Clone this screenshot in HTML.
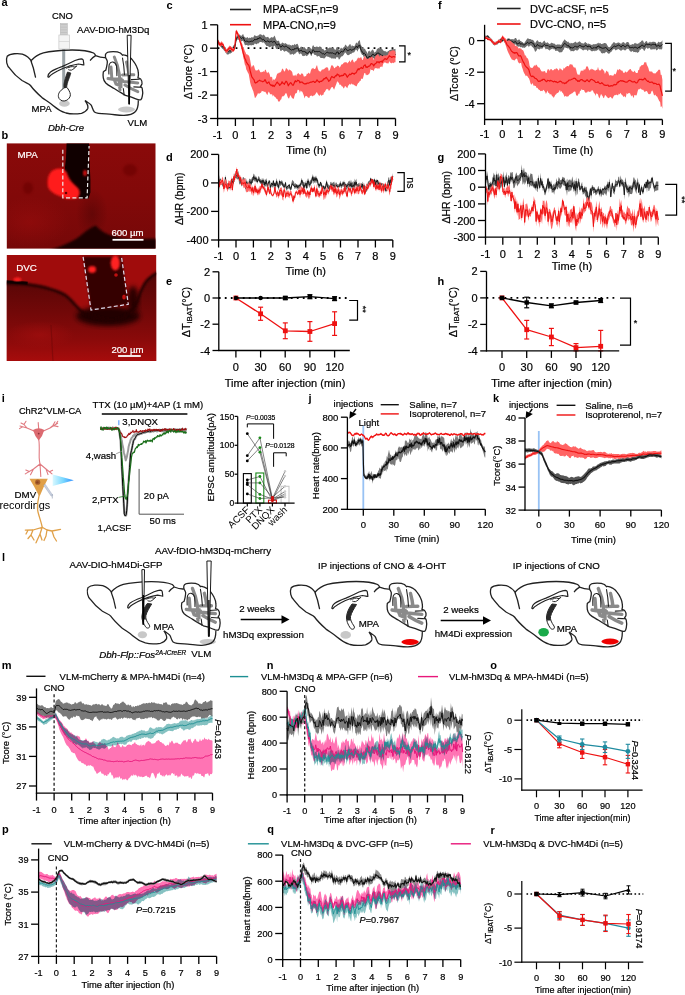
<!DOCTYPE html><html><head><meta charset="utf-8"><style>html,body{margin:0;padding:0;background:#fff;}body{width:685px;height:995px;overflow:hidden;font-family:"Liberation Sans", sans-serif;}svg{position:absolute;left:0;top:0;display:block;}</style></head><body><svg width="685" height="995" viewBox="0 0 685 995" font-family='"Liberation Sans", sans-serif'>
<rect width="685" height="995" fill="#fff"/>
<text x="1.5" y="5.8" font-size="11" font-weight="bold">a</text>
<text x="1.5" y="139" font-size="11" font-weight="bold">b</text>
<text x="166.4" y="8.8" font-size="11" font-weight="bold">c</text>
<text x="165.9" y="161" font-size="11" font-weight="bold">d</text>
<text x="166.1" y="284.9" font-size="11" font-weight="bold">e</text>
<text x="437.9" y="8.8" font-size="11" font-weight="bold">f</text>
<text x="437.6" y="160.6" font-size="11" font-weight="bold">g</text>
<text x="437.4" y="284.9" font-size="11" font-weight="bold">h</text>
<text x="1.7" y="401.8" font-size="11" font-weight="bold">i</text>
<text x="308.5" y="401.6" font-size="11" font-weight="bold">j</text>
<text x="493.1" y="401.8" font-size="11" font-weight="bold">k</text>
<text x="1.9" y="560.8" font-size="11" font-weight="bold">l</text>
<text x="1.8" y="669.2" font-size="11" font-weight="bold">m</text>
<text x="266.8" y="669.2" font-size="11" font-weight="bold">n</text>
<text x="490.3" y="669.4" font-size="11" font-weight="bold">o</text>
<text x="2.1" y="833" font-size="11" font-weight="bold">p</text>
<text x="267.2" y="833" font-size="11" font-weight="bold">q</text>
<text x="490.4" y="833.6" font-size="11" font-weight="bold">r</text>
<line x1="217.6" y1="48.2" x2="395.5" y2="48.2" stroke="#000" stroke-width="1.8" stroke-dasharray="1.8 4.2"/>
<polygon points="217.6,38.8 218.4,41.0 219.2,41.6 219.9,42.7 220.7,43.2 221.5,44.3 222.3,44.9 223.0,45.1 223.8,46.3 224.6,46.8 225.4,48.1 226.1,48.7 226.9,49.7 227.7,49.6 228.5,49.5 229.3,48.7 230.0,49.1 230.8,48.8 231.6,48.3 232.4,47.5 233.1,45.9 233.9,45.0 234.7,45.0 235.5,41.6 236.2,36.9 237.0,35.7 237.8,34.8 238.6,35.6 239.4,34.2 240.1,35.1 240.9,35.7 241.7,35.7 242.5,34.6 243.2,34.0 244.0,36.4 244.8,37.0 245.6,37.7 246.3,37.9 247.1,37.1 247.9,37.6 248.7,38.5 249.5,37.4 250.2,37.9 251.0,37.8 251.8,37.0 252.6,37.5 253.3,37.5 254.1,35.8 254.9,35.0 255.7,36.1 256.4,36.1 257.2,36.3 258.0,35.2 258.8,35.4 259.6,34.2 260.3,34.2 261.1,34.4 261.9,35.0 262.7,35.6 263.4,34.4 264.2,34.9 265.0,36.2 265.8,37.2 266.5,37.3 267.3,37.0 268.1,36.8 268.9,37.9 269.6,38.8 270.4,38.0 271.2,36.9 272.0,37.6 272.8,37.5 273.5,37.2 274.3,35.6 275.1,36.8 275.9,39.2 276.6,40.4 277.4,41.0 278.2,40.7 279.0,40.8 279.7,43.1 280.5,44.1 281.3,43.7 282.1,42.6 282.9,42.7 283.6,43.2 284.4,43.7 285.2,43.0 286.0,43.5 286.7,43.9 287.5,44.5 288.3,44.9 289.1,43.9 289.8,45.4 290.6,44.9 291.4,45.8 292.2,45.1 293.0,44.7 293.7,45.4 294.5,43.8 295.3,45.0 296.1,44.3 296.8,44.1 297.6,43.8 298.4,45.7 299.2,48.2 299.9,48.1 300.7,46.8 301.5,46.6 302.3,47.9 303.1,48.7 303.8,47.1 304.6,47.3 305.4,48.2 306.2,49.5 306.9,49.1 307.7,49.0 308.5,47.8 309.3,46.9 310.0,47.4 310.8,48.5 311.6,49.4 312.4,46.3 313.2,45.0 313.9,46.2 314.7,47.7 315.5,47.0 316.3,46.5 317.0,46.8 317.8,46.8 318.6,47.2 319.4,46.4 320.1,46.3 320.9,47.4 321.7,48.7 322.5,49.1 323.3,48.8 324.0,50.2 324.8,50.5 325.6,49.9 326.4,48.8 327.1,47.7 327.9,48.8 328.7,47.9 329.5,47.6 330.2,47.5 331.0,47.7 331.8,48.2 332.6,48.1 333.4,48.3 334.1,48.5 334.9,49.8 335.7,49.7 336.5,47.2 337.2,47.2 338.0,46.8 338.8,49.8 339.6,49.7 340.3,48.7 341.1,47.5 341.9,48.5 342.7,48.4 343.5,48.0 344.2,47.1 345.0,45.2 345.8,44.6 346.6,46.0 347.3,46.7 348.1,46.6 348.9,45.2 349.7,44.3 350.4,44.1 351.2,46.7 352.0,45.0 352.8,46.0 353.5,46.0 354.3,46.5 355.1,45.0 355.9,43.0 356.7,42.5 357.4,43.8 358.2,41.4 359.0,40.7 359.8,40.1 360.5,44.0 361.3,45.8 362.1,46.9 362.9,47.9 363.6,49.2 364.4,48.6 365.2,49.2 366.0,50.9 366.8,51.7 367.5,54.1 368.3,51.0 369.1,51.6 369.9,50.3 370.6,52.5 371.4,50.7 372.2,49.8 373.0,49.5 373.7,51.1 374.5,52.7 375.3,51.7 376.1,51.6 376.9,49.0 377.6,48.8 378.4,47.8 379.2,48.8 380.0,48.6 380.7,48.3 381.5,48.9 382.3,49.0 383.1,50.4 383.8,50.8 384.6,51.2 385.4,51.2 386.2,51.6 387.0,52.5 387.7,51.2 388.5,51.1 389.3,50.3 390.1,50.1 390.8,49.7 391.6,49.6 392.4,48.4 393.2,49.5 393.9,48.8 394.7,49.3 395.5,48.8 395.5,55.5 394.7,57.2 393.9,58.4 393.2,59.1 392.4,59.3 391.6,60.6 390.8,60.8 390.1,61.0 389.3,59.6 388.5,60.0 387.7,59.9 387.0,60.3 386.2,60.5 385.4,60.3 384.6,61.3 383.8,61.4 383.1,61.1 382.3,60.0 381.5,60.4 380.7,58.8 380.0,58.7 379.2,58.0 378.4,57.2 377.6,57.7 376.9,57.4 376.1,59.3 375.3,59.1 374.5,59.5 373.7,58.3 373.0,58.0 372.2,58.3 371.4,60.8 370.6,62.6 369.9,60.1 369.1,61.6 368.3,61.4 367.5,62.7 366.8,60.5 366.0,58.3 365.2,56.6 364.4,56.4 363.6,56.9 362.9,55.1 362.1,55.1 361.3,53.5 360.5,52.1 359.8,48.2 359.0,48.5 358.2,49.8 357.4,51.7 356.7,50.0 355.9,49.5 355.1,50.8 354.3,52.2 353.5,52.6 352.8,52.8 352.0,52.8 351.2,54.2 350.4,53.7 349.7,54.6 348.9,55.0 348.1,55.3 347.3,55.0 346.6,53.9 345.8,53.0 345.0,52.3 344.2,54.0 343.5,55.1 342.7,56.0 341.9,56.5 341.1,56.6 340.3,58.0 339.6,59.3 338.8,59.5 338.0,56.9 337.2,57.4 336.5,57.0 335.7,58.7 334.9,59.1 334.1,58.1 333.4,58.7 332.6,58.2 331.8,58.8 331.0,58.0 330.2,57.6 329.5,57.5 328.7,56.7 327.9,56.9 327.1,56.2 326.4,56.2 325.6,56.9 324.8,58.2 324.0,58.5 323.3,58.3 322.5,58.1 321.7,58.1 320.9,58.0 320.1,57.4 319.4,56.3 318.6,56.1 317.8,56.2 317.0,56.7 316.3,55.2 315.5,54.9 314.7,55.0 313.9,54.2 313.2,53.0 312.4,53.0 311.6,56.1 310.8,55.6 310.0,53.3 309.3,53.3 308.5,54.6 307.7,55.6 306.9,55.8 306.2,56.3 305.4,55.1 304.6,55.9 303.8,55.8 303.1,56.3 302.3,55.8 301.5,54.0 300.7,53.5 299.9,53.8 299.2,54.4 298.4,52.4 297.6,51.6 296.8,52.2 296.1,52.4 295.3,53.7 294.5,53.8 293.7,54.9 293.0,54.2 292.2,53.8 291.4,54.4 290.6,54.4 289.8,54.5 289.1,52.3 288.3,52.7 287.5,51.7 286.7,51.2 286.0,50.8 285.2,51.2 284.4,51.7 283.6,51.1 282.9,50.0 282.1,50.0 281.3,50.9 280.5,51.1 279.7,49.0 279.0,47.3 278.2,47.6 277.4,49.3 276.6,49.0 275.9,48.4 275.1,46.2 274.3,45.4 273.5,46.7 272.8,47.1 272.0,46.7 271.2,46.3 270.4,47.1 269.6,47.2 268.9,46.9 268.1,46.1 267.3,45.9 266.5,46.0 265.8,45.1 265.0,44.0 264.2,42.8 263.4,42.2 262.7,42.7 261.9,42.3 261.1,41.9 260.3,42.1 259.6,41.9 258.8,43.8 258.0,42.8 257.2,44.1 256.4,44.3 255.7,44.1 254.9,43.3 254.1,44.6 253.3,45.2 252.6,45.0 251.8,45.3 251.0,45.5 250.2,45.1 249.5,45.3 248.7,45.5 247.9,45.7 247.1,45.1 246.3,45.1 245.6,45.3 244.8,44.9 244.0,42.7 243.2,40.9 242.5,40.7 241.7,41.6 240.9,40.9 240.1,39.8 239.4,38.8 238.6,40.1 237.8,39.2 237.0,40.1 236.2,41.3 235.5,46.0 234.7,49.5 233.9,49.3 233.1,50.3 232.4,51.9 231.6,52.7 230.8,53.2 230.0,53.8 229.3,53.6 228.5,54.5 227.7,54.4 226.9,54.6 226.1,53.1 225.4,52.5 224.6,51.0 223.8,50.3 223.0,49.1 222.3,48.8 221.5,47.8 220.7,46.7 219.9,46.0 219.2,45.1 218.4,44.1 217.6,41.8" fill="#6e6e6e"/>
<polyline points="217.6,40.2 218.4,42.3 219.2,43.3 219.9,44.2 220.7,44.7 221.5,45.8 222.3,46.7 223.0,46.9 223.8,48.0 224.6,48.7 225.4,49.9 226.1,50.6 226.9,51.8 227.7,51.4 228.5,51.5 229.3,50.8 230.0,51.3 230.8,51.0 231.6,50.2 232.4,49.5 233.1,48.1 233.9,47.1 234.7,47.1 235.5,43.6 236.2,38.8 237.0,37.7 237.8,36.9 238.6,37.3 239.4,36.1 240.1,37.3 240.9,38.1 241.7,38.5 242.5,37.6 243.2,37.3 244.0,39.3 244.8,41.1 245.6,41.5 246.3,41.2 247.1,41.0 247.9,41.7 248.7,41.9 249.5,41.8 250.2,41.5 251.0,41.5 251.8,41.0 252.6,41.3 253.3,41.0 254.1,40.0 254.9,39.1 255.7,39.7 256.4,39.4 257.2,39.6 258.0,38.0 258.8,38.9 259.6,37.5 260.3,37.8 261.1,38.3 261.9,39.5 262.7,39.8 263.4,39.2 264.2,40.0 265.0,41.2 265.8,41.6 266.5,41.7 267.3,41.1 268.1,40.9 268.9,41.9 269.6,42.0 270.4,41.8 271.2,41.0 272.0,41.8 272.8,42.3 273.5,42.0 274.3,41.0 275.1,42.1 275.9,43.6 276.6,44.7 277.4,45.2 278.2,44.0 279.0,44.2 279.7,45.4 280.5,47.1 281.3,47.0 282.1,45.7 282.9,45.6 283.6,46.5 284.4,46.9 285.2,46.4 286.0,46.1 286.7,46.4 287.5,47.1 288.3,48.1 289.1,47.8 289.8,49.3 290.6,49.4 291.4,50.2 292.2,49.7 293.0,49.5 293.7,50.0 294.5,48.6 295.3,49.0 296.1,48.2 296.8,48.1 297.6,47.8 298.4,49.2 299.2,51.3 299.9,50.7 300.7,50.5 301.5,50.2 302.3,51.6 303.1,52.0 303.8,51.3 304.6,51.6 305.4,51.8 306.2,53.2 306.9,52.9 307.7,53.5 308.5,52.3 309.3,51.4 310.0,51.5 310.8,53.4 311.6,53.9 312.4,50.9 313.2,49.7 313.9,50.7 314.7,51.9 315.5,51.6 316.3,51.3 317.0,52.1 317.8,51.4 318.6,51.5 319.4,51.3 320.1,52.0 320.9,52.5 321.7,53.1 322.5,53.8 323.3,53.5 324.0,54.2 324.8,54.4 325.6,53.4 326.4,52.7 327.1,52.0 327.9,52.6 328.7,52.9 329.5,53.0 330.2,53.0 331.0,52.6 331.8,53.2 332.6,52.9 333.4,53.5 334.1,53.3 334.9,54.4 335.7,54.2 336.5,52.2 337.2,52.3 338.0,51.8 338.8,54.3 339.6,53.4 340.3,52.8 341.1,51.4 341.9,51.7 342.7,52.0 343.5,51.2 344.2,50.1 345.0,48.7 345.8,48.8 346.6,49.5 347.3,50.7 348.1,50.7 348.9,50.0 349.7,49.7 350.4,49.4 351.2,50.4 352.0,49.6 352.8,49.9 353.5,49.3 354.3,49.3 355.1,47.8 355.9,46.4 356.7,46.5 357.4,47.9 358.2,46.0 359.0,45.4 359.8,45.3 360.5,48.7 361.3,50.4 362.1,51.9 362.9,52.4 363.6,54.0 364.4,53.3 365.2,54.0 366.0,55.9 366.8,57.1 367.5,59.1 368.3,56.9 369.1,57.1 369.9,56.0 370.6,57.8 371.4,56.1 372.2,54.6 373.0,54.1 373.7,54.6 374.5,55.9 375.3,54.7 376.1,55.3 376.9,53.1 377.6,53.2 378.4,52.8 379.2,54.0 380.0,54.1 380.7,54.3 381.5,55.4 382.3,55.3 383.1,56.3 383.8,56.5 384.6,56.9 385.4,56.6 386.2,56.6 387.0,56.7 387.7,55.8 388.5,55.8 389.3,55.5 390.1,56.3 390.8,56.2 391.6,56.8 392.4,55.7 393.2,56.0 393.9,55.4 394.7,55.3 395.5,54.0" fill="none" stroke="#111" stroke-width="1.0" stroke-linejoin="round"/>
<polygon points="217.6,38.7 218.4,39.9 219.2,42.7 219.9,41.9 220.7,42.7 221.5,41.1 222.3,42.6 223.0,42.4 223.8,44.7 224.6,46.7 225.4,48.5 226.1,48.8 226.9,49.3 227.7,47.8 228.5,47.3 229.3,45.6 230.0,46.0 230.8,45.9 231.6,47.3 232.4,47.5 233.1,48.3 233.9,48.2 234.7,45.4 235.5,37.6 236.2,29.4 237.0,30.6 237.8,31.9 238.6,34.0 239.4,36.6 240.1,39.5 240.9,40.9 241.7,42.9 242.5,44.6 243.2,48.0 244.0,48.6 244.8,51.1 245.6,52.4 246.3,54.4 247.1,54.0 247.9,55.2 248.7,55.2 249.5,57.1 250.2,60.3 251.0,65.1 251.8,67.5 252.6,65.8 253.3,64.9 254.1,66.0 254.9,69.0 255.7,70.4 256.4,70.6 257.2,70.3 258.0,70.3 258.8,69.0 259.6,70.7 260.3,71.9 261.1,72.4 261.9,71.7 262.7,72.0 263.4,70.9 264.2,72.2 265.0,69.7 265.8,69.7 266.5,72.0 267.3,73.2 268.1,71.8 268.9,72.8 269.6,74.1 270.4,76.9 271.2,77.2 272.0,76.6 272.8,80.9 273.5,78.9 274.3,80.1 275.1,79.1 275.9,78.1 276.6,75.3 277.4,73.6 278.2,73.5 279.0,72.4 279.7,72.8 280.5,72.2 281.3,71.3 282.1,68.7 282.9,68.8 283.6,70.3 284.4,71.7 285.2,70.6 286.0,68.0 286.7,68.5 287.5,69.3 288.3,71.1 289.1,69.3 289.8,70.1 290.6,70.3 291.4,70.9 292.2,72.0 293.0,76.1 293.7,75.2 294.5,75.7 295.3,74.6 296.1,76.4 296.8,74.5 297.6,73.8 298.4,73.0 299.2,74.1 299.9,74.8 300.7,74.7 301.5,73.2 302.3,73.4 303.1,74.2 303.8,76.6 304.6,76.6 305.4,76.3 306.2,75.7 306.9,73.5 307.7,74.1 308.5,72.6 309.3,73.6 310.0,73.7 310.8,70.8 311.6,68.8 312.4,68.6 313.2,67.7 313.9,68.9 314.7,68.9 315.5,68.4 316.3,66.3 317.0,65.1 317.8,68.5 318.6,70.5 319.4,71.2 320.1,71.5 320.9,71.4 321.7,69.8 322.5,69.4 323.3,69.6 324.0,68.9 324.8,68.6 325.6,67.8 326.4,66.9 327.1,68.0 327.9,66.9 328.7,71.0 329.5,70.5 330.2,69.1 331.0,66.2 331.8,65.0 332.6,65.5 333.4,66.5 334.1,68.0 334.9,68.3 335.7,66.7 336.5,66.9 337.2,65.2 338.0,66.3 338.8,65.8 339.6,67.7 340.3,66.8 341.1,64.9 341.9,64.2 342.7,64.2 343.5,63.0 344.2,62.6 345.0,62.2 345.8,62.3 346.6,62.3 347.3,63.6 348.1,62.5 348.9,61.8 349.7,60.2 350.4,62.4 351.2,60.9 352.0,59.8 352.8,59.5 353.5,61.7 354.3,62.7 355.1,60.9 355.9,61.5 356.7,60.1 357.4,58.7 358.2,57.3 359.0,58.5 359.8,57.8 360.5,57.6 361.3,57.3 362.1,59.7 362.9,60.0 363.6,57.4 364.4,56.5 365.2,56.1 366.0,58.9 366.8,58.0 367.5,58.7 368.3,58.9 369.1,58.1 369.9,57.9 370.6,57.3 371.4,56.5 372.2,57.2 373.0,57.6 373.7,60.0 374.5,58.4 375.3,56.6 376.1,55.7 376.9,54.5 377.6,54.6 378.4,54.4 379.2,56.4 380.0,56.3 380.7,55.0 381.5,55.6 382.3,56.6 383.1,55.8 383.8,55.5 384.6,55.4 385.4,55.8 386.2,55.4 387.0,55.0 387.7,54.9 388.5,53.0 389.3,50.9 390.1,51.6 390.8,51.0 391.6,50.7 392.4,50.3 393.2,50.8 393.9,49.8 394.7,50.9 395.5,51.7 395.5,62.2 394.7,62.3 393.9,62.8 393.2,63.2 392.4,62.4 391.6,63.4 390.8,62.8 390.1,62.7 389.3,61.1 388.5,63.4 387.7,63.2 387.0,63.6 386.2,63.0 385.4,62.4 384.6,62.4 383.8,62.8 383.1,64.3 382.3,67.3 381.5,66.4 380.7,66.7 380.0,67.3 379.2,68.9 378.4,68.2 377.6,68.7 376.9,68.0 376.1,68.5 375.3,67.9 374.5,68.8 373.7,71.2 373.0,70.2 372.2,70.0 371.4,70.1 370.6,69.0 369.9,72.5 369.1,73.9 368.3,74.4 367.5,75.2 366.8,74.6 366.0,75.4 365.2,72.9 364.4,73.0 363.6,75.8 362.9,78.4 362.1,79.0 361.3,78.6 360.5,80.9 359.8,81.0 359.0,82.5 358.2,83.1 357.4,84.3 356.7,86.3 355.9,86.3 355.1,85.4 354.3,85.2 353.5,84.4 352.8,84.2 352.0,84.4 351.2,83.2 350.4,85.0 349.7,83.8 348.9,84.9 348.1,85.8 347.3,88.3 346.6,87.5 345.8,86.4 345.0,85.9 344.2,88.0 343.5,88.4 342.7,86.6 341.9,86.5 341.1,85.3 340.3,84.5 339.6,85.0 338.8,82.6 338.0,82.6 337.2,81.1 336.5,83.6 335.7,85.6 334.9,87.6 334.1,89.7 333.4,88.6 332.6,87.1 331.8,87.1 331.0,88.0 330.2,89.6 329.5,90.4 328.7,90.7 327.9,88.7 327.1,89.5 326.4,89.1 325.6,90.4 324.8,92.1 324.0,92.6 323.3,95.1 322.5,94.7 321.7,95.9 320.9,94.7 320.1,94.5 319.4,96.3 318.6,95.1 317.8,94.0 317.0,92.2 316.3,92.5 315.5,93.9 314.7,94.9 313.9,95.8 313.2,95.4 312.4,96.6 311.6,95.5 310.8,95.8 310.0,96.1 309.3,98.1 308.5,97.8 307.7,97.3 306.9,96.0 306.2,96.2 305.4,96.0 304.6,98.4 303.8,95.5 303.1,93.7 302.3,91.8 301.5,91.5 300.7,90.4 299.9,92.9 299.2,90.5 298.4,89.8 297.6,89.8 296.8,93.0 296.1,93.2 295.3,93.6 294.5,95.9 293.7,98.9 293.0,98.5 292.2,98.2 291.4,97.1 290.6,95.0 289.8,96.4 289.1,98.4 288.3,98.3 287.5,96.4 286.7,93.9 286.0,92.8 285.2,94.0 284.4,95.5 283.6,96.1 282.9,96.7 282.1,95.9 281.3,99.2 280.5,99.7 279.7,101.4 279.0,101.4 278.2,101.5 277.4,99.0 276.6,99.0 275.9,97.8 275.1,97.0 274.3,96.6 273.5,95.1 272.8,96.6 272.0,94.1 271.2,94.4 270.4,94.2 269.6,93.3 268.9,91.6 268.1,92.8 267.3,95.2 266.5,93.8 265.8,92.4 265.0,91.6 264.2,91.9 263.4,91.2 262.7,91.2 261.9,90.8 261.1,92.5 260.3,92.9 259.6,93.4 258.8,93.8 258.0,93.1 257.2,94.9 256.4,96.3 255.7,97.6 254.9,98.0 254.1,94.4 253.3,91.3 252.6,89.8 251.8,87.5 251.0,85.7 250.2,82.8 249.5,78.5 248.7,74.0 247.9,72.8 247.1,71.0 246.3,69.5 245.6,65.9 244.8,64.4 244.0,60.2 243.2,57.3 242.5,52.8 241.7,50.2 240.9,46.8 240.1,43.9 239.4,41.2 238.6,38.4 237.8,36.0 237.0,34.5 236.2,32.9 235.5,40.7 234.7,48.1 233.9,51.5 233.1,52.1 232.4,51.4 231.6,51.4 230.8,49.9 230.0,49.9 229.3,49.5 228.5,51.0 227.7,51.8 226.9,53.2 226.1,52.5 225.4,52.2 224.6,50.0 223.8,48.3 223.0,45.8 222.3,46.2 221.5,45.3 220.7,47.0 219.9,45.5 219.2,46.3 218.4,43.7 217.6,42.9" fill="#ff6464"/>
<polyline points="217.6,40.6 218.4,41.8 219.2,44.6 219.9,43.8 220.7,45.0 221.5,43.3 222.3,44.5 223.0,44.4 223.8,46.8 224.6,48.6 225.4,50.4 226.1,50.7 226.9,51.0 227.7,49.7 228.5,49.1 229.3,47.8 230.0,48.2 230.8,48.0 231.6,49.5 232.4,49.6 233.1,50.3 233.9,50.1 234.7,47.0 235.5,39.3 236.2,31.1 237.0,32.5 237.8,33.9 238.6,36.2 239.4,38.9 240.1,41.5 240.9,43.7 241.7,46.4 242.5,49.0 243.2,53.1 244.0,55.2 244.8,58.3 245.6,59.5 246.3,62.2 247.1,63.1 247.9,64.5 248.7,65.0 249.5,67.6 250.2,70.9 251.0,74.0 251.8,76.9 252.6,77.8 253.3,78.8 254.1,79.8 254.9,82.6 255.7,83.1 256.4,82.4 257.2,82.2 258.0,81.1 258.8,80.7 259.6,80.2 260.3,80.8 261.1,81.0 261.9,81.3 262.7,81.8 263.4,81.5 264.2,81.0 265.0,79.6 265.8,81.1 266.5,82.7 267.3,83.4 268.1,82.4 268.9,81.9 269.6,83.8 270.4,84.7 271.2,85.6 272.0,84.8 272.8,86.3 273.5,85.3 274.3,86.5 275.1,85.2 275.9,84.0 276.6,82.7 277.4,82.1 278.2,83.5 279.0,83.9 279.7,85.5 280.5,84.3 281.3,83.8 282.1,81.7 282.9,83.2 283.6,83.3 284.4,84.3 285.2,82.6 286.0,81.2 286.7,81.7 287.5,83.4 288.3,85.8 289.1,84.4 289.8,83.5 290.6,82.6 291.4,83.3 292.2,84.7 293.0,85.3 293.7,84.4 294.5,82.2 295.3,80.7 296.1,81.8 296.8,81.5 297.6,80.2 298.4,80.5 299.2,81.1 299.9,82.8 300.7,82.0 301.5,82.2 302.3,82.2 303.1,83.2 303.8,83.4 304.6,84.0 305.4,83.7 306.2,83.9 306.9,83.1 307.7,83.2 308.5,83.2 309.3,82.8 310.0,82.4 310.8,82.2 311.6,82.2 312.4,81.7 313.2,81.3 313.9,81.6 314.7,82.5 315.5,82.1 316.3,81.2 317.0,79.8 317.8,81.0 318.6,81.5 319.4,82.4 320.1,81.3 320.9,81.3 321.7,81.3 322.5,80.1 323.3,80.1 324.0,78.6 324.8,78.9 325.6,77.8 326.4,77.4 327.1,78.7 327.9,79.4 328.7,81.4 329.5,80.6 330.2,80.0 331.0,77.8 331.8,76.5 332.6,77.1 333.4,77.3 334.1,77.9 334.9,76.7 335.7,75.7 336.5,75.8 337.2,74.0 338.0,74.9 338.8,74.8 339.6,76.7 340.3,76.1 341.1,75.3 341.9,76.0 342.7,75.3 343.5,75.5 344.2,73.8 345.0,73.7 345.8,74.4 346.6,75.9 347.3,77.3 348.1,76.0 348.9,75.2 349.7,74.1 350.4,74.6 351.2,74.2 352.0,73.2 352.8,73.4 353.5,73.6 354.3,74.2 355.1,73.2 355.9,73.0 356.7,71.6 357.4,70.0 358.2,68.7 359.0,69.8 359.8,68.5 360.5,68.2 361.3,67.4 362.1,68.5 362.9,68.4 363.6,66.1 364.4,65.4 365.2,64.8 366.0,67.4 366.8,66.8 367.5,67.3 368.3,66.4 369.1,66.2 369.9,65.8 370.6,64.2 371.4,63.6 372.2,64.0 373.0,64.4 373.7,65.9 374.5,64.5 375.3,63.6 376.1,63.2 376.9,61.7 377.6,62.2 378.4,61.8 379.2,62.8 380.0,61.7 380.7,61.6 381.5,61.2 382.3,62.3 383.1,60.3 383.8,59.9 384.6,58.9 385.4,58.7 386.2,59.4 387.0,59.1 387.7,58.2 388.5,57.1 389.3,55.7 390.1,56.5 390.8,56.5 391.6,57.3 392.4,57.1 393.2,56.6 393.9,56.7 394.7,56.9 395.5,57.3" fill="none" stroke="#ee1111" stroke-width="1.2" stroke-linejoin="round"/>
<line x1="217.6" y1="24.8" x2="217.6" y2="119.2" stroke="#000" stroke-width="1.3"/>
<line x1="216.9" y1="118.5" x2="395.5" y2="118.5" stroke="#000" stroke-width="1.3"/>
<line x1="210.1" y1="24.8" x2="217.6" y2="24.8" stroke="#000" stroke-width="1.3"/>
<text x="207.6" y="28.7" font-size="11" text-anchor="end" fill="#000" stroke="#000" stroke-width="0.2">1</text>
<line x1="210.1" y1="48.2" x2="217.6" y2="48.2" stroke="#000" stroke-width="1.3"/>
<text x="207.6" y="52.2" font-size="11" text-anchor="end" fill="#000" stroke="#000" stroke-width="0.2">0</text>
<line x1="210.1" y1="71.6" x2="217.6" y2="71.6" stroke="#000" stroke-width="1.3"/>
<text x="207.6" y="75.6" font-size="11" text-anchor="end" fill="#000" stroke="#000" stroke-width="0.2">-1</text>
<line x1="210.1" y1="95.1" x2="217.6" y2="95.1" stroke="#000" stroke-width="1.3"/>
<text x="207.6" y="99.0" font-size="11" text-anchor="end" fill="#000" stroke="#000" stroke-width="0.2">-2</text>
<line x1="210.1" y1="118.5" x2="217.6" y2="118.5" stroke="#000" stroke-width="1.3"/>
<text x="207.6" y="122.5" font-size="11" text-anchor="end" fill="#000" stroke="#000" stroke-width="0.2">-3</text>
<line x1="217.6" y1="118.5" x2="217.6" y2="126.0" stroke="#000" stroke-width="1.3"/>
<text x="217.6" y="138.7" font-size="11" text-anchor="middle" fill="#000" stroke="#000" stroke-width="0.2">-1</text>
<line x1="235.4" y1="118.5" x2="235.4" y2="126.0" stroke="#000" stroke-width="1.3"/>
<text x="235.4" y="138.7" font-size="11" text-anchor="middle" fill="#000" stroke="#000" stroke-width="0.2">0</text>
<line x1="253.2" y1="118.5" x2="253.2" y2="126.0" stroke="#000" stroke-width="1.3"/>
<text x="253.2" y="138.7" font-size="11" text-anchor="middle" fill="#000" stroke="#000" stroke-width="0.2">1</text>
<line x1="271.0" y1="118.5" x2="271.0" y2="126.0" stroke="#000" stroke-width="1.3"/>
<text x="271.0" y="138.7" font-size="11" text-anchor="middle" fill="#000" stroke="#000" stroke-width="0.2">2</text>
<line x1="288.8" y1="118.5" x2="288.8" y2="126.0" stroke="#000" stroke-width="1.3"/>
<text x="288.8" y="138.7" font-size="11" text-anchor="middle" fill="#000" stroke="#000" stroke-width="0.2">3</text>
<line x1="306.5" y1="118.5" x2="306.5" y2="126.0" stroke="#000" stroke-width="1.3"/>
<text x="306.5" y="138.7" font-size="11" text-anchor="middle" fill="#000" stroke="#000" stroke-width="0.2">4</text>
<line x1="324.3" y1="118.5" x2="324.3" y2="126.0" stroke="#000" stroke-width="1.3"/>
<text x="324.3" y="138.7" font-size="11" text-anchor="middle" fill="#000" stroke="#000" stroke-width="0.2">5</text>
<line x1="342.1" y1="118.5" x2="342.1" y2="126.0" stroke="#000" stroke-width="1.3"/>
<text x="342.1" y="138.7" font-size="11" text-anchor="middle" fill="#000" stroke="#000" stroke-width="0.2">6</text>
<line x1="359.9" y1="118.5" x2="359.9" y2="126.0" stroke="#000" stroke-width="1.3"/>
<text x="359.9" y="138.7" font-size="11" text-anchor="middle" fill="#000" stroke="#000" stroke-width="0.2">7</text>
<line x1="377.7" y1="118.5" x2="377.7" y2="126.0" stroke="#000" stroke-width="1.3"/>
<text x="377.7" y="138.7" font-size="11" text-anchor="middle" fill="#000" stroke="#000" stroke-width="0.2">8</text>
<line x1="395.5" y1="118.5" x2="395.5" y2="126.0" stroke="#000" stroke-width="1.3"/>
<text x="395.5" y="138.7" font-size="11" text-anchor="middle" fill="#000" stroke="#000" stroke-width="0.2">9</text>
<text x="306.5" y="154.0" font-size="11" text-anchor="middle" fill="#000" stroke="#000" stroke-width="0.2">Time (h)</text>
<text transform="translate(191.6,71.7) rotate(-90)" font-size="10.6" text-anchor="middle" fill="#000" stroke="#000" stroke-width="0.2">ΔTcore (°C)</text>
<line x1="230.0" y1="9.5" x2="251.0" y2="9.5" stroke="#222" stroke-width="1.6"/>
<text x="263.0" y="12.5" font-size="11" text-anchor="start" fill="#000" stroke="#000" stroke-width="0.2">MPA-aCSF,n=9</text>
<line x1="230.0" y1="24.7" x2="251.0" y2="24.7" stroke="#ee1111" stroke-width="1.6"/>
<text x="263.0" y="28.7" font-size="11" text-anchor="start" fill="#000" stroke="#000" stroke-width="0.2">MPA-CNO,n=9</text>
<polyline points="399.0,45.9 405.0,45.9 405.0,61.9 399.0,61.9" fill="none" stroke="#000" stroke-width="1.2"/>
<text x="409.3" y="57.5" font-size="9" text-anchor="middle" fill="#000" stroke="#000" stroke-width="0.2">*</text>
<polygon points="484.6,33.8 485.4,36.1 486.2,35.8 486.9,35.4 487.7,35.0 488.5,35.8 489.3,36.7 490.0,37.4 490.8,38.0 491.6,39.0 492.4,39.7 493.1,41.2 493.9,41.5 494.7,42.1 495.5,41.8 496.2,41.8 497.0,41.1 497.8,41.5 498.6,40.1 499.4,39.5 500.1,38.6 500.9,38.4 501.7,39.0 502.5,38.8 503.2,37.7 504.0,38.4 504.8,39.8 505.6,41.6 506.3,40.2 507.1,39.5 507.9,38.1 508.7,38.6 509.4,38.6 510.2,39.1 511.0,39.5 511.8,38.9 512.6,39.3 513.3,39.3 514.1,39.4 514.9,38.0 515.7,37.9 516.4,38.6 517.2,40.6 518.0,39.9 518.8,39.4 519.5,39.4 520.3,41.0 521.1,41.0 521.9,42.0 522.6,41.9 523.4,43.1 524.2,43.3 525.0,42.0 525.8,40.8 526.5,39.7 527.3,38.4 528.1,38.3 528.9,39.1 529.6,38.9 530.4,38.9 531.2,39.4 532.0,39.9 532.7,39.8 533.5,40.6 534.3,41.7 535.1,43.6 535.8,42.0 536.6,41.1 537.4,39.9 538.2,41.2 538.9,41.9 539.7,42.1 540.5,41.8 541.3,42.4 542.1,43.2 542.8,42.0 543.6,41.2 544.4,40.5 545.2,42.1 545.9,43.1 546.7,42.7 547.5,42.3 548.3,43.1 549.0,43.7 549.8,43.9 550.6,43.5 551.4,42.6 552.1,43.2 552.9,43.0 553.7,43.8 554.5,43.5 555.3,44.8 556.0,44.5 556.8,44.9 557.6,44.3 558.4,44.4 559.1,44.5 559.9,44.4 560.7,45.1 561.5,44.5 562.2,43.1 563.0,41.5 563.8,40.5 564.6,39.3 565.3,40.1 566.1,41.0 566.9,41.2 567.7,42.3 568.5,41.6 569.2,43.6 570.0,42.6 570.8,43.7 571.6,42.7 572.3,43.4 573.1,42.8 573.9,42.9 574.7,42.0 575.4,41.4 576.2,42.5 577.0,42.7 577.8,42.5 578.5,42.1 579.3,41.2 580.1,41.7 580.9,42.5 581.7,43.3 582.4,43.3 583.2,43.4 584.0,43.4 584.8,42.3 585.5,41.9 586.3,43.0 587.1,43.2 587.9,44.4 588.6,43.3 589.4,43.9 590.2,43.9 591.0,45.1 591.7,44.7 592.5,44.7 593.3,44.3 594.1,44.0 594.9,44.4 595.6,43.9 596.4,44.3 597.2,43.1 598.0,43.8 598.7,42.6 599.5,43.5 600.3,42.9 601.1,44.0 601.8,44.0 602.6,43.8 603.4,43.4 604.2,42.9 604.9,43.1 605.7,43.2 606.5,43.8 607.3,45.2 608.1,46.8 608.8,46.9 609.6,47.3 610.4,46.6 611.2,45.5 611.9,44.0 612.7,43.6 613.5,42.3 614.3,42.1 615.0,43.2 615.8,43.2 616.6,43.2 617.4,42.8 618.1,42.6 618.9,42.5 619.7,43.0 620.5,43.4 621.2,43.9 622.0,42.5 622.8,42.5 623.6,41.9 624.4,42.8 625.1,43.7 625.9,43.2 626.7,42.0 627.5,42.0 628.2,42.1 629.0,43.0 629.8,45.2 630.6,44.8 631.3,44.8 632.1,44.3 632.9,44.1 633.7,44.5 634.4,43.2 635.2,42.8 636.0,43.7 636.8,43.4 637.6,44.0 638.3,43.3 639.1,43.5 639.9,42.0 640.7,42.1 641.4,40.8 642.2,40.4 643.0,40.5 643.8,42.4 644.5,43.2 645.3,41.7 646.1,41.2 646.9,41.1 647.6,43.0 648.4,42.8 649.2,42.6 650.0,41.5 650.8,42.5 651.5,42.2 652.3,41.7 653.1,42.0 653.9,41.6 654.6,42.1 655.4,41.9 656.2,43.6 657.0,43.7 657.7,42.7 658.5,41.6 659.3,42.6 660.1,41.9 660.8,42.3 661.6,41.4 662.4,40.3 662.4,48.2 661.6,49.6 660.8,49.4 660.1,49.0 659.3,49.6 658.5,48.4 657.7,49.4 657.0,50.2 656.2,50.3 655.4,48.5 654.6,49.6 653.9,48.9 653.1,49.4 652.3,49.3 651.5,49.5 650.8,49.7 650.0,48.5 649.2,47.8 648.4,48.6 647.6,48.9 646.9,47.5 646.1,48.1 645.3,49.3 644.5,51.0 643.8,50.6 643.0,49.0 642.2,48.8 641.4,48.5 640.7,49.9 639.9,49.3 639.1,51.8 638.3,52.2 637.6,52.9 636.8,51.9 636.0,52.6 635.2,51.9 634.4,51.9 633.7,52.2 632.9,51.2 632.1,50.9 631.3,52.0 630.6,51.5 629.8,51.1 629.0,49.6 628.2,48.8 627.5,48.8 626.7,48.9 625.9,50.0 625.1,50.6 624.4,50.2 623.6,49.5 622.8,49.8 622.0,49.7 621.2,51.0 620.5,50.4 619.7,50.0 618.9,49.2 618.1,49.1 617.4,49.4 616.6,49.8 615.8,50.4 615.0,49.8 614.3,48.8 613.5,49.2 612.7,49.7 611.9,50.9 611.2,52.1 610.4,52.2 609.6,53.6 608.8,53.8 608.1,53.6 607.3,52.7 606.5,51.8 605.7,52.2 604.9,52.7 604.2,53.5 603.4,52.9 602.6,53.4 601.8,53.2 601.1,52.7 600.3,50.9 599.5,50.8 598.7,48.8 598.0,50.6 597.2,49.8 596.4,50.9 595.6,50.4 594.9,51.5 594.1,50.6 593.3,51.0 592.5,51.2 591.7,51.2 591.0,50.9 590.2,49.9 589.4,49.8 588.6,49.6 587.9,51.2 587.1,50.3 586.3,49.6 585.5,49.8 584.8,49.6 584.0,50.0 583.2,50.6 582.4,50.1 581.7,49.3 580.9,48.9 580.1,48.2 579.3,48.2 578.5,49.6 577.8,50.5 577.0,50.3 576.2,50.4 575.4,49.8 574.7,50.5 573.9,51.3 573.1,51.3 572.3,51.1 571.6,50.9 570.8,51.5 570.0,49.7 569.2,49.5 568.5,48.0 567.7,48.4 566.9,48.1 566.1,48.0 565.3,47.5 564.6,47.3 563.8,49.5 563.0,50.3 562.2,52.0 561.5,52.3 560.7,52.3 559.9,52.4 559.1,52.2 558.4,51.4 557.6,50.7 556.8,50.7 556.0,50.8 555.3,50.9 554.5,49.0 553.7,49.4 552.9,48.3 552.1,49.3 551.4,48.9 550.6,49.5 549.8,50.6 549.0,50.2 548.3,49.4 547.5,49.1 546.7,48.7 545.9,49.5 545.2,48.4 544.4,46.7 543.6,47.1 542.8,48.0 542.1,49.0 541.3,48.6 540.5,48.6 539.7,49.4 538.9,49.2 538.2,49.1 537.4,48.5 536.6,50.6 535.8,51.2 535.1,52.1 534.3,49.4 533.5,48.1 532.7,47.3 532.0,46.8 531.2,45.5 530.4,45.5 529.6,45.8 528.9,47.2 528.1,45.7 527.3,45.6 526.5,46.3 525.8,47.1 525.0,47.6 524.2,47.9 523.4,47.6 522.6,47.8 521.9,47.4 521.1,46.8 520.3,47.6 519.5,46.3 518.8,46.7 518.0,46.4 517.2,46.4 516.4,45.4 515.7,44.4 514.9,44.2 514.1,45.5 513.3,45.1 512.6,45.1 511.8,44.1 511.0,43.9 510.2,43.3 509.4,42.5 508.7,41.9 507.9,41.3 507.1,42.3 506.3,43.3 505.6,44.5 504.8,42.6 504.0,41.3 503.2,40.9 502.5,42.1 501.7,42.3 500.9,41.6 500.1,41.7 499.4,42.7 498.6,43.0 497.8,44.5 497.0,44.3 496.2,45.0 495.5,45.0 494.7,45.4 493.9,45.0 493.1,44.7 492.4,43.0 491.6,42.4 490.8,41.3 490.0,40.5 489.3,39.9 488.5,38.8 487.7,38.1 486.9,38.7 486.2,39.0 485.4,39.4 484.6,37.5" fill="#6e6e6e"/>
<polyline points="484.6,35.5 485.4,37.4 486.2,36.8 486.9,36.5 487.7,36.0 488.5,37.1 489.3,38.2 490.0,38.9 490.8,39.4 491.6,40.4 492.4,41.0 493.1,42.6 493.9,42.9 494.7,43.5 495.5,43.2 496.2,43.3 497.0,42.7 497.8,43.0 498.6,41.8 499.4,41.3 500.1,40.2 500.9,40.1 501.7,40.7 502.5,40.5 503.2,39.7 504.0,40.0 504.8,41.3 505.6,43.1 506.3,41.8 507.1,40.9 507.9,39.6 508.7,39.8 509.4,40.0 510.2,40.5 511.0,41.2 511.8,41.0 512.6,41.9 513.3,42.2 514.1,42.7 514.9,41.4 515.7,41.8 516.4,42.7 517.2,44.1 518.0,43.5 518.8,43.3 519.5,42.5 520.3,44.2 521.1,43.7 521.9,44.1 522.6,44.1 523.4,44.8 524.2,45.0 525.0,44.4 525.8,44.0 526.5,43.0 527.3,42.4 528.1,42.6 528.9,43.7 529.6,43.1 530.4,42.6 531.2,42.2 532.0,43.1 532.7,43.0 533.5,43.9 534.3,45.1 535.1,47.1 535.8,46.4 536.6,46.0 537.4,44.4 538.2,45.3 538.9,45.6 539.7,46.1 540.5,46.1 541.3,46.3 542.1,46.9 542.8,45.9 543.6,45.0 544.4,44.3 545.2,45.2 545.9,45.7 546.7,45.4 547.5,45.5 548.3,45.7 549.0,46.4 549.8,47.0 550.6,46.8 551.4,46.3 552.1,46.5 552.9,46.1 553.7,47.2 554.5,46.9 555.3,48.3 556.0,48.1 556.8,47.9 557.6,47.5 558.4,47.6 559.1,47.7 559.9,47.7 560.7,47.9 561.5,47.5 562.2,46.7 563.0,45.2 563.8,44.5 564.6,43.3 565.3,43.8 566.1,44.5 566.9,45.1 567.7,46.0 568.5,45.4 569.2,47.1 570.0,46.6 570.8,48.3 571.6,47.5 572.3,48.0 573.1,47.7 573.9,47.3 574.7,46.6 575.4,45.9 576.2,46.9 577.0,47.1 577.8,47.0 578.5,46.1 579.3,45.5 580.1,45.5 580.9,45.9 581.7,46.4 582.4,46.6 583.2,46.8 584.0,46.8 584.8,46.0 585.5,45.2 586.3,45.8 587.1,46.0 587.9,47.1 588.6,45.9 589.4,46.4 590.2,46.1 591.0,47.9 591.7,48.3 592.5,48.4 593.3,48.0 594.1,47.4 594.9,48.2 595.6,47.6 596.4,48.2 597.2,46.4 598.0,46.8 598.7,45.7 599.5,47.3 600.3,46.9 601.1,48.1 601.8,47.8 602.6,48.3 603.4,48.2 604.2,48.0 604.9,47.8 605.7,47.5 606.5,47.9 607.3,49.2 608.1,50.2 608.8,50.4 609.6,50.6 610.4,49.5 611.2,49.2 611.9,47.9 612.7,47.4 613.5,46.6 614.3,46.0 615.0,46.7 615.8,46.5 616.6,46.1 617.4,45.7 618.1,45.1 618.9,45.1 619.7,45.7 620.5,46.2 621.2,47.2 622.0,45.7 622.8,45.4 623.6,45.4 624.4,46.5 625.1,46.9 625.9,46.6 626.7,45.4 627.5,45.2 628.2,45.5 629.0,46.2 629.8,47.8 630.6,47.7 631.3,47.8 632.1,47.0 632.9,47.7 633.7,48.1 634.4,47.2 635.2,47.0 636.0,47.8 636.8,47.8 637.6,48.5 638.3,47.3 639.1,48.0 639.9,46.2 640.7,46.6 641.4,45.2 642.2,45.2 643.0,45.3 643.8,46.7 644.5,46.6 645.3,45.1 646.1,44.1 646.9,44.0 647.6,44.8 648.4,44.6 649.2,44.5 650.0,44.3 650.8,45.3 651.5,44.9 652.3,44.4 653.1,44.7 653.9,44.1 654.6,44.5 655.4,44.0 656.2,46.2 657.0,46.2 657.7,45.7 658.5,45.0 659.3,46.3 660.1,46.0 660.8,46.0 661.6,45.3 662.4,44.4" fill="none" stroke="#111" stroke-width="1.0" stroke-linejoin="round"/>
<polygon points="484.6,36.0 485.4,36.2 486.2,36.7 486.9,36.5 487.7,37.5 488.5,37.8 489.3,37.9 490.0,37.9 490.8,38.3 491.6,39.4 492.4,40.1 493.1,41.3 493.9,41.6 494.7,42.4 495.5,42.1 496.2,41.7 497.0,40.9 497.8,40.5 498.6,39.3 499.4,40.1 500.1,40.3 500.9,40.5 501.7,37.1 502.5,35.3 503.2,36.1 504.0,37.2 504.8,37.7 505.6,38.6 506.3,39.1 507.1,40.8 507.9,40.7 508.7,40.6 509.4,40.6 510.2,40.6 511.0,41.3 511.8,42.1 512.6,43.1 513.3,43.4 514.1,43.8 514.9,45.3 515.7,46.0 516.4,45.9 517.2,46.5 518.0,47.2 518.8,48.8 519.5,48.1 520.3,48.6 521.1,48.6 521.9,49.8 522.6,50.0 523.4,50.8 524.2,52.9 525.0,55.8 525.8,55.2 526.5,57.6 527.3,57.9 528.1,58.9 528.9,61.5 529.6,65.8 530.4,67.4 531.2,67.8 532.0,68.0 532.7,67.7 533.5,66.6 534.3,65.1 535.1,66.3 535.8,64.7 536.6,64.7 537.4,66.3 538.2,67.6 538.9,67.2 539.7,67.9 540.5,69.7 541.3,71.0 542.1,71.7 542.8,71.2 543.6,71.6 544.4,71.1 545.2,71.6 545.9,73.2 546.7,72.8 547.5,69.6 548.3,69.3 549.0,69.6 549.8,71.1 550.6,69.1 551.4,69.1 552.1,70.1 552.9,70.5 553.7,69.9 554.5,68.9 555.3,69.5 556.0,68.2 556.8,68.6 557.6,69.1 558.4,70.6 559.1,70.1 559.9,67.8 560.7,69.2 561.5,69.2 562.2,70.6 563.0,70.1 563.8,67.6 564.6,68.8 565.3,67.2 566.1,67.0 566.9,66.0 567.7,65.9 568.5,66.4 569.2,65.5 570.0,64.0 570.8,64.4 571.6,64.5 572.3,64.5 573.1,66.2 573.9,67.6 574.7,67.4 575.4,67.6 576.2,69.7 577.0,73.2 577.8,74.7 578.5,74.4 579.3,75.2 580.1,72.9 580.9,70.5 581.7,70.8 582.4,70.4 583.2,71.1 584.0,68.7 584.8,70.0 585.5,69.0 586.3,66.4 587.1,66.2 587.9,66.8 588.6,68.7 589.4,70.7 590.2,69.0 591.0,70.0 591.7,68.5 592.5,69.3 593.3,69.8 594.1,69.7 594.9,70.7 595.6,70.6 596.4,69.7 597.2,69.9 598.0,66.7 598.7,69.6 599.5,70.6 600.3,70.6 601.1,70.1 601.8,68.5 602.6,69.2 603.4,70.2 604.2,71.3 604.9,73.9 605.7,72.2 606.5,70.6 607.3,71.7 608.1,71.4 608.8,74.2 609.6,75.8 610.4,74.9 611.2,75.4 611.9,75.2 612.7,75.8 613.5,75.4 614.3,73.5 615.0,74.6 615.8,74.0 616.6,71.9 617.4,69.1 618.1,70.5 618.9,69.5 619.7,69.1 620.5,69.7 621.2,70.8 622.0,70.3 622.8,71.6 623.6,72.9 624.4,73.0 625.1,71.3 625.9,72.1 626.7,72.4 627.5,71.8 628.2,70.5 629.0,70.2 629.8,69.0 630.6,68.9 631.3,70.3 632.1,71.6 632.9,71.6 633.7,72.2 634.4,70.5 635.2,71.7 636.0,73.0 636.8,73.0 637.6,72.9 638.3,70.1 639.1,70.1 639.9,66.5 640.7,66.6 641.4,65.3 642.2,65.1 643.0,65.2 643.8,64.0 644.5,62.0 645.3,62.6 646.1,62.0 646.9,65.0 647.6,66.2 648.4,68.1 649.2,71.2 650.0,71.4 650.8,71.5 651.5,71.4 652.3,71.8 653.1,73.6 653.9,73.0 654.6,73.5 655.4,73.5 656.2,72.5 657.0,71.7 657.7,71.1 658.5,69.8 659.3,69.8 660.1,69.7 660.8,75.0 661.6,74.8 662.4,79.9 662.4,108.8 661.6,105.9 660.8,107.2 660.1,101.7 659.3,101.3 658.5,99.4 657.7,97.8 657.0,96.3 656.2,96.2 655.4,94.6 654.6,95.4 653.9,95.0 653.1,92.5 652.3,90.6 651.5,91.3 650.8,93.6 650.0,94.1 649.2,94.3 648.4,94.1 647.6,92.6 646.9,90.9 646.1,91.2 645.3,91.5 644.5,92.0 643.8,90.8 643.0,89.5 642.2,90.1 641.4,89.2 640.7,88.5 639.9,88.7 639.1,89.6 638.3,89.2 637.6,91.4 636.8,94.7 636.0,95.7 635.2,95.1 634.4,94.9 633.7,98.2 632.9,96.6 632.1,94.9 631.3,96.5 630.6,94.8 629.8,92.8 629.0,93.5 628.2,93.1 627.5,94.3 626.7,92.9 625.9,96.8 625.1,97.4 624.4,95.7 623.6,97.3 622.8,95.5 622.0,95.3 621.2,93.9 620.5,92.8 619.7,94.4 618.9,93.4 618.1,95.2 617.4,95.3 616.6,94.6 615.8,95.3 615.0,94.8 614.3,95.5 613.5,96.4 612.7,98.5 611.9,98.6 611.2,97.6 610.4,96.8 609.6,97.6 608.8,98.1 608.1,98.3 607.3,97.2 606.5,96.6 605.7,95.3 604.9,95.2 604.2,97.5 603.4,98.3 602.6,96.0 601.8,95.3 601.1,93.8 600.3,96.1 599.5,98.5 598.7,96.9 598.0,94.4 597.2,93.8 596.4,93.2 595.6,96.0 594.9,93.5 594.1,93.6 593.3,91.5 592.5,90.2 591.7,90.3 591.0,91.7 590.2,91.4 589.4,91.9 588.6,91.5 587.9,91.2 587.1,92.4 586.3,92.6 585.5,92.7 584.8,92.0 584.0,90.0 583.2,89.9 582.4,90.1 581.7,88.9 580.9,90.8 580.1,90.7 579.3,93.9 578.5,93.6 577.8,95.7 577.0,95.4 576.2,95.5 575.4,91.8 574.7,91.4 573.9,91.8 573.1,92.4 572.3,93.3 571.6,93.4 570.8,94.1 570.0,94.6 569.2,94.9 568.5,96.3 567.7,96.5 566.9,96.6 566.1,96.4 565.3,95.7 564.6,97.0 563.8,94.9 563.0,93.3 562.2,92.5 561.5,90.9 560.7,92.0 559.9,89.8 559.1,91.6 558.4,92.6 557.6,92.9 556.8,93.3 556.0,94.6 555.3,94.8 554.5,96.4 553.7,98.1 552.9,96.3 552.1,96.5 551.4,94.5 550.6,94.3 549.8,94.5 549.0,92.8 548.3,93.0 547.5,90.5 546.7,92.6 545.9,94.0 545.2,91.9 544.4,91.0 543.6,89.8 542.8,90.4 542.1,91.2 541.3,90.8 540.5,91.3 539.7,89.9 538.9,89.8 538.2,89.1 537.4,87.8 536.6,87.9 535.8,86.0 535.1,86.0 534.3,85.6 533.5,85.7 532.7,83.1 532.0,84.1 531.2,84.7 530.4,82.9 529.6,80.0 528.9,78.2 528.1,77.6 527.3,76.1 526.5,75.4 525.8,76.2 525.0,74.5 524.2,73.3 523.4,71.6 522.6,68.8 521.9,66.9 521.1,63.1 520.3,63.0 519.5,63.5 518.8,62.9 518.0,61.8 517.2,59.0 516.4,58.6 515.7,58.9 514.9,60.2 514.1,60.5 513.3,59.9 512.6,59.8 511.8,59.5 511.0,58.1 510.2,56.8 509.4,54.8 508.7,53.5 507.9,51.7 507.1,49.8 506.3,47.1 505.6,45.0 504.8,42.8 504.0,41.2 503.2,39.8 502.5,38.3 501.7,39.9 500.9,43.4 500.1,43.1 499.4,43.1 498.6,42.1 497.8,43.3 497.0,43.9 496.2,44.4 495.5,44.9 494.7,45.2 493.9,44.4 493.1,44.2 492.4,43.0 491.6,42.4 490.8,41.2 490.0,40.8 489.3,40.5 488.5,40.3 487.7,40.2 486.9,38.9 486.2,39.0 485.4,38.6 484.6,38.4" fill="#ff6464"/>
<polyline points="484.6,37.3 485.4,37.8 486.2,38.5 486.9,38.2 487.7,39.3 488.5,39.3 489.3,39.3 490.0,39.5 490.8,40.2 491.6,41.2 492.4,41.7 493.1,42.8 493.9,43.2 494.7,44.0 495.5,43.8 496.2,43.3 497.0,42.6 497.8,42.0 498.6,41.0 499.4,41.8 500.1,42.1 500.9,42.2 501.7,38.8 502.5,37.0 503.2,38.1 504.0,39.4 504.8,40.4 505.6,41.7 506.3,43.0 507.1,45.0 507.9,45.6 508.7,46.7 509.4,47.3 510.2,48.8 511.0,50.2 511.8,51.5 512.6,51.8 513.3,52.8 514.1,52.5 514.9,53.4 515.7,52.6 516.4,52.6 517.2,53.1 518.0,54.6 518.8,55.8 519.5,56.0 520.3,55.6 521.1,56.6 521.9,58.7 522.6,60.4 523.4,62.2 524.2,63.4 525.0,65.4 525.8,66.3 526.5,67.2 527.3,67.8 528.1,68.7 528.9,69.9 529.6,72.5 530.4,75.0 531.2,76.3 532.0,76.6 532.7,76.0 533.5,76.7 534.3,77.3 535.1,78.4 535.8,78.5 536.6,79.1 537.4,79.9 538.2,81.2 538.9,81.4 539.7,81.0 540.5,81.1 541.3,80.2 542.1,80.4 542.8,79.4 543.6,79.3 544.4,79.3 545.2,80.5 545.9,81.2 546.7,81.7 547.5,80.4 548.3,80.5 549.0,80.6 549.8,81.2 550.6,80.3 551.4,80.7 552.1,81.1 552.9,81.5 553.7,81.9 554.5,81.2 555.3,81.8 556.0,81.6 556.8,82.2 557.6,82.6 558.4,82.1 559.1,81.9 559.9,81.1 560.7,81.4 561.5,81.7 562.2,82.8 563.0,83.0 563.8,82.8 564.6,83.6 565.3,82.9 566.1,83.2 566.9,81.9 567.7,81.6 568.5,80.6 569.2,80.1 570.0,80.0 570.8,79.8 571.6,79.5 572.3,79.0 573.1,78.7 573.9,78.2 574.7,78.3 575.4,78.6 576.2,79.9 577.0,80.2 577.8,81.4 578.5,80.8 579.3,81.4 580.1,80.3 580.9,79.6 581.7,79.7 582.4,79.9 583.2,80.9 584.0,80.8 584.8,81.6 585.5,81.4 586.3,80.4 587.1,79.8 587.9,80.5 588.6,81.5 589.4,81.6 590.2,80.2 591.0,79.5 591.7,79.4 592.5,79.7 593.3,80.2 594.1,80.6 594.9,81.5 595.6,82.5 596.4,82.5 597.2,82.5 598.0,81.6 598.7,82.6 599.5,83.4 600.3,83.7 601.1,83.3 601.8,82.7 602.6,83.7 603.4,84.0 604.2,85.2 604.9,85.0 605.7,85.5 606.5,85.3 607.3,85.2 608.1,85.0 608.8,86.3 609.6,86.2 610.4,86.1 611.2,85.5 611.9,86.0 612.7,85.9 613.5,84.9 614.3,84.4 615.0,84.9 615.8,84.7 616.6,84.2 617.4,82.2 618.1,82.6 618.9,81.4 619.7,81.4 620.5,80.6 621.2,80.7 622.0,81.2 622.8,80.7 623.6,81.5 624.4,81.3 625.1,82.0 625.9,82.2 626.7,82.1 627.5,82.0 628.2,81.1 629.0,80.5 629.8,80.4 630.6,80.7 631.3,81.2 632.1,81.9 632.9,81.9 633.7,82.0 634.4,81.4 635.2,82.1 636.0,82.9 636.8,82.9 637.6,82.1 638.3,80.5 639.1,79.8 639.9,79.2 640.7,79.5 641.4,79.3 642.2,79.9 643.0,79.6 643.8,79.6 644.5,78.2 645.3,78.6 646.1,79.8 646.9,80.7 647.6,81.4 648.4,81.2 649.2,82.2 650.0,82.5 650.8,82.2 651.5,82.0 652.3,82.2 653.1,83.0 653.9,83.7 654.6,83.2 655.4,83.5 656.2,83.8 657.0,84.4 657.7,84.5 658.5,84.2 659.3,84.4 660.1,86.0 660.8,89.8 661.6,92.3 662.4,95.8" fill="none" stroke="#ee1111" stroke-width="1.2" stroke-linejoin="round"/>
<line x1="484.6" y1="24.8" x2="484.6" y2="120.1" stroke="#000" stroke-width="1.3"/>
<line x1="484.0" y1="119.5" x2="662.4" y2="119.5" stroke="#000" stroke-width="1.3"/>
<line x1="477.1" y1="40.6" x2="484.6" y2="40.6" stroke="#000" stroke-width="1.3"/>
<text x="474.6" y="44.6" font-size="11" text-anchor="end" fill="#000" stroke="#000" stroke-width="0.2">0</text>
<line x1="477.1" y1="72.2" x2="484.6" y2="72.2" stroke="#000" stroke-width="1.3"/>
<text x="474.6" y="76.1" font-size="11" text-anchor="end" fill="#000" stroke="#000" stroke-width="0.2">-2</text>
<line x1="477.1" y1="103.7" x2="484.6" y2="103.7" stroke="#000" stroke-width="1.3"/>
<text x="474.6" y="107.7" font-size="11" text-anchor="end" fill="#000" stroke="#000" stroke-width="0.2">-4</text>
<line x1="484.6" y1="119.5" x2="484.6" y2="125.0" stroke="#000" stroke-width="1.3"/>
<text x="484.6" y="138.4" font-size="11" text-anchor="middle" fill="#000" stroke="#000" stroke-width="0.2">-1</text>
<line x1="502.4" y1="119.5" x2="502.4" y2="125.0" stroke="#000" stroke-width="1.3"/>
<text x="502.4" y="138.4" font-size="11" text-anchor="middle" fill="#000" stroke="#000" stroke-width="0.2">0</text>
<line x1="520.2" y1="119.5" x2="520.2" y2="125.0" stroke="#000" stroke-width="1.3"/>
<text x="520.2" y="138.4" font-size="11" text-anchor="middle" fill="#000" stroke="#000" stroke-width="0.2">1</text>
<line x1="537.9" y1="119.5" x2="537.9" y2="125.0" stroke="#000" stroke-width="1.3"/>
<text x="537.9" y="138.4" font-size="11" text-anchor="middle" fill="#000" stroke="#000" stroke-width="0.2">2</text>
<line x1="555.7" y1="119.5" x2="555.7" y2="125.0" stroke="#000" stroke-width="1.3"/>
<text x="555.7" y="138.4" font-size="11" text-anchor="middle" fill="#000" stroke="#000" stroke-width="0.2">3</text>
<line x1="573.5" y1="119.5" x2="573.5" y2="125.0" stroke="#000" stroke-width="1.3"/>
<text x="573.5" y="138.4" font-size="11" text-anchor="middle" fill="#000" stroke="#000" stroke-width="0.2">4</text>
<line x1="591.3" y1="119.5" x2="591.3" y2="125.0" stroke="#000" stroke-width="1.3"/>
<text x="591.3" y="138.4" font-size="11" text-anchor="middle" fill="#000" stroke="#000" stroke-width="0.2">5</text>
<line x1="609.1" y1="119.5" x2="609.1" y2="125.0" stroke="#000" stroke-width="1.3"/>
<text x="609.1" y="138.4" font-size="11" text-anchor="middle" fill="#000" stroke="#000" stroke-width="0.2">6</text>
<line x1="626.8" y1="119.5" x2="626.8" y2="125.0" stroke="#000" stroke-width="1.3"/>
<text x="626.8" y="138.4" font-size="11" text-anchor="middle" fill="#000" stroke="#000" stroke-width="0.2">7</text>
<line x1="644.6" y1="119.5" x2="644.6" y2="125.0" stroke="#000" stroke-width="1.3"/>
<text x="644.6" y="138.4" font-size="11" text-anchor="middle" fill="#000" stroke="#000" stroke-width="0.2">8</text>
<line x1="662.4" y1="119.5" x2="662.4" y2="125.0" stroke="#000" stroke-width="1.3"/>
<text x="662.4" y="138.4" font-size="11" text-anchor="middle" fill="#000" stroke="#000" stroke-width="0.2">9</text>
<text x="573.0" y="154.0" font-size="11" text-anchor="middle" fill="#000" stroke="#000" stroke-width="0.2">Time (h)</text>
<text transform="translate(458.2,73.6) rotate(-90)" font-size="10.6" text-anchor="middle" fill="#000" stroke="#000" stroke-width="0.2">ΔTcore (°C)</text>
<line x1="497.0" y1="8.5" x2="520.6" y2="8.5" stroke="#222" stroke-width="1.6"/>
<text x="530.0" y="12.5" font-size="11" text-anchor="start" fill="#000" stroke="#000" stroke-width="0.2">DVC-aCSF, n=5</text>
<line x1="497.0" y1="24.0" x2="520.6" y2="24.0" stroke="#ee1111" stroke-width="1.6"/>
<text x="530.0" y="28.0" font-size="11" text-anchor="start" fill="#000" stroke="#000" stroke-width="0.2">DVC-CNO, n=5</text>
<polyline points="665.1,43.4 671.3,43.4 671.3,91.2 665.1,91.2" fill="none" stroke="#000" stroke-width="1.2"/>
<text x="674.3" y="74.1" font-size="9" text-anchor="middle" fill="#000" stroke="#000" stroke-width="0.2">*</text>
<polygon points="218.6,174.1 219.4,184.0 220.1,177.7 220.9,179.7 221.6,180.4 222.4,180.8 223.2,184.3 223.9,181.8 224.7,183.1 225.4,174.7 226.2,181.4 227.0,183.2 227.7,183.3 228.5,184.2 229.2,185.3 230.0,182.9 230.8,180.0 231.5,180.8 232.3,177.8 233.1,179.6 233.8,178.3 234.6,173.8 235.3,172.4 236.1,173.2 236.9,172.7 237.6,172.6 238.4,171.0 239.1,177.0 239.9,177.8 240.7,176.9 241.4,181.0 242.2,179.9 242.9,177.0 243.7,177.3 244.5,178.8 245.2,178.0 246.0,185.3 246.7,178.6 247.5,182.8 248.3,183.9 249.0,179.6 249.8,178.4 250.5,179.6 251.3,179.6 252.1,177.3 252.8,176.9 253.6,173.4 254.4,174.6 255.1,177.5 255.9,175.6 256.6,177.8 257.4,179.6 258.2,176.7 258.9,175.9 259.7,178.0 260.4,179.7 261.2,178.2 262.0,184.6 262.7,178.0 263.5,178.8 264.2,182.4 265.0,178.7 265.8,180.3 266.5,177.9 267.3,184.1 268.0,183.1 268.8,180.0 269.6,180.3 270.3,187.0 271.1,183.4 271.8,181.9 272.6,184.3 273.4,180.0 274.1,184.7 274.9,182.1 275.7,184.2 276.4,178.1 277.2,180.7 277.9,182.3 278.7,185.3 279.5,179.1 280.2,181.3 281.0,181.3 281.7,180.0 282.5,181.3 283.3,183.2 284.0,184.3 284.8,184.6 285.5,181.3 286.3,187.4 287.1,186.0 287.8,185.6 288.6,184.7 289.3,183.9 290.1,186.9 290.9,186.5 291.6,182.3 292.4,179.8 293.1,180.8 293.9,181.7 294.7,184.3 295.4,183.1 296.2,184.3 297.0,183.9 297.7,186.7 298.5,184.6 299.2,184.8 300.0,183.2 300.8,182.9 301.5,177.8 302.3,179.9 303.0,180.3 303.8,186.1 304.6,182.1 305.3,183.1 306.1,180.1 306.8,184.9 307.6,178.7 308.4,178.4 309.1,182.4 309.9,180.4 310.6,180.2 311.4,178.2 312.2,176.6 312.9,173.9 313.7,178.8 314.4,176.4 315.2,177.3 316.0,175.4 316.7,177.9 317.5,178.4 318.3,184.3 319.0,183.0 319.8,184.9 320.5,181.2 321.3,182.9 322.1,184.8 322.8,186.3 323.6,184.9 324.3,186.5 325.1,186.2 325.9,183.2 326.6,179.6 327.4,183.5 328.1,184.1 328.9,185.3 329.7,186.1 330.4,182.1 331.2,181.7 331.9,183.6 332.7,182.4 333.5,182.3 334.2,181.5 335.0,184.7 335.7,182.5 336.5,182.5 337.3,184.4 338.0,183.9 338.8,184.8 339.6,183.5 340.3,180.5 341.1,183.4 341.8,183.7 342.6,181.4 343.4,182.1 344.1,180.1 344.9,188.1 345.6,182.1 346.4,184.8 347.2,183.6 347.9,182.5 348.7,180.9 349.4,180.5 350.2,182.4 351.0,179.4 351.7,182.5 352.5,182.4 353.2,180.8 354.0,184.2 354.8,178.6 355.5,181.2 356.3,178.4 357.0,183.8 357.8,183.9 358.6,183.2 359.3,182.4 360.1,185.8 360.9,182.8 361.6,183.8 362.4,181.4 363.1,185.9 363.9,182.4 364.7,185.6 365.4,186.6 366.2,185.9 366.9,186.4 367.7,182.7 368.5,180.8 369.2,181.9 370.0,179.8 370.7,177.3 371.5,179.4 372.3,178.7 373.0,179.2 373.8,182.6 374.5,177.5 375.3,183.2 376.1,178.6 376.8,181.1 377.6,179.3 378.3,182.0 379.1,183.2 379.9,182.0 380.6,183.8 381.4,182.7 382.2,183.1 382.9,183.7 383.7,183.5 384.4,185.4 385.2,185.0 386.0,189.2 386.7,183.7 387.5,184.7 388.2,178.2 389.0,176.7 389.8,181.7 390.5,176.7 391.3,176.7 392.0,177.6 392.8,173.1 392.8,178.7 392.0,183.1 391.3,182.8 390.5,182.8 389.8,187.9 389.0,182.4 388.2,183.5 387.5,189.1 386.7,188.0 386.0,192.9 385.2,189.1 384.4,189.7 383.7,188.4 382.9,188.4 382.2,188.0 381.4,188.0 380.6,189.5 379.9,186.9 379.1,189.2 378.3,187.4 377.6,184.7 376.8,186.4 376.1,184.1 375.3,187.7 374.5,181.7 373.8,186.5 373.0,183.9 372.3,183.3 371.5,183.2 370.7,181.1 370.0,183.7 369.2,184.5 368.5,183.9 367.7,186.8 366.9,191.7 366.2,191.6 365.4,193.2 364.7,192.6 363.9,189.1 363.1,191.8 362.4,186.5 361.6,188.6 360.9,187.7 360.1,189.1 359.3,185.9 358.6,187.3 357.8,188.4 357.0,187.8 356.3,184.0 355.5,187.3 354.8,184.5 354.0,189.5 353.2,187.0 352.5,188.6 351.7,188.9 351.0,185.2 350.2,189.1 349.4,187.0 348.7,187.1 347.9,187.6 347.2,189.1 346.4,190.1 345.6,187.8 344.9,193.0 344.1,184.8 343.4,187.2 342.6,186.1 341.8,187.8 341.1,188.2 340.3,186.1 339.6,187.2 338.8,188.2 338.0,187.4 337.3,188.3 336.5,186.0 335.7,188.6 335.0,191.8 334.2,188.9 333.5,189.1 332.7,189.6 331.9,190.3 331.2,187.2 330.4,188.1 329.7,191.8 328.9,190.4 328.1,188.8 327.4,189.1 326.6,184.1 325.9,187.7 325.1,191.4 324.3,191.1 323.6,188.5 322.8,189.4 322.1,188.7 321.3,186.4 320.5,184.3 319.8,188.5 319.0,187.1 318.3,187.9 317.5,182.4 316.7,183.1 316.0,180.8 315.2,183.5 314.4,182.0 313.7,184.3 312.9,179.5 312.2,182.9 311.4,183.8 310.6,185.6 309.9,186.3 309.1,188.2 308.4,183.6 307.6,183.9 306.8,190.5 306.1,184.6 305.3,187.7 304.6,187.8 303.8,191.3 303.0,185.6 302.3,185.9 301.5,183.1 300.8,187.5 300.0,187.6 299.2,188.9 298.5,188.5 297.7,190.6 297.0,187.4 296.2,188.9 295.4,188.1 294.7,189.2 293.9,186.5 293.1,185.4 292.4,184.4 291.6,186.8 290.9,190.5 290.1,190.4 289.3,188.1 288.6,188.4 287.8,188.9 287.1,189.8 286.3,191.1 285.5,184.8 284.8,188.8 284.0,188.0 283.3,187.4 282.5,186.0 281.7,184.4 281.0,185.2 280.2,185.9 279.5,183.4 278.7,190.8 277.9,187.6 277.2,187.1 276.4,183.9 275.7,189.0 274.9,185.4 274.1,189.7 273.4,184.3 272.6,187.9 271.8,185.9 271.1,187.6 270.3,189.9 269.6,182.7 268.8,183.4 268.0,186.6 267.3,188.5 266.5,183.1 265.8,187.0 265.0,185.4 264.2,187.9 263.5,183.3 262.7,182.5 262.0,188.2 261.2,182.4 260.4,184.3 259.7,182.7 258.9,181.3 258.2,180.9 257.4,183.7 256.6,182.2 255.9,180.8 255.1,182.2 254.4,181.1 253.6,179.7 252.8,183.1 252.1,183.0 251.3,185.7 250.5,185.2 249.8,184.3 249.0,186.2 248.3,190.8 247.5,189.3 246.7,185.7 246.0,192.3 245.2,185.4 244.5,185.5 243.7,184.4 242.9,183.4 242.2,185.8 241.4,186.6 240.7,183.1 239.9,184.7 239.1,183.5 238.4,178.1 237.6,179.4 236.9,179.2 236.1,178.0 235.3,178.0 234.6,178.8 233.8,183.7 233.1,184.2 232.3,182.1 231.5,186.0 230.8,185.6 230.0,187.2 229.2,189.7 228.5,189.3 227.7,187.0 227.0,186.7 226.2,185.3 225.4,178.7 224.7,186.7 223.9,184.7 223.2,187.4 222.4,183.8 221.6,184.8 220.9,185.1 220.1,183.5 219.4,188.8 218.6,179.0" fill="#6e6e6e"/>
<polyline points="218.6,175.3 219.4,184.9 220.1,179.6 220.9,182.0 221.6,182.3 222.4,182.4 223.2,186.4 223.9,183.4 224.7,185.1 225.4,177.3 226.2,183.8 227.0,185.3 227.7,185.6 228.5,186.8 229.2,187.7 230.0,185.7 230.8,183.4 231.5,184.2 232.3,181.2 233.1,182.9 233.8,181.8 234.6,177.2 235.3,176.1 236.1,175.4 236.9,175.8 237.6,175.5 238.4,173.8 239.1,179.1 239.9,180.1 240.7,178.7 241.4,183.3 242.2,182.4 242.9,180.4 243.7,181.3 244.5,182.6 245.2,181.8 246.0,189.0 246.7,181.7 247.5,185.9 248.3,187.5 249.0,183.0 249.8,181.4 250.5,183.0 251.3,183.5 252.1,180.6 252.8,180.0 253.6,176.6 254.4,178.1 255.1,179.3 255.9,177.7 256.6,180.4 257.4,182.0 258.2,179.2 258.9,179.3 259.7,181.0 260.4,182.3 261.2,180.5 262.0,186.1 262.7,180.0 263.5,180.6 264.2,185.0 265.0,181.9 265.8,184.1 266.5,180.9 267.3,186.6 268.0,184.6 268.8,181.7 269.6,181.0 270.3,187.7 271.1,184.6 271.8,183.1 272.6,185.0 273.4,180.7 274.1,186.2 274.9,183.2 275.7,186.1 276.4,181.3 277.2,184.2 277.9,184.9 278.7,187.6 279.5,181.0 280.2,183.0 281.0,183.1 281.7,182.5 282.5,184.1 283.3,186.2 284.0,186.6 284.8,186.7 285.5,182.6 286.3,188.3 287.1,186.7 287.8,186.3 288.6,185.3 289.3,184.7 290.1,188.4 290.9,189.4 291.6,186.0 292.4,183.7 293.1,184.7 293.9,185.8 294.7,186.9 295.4,185.8 296.2,186.9 297.0,184.9 297.7,187.8 298.5,185.8 299.2,186.1 300.0,184.7 300.8,185.1 301.5,180.4 302.3,182.2 303.0,182.1 303.8,188.8 304.6,185.3 305.3,185.6 306.1,183.1 306.8,188.2 307.6,181.1 308.4,180.9 309.1,185.2 309.9,184.2 310.6,183.5 311.4,181.4 312.2,179.9 312.9,176.8 313.7,180.8 314.4,178.6 315.2,180.4 316.0,177.9 316.7,180.5 317.5,179.9 318.3,185.3 319.0,184.2 319.8,186.0 320.5,182.1 321.3,184.4 322.1,186.9 322.8,187.8 323.6,186.2 324.3,188.4 325.1,188.7 325.9,185.8 326.6,181.8 327.4,187.0 328.1,187.4 328.9,188.5 329.7,188.7 330.4,185.0 331.2,184.2 331.9,185.7 332.7,185.0 333.5,185.4 334.2,185.3 335.0,188.5 335.7,186.3 336.5,185.2 337.3,186.8 338.0,186.2 338.8,186.8 339.6,185.8 340.3,183.4 341.1,185.9 341.8,185.6 342.6,183.8 343.4,184.2 344.1,182.3 344.9,189.8 345.6,184.2 346.4,186.9 347.2,185.9 347.9,184.6 348.7,184.3 349.4,184.4 350.2,186.2 351.0,183.3 351.7,187.0 352.5,186.7 353.2,184.9 354.0,187.5 354.8,182.2 355.5,184.5 356.3,182.2 357.0,186.5 357.8,187.2 358.6,186.2 359.3,185.3 360.1,188.0 360.9,186.2 361.6,187.1 362.4,184.0 363.1,188.6 363.9,185.4 364.7,188.8 365.4,189.6 366.2,189.2 366.9,189.8 367.7,186.1 368.5,183.2 369.2,183.7 370.0,181.7 370.7,178.6 371.5,180.1 372.3,179.8 373.0,181.0 373.8,184.0 374.5,179.6 375.3,184.9 376.1,180.5 376.8,182.1 377.6,180.2 378.3,182.8 379.1,184.7 379.9,182.8 380.6,185.1 381.4,184.8 382.2,184.8 382.9,185.7 383.7,186.2 384.4,188.0 385.2,187.2 386.0,191.2 386.7,186.2 387.5,187.2 388.2,181.5 389.0,180.2 389.8,185.4 390.5,180.2 391.3,179.6 392.0,180.3 392.8,176.1" fill="none" stroke="#111" stroke-width="0.9" stroke-linejoin="round"/>
<polygon points="218.6,177.7 219.4,185.0 220.1,179.7 220.9,180.6 221.6,179.4 222.4,176.5 223.2,178.4 223.9,185.4 224.7,180.6 225.4,179.3 226.2,179.6 227.0,184.5 227.7,184.6 228.5,180.3 229.2,180.7 230.0,181.3 230.8,184.4 231.5,175.8 232.3,187.1 233.1,179.9 233.8,173.3 234.6,177.3 235.3,171.3 236.1,170.8 236.9,166.8 237.6,175.8 238.4,172.5 239.1,174.3 239.9,178.6 240.7,175.0 241.4,180.8 242.2,179.6 242.9,178.6 243.7,180.1 244.5,178.7 245.2,178.0 246.0,182.2 246.7,183.7 247.5,183.8 248.3,183.3 249.0,181.5 249.8,184.8 250.5,183.7 251.3,186.2 252.1,188.5 252.8,184.9 253.6,190.6 254.4,186.5 255.1,182.5 255.9,189.3 256.6,186.8 257.4,189.7 258.2,187.3 258.9,189.4 259.7,185.7 260.4,186.3 261.2,185.0 262.0,181.8 262.7,185.5 263.5,185.2 264.2,187.6 265.0,186.9 265.8,189.0 266.5,191.7 267.3,187.3 268.0,182.4 268.8,187.1 269.6,191.1 270.3,186.7 271.1,192.3 271.8,193.5 272.6,194.9 273.4,194.1 274.1,191.4 274.9,185.8 275.7,191.2 276.4,192.7 277.2,190.4 277.9,190.5 278.7,194.5 279.5,189.2 280.2,187.6 281.0,188.1 281.7,187.1 282.5,192.2 283.3,193.4 284.0,186.8 284.8,188.7 285.5,195.0 286.3,190.9 287.1,191.7 287.8,190.0 288.6,190.9 289.3,192.9 290.1,190.7 290.9,190.8 291.6,191.4 292.4,195.7 293.1,199.9 293.9,194.7 294.7,197.1 295.4,192.1 296.2,190.4 297.0,190.6 297.7,191.9 298.5,189.5 299.2,186.4 300.0,190.9 300.8,186.1 301.5,186.6 302.3,188.3 303.0,185.4 303.8,190.9 304.6,186.6 305.3,191.5 306.1,191.8 306.8,193.5 307.6,189.9 308.4,193.4 309.1,189.9 309.9,192.7 310.6,187.2 311.4,184.8 312.2,189.4 312.9,187.2 313.7,189.1 314.4,184.3 315.2,189.0 316.0,193.1 316.7,184.1 317.5,188.4 318.3,191.0 319.0,190.6 319.8,193.4 320.5,189.5 321.3,192.3 322.1,186.0 322.8,187.4 323.6,192.2 324.3,191.4 325.1,187.9 325.9,191.1 326.6,187.1 327.4,187.7 328.1,190.1 328.9,190.4 329.7,187.5 330.4,184.6 331.2,184.5 331.9,188.0 332.7,184.5 333.5,188.6 334.2,185.6 335.0,188.2 335.7,184.1 336.5,189.6 337.3,189.3 338.0,187.0 338.8,186.5 339.6,192.2 340.3,190.0 341.1,188.5 341.8,188.6 342.6,190.4 343.4,187.6 344.1,188.8 344.9,183.7 345.6,185.6 346.4,191.6 347.2,194.4 347.9,187.9 348.7,185.4 349.4,189.2 350.2,187.2 351.0,189.9 351.7,193.0 352.5,187.6 353.2,188.1 354.0,185.6 354.8,191.2 355.5,186.4 356.3,187.6 357.0,184.3 357.8,187.3 358.6,186.3 359.3,186.3 360.1,182.7 360.9,186.0 361.6,189.1 362.4,190.0 363.1,189.9 363.9,183.1 364.7,190.3 365.4,187.1 366.2,184.0 366.9,183.4 367.7,186.2 368.5,183.0 369.2,182.4 370.0,181.4 370.7,182.3 371.5,178.1 372.3,181.5 373.0,178.9 373.8,185.6 374.5,180.6 375.3,185.8 376.1,186.2 376.8,181.7 377.6,186.5 378.3,183.4 379.1,187.0 379.9,180.5 380.6,184.1 381.4,185.8 382.2,183.2 382.9,182.9 383.7,188.3 384.4,185.2 385.2,182.1 386.0,184.2 386.7,185.5 387.5,185.9 388.2,181.7 389.0,185.9 389.8,190.2 390.5,183.2 391.3,183.3 392.0,175.0 392.8,177.5 392.8,182.6 392.0,180.9 391.3,189.0 390.5,188.5 389.8,195.8 389.0,193.1 388.2,187.1 387.5,191.4 386.7,190.6 386.0,188.9 385.2,186.4 384.4,190.5 383.7,193.8 382.9,190.2 382.2,191.5 381.4,193.3 380.6,190.2 379.9,185.3 379.1,191.7 378.3,187.4 377.6,190.5 376.8,186.6 376.1,191.4 375.3,189.8 374.5,184.1 373.8,189.4 373.0,181.8 372.3,184.9 371.5,182.2 370.7,187.3 370.0,185.0 369.2,187.5 368.5,187.7 367.7,191.2 366.9,187.9 366.2,190.0 365.4,193.0 364.7,195.8 363.9,187.3 363.1,194.5 362.4,194.2 361.6,194.1 360.9,191.8 360.1,188.4 359.3,193.6 358.6,194.3 357.8,194.2 357.0,190.3 356.3,194.3 355.5,191.8 354.8,195.3 354.0,190.5 353.2,193.0 352.5,191.4 351.7,196.7 351.0,195.2 350.2,191.2 349.4,193.2 348.7,190.6 347.9,193.2 347.2,198.0 346.4,196.2 345.6,191.9 344.9,189.5 344.1,193.7 343.4,193.4 342.6,195.9 341.8,193.8 341.1,194.7 340.3,196.8 339.6,199.7 338.8,194.6 338.0,194.1 337.3,196.6 336.5,197.8 335.7,192.0 335.0,195.6 334.2,192.9 333.5,195.6 332.7,191.0 331.9,192.3 331.2,189.4 330.4,189.2 329.7,190.7 328.9,193.3 328.1,194.8 327.4,192.7 326.6,193.6 325.9,199.2 325.1,196.1 324.3,199.3 323.6,199.9 322.8,193.3 322.1,190.2 321.3,196.6 320.5,194.2 319.8,198.3 319.0,195.9 318.3,197.5 317.5,195.7 316.7,191.0 316.0,198.3 315.2,195.2 314.4,189.8 313.7,192.6 312.9,190.4 312.2,193.3 311.4,189.5 310.6,193.0 309.9,199.3 309.1,196.2 308.4,199.4 307.6,195.2 306.8,198.2 306.1,196.4 305.3,196.4 304.6,191.6 303.8,195.6 303.0,190.6 302.3,195.0 301.5,193.7 300.8,193.2 300.0,198.4 299.2,192.4 298.5,193.9 297.7,195.5 297.0,194.2 296.2,192.7 295.4,194.9 294.7,200.4 293.9,198.7 293.1,204.1 292.4,200.1 291.6,196.2 290.9,195.6 290.1,195.2 289.3,198.4 288.6,197.3 287.8,196.2 287.1,197.2 286.3,196.2 285.5,199.4 284.8,192.6 284.0,192.1 283.3,200.7 282.5,199.8 281.7,195.3 281.0,195.8 280.2,194.0 279.5,195.2 278.7,199.1 277.9,195.5 277.2,196.8 276.4,197.7 275.7,194.1 274.9,188.9 274.1,194.3 273.4,196.3 272.6,196.4 271.8,195.2 271.1,196.0 270.3,190.5 269.6,194.9 268.8,192.3 268.0,189.8 267.3,192.2 266.5,197.0 265.8,194.4 265.0,193.1 264.2,191.3 263.5,189.1 262.7,189.4 262.0,185.9 261.2,190.2 260.4,193.1 259.7,193.5 258.9,195.4 258.2,193.4 257.4,195.8 256.6,191.7 255.9,194.2 255.1,189.1 254.4,192.9 253.6,196.4 252.8,191.2 252.1,195.8 251.3,193.2 250.5,191.1 249.8,192.2 249.0,189.9 248.3,191.7 247.5,192.1 246.7,192.4 246.0,191.2 245.2,187.1 244.5,187.7 243.7,188.3 242.9,185.3 242.2,185.3 241.4,185.2 240.7,178.2 239.9,181.6 239.1,177.2 238.4,176.0 237.6,179.6 236.9,171.5 236.1,176.4 235.3,176.8 234.6,181.9 233.8,178.4 233.1,185.2 232.3,192.2 231.5,181.3 230.8,191.3 230.0,187.1 229.2,187.1 228.5,186.9 227.7,191.9 227.0,190.3 226.2,187.7 225.4,187.4 224.7,188.2 223.9,193.0 223.2,187.3 222.4,183.3 221.6,184.5 220.9,185.4 220.1,184.5 219.4,188.9 218.6,181.6" fill="#ff6464"/>
<polyline points="218.6,178.9 219.4,186.7 220.1,182.0 220.9,182.7 221.6,181.9 222.4,180.0 223.2,182.7 223.9,188.9 224.7,185.3 225.4,184.0 226.2,184.3 227.0,188.0 227.7,189.0 228.5,183.6 229.2,184.0 230.0,184.4 230.8,188.2 231.5,178.9 232.3,190.1 233.1,183.2 233.8,176.5 234.6,180.0 235.3,174.4 236.1,173.9 236.9,169.0 237.6,177.1 238.4,174.6 239.1,176.4 239.9,180.8 240.7,177.4 241.4,184.5 242.2,183.4 242.9,182.5 243.7,184.1 244.5,182.7 245.2,182.2 246.0,186.0 246.7,187.3 247.5,187.7 248.3,187.8 249.0,185.3 249.8,188.3 250.5,187.2 251.3,189.0 252.1,191.3 252.8,187.5 253.6,192.6 254.4,189.8 255.1,185.9 255.9,192.2 256.6,189.4 257.4,193.0 258.2,190.2 258.9,192.4 259.7,189.4 260.4,189.7 261.2,187.8 262.0,184.0 262.7,187.5 263.5,187.0 264.2,189.2 265.0,190.1 265.8,192.1 266.5,194.9 267.3,190.7 268.0,187.2 268.8,190.5 269.6,193.5 270.3,188.5 271.1,193.9 271.8,194.3 272.6,195.6 273.4,194.9 274.1,193.0 274.9,187.2 275.7,192.6 276.4,194.6 277.2,193.4 277.9,192.3 278.7,195.9 279.5,191.2 280.2,189.9 281.0,191.1 281.7,190.7 282.5,195.7 283.3,196.9 284.0,189.7 284.8,190.4 285.5,197.3 286.3,193.2 287.1,193.9 287.8,192.8 288.6,193.8 289.3,195.5 290.1,193.7 290.9,193.7 291.6,194.2 292.4,198.6 293.1,201.4 293.9,195.8 294.7,197.9 295.4,193.1 296.2,191.9 297.0,192.9 297.7,194.4 298.5,193.1 299.2,190.1 300.0,194.7 300.8,190.4 301.5,190.7 302.3,191.7 303.0,188.5 303.8,193.7 304.6,189.4 305.3,193.9 306.1,193.5 306.8,194.3 307.6,190.7 308.4,194.3 309.1,191.9 309.9,195.0 310.6,189.6 311.4,187.8 312.2,192.0 312.9,188.5 313.7,191.4 314.4,187.4 315.2,192.4 316.0,196.4 316.7,188.6 317.5,192.5 318.3,194.5 319.0,193.4 319.8,195.7 320.5,191.8 321.3,193.9 322.1,187.3 322.8,189.2 323.6,194.8 324.3,194.3 325.1,191.8 325.9,195.1 326.6,190.5 327.4,190.2 328.1,191.9 328.9,191.2 329.7,188.4 330.4,186.0 331.2,185.7 331.9,189.3 332.7,187.4 333.5,191.6 334.2,188.9 335.0,192.5 335.7,188.5 336.5,193.6 337.3,193.1 338.0,190.9 338.8,189.6 339.6,194.8 340.3,192.8 341.1,191.1 341.8,190.8 342.6,193.4 343.4,191.0 344.1,191.8 344.9,187.6 345.6,189.7 346.4,194.3 347.2,196.4 347.9,190.6 348.7,187.8 349.4,190.3 350.2,188.4 351.0,191.7 351.7,193.8 352.5,188.3 353.2,189.8 354.0,188.3 354.8,193.3 355.5,189.3 356.3,191.2 357.0,187.5 357.8,190.8 358.6,190.9 359.3,190.9 360.1,186.3 360.9,189.5 361.6,191.5 362.4,192.2 363.1,192.4 363.9,186.1 364.7,194.4 365.4,192.1 366.2,188.4 366.9,186.7 367.7,189.0 368.5,185.6 369.2,184.7 370.0,183.0 370.7,184.4 371.5,179.3 372.3,182.6 373.0,179.7 373.8,186.8 374.5,182.1 375.3,188.1 376.1,189.2 376.8,184.6 377.6,188.4 378.3,185.7 379.1,189.9 379.9,183.4 380.6,187.6 381.4,190.7 382.2,187.7 382.9,186.1 383.7,190.5 384.4,187.5 385.2,183.9 386.0,186.9 386.7,188.1 387.5,188.4 388.2,184.5 389.0,188.8 389.8,191.6 390.5,184.6 391.3,184.6 392.0,176.5 392.8,179.6" fill="none" stroke="#ee1111" stroke-width="1.0" stroke-linejoin="round"/>
<line x1="218.6" y1="154.4" x2="218.6" y2="240.7" stroke="#000" stroke-width="1.3"/>
<line x1="217.9" y1="240.0" x2="392.8" y2="240.0" stroke="#000" stroke-width="1.3"/>
<line x1="211.1" y1="154.4" x2="218.6" y2="154.4" stroke="#000" stroke-width="1.3"/>
<text x="208.6" y="158.3" font-size="11" text-anchor="end" fill="#000" stroke="#000" stroke-width="0.2">200</text>
<line x1="211.1" y1="182.9" x2="218.6" y2="182.9" stroke="#000" stroke-width="1.3"/>
<text x="208.6" y="186.9" font-size="11" text-anchor="end" fill="#000" stroke="#000" stroke-width="0.2">0</text>
<line x1="211.1" y1="211.4" x2="218.6" y2="211.4" stroke="#000" stroke-width="1.3"/>
<text x="208.6" y="215.4" font-size="11" text-anchor="end" fill="#000" stroke="#000" stroke-width="0.2">-200</text>
<line x1="211.1" y1="240.0" x2="218.6" y2="240.0" stroke="#000" stroke-width="1.3"/>
<text x="208.6" y="244.0" font-size="11" text-anchor="end" fill="#000" stroke="#000" stroke-width="0.2">-400</text>
<line x1="218.6" y1="240.0" x2="218.6" y2="247.5" stroke="#000" stroke-width="1.3"/>
<text x="218.6" y="260.0" font-size="11" text-anchor="middle" fill="#000" stroke="#000" stroke-width="0.2">-1</text>
<line x1="236.0" y1="240.0" x2="236.0" y2="247.5" stroke="#000" stroke-width="1.3"/>
<text x="236.0" y="260.0" font-size="11" text-anchor="middle" fill="#000" stroke="#000" stroke-width="0.2">0</text>
<line x1="253.4" y1="240.0" x2="253.4" y2="247.5" stroke="#000" stroke-width="1.3"/>
<text x="253.4" y="260.0" font-size="11" text-anchor="middle" fill="#000" stroke="#000" stroke-width="0.2">1</text>
<line x1="270.9" y1="240.0" x2="270.9" y2="247.5" stroke="#000" stroke-width="1.3"/>
<text x="270.9" y="260.0" font-size="11" text-anchor="middle" fill="#000" stroke="#000" stroke-width="0.2">2</text>
<line x1="288.3" y1="240.0" x2="288.3" y2="247.5" stroke="#000" stroke-width="1.3"/>
<text x="288.3" y="260.0" font-size="11" text-anchor="middle" fill="#000" stroke="#000" stroke-width="0.2">3</text>
<line x1="305.7" y1="240.0" x2="305.7" y2="247.5" stroke="#000" stroke-width="1.3"/>
<text x="305.7" y="260.0" font-size="11" text-anchor="middle" fill="#000" stroke="#000" stroke-width="0.2">4</text>
<line x1="323.1" y1="240.0" x2="323.1" y2="247.5" stroke="#000" stroke-width="1.3"/>
<text x="323.1" y="260.0" font-size="11" text-anchor="middle" fill="#000" stroke="#000" stroke-width="0.2">5</text>
<line x1="340.5" y1="240.0" x2="340.5" y2="247.5" stroke="#000" stroke-width="1.3"/>
<text x="340.5" y="260.0" font-size="11" text-anchor="middle" fill="#000" stroke="#000" stroke-width="0.2">6</text>
<line x1="358.0" y1="240.0" x2="358.0" y2="247.5" stroke="#000" stroke-width="1.3"/>
<text x="358.0" y="260.0" font-size="11" text-anchor="middle" fill="#000" stroke="#000" stroke-width="0.2">7</text>
<line x1="375.4" y1="240.0" x2="375.4" y2="247.5" stroke="#000" stroke-width="1.3"/>
<text x="375.4" y="260.0" font-size="11" text-anchor="middle" fill="#000" stroke="#000" stroke-width="0.2">8</text>
<line x1="392.8" y1="240.0" x2="392.8" y2="247.5" stroke="#000" stroke-width="1.3"/>
<text x="392.8" y="260.0" font-size="11" text-anchor="middle" fill="#000" stroke="#000" stroke-width="0.2">9</text>
<text x="305.7" y="274.5" font-size="11" text-anchor="middle" fill="#000" stroke="#000" stroke-width="0.2">Time (h)</text>
<text transform="translate(183.1,198.8) rotate(-90)" font-size="10.5" text-anchor="middle" fill="#000" stroke="#000" stroke-width="0.2">ΔHR (bpm)</text>
<polyline points="397.3,172.7 404.2,172.7 404.2,191.3 397.3,191.3" fill="none" stroke="#000" stroke-width="1.2"/>
<text transform="translate(407.2,182.9) rotate(90)" font-size="10.5" text-anchor="middle" fill="#000" stroke="#000" stroke-width="0.2">ns</text>
<polygon points="485.5,175.1 486.3,176.2 487.0,170.7 487.8,175.3 488.5,184.9 489.3,182.7 490.0,183.1 490.8,181.2 491.5,184.8 492.3,178.1 493.0,176.4 493.8,172.4 494.6,174.9 495.3,174.9 496.1,181.2 496.8,169.9 497.6,181.6 498.3,172.5 499.1,175.2 499.8,176.9 500.6,175.8 501.3,177.2 502.1,174.6 502.9,177.5 503.6,171.1 504.4,180.9 505.1,174.8 505.9,177.0 506.6,171.4 507.4,180.9 508.1,175.9 508.9,174.8 509.6,178.6 510.4,171.7 511.2,173.4 511.9,171.8 512.7,172.3 513.4,180.0 514.2,179.3 514.9,177.3 515.7,174.0 516.4,172.2 517.2,175.4 517.9,175.2 518.7,175.4 519.5,174.3 520.2,173.0 521.0,173.0 521.7,164.2 522.5,172.4 523.2,170.6 524.0,167.4 524.7,172.1 525.5,171.8 526.2,172.6 527.0,172.8 527.8,181.1 528.5,173.6 529.3,177.8 530.0,175.3 530.8,173.0 531.5,174.1 532.3,174.0 533.0,178.7 533.8,182.3 534.5,180.9 535.3,185.0 536.1,178.7 536.8,184.9 537.6,184.0 538.3,174.2 539.1,180.4 539.8,182.3 540.6,172.8 541.3,180.9 542.1,178.0 542.8,183.8 543.6,183.9 544.4,187.9 545.1,189.4 545.9,187.1 546.6,184.8 547.4,181.2 548.1,177.1 548.9,185.4 549.6,179.9 550.4,183.6 551.1,180.2 551.9,184.8 552.7,186.1 553.4,183.4 554.2,185.6 554.9,183.1 555.7,184.7 556.4,178.0 557.2,181.2 557.9,181.0 558.7,177.0 559.4,178.0 560.2,179.9 561.0,180.3 561.7,179.6 562.5,176.7 563.2,176.9 564.0,177.9 564.7,177.6 565.5,182.2 566.2,179.0 567.0,185.4 567.7,178.4 568.5,180.8 569.3,179.9 570.0,179.0 570.8,180.8 571.5,180.4 572.3,176.3 573.0,180.0 573.8,182.8 574.5,179.4 575.3,186.0 576.1,176.9 576.8,182.7 577.6,183.5 578.3,178.0 579.1,179.3 579.8,186.6 580.6,185.9 581.3,184.1 582.1,181.8 582.8,188.4 583.6,188.3 584.4,186.1 585.1,188.1 585.9,186.6 586.6,187.2 587.4,191.6 588.1,192.3 588.9,199.5 589.6,192.0 590.4,186.9 591.1,193.8 591.9,185.3 592.7,185.3 593.4,187.1 594.2,187.1 594.9,187.8 595.7,190.4 596.4,189.2 597.2,189.6 597.9,186.9 598.7,185.7 599.4,191.6 600.2,186.6 601.0,191.3 601.7,189.9 602.5,187.8 603.2,188.4 604.0,188.2 604.7,185.3 605.5,186.8 606.2,185.2 607.0,184.2 607.7,180.9 608.5,185.2 609.3,178.3 610.0,183.7 610.8,195.1 611.5,188.2 612.3,181.3 613.0,185.9 613.8,186.1 614.5,186.3 615.3,179.1 616.0,180.8 616.8,181.1 617.6,181.7 618.3,177.0 619.1,176.6 619.8,181.7 620.6,175.2 621.3,178.7 622.1,179.8 622.8,179.4 623.6,181.8 624.3,191.7 625.1,177.0 625.9,180.1 626.6,184.3 627.4,186.3 628.1,184.0 628.9,189.8 629.6,185.0 630.4,186.0 631.1,184.7 631.9,186.7 632.6,184.6 633.4,177.4 634.2,177.4 634.9,179.8 635.7,179.8 636.4,183.5 637.2,179.9 637.9,177.5 638.7,188.2 639.4,181.9 640.2,191.6 640.9,187.6 641.7,184.7 642.5,190.0 643.2,190.3 644.0,185.4 644.7,182.4 645.5,186.2 646.2,180.2 647.0,185.3 647.7,178.4 648.5,182.6 649.2,181.6 650.0,180.9 650.8,181.9 651.5,177.5 652.3,176.6 653.0,181.7 653.8,184.0 654.5,185.8 655.3,184.7 656.0,181.6 656.8,181.6 657.5,181.5 658.3,181.5 658.3,190.3 657.5,190.3 656.8,190.5 656.0,190.8 655.3,190.7 654.5,192.4 653.8,189.0 653.0,186.4 652.3,181.5 651.5,183.2 650.8,188.6 650.0,187.9 649.2,190.9 648.5,191.0 647.7,185.2 647.0,192.7 646.2,186.1 645.5,189.2 644.7,185.7 644.0,189.3 643.2,194.3 642.5,193.9 641.7,190.2 640.9,192.4 640.2,196.1 639.4,185.8 638.7,193.7 637.9,184.5 637.2,187.7 636.4,194.0 635.7,191.9 634.9,189.8 634.2,186.9 633.4,187.4 632.6,192.5 631.9,194.3 631.1,194.0 630.4,193.9 629.6,193.5 628.9,197.7 628.1,191.7 627.4,193.5 626.6,191.9 625.9,187.7 625.1,186.8 624.3,199.7 623.6,189.3 622.8,185.8 622.1,187.0 621.3,184.3 620.6,182.1 619.8,188.3 619.1,183.5 618.3,182.3 617.6,186.7 616.8,186.6 616.0,187.2 615.3,186.6 614.5,194.8 613.8,193.7 613.0,192.7 612.3,186.1 611.5,192.6 610.8,198.1 610.0,188.5 609.3,184.5 608.5,192.4 607.7,189.2 607.0,192.7 606.2,195.9 605.5,194.2 604.7,192.7 604.0,194.4 603.2,195.5 602.5,194.3 601.7,195.5 601.0,197.5 600.2,192.2 599.4,197.1 598.7,190.5 597.9,192.3 597.2,193.8 596.4,194.7 595.7,195.4 594.9,192.8 594.2,193.0 593.4,194.0 592.7,190.5 591.9,191.6 591.1,199.8 590.4,192.4 589.6,198.7 588.9,209.1 588.1,202.7 587.4,204.1 586.6,198.9 585.9,197.0 585.1,195.5 584.4,192.8 583.6,193.9 582.8,194.8 582.1,188.2 581.3,189.8 580.6,190.0 579.8,192.1 579.1,186.1 578.3,186.5 577.6,193.5 576.8,195.4 576.1,188.7 575.3,197.0 574.5,188.5 573.8,192.3 573.0,188.5 572.3,186.3 571.5,189.8 570.8,191.2 570.0,189.7 569.3,191.7 568.5,191.7 567.7,188.8 567.0,196.0 566.2,190.0 565.5,190.6 564.7,185.3 564.0,185.9 563.2,184.9 562.5,183.7 561.7,187.0 561.0,187.8 560.2,188.9 559.4,188.2 558.7,186.4 557.9,189.1 557.2,189.6 556.4,186.6 555.7,190.4 554.9,189.5 554.2,194.7 553.4,192.0 552.7,192.3 551.9,193.0 551.1,188.2 550.4,189.3 549.6,186.2 548.9,193.0 548.1,182.2 547.4,188.6 546.6,190.1 545.9,193.4 545.1,195.4 544.4,194.6 543.6,187.8 542.8,191.1 542.1,182.9 541.3,187.4 540.6,180.2 539.8,190.1 539.1,187.5 538.3,182.5 537.6,192.3 536.8,191.1 536.1,184.8 535.3,190.8 534.5,187.3 533.8,187.7 533.0,186.9 532.3,185.6 531.5,186.4 530.8,184.7 530.0,186.5 529.3,187.5 528.5,180.7 527.8,188.0 527.0,180.1 526.2,181.4 525.5,182.9 524.7,185.0 524.0,181.3 523.2,184.0 522.5,184.4 521.7,174.7 521.0,180.6 520.2,180.9 519.5,183.3 518.7,184.1 517.9,185.1 517.2,186.4 516.4,182.7 515.7,183.5 514.9,186.7 514.2,188.2 513.4,188.1 512.7,181.0 511.9,179.5 511.2,182.6 510.4,179.9 509.6,187.3 508.9,183.0 508.1,183.9 507.4,187.8 506.6,179.9 505.9,185.4 505.1,182.9 504.4,190.0 503.6,180.6 502.9,186.4 502.1,184.7 501.3,187.4 500.6,187.5 499.8,189.5 499.1,186.8 498.3,181.7 497.6,189.6 496.8,177.4 496.1,189.6 495.3,183.6 494.6,185.8 493.8,184.8 493.0,189.4 492.3,188.4 491.5,195.6 490.8,190.9 490.0,192.4 489.3,189.8 488.5,193.8 487.8,184.4 487.0,179.4 486.3,183.1 485.5,184.4" fill="#6e6e6e"/>
<polyline points="485.5,179.1 486.3,179.5 487.0,175.9 487.8,180.7 488.5,189.4 489.3,185.3 490.0,186.7 490.8,183.9 491.5,188.7 492.3,182.7 493.0,182.2 493.8,177.7 494.6,181.1 495.3,180.3 496.1,186.0 496.8,174.6 497.6,186.8 498.3,177.6 499.1,181.6 499.8,183.4 500.6,183.1 501.3,183.5 502.1,180.7 502.9,182.5 503.6,177.3 504.4,186.6 505.1,180.7 505.9,182.9 506.6,177.4 507.4,185.5 508.1,179.9 508.9,178.5 509.6,183.8 510.4,176.7 511.2,179.4 511.9,177.1 512.7,177.5 513.4,183.3 514.2,182.4 514.9,180.3 515.7,177.1 516.4,176.4 517.2,180.7 517.9,180.0 518.7,180.2 519.5,179.2 520.2,177.8 521.0,177.0 521.7,170.0 522.5,177.2 523.2,176.0 524.0,173.3 524.7,177.0 525.5,175.6 526.2,176.2 527.0,175.8 527.8,183.8 528.5,177.7 529.3,183.6 530.0,182.5 530.8,181.0 531.5,182.1 532.3,181.4 533.0,184.5 533.8,185.5 534.5,184.4 535.3,188.2 536.1,181.4 536.8,187.1 537.6,188.4 538.3,178.3 539.1,184.7 539.8,187.6 540.6,178.4 541.3,185.2 542.1,181.5 542.8,187.7 543.6,186.4 544.4,191.2 545.1,192.3 545.9,190.0 546.6,187.0 547.4,183.9 548.1,178.6 548.9,188.4 549.6,181.8 550.4,186.2 551.1,184.3 551.9,189.0 552.7,189.7 553.4,188.4 554.2,190.3 554.9,187.0 555.7,188.7 556.4,182.4 557.2,185.3 557.9,184.8 558.7,181.5 559.4,182.9 560.2,184.1 561.0,183.8 561.7,183.5 562.5,179.5 563.2,179.9 564.0,181.8 564.7,181.2 565.5,186.0 566.2,183.6 567.0,190.0 567.7,182.5 568.5,186.9 569.3,186.5 570.0,185.0 570.8,186.7 571.5,187.2 572.3,182.7 573.0,185.7 573.8,188.6 574.5,184.4 575.3,190.6 576.1,181.3 576.8,187.4 577.6,187.5 578.3,181.7 579.1,182.7 579.8,189.5 580.6,188.7 581.3,187.6 582.1,186.1 582.8,191.8 583.6,191.3 584.4,188.4 585.1,191.5 585.9,190.3 586.6,191.1 587.4,196.5 588.1,196.0 588.9,201.6 589.6,194.2 590.4,188.7 591.1,195.3 591.9,187.6 592.7,187.5 593.4,190.0 594.2,189.1 594.9,189.0 595.7,192.3 596.4,191.0 597.2,190.8 597.9,189.3 598.7,189.3 599.4,194.3 600.2,189.3 601.0,193.5 601.7,191.1 602.5,189.0 603.2,189.6 604.0,189.4 604.7,187.7 605.5,189.6 606.2,189.3 607.0,187.9 607.7,184.6 608.5,187.9 609.3,182.1 610.0,187.2 610.8,196.9 611.5,189.5 612.3,183.4 613.0,188.4 613.8,189.9 614.5,191.4 615.3,184.7 616.0,184.7 616.8,184.7 617.6,184.4 618.3,180.5 619.1,181.3 619.8,186.5 620.6,180.2 621.3,182.7 622.1,184.3 622.8,182.4 623.6,185.3 624.3,194.9 625.1,182.2 625.9,184.5 626.6,188.7 627.4,189.9 628.1,187.7 628.9,191.9 629.6,186.8 630.4,188.0 631.1,188.0 631.9,189.4 632.6,188.3 633.4,182.6 634.2,181.6 634.9,184.4 635.7,186.4 636.4,189.3 637.2,184.9 637.9,182.6 638.7,192.5 639.4,184.6 640.2,194.9 640.9,189.8 641.7,187.3 642.5,192.1 643.2,192.1 644.0,186.6 644.7,184.1 645.5,187.7 646.2,181.9 647.0,187.7 647.7,179.8 648.5,184.2 649.2,183.4 650.0,182.1 650.8,183.1 651.5,178.7 652.3,177.8 653.0,182.9 653.8,185.2 654.5,188.3 655.3,187.2 656.0,185.1 656.8,185.5 657.5,185.5 658.3,185.5" fill="none" stroke="#111" stroke-width="0.9" stroke-linejoin="round"/>
<polygon points="485.5,188.5 486.3,186.6 487.0,186.0 487.8,199.1 488.5,189.6 489.3,191.2 490.0,190.2 490.8,186.8 491.5,186.4 492.3,183.9 493.0,185.7 493.8,186.9 494.6,191.6 495.3,185.8 496.1,193.1 496.8,187.4 497.6,180.2 498.3,180.0 499.1,187.7 499.8,182.0 500.6,173.3 501.3,174.1 502.1,174.7 502.9,188.1 503.6,188.8 504.4,187.9 505.1,191.6 505.9,188.2 506.6,187.4 507.4,184.9 508.1,187.2 508.9,184.9 509.6,185.3 510.4,191.9 511.2,198.9 511.9,189.1 512.7,195.8 513.4,195.4 514.2,194.2 514.9,203.3 515.7,196.1 516.4,201.2 517.2,205.8 517.9,199.9 518.7,209.0 519.5,208.6 520.2,207.5 521.0,202.0 521.7,212.3 522.5,205.5 523.2,197.7 524.0,203.4 524.7,216.7 525.5,203.7 526.2,204.5 527.0,203.1 527.8,206.6 528.5,210.9 529.3,208.0 530.0,209.7 530.8,211.2 531.5,206.8 532.3,203.5 533.0,208.0 533.8,195.9 534.5,199.5 535.3,200.2 536.1,217.9 536.8,208.1 537.6,211.7 538.3,216.2 539.1,212.6 539.8,219.5 540.6,207.6 541.3,208.8 542.1,209.8 542.8,200.2 543.6,201.1 544.4,200.4 545.1,207.6 545.9,201.8 546.6,200.1 547.4,203.9 548.1,216.1 548.9,208.5 549.6,208.9 550.4,210.0 551.1,213.3 551.9,216.2 552.7,212.3 553.4,210.4 554.2,207.0 554.9,208.0 555.7,214.7 556.4,219.2 557.2,213.0 557.9,218.1 558.7,206.0 559.4,216.8 560.2,209.1 561.0,205.9 561.7,208.6 562.5,198.0 563.2,200.0 564.0,204.4 564.7,208.3 565.5,206.7 566.2,204.7 567.0,217.3 567.7,209.9 568.5,213.1 569.3,214.8 570.0,210.0 570.8,209.2 571.5,209.2 572.3,207.3 573.0,214.5 573.8,203.4 574.5,209.5 575.3,214.1 576.1,219.7 576.8,212.3 577.6,215.3 578.3,212.2 579.1,213.5 579.8,206.2 580.6,212.2 581.3,207.3 582.1,209.3 582.8,208.0 583.6,197.8 584.4,204.9 585.1,202.5 585.9,201.5 586.6,198.1 587.4,197.6 588.1,197.3 588.9,200.9 589.6,196.1 590.4,202.6 591.1,201.8 591.9,203.3 592.7,207.7 593.4,221.3 594.2,208.7 594.9,212.6 595.7,207.0 596.4,200.4 597.2,214.0 597.9,210.0 598.7,205.1 599.4,200.7 600.2,208.7 601.0,209.2 601.7,206.4 602.5,215.6 603.2,213.2 604.0,212.7 604.7,220.0 605.5,213.3 606.2,216.4 607.0,220.2 607.7,213.4 608.5,211.7 609.3,210.1 610.0,206.0 610.8,206.3 611.5,209.3 612.3,208.9 613.0,213.5 613.8,217.7 614.5,219.8 615.3,221.3 616.0,211.6 616.8,223.3 617.6,209.5 618.3,215.0 619.1,207.8 619.8,198.2 620.6,204.6 621.3,199.5 622.1,210.9 622.8,209.0 623.6,213.0 624.3,211.5 625.1,214.1 625.9,213.6 626.6,209.9 627.4,205.3 628.1,207.5 628.9,208.4 629.6,208.3 630.4,211.2 631.1,214.3 631.9,213.0 632.6,208.8 633.4,218.7 634.2,208.6 634.9,213.9 635.7,217.8 636.4,216.1 637.2,211.7 637.9,210.5 638.7,210.6 639.4,202.1 640.2,197.7 640.9,206.5 641.7,198.6 642.5,205.7 643.2,209.1 644.0,208.0 644.7,205.2 645.5,212.8 646.2,214.7 647.0,208.7 647.7,212.3 648.5,213.5 649.2,204.6 650.0,209.7 650.8,212.2 651.5,211.7 652.3,210.4 653.0,207.8 653.8,204.8 654.5,204.9 655.3,208.3 656.0,215.0 656.8,208.0 657.5,211.7 658.3,218.4 658.3,226.3 657.5,223.4 656.8,219.2 656.0,227.4 655.3,220.5 654.5,216.5 653.8,213.8 653.0,216.5 652.3,217.2 651.5,221.1 650.8,222.0 650.0,217.3 649.2,211.5 648.5,222.2 647.7,220.3 647.0,214.6 646.2,223.2 645.5,221.8 644.7,213.3 644.0,219.3 643.2,223.0 642.5,220.1 641.7,213.2 640.9,219.8 640.2,206.1 639.4,209.7 638.7,216.5 637.9,217.5 637.2,219.8 636.4,225.6 635.7,228.9 634.9,226.9 634.2,222.9 633.4,232.6 632.6,223.6 631.9,225.0 631.1,225.8 630.4,220.9 629.6,219.2 628.9,219.1 628.1,221.2 627.4,217.7 626.6,221.5 625.9,225.0 625.1,222.4 624.3,218.8 623.6,220.2 622.8,218.1 622.1,218.9 621.3,210.7 620.6,215.3 619.8,211.8 619.1,220.1 618.3,225.3 617.6,219.5 616.8,231.6 616.0,219.4 615.3,227.4 614.5,226.5 613.8,223.6 613.0,222.3 612.3,218.1 611.5,216.8 610.8,215.7 610.0,216.6 609.3,218.9 608.5,220.8 607.7,224.6 607.0,229.4 606.2,224.9 605.5,223.4 604.7,228.4 604.0,221.2 603.2,225.2 602.5,228.3 601.7,218.3 601.0,224.7 600.2,223.7 599.4,213.4 598.7,216.2 597.9,222.3 597.2,222.1 596.4,209.8 595.7,216.3 594.9,223.9 594.2,218.1 593.4,232.7 592.7,219.7 591.9,215.6 591.1,213.8 590.4,214.6 589.6,206.2 588.9,209.8 588.1,206.4 587.4,205.2 586.6,207.0 585.9,211.6 585.1,210.9 584.4,213.4 583.6,207.9 582.8,215.8 582.1,219.3 581.3,218.4 580.6,223.8 579.8,217.0 579.1,224.4 578.3,222.5 577.6,226.5 576.8,223.6 576.1,231.5 575.3,227.8 574.5,221.8 573.8,214.6 573.0,225.1 572.3,219.3 571.5,222.8 570.8,222.4 570.0,222.6 569.3,227.4 568.5,225.4 567.7,220.6 567.0,227.8 566.2,215.5 565.5,215.8 564.7,215.2 564.0,212.1 563.2,205.9 562.5,204.2 561.7,216.8 561.0,213.0 560.2,217.9 559.4,228.9 558.7,218.6 557.9,227.6 557.2,223.8 556.4,225.5 555.7,218.4 554.9,211.7 554.2,214.5 553.4,221.4 552.7,225.3 551.9,229.4 551.1,227.9 550.4,222.9 549.6,218.9 548.9,217.9 548.1,227.0 547.4,215.8 546.6,213.3 545.9,213.6 545.1,221.3 544.4,214.8 543.6,214.3 542.8,212.3 542.1,223.9 541.3,220.5 540.6,216.6 539.8,228.1 539.1,220.0 538.3,223.9 537.6,218.7 536.8,217.3 536.1,226.7 535.3,210.8 534.5,207.8 533.8,204.4 533.0,214.5 532.3,210.1 531.5,211.7 530.8,216.9 530.0,216.0 529.3,215.0 528.5,220.9 527.8,217.1 527.0,214.4 526.2,217.0 525.5,215.9 524.7,226.4 524.0,213.3 523.2,207.4 522.5,215.1 521.7,221.6 521.0,212.5 520.2,219.3 519.5,219.0 518.7,220.2 517.9,209.8 517.2,216.2 516.4,211.1 515.7,206.4 514.9,212.9 514.2,205.2 513.4,201.2 512.7,199.4 511.9,193.5 511.2,202.5 510.4,195.7 509.6,193.2 508.9,194.0 508.1,197.2 507.4,193.3 506.6,194.0 505.9,194.0 505.1,198.3 504.4,193.0 503.6,194.9 502.9,194.6 502.1,179.3 501.3,178.2 500.6,178.9 499.8,187.4 499.1,192.7 498.3,185.2 497.6,184.6 496.8,193.1 496.1,198.2 495.3,192.2 494.6,199.2 493.8,195.9 493.0,191.9 492.3,190.9 491.5,193.3 490.8,193.7 490.0,195.7 489.3,197.9 488.5,195.9 487.8,205.5 487.0,192.3 486.3,193.2 485.5,194.1" fill="#ff6464"/>
<polyline points="485.5,190.6 486.3,189.9 487.0,188.5 487.8,201.5 488.5,192.2 489.3,194.8 490.0,192.6 490.8,190.3 491.5,190.4 492.3,187.6 493.0,188.6 493.8,191.0 494.6,194.7 495.3,188.5 496.1,194.9 496.8,189.5 497.6,181.4 498.3,182.2 499.1,189.3 499.8,184.2 500.6,176.3 501.3,177.3 502.1,178.0 502.9,192.1 503.6,192.6 504.4,191.0 505.1,194.9 505.9,191.5 506.6,191.8 507.4,190.9 508.1,193.3 508.9,191.0 509.6,190.6 510.4,194.3 511.2,201.1 511.9,192.1 512.7,197.7 513.4,198.1 514.2,200.3 514.9,208.8 515.7,201.6 516.4,208.3 517.2,212.3 517.9,203.8 518.7,212.0 519.5,211.3 520.2,209.9 521.0,205.5 521.7,218.0 522.5,212.2 523.2,204.9 524.0,210.6 524.7,222.4 525.5,209.7 526.2,210.6 527.0,209.5 527.8,213.0 528.5,217.0 529.3,213.5 530.0,213.1 530.8,213.5 531.5,209.0 532.3,207.1 533.0,211.2 533.8,201.5 534.5,203.6 535.3,205.4 536.1,221.5 536.8,211.6 537.6,214.3 538.3,219.5 539.1,214.8 539.8,222.0 540.6,209.7 541.3,211.9 542.1,214.3 542.8,205.3 543.6,208.0 544.4,207.6 545.1,215.8 545.9,209.8 546.6,207.6 547.4,210.4 548.1,221.6 548.9,212.1 549.6,212.0 550.4,214.2 551.1,218.2 551.9,221.8 552.7,218.4 553.4,216.1 554.2,211.7 554.9,210.3 555.7,216.3 556.4,220.6 557.2,216.4 557.9,220.9 558.7,210.8 559.4,221.9 560.2,213.4 561.0,208.4 561.7,212.1 562.5,200.4 563.2,201.4 564.0,206.4 564.7,209.8 565.5,208.1 566.2,206.9 567.0,221.7 567.7,214.1 568.5,219.6 569.3,221.4 570.0,218.0 570.8,216.9 571.5,216.3 572.3,212.1 573.0,218.3 573.8,206.3 574.5,211.9 575.3,219.2 576.1,225.8 576.8,219.2 577.6,222.0 578.3,218.5 579.1,218.7 579.8,211.9 580.6,218.3 581.3,212.6 582.1,215.6 582.8,213.5 583.6,203.7 584.4,209.1 585.1,208.0 585.9,208.0 586.6,204.2 587.4,202.1 588.1,204.1 588.9,207.3 589.6,202.4 590.4,209.8 591.1,210.6 591.9,210.9 592.7,213.5 593.4,226.6 594.2,212.9 594.9,216.4 595.7,210.5 596.4,206.9 597.2,219.8 597.9,217.1 598.7,212.6 599.4,208.6 600.2,215.6 601.0,216.2 601.7,212.0 602.5,221.5 603.2,218.5 604.0,216.4 604.7,223.4 605.5,217.5 606.2,219.4 607.0,223.7 607.7,217.8 608.5,214.7 609.3,213.6 610.0,210.8 610.8,210.8 611.5,212.7 612.3,214.6 613.0,218.6 613.8,219.2 614.5,221.3 615.3,222.9 616.0,213.2 616.8,224.8 617.6,214.5 618.3,220.4 619.1,214.5 619.8,207.1 620.6,211.1 621.3,205.7 622.1,216.7 622.8,215.5 623.6,218.4 624.3,217.3 625.1,220.1 625.9,220.6 626.6,217.7 627.4,212.6 628.1,215.6 628.9,215.0 629.6,215.5 630.4,216.2 631.1,219.7 631.9,219.3 632.6,216.1 633.4,225.3 634.2,216.1 634.9,221.7 635.7,225.0 636.4,222.6 637.2,216.3 637.9,216.0 638.7,214.9 639.4,207.4 640.2,203.5 640.9,216.7 641.7,208.6 642.5,216.2 643.2,219.6 644.0,217.1 644.7,211.7 645.5,218.0 646.2,219.6 647.0,211.1 647.7,214.0 648.5,215.6 649.2,207.1 650.0,211.7 650.8,215.9 651.5,216.8 652.3,214.4 653.0,212.3 653.8,209.5 654.5,210.3 655.3,213.6 656.0,219.2 656.8,211.0 657.5,214.8 658.3,220.0" fill="none" stroke="#ee1111" stroke-width="1.0" stroke-linejoin="round"/>
<line x1="485.5" y1="153.9" x2="485.5" y2="237.8" stroke="#000" stroke-width="1.3"/>
<line x1="484.9" y1="237.2" x2="658.3" y2="237.2" stroke="#000" stroke-width="1.3"/>
<line x1="478.0" y1="153.9" x2="485.5" y2="153.9" stroke="#000" stroke-width="1.3"/>
<text x="475.5" y="157.8" font-size="11" text-anchor="end" fill="#000" stroke="#000" stroke-width="0.2">200</text>
<line x1="478.0" y1="170.5" x2="485.5" y2="170.5" stroke="#000" stroke-width="1.3"/>
<text x="475.5" y="174.5" font-size="11" text-anchor="end" fill="#000" stroke="#000" stroke-width="0.2">100</text>
<line x1="478.0" y1="187.2" x2="485.5" y2="187.2" stroke="#000" stroke-width="1.3"/>
<text x="475.5" y="191.2" font-size="11" text-anchor="end" fill="#000" stroke="#000" stroke-width="0.2">0</text>
<line x1="478.0" y1="203.9" x2="485.5" y2="203.9" stroke="#000" stroke-width="1.3"/>
<text x="475.5" y="207.8" font-size="11" text-anchor="end" fill="#000" stroke="#000" stroke-width="0.2">-100</text>
<line x1="478.0" y1="220.5" x2="485.5" y2="220.5" stroke="#000" stroke-width="1.3"/>
<text x="475.5" y="224.5" font-size="11" text-anchor="end" fill="#000" stroke="#000" stroke-width="0.2">-200</text>
<line x1="478.0" y1="237.2" x2="485.5" y2="237.2" stroke="#000" stroke-width="1.3"/>
<text x="475.5" y="241.2" font-size="11" text-anchor="end" fill="#000" stroke="#000" stroke-width="0.2">-300</text>
<line x1="485.5" y1="237.2" x2="485.5" y2="244.7" stroke="#000" stroke-width="1.3"/>
<text x="485.5" y="257.7" font-size="11" text-anchor="middle" fill="#000" stroke="#000" stroke-width="0.2">-1</text>
<line x1="502.8" y1="237.2" x2="502.8" y2="244.7" stroke="#000" stroke-width="1.3"/>
<text x="502.8" y="257.7" font-size="11" text-anchor="middle" fill="#000" stroke="#000" stroke-width="0.2">0</text>
<line x1="520.1" y1="237.2" x2="520.1" y2="244.7" stroke="#000" stroke-width="1.3"/>
<text x="520.1" y="257.7" font-size="11" text-anchor="middle" fill="#000" stroke="#000" stroke-width="0.2">1</text>
<line x1="537.3" y1="237.2" x2="537.3" y2="244.7" stroke="#000" stroke-width="1.3"/>
<text x="537.3" y="257.7" font-size="11" text-anchor="middle" fill="#000" stroke="#000" stroke-width="0.2">2</text>
<line x1="554.6" y1="237.2" x2="554.6" y2="244.7" stroke="#000" stroke-width="1.3"/>
<text x="554.6" y="257.7" font-size="11" text-anchor="middle" fill="#000" stroke="#000" stroke-width="0.2">3</text>
<line x1="571.9" y1="237.2" x2="571.9" y2="244.7" stroke="#000" stroke-width="1.3"/>
<text x="571.9" y="257.7" font-size="11" text-anchor="middle" fill="#000" stroke="#000" stroke-width="0.2">4</text>
<line x1="589.2" y1="237.2" x2="589.2" y2="244.7" stroke="#000" stroke-width="1.3"/>
<text x="589.2" y="257.7" font-size="11" text-anchor="middle" fill="#000" stroke="#000" stroke-width="0.2">5</text>
<line x1="606.5" y1="237.2" x2="606.5" y2="244.7" stroke="#000" stroke-width="1.3"/>
<text x="606.5" y="257.7" font-size="11" text-anchor="middle" fill="#000" stroke="#000" stroke-width="0.2">6</text>
<line x1="623.7" y1="237.2" x2="623.7" y2="244.7" stroke="#000" stroke-width="1.3"/>
<text x="623.7" y="257.7" font-size="11" text-anchor="middle" fill="#000" stroke="#000" stroke-width="0.2">7</text>
<line x1="641.0" y1="237.2" x2="641.0" y2="244.7" stroke="#000" stroke-width="1.3"/>
<text x="641.0" y="257.7" font-size="11" text-anchor="middle" fill="#000" stroke="#000" stroke-width="0.2">8</text>
<line x1="658.3" y1="237.2" x2="658.3" y2="244.7" stroke="#000" stroke-width="1.3"/>
<text x="658.3" y="257.7" font-size="11" text-anchor="middle" fill="#000" stroke="#000" stroke-width="0.2">9</text>
<text x="572.0" y="270.0" font-size="11" text-anchor="middle" fill="#000" stroke="#000" stroke-width="0.2">Time (h)</text>
<text transform="translate(450.0,197.3) rotate(-90)" font-size="10.5" text-anchor="middle" fill="#000" stroke="#000" stroke-width="0.2">ΔHR (bpm)</text>
<polyline points="665.2,184.3 676.6,184.3 676.6,215.2 665.2,215.2" fill="none" stroke="#000" stroke-width="1.2"/>
<text transform="translate(679.4,199.8) rotate(90)" font-size="9" text-anchor="middle" fill="#000" stroke="#000" stroke-width="0.2">**</text>
<line x1="218.8" y1="298.0" x2="347.5" y2="298.0" stroke="#000" stroke-width="1.8" stroke-dasharray="1.8 4.2"/>
<polyline points="235.9,298.0 260.6,313.8 285.2,330.8 309.9,331.5 334.6,323.6" fill="none" stroke="#ee1111" stroke-width="1.3" stroke-linejoin="round"/>
<rect x="233.5" y="295.6" width="4.8" height="4.8" fill="#ee1111"/>
<line x1="260.6" y1="307.2" x2="260.6" y2="320.3" stroke="#ee1111" stroke-width="1.2"/>
<line x1="258.1" y1="307.2" x2="263.1" y2="307.2" stroke="#ee1111" stroke-width="1.2"/>
<line x1="258.1" y1="320.3" x2="263.1" y2="320.3" stroke="#ee1111" stroke-width="1.2"/>
<rect x="258.2" y="311.4" width="4.8" height="4.8" fill="#ee1111"/>
<line x1="285.2" y1="322.9" x2="285.2" y2="338.7" stroke="#ee1111" stroke-width="1.2"/>
<line x1="282.8" y1="322.9" x2="287.8" y2="322.9" stroke="#ee1111" stroke-width="1.2"/>
<line x1="282.8" y1="338.7" x2="287.8" y2="338.7" stroke="#ee1111" stroke-width="1.2"/>
<rect x="282.9" y="328.4" width="4.8" height="4.8" fill="#ee1111"/>
<line x1="309.9" y1="321.6" x2="309.9" y2="341.3" stroke="#ee1111" stroke-width="1.2"/>
<line x1="307.4" y1="321.6" x2="312.4" y2="321.6" stroke="#ee1111" stroke-width="1.2"/>
<line x1="307.4" y1="341.3" x2="312.4" y2="341.3" stroke="#ee1111" stroke-width="1.2"/>
<rect x="307.5" y="329.1" width="4.8" height="4.8" fill="#ee1111"/>
<line x1="334.6" y1="311.8" x2="334.6" y2="335.4" stroke="#ee1111" stroke-width="1.2"/>
<line x1="332.1" y1="311.8" x2="337.1" y2="311.8" stroke="#ee1111" stroke-width="1.2"/>
<line x1="332.1" y1="335.4" x2="337.1" y2="335.4" stroke="#ee1111" stroke-width="1.2"/>
<rect x="332.2" y="321.2" width="4.8" height="4.8" fill="#ee1111"/>
<polyline points="235.9,298.0 260.6,298.0 285.2,298.0 309.9,296.7 334.6,298.7" fill="none" stroke="#000" stroke-width="1.3" stroke-linejoin="round"/>
<circle cx="235.9" cy="298.0" r="2.2" fill="#000"/>
<circle cx="260.6" cy="298.0" r="2.2" fill="#000"/>
<line x1="285.2" y1="296.4" x2="285.2" y2="299.6" stroke="#000" stroke-width="1.2"/>
<line x1="282.8" y1="296.4" x2="287.8" y2="296.4" stroke="#000" stroke-width="1.2"/>
<line x1="282.8" y1="299.6" x2="287.8" y2="299.6" stroke="#000" stroke-width="1.2"/>
<rect x="283.1" y="295.8" width="4.4" height="4.4" fill="#000"/>
<line x1="309.9" y1="294.7" x2="309.9" y2="298.7" stroke="#000" stroke-width="1.2"/>
<line x1="307.4" y1="294.7" x2="312.4" y2="294.7" stroke="#000" stroke-width="1.2"/>
<line x1="307.4" y1="298.7" x2="312.4" y2="298.7" stroke="#000" stroke-width="1.2"/>
<rect x="307.7" y="294.5" width="4.4" height="4.4" fill="#000"/>
<line x1="334.6" y1="296.7" x2="334.6" y2="300.6" stroke="#000" stroke-width="1.2"/>
<line x1="332.1" y1="296.7" x2="337.1" y2="296.7" stroke="#000" stroke-width="1.2"/>
<line x1="332.1" y1="300.6" x2="337.1" y2="300.6" stroke="#000" stroke-width="1.2"/>
<rect x="332.4" y="296.5" width="4.4" height="4.4" fill="#000"/>
<line x1="218.8" y1="271.8" x2="218.8" y2="351.1" stroke="#000" stroke-width="1.3"/>
<line x1="218.2" y1="350.5" x2="349.8" y2="350.5" stroke="#000" stroke-width="1.3"/>
<line x1="212.5" y1="271.8" x2="218.8" y2="271.8" stroke="#000" stroke-width="1.3"/>
<text x="210.0" y="275.7" font-size="11" text-anchor="end" fill="#000" stroke="#000" stroke-width="0.2">2</text>
<line x1="212.5" y1="298.0" x2="218.8" y2="298.0" stroke="#000" stroke-width="1.3"/>
<text x="210.0" y="302.0" font-size="11" text-anchor="end" fill="#000" stroke="#000" stroke-width="0.2">0</text>
<line x1="212.5" y1="324.2" x2="218.8" y2="324.2" stroke="#000" stroke-width="1.3"/>
<text x="210.0" y="328.2" font-size="11" text-anchor="end" fill="#000" stroke="#000" stroke-width="0.2">-2</text>
<line x1="212.5" y1="350.5" x2="218.8" y2="350.5" stroke="#000" stroke-width="1.3"/>
<text x="210.0" y="354.5" font-size="11" text-anchor="end" fill="#000" stroke="#000" stroke-width="0.2">-4</text>
<line x1="235.9" y1="350.5" x2="235.9" y2="357.5" stroke="#000" stroke-width="1.3"/>
<text x="235.9" y="370.8" font-size="11" text-anchor="middle" fill="#000" stroke="#000" stroke-width="0.2">0</text>
<line x1="260.6" y1="350.5" x2="260.6" y2="357.5" stroke="#000" stroke-width="1.3"/>
<text x="260.6" y="370.8" font-size="11" text-anchor="middle" fill="#000" stroke="#000" stroke-width="0.2">30</text>
<line x1="285.2" y1="350.5" x2="285.2" y2="357.5" stroke="#000" stroke-width="1.3"/>
<text x="285.2" y="370.8" font-size="11" text-anchor="middle" fill="#000" stroke="#000" stroke-width="0.2">60</text>
<line x1="309.9" y1="350.5" x2="309.9" y2="357.5" stroke="#000" stroke-width="1.3"/>
<text x="309.9" y="370.8" font-size="11" text-anchor="middle" fill="#000" stroke="#000" stroke-width="0.2">90</text>
<line x1="334.6" y1="350.5" x2="334.6" y2="357.5" stroke="#000" stroke-width="1.3"/>
<text x="334.6" y="370.8" font-size="11" text-anchor="middle" fill="#000" stroke="#000" stroke-width="0.2">120</text>
<text x="285.0" y="386.7" font-size="11" text-anchor="middle" fill="#000" stroke="#000" stroke-width="0.2">Time after injection (min)</text>
<text transform="translate(189.5,312.0) rotate(-90)" font-size="11" text-anchor="middle" fill="#000" stroke="#000" stroke-width="0.2">ΔT<tspan font-size="8" dy="2">iBAT</tspan><tspan dy="-2">(°C)</tspan></text>
<polyline points="349.2,300.5 357.5,300.5 357.5,320.2 349.2,320.2" fill="none" stroke="#000" stroke-width="1.2"/>
<text transform="translate(359.8,309.2) rotate(90)" font-size="9" text-anchor="middle" fill="#000" stroke="#000" stroke-width="0.2">**</text>
<line x1="486.5" y1="297.9" x2="616.0" y2="297.9" stroke="#000" stroke-width="1.8" stroke-dasharray="1.8 4.2"/>
<polyline points="502.0,297.9 526.7,329.7 551.4,337.0 576.0,347.6 600.7,346.3" fill="none" stroke="#ee1111" stroke-width="1.3" stroke-linejoin="round"/>
<rect x="499.6" y="295.5" width="4.8" height="4.8" fill="#ee1111"/>
<line x1="526.7" y1="320.4" x2="526.7" y2="339.0" stroke="#ee1111" stroke-width="1.2"/>
<line x1="524.2" y1="320.4" x2="529.2" y2="320.4" stroke="#ee1111" stroke-width="1.2"/>
<line x1="524.2" y1="339.0" x2="529.2" y2="339.0" stroke="#ee1111" stroke-width="1.2"/>
<rect x="524.3" y="327.3" width="4.8" height="4.8" fill="#ee1111"/>
<line x1="551.4" y1="328.4" x2="551.4" y2="345.6" stroke="#ee1111" stroke-width="1.2"/>
<line x1="548.9" y1="328.4" x2="553.9" y2="328.4" stroke="#ee1111" stroke-width="1.2"/>
<line x1="548.9" y1="345.6" x2="553.9" y2="345.6" stroke="#ee1111" stroke-width="1.2"/>
<rect x="549.0" y="334.6" width="4.8" height="4.8" fill="#ee1111"/>
<line x1="576.0" y1="343.6" x2="576.0" y2="350.9" stroke="#ee1111" stroke-width="1.2"/>
<line x1="573.5" y1="343.6" x2="578.5" y2="343.6" stroke="#ee1111" stroke-width="1.2"/>
<line x1="573.5" y1="350.9" x2="578.5" y2="350.9" stroke="#ee1111" stroke-width="1.2"/>
<rect x="573.6" y="345.2" width="4.8" height="4.8" fill="#ee1111"/>
<line x1="600.7" y1="330.4" x2="600.7" y2="350.9" stroke="#ee1111" stroke-width="1.2"/>
<line x1="598.2" y1="330.4" x2="603.2" y2="330.4" stroke="#ee1111" stroke-width="1.2"/>
<line x1="598.2" y1="350.9" x2="603.2" y2="350.9" stroke="#ee1111" stroke-width="1.2"/>
<rect x="598.3" y="343.9" width="4.8" height="4.8" fill="#ee1111"/>
<polyline points="502.0,297.9 526.7,302.5 551.4,305.8 576.0,302.5 600.7,300.5" fill="none" stroke="#000" stroke-width="1.3" stroke-linejoin="round"/>
<rect x="499.8" y="295.7" width="4.4" height="4.4" fill="#000"/>
<line x1="526.7" y1="297.2" x2="526.7" y2="307.8" stroke="#000" stroke-width="1.2"/>
<line x1="524.2" y1="297.2" x2="529.2" y2="297.2" stroke="#000" stroke-width="1.2"/>
<line x1="524.2" y1="307.8" x2="529.2" y2="307.8" stroke="#000" stroke-width="1.2"/>
<rect x="524.5" y="300.3" width="4.4" height="4.4" fill="#000"/>
<line x1="551.4" y1="303.9" x2="551.4" y2="307.8" stroke="#000" stroke-width="1.2"/>
<line x1="548.9" y1="303.9" x2="553.9" y2="303.9" stroke="#000" stroke-width="1.2"/>
<line x1="548.9" y1="307.8" x2="553.9" y2="307.8" stroke="#000" stroke-width="1.2"/>
<rect x="549.1" y="303.6" width="4.4" height="4.4" fill="#000"/>
<line x1="576.0" y1="301.2" x2="576.0" y2="303.9" stroke="#000" stroke-width="1.2"/>
<line x1="573.5" y1="301.2" x2="578.5" y2="301.2" stroke="#000" stroke-width="1.2"/>
<line x1="573.5" y1="303.9" x2="578.5" y2="303.9" stroke="#000" stroke-width="1.2"/>
<rect x="573.8" y="300.3" width="4.4" height="4.4" fill="#000"/>
<line x1="600.7" y1="298.6" x2="600.7" y2="302.5" stroke="#000" stroke-width="1.2"/>
<line x1="598.2" y1="298.6" x2="603.2" y2="298.6" stroke="#000" stroke-width="1.2"/>
<line x1="598.2" y1="302.5" x2="603.2" y2="302.5" stroke="#000" stroke-width="1.2"/>
<rect x="598.5" y="298.3" width="4.4" height="4.4" fill="#000"/>
<line x1="486.5" y1="271.4" x2="486.5" y2="351.5" stroke="#000" stroke-width="1.3"/>
<line x1="485.9" y1="350.9" x2="619.2" y2="350.9" stroke="#000" stroke-width="1.3"/>
<line x1="480.2" y1="271.4" x2="486.5" y2="271.4" stroke="#000" stroke-width="1.3"/>
<text x="477.7" y="275.4" font-size="11" text-anchor="end" fill="#000" stroke="#000" stroke-width="0.2">2</text>
<line x1="480.2" y1="297.9" x2="486.5" y2="297.9" stroke="#000" stroke-width="1.3"/>
<text x="477.7" y="301.9" font-size="11" text-anchor="end" fill="#000" stroke="#000" stroke-width="0.2">0</text>
<line x1="480.2" y1="324.4" x2="486.5" y2="324.4" stroke="#000" stroke-width="1.3"/>
<text x="477.7" y="328.4" font-size="11" text-anchor="end" fill="#000" stroke="#000" stroke-width="0.2">-2</text>
<line x1="480.2" y1="350.9" x2="486.5" y2="350.9" stroke="#000" stroke-width="1.3"/>
<text x="477.7" y="354.9" font-size="11" text-anchor="end" fill="#000" stroke="#000" stroke-width="0.2">-4</text>
<line x1="502.0" y1="350.9" x2="502.0" y2="357.9" stroke="#000" stroke-width="1.3"/>
<text x="502.0" y="370.7" font-size="11" text-anchor="middle" fill="#000" stroke="#000" stroke-width="0.2">0</text>
<line x1="526.7" y1="350.9" x2="526.7" y2="357.9" stroke="#000" stroke-width="1.3"/>
<text x="526.7" y="370.7" font-size="11" text-anchor="middle" fill="#000" stroke="#000" stroke-width="0.2">30</text>
<line x1="551.4" y1="350.9" x2="551.4" y2="357.9" stroke="#000" stroke-width="1.3"/>
<text x="551.4" y="370.7" font-size="11" text-anchor="middle" fill="#000" stroke="#000" stroke-width="0.2">60</text>
<line x1="576.0" y1="350.9" x2="576.0" y2="357.9" stroke="#000" stroke-width="1.3"/>
<text x="576.0" y="370.7" font-size="11" text-anchor="middle" fill="#000" stroke="#000" stroke-width="0.2">90</text>
<line x1="600.7" y1="350.9" x2="600.7" y2="357.9" stroke="#000" stroke-width="1.3"/>
<text x="600.7" y="370.7" font-size="11" text-anchor="middle" fill="#000" stroke="#000" stroke-width="0.2">120</text>
<text x="551.5" y="387.3" font-size="11" text-anchor="middle" fill="#000" stroke="#000" stroke-width="0.2">Time after injection (min)</text>
<text transform="translate(456.5,312.0) rotate(-90)" font-size="11" text-anchor="middle" fill="#000" stroke="#000" stroke-width="0.2">ΔT<tspan font-size="8" dy="2">iBAT</tspan><tspan dy="-2">(°C)</tspan></text>
<polyline points="620.0,298.2 630.5,298.2 630.5,345.2 620.0,345.2" fill="none" stroke="#000" stroke-width="1.2"/>
<text x="635.5" y="326.2" font-size="9" text-anchor="middle" fill="#000" stroke="#000" stroke-width="0.2">*</text>
<rect x="362.4" y="425.5" width="1.8" height="83.8" fill="#98c2f4"/>
<polygon points="347.4,440.7 348.0,442.2 348.5,440.5 349.0,440.6 349.6,441.4 350.1,442.6 350.6,443.1 351.2,442.8 351.7,440.1 352.2,436.2 352.8,437.6 353.3,439.3 353.8,439.7 354.4,435.6 354.9,438.9 355.4,442.4 356.0,440.9 356.5,441.4 357.0,440.2 357.6,439.3 358.1,438.9 358.6,437.2 359.2,437.9 359.7,438.9 360.2,437.8 360.7,437.3 361.3,440.2 361.8,438.2 362.3,439.5 362.9,438.2 363.4,461.8 363.9,473.3 364.5,473.7 365.0,474.4 365.5,476.0 366.1,474.4 366.6,476.0 367.1,475.9 367.7,473.1 368.2,474.3 368.7,471.7 369.3,471.3 369.8,475.4 370.3,472.5 370.9,473.9 371.4,471.1 371.9,471.7 372.5,475.9 373.0,473.5 373.5,474.5 374.1,473.9 374.6,476.7 375.1,473.7 375.7,475.7 376.2,475.3 376.7,476.3 377.2,472.4 377.8,472.7 378.3,470.3 378.8,470.8 379.4,467.8 379.9,467.7 380.4,469.3 381.0,468.1 381.5,464.7 382.0,467.0 382.6,465.3 383.1,465.5 383.6,463.2 384.2,464.1 384.7,462.1 385.2,461.3 385.8,460.5 386.3,459.5 386.8,455.7 387.4,457.7 387.9,454.6 388.4,452.5 389.0,449.5 389.5,452.2 390.0,453.9 390.6,455.0 391.1,454.8 391.6,457.5 392.2,457.4 392.7,454.9 393.2,457.2 393.7,454.7 394.3,454.2 394.8,454.3 395.3,452.1 395.9,450.0 396.4,452.3 396.9,452.1 397.5,451.8 398.0,448.2 398.5,447.5 399.1,445.9 399.6,447.3 400.1,447.3 400.7,447.5 401.2,447.6 401.7,446.5 402.3,448.4 402.8,448.6 403.3,445.6 403.9,447.3 404.4,448.7 404.9,440.9 405.5,440.1 406.0,441.8 406.5,440.2 407.1,441.5 407.6,443.1 408.1,442.5 408.7,442.8 409.2,439.8 409.7,438.3 410.2,440.1 410.8,439.7 411.3,438.4 411.8,443.2 412.4,440.1 412.9,440.3 413.4,439.6 414.0,437.7 414.5,434.9 415.0,434.5 415.6,435.9 416.1,435.2 416.6,434.0 417.2,436.3 417.7,436.8 418.2,437.6 418.8,438.2 419.3,438.8 419.8,438.4 420.4,439.1 420.9,438.7 421.4,439.6 422.0,436.8 422.5,435.8 423.0,434.9 423.6,432.2 424.1,435.7 424.6,437.6 425.2,432.0 425.7,432.5 426.2,434.7 426.7,432.0 427.3,435.4 427.8,438.7 428.3,437.1 428.9,438.5 429.4,436.3 429.9,439.1 430.5,439.2 431.0,440.4 431.5,441.8 432.1,443.0 432.6,443.0 433.1,441.6 433.7,443.5 434.2,443.1 434.7,442.3 435.3,439.1 435.8,440.8 436.3,438.8 436.9,439.7 437.4,435.4 437.9,436.5 438.5,437.1 439.0,434.5 439.5,433.7 440.1,438.8 440.6,436.3 441.1,437.0 441.7,435.6 442.2,436.6 442.7,436.7 443.3,437.5 443.8,437.2 444.3,438.5 444.8,444.3 445.4,445.9 445.9,442.1 446.4,445.2 447.0,444.5 447.5,443.5 448.0,444.0 448.6,442.3 449.1,443.8 449.6,444.9 450.2,442.6 450.7,440.3 451.2,438.6 451.8,441.0 452.3,441.2 452.8,440.8 453.4,437.1 453.9,438.8 454.4,440.3 455.0,438.4 455.5,435.8 456.0,434.7 456.6,437.4 457.1,434.7 457.6,435.8 458.2,439.7 458.7,438.2 459.2,435.0 459.8,434.7 460.3,434.0 460.8,434.3 461.3,433.8 461.9,436.8 462.4,436.6 462.9,438.5 463.5,436.8 464.0,436.7 464.5,432.0 465.1,435.8 465.6,432.7 466.1,432.0 466.7,433.2 467.2,432.0 467.7,438.2 468.3,434.7 468.8,433.0 469.3,436.9 469.9,433.4 470.4,428.4 470.9,431.3 471.5,432.5 472.0,432.4 472.5,433.9 473.1,433.2 473.6,432.8 474.1,433.9 474.7,436.6 475.2,434.8 475.7,431.7 476.3,432.8 476.8,432.1 477.3,430.8 477.8,434.3 478.4,434.5 478.9,433.6 479.4,436.4 480.0,439.1 480.5,439.5 481.0,439.7 481.6,442.8 482.1,444.6 482.6,444.6 483.2,446.4 483.7,446.6 484.2,446.2 484.8,446.9 485.3,450.5 485.3,457.6 484.8,457.6 484.2,456.0 483.7,453.8 483.2,452.2 482.6,450.6 482.1,448.4 481.6,447.0 481.0,445.1 480.5,446.2 480.0,444.5 479.4,442.5 478.9,442.9 478.4,445.5 477.8,445.0 477.3,441.5 476.8,439.8 476.3,440.9 475.7,439.0 475.2,441.4 474.7,443.9 474.1,444.4 473.6,441.5 473.1,441.9 472.5,443.1 472.0,443.0 471.5,443.7 470.9,443.6 470.4,441.3 469.9,445.4 469.3,447.9 468.8,443.4 468.3,445.5 467.7,448.2 467.2,443.1 466.7,444.4 466.1,441.9 465.6,441.9 465.1,444.9 464.5,440.8 464.0,444.7 463.5,445.7 462.9,446.8 462.4,446.1 461.9,448.0 461.3,447.1 460.8,448.5 460.3,447.9 459.8,446.5 459.2,444.4 458.7,446.9 458.2,448.8 457.6,447.4 457.1,447.3 456.6,450.6 456.0,448.0 455.5,448.9 455.0,450.7 454.4,453.1 453.9,450.4 453.4,447.7 452.8,452.6 452.3,452.6 451.8,452.0 451.2,450.9 450.7,452.1 450.2,450.9 449.6,453.9 449.1,453.2 448.6,451.9 448.0,453.6 447.5,454.7 447.0,455.6 446.4,456.0 445.9,450.9 445.4,455.7 444.8,453.0 444.3,448.7 443.8,448.3 443.3,450.4 442.7,450.6 442.2,451.9 441.7,448.5 441.1,449.7 440.6,448.6 440.1,449.6 439.5,442.2 439.0,443.7 438.5,445.8 437.9,445.2 437.4,445.2 436.9,451.2 436.3,449.4 435.8,450.8 435.3,448.1 434.7,448.7 434.2,448.7 433.7,447.7 433.1,447.1 432.6,449.6 432.1,452.5 431.5,451.8 431.0,450.4 430.5,449.4 429.9,450.8 429.4,446.3 428.9,448.4 428.3,449.0 427.8,451.8 427.3,446.9 426.7,444.3 426.2,447.6 425.7,443.7 425.2,442.0 424.6,447.2 424.1,445.7 423.6,445.2 423.0,446.4 422.5,445.4 422.0,447.5 421.4,448.1 420.9,445.4 420.4,448.4 419.8,449.7 419.3,447.8 418.8,450.5 418.2,450.0 417.7,447.7 417.2,447.8 416.6,448.1 416.1,449.3 415.6,450.1 415.0,448.3 414.5,449.7 414.0,450.0 413.4,449.0 412.9,449.0 412.4,450.5 411.8,453.1 411.3,450.6 410.8,454.6 410.2,454.7 409.7,450.4 409.2,451.4 408.7,454.9 408.1,452.5 407.6,452.7 407.1,455.4 406.5,455.8 406.0,455.4 405.5,453.9 404.9,454.5 404.4,456.8 403.9,453.6 403.3,453.3 402.8,456.7 402.3,457.2 401.7,458.7 401.2,461.1 400.7,462.0 400.1,462.1 399.6,461.4 399.1,459.1 398.5,459.1 398.0,456.6 397.5,459.5 396.9,459.5 396.4,460.6 395.9,460.0 395.3,464.5 394.8,465.8 394.3,465.8 393.7,464.4 393.2,465.1 392.7,463.4 392.2,465.5 391.6,464.8 391.1,463.9 390.6,464.4 390.0,463.4 389.5,463.2 389.0,461.9 388.4,465.5 387.9,468.6 387.4,469.7 386.8,468.5 386.3,471.7 385.8,470.7 385.2,470.0 384.7,471.1 384.2,471.1 383.6,469.9 383.1,472.6 382.6,471.8 382.0,474.9 381.5,474.3 381.0,477.8 380.4,479.3 379.9,477.8 379.4,478.2 378.8,478.4 378.3,475.7 377.8,478.3 377.2,476.2 376.7,478.4 376.2,477.4 375.7,478.9 375.1,475.7 374.6,480.3 374.1,478.1 373.5,480.4 373.0,480.4 372.5,483.7 371.9,479.7 371.4,479.1 370.9,480.3 370.3,478.2 369.8,481.6 369.3,478.2 368.7,476.6 368.2,479.8 367.7,477.5 367.1,480.0 366.6,479.4 366.1,478.5 365.5,479.2 365.0,478.6 364.5,477.8 363.9,477.2 363.4,467.4 362.9,445.4 362.3,446.5 361.8,445.1 361.3,447.3 360.7,443.6 360.2,444.0 359.7,446.0 359.2,444.5 358.6,443.9 358.1,445.3 357.6,445.1 357.0,446.0 356.5,447.3 356.0,445.1 355.4,447.4 354.9,444.3 354.4,442.3 353.8,446.3 353.3,446.8 352.8,445.8 352.2,445.1 351.7,447.3 351.2,451.1 350.6,452.3 350.1,451.5 349.6,448.5 349.0,447.7 348.5,446.5 348.0,447.4 347.4,446.1" fill="#7a7a7a"/>
<polyline points="347.4,444.4 348.0,445.8 348.5,444.9 349.0,444.6 349.6,444.2 350.1,446.2 350.6,446.3 351.2,445.8 351.7,442.9 352.2,440.8 352.8,441.9 353.3,443.6 353.8,443.5 354.4,440.1 354.9,442.4 355.4,445.4 356.0,443.3 356.5,444.6 357.0,443.3 357.6,442.6 358.1,442.4 358.6,440.1 359.2,440.4 359.7,441.2 360.2,439.9 360.7,439.4 361.3,443.1 361.8,441.2 362.3,442.3 362.9,440.7 363.4,463.7 363.9,475.7 364.5,476.1 365.0,476.7 365.5,478.1 366.1,477.5 366.6,478.5 367.1,478.6 367.7,476.1 368.2,477.7 368.7,474.2 369.3,474.6 369.8,478.6 370.3,475.6 370.9,477.8 371.4,476.5 371.9,476.7 372.5,479.9 373.0,477.1 373.5,476.9 374.1,474.9 374.6,477.7 375.1,474.7 375.7,477.2 376.2,476.3 376.7,477.3 377.2,474.3 377.8,475.9 378.3,473.5 378.8,475.7 379.4,474.6 379.9,473.8 380.4,475.1 381.0,472.9 381.5,469.3 382.0,470.2 382.6,467.7 383.1,467.4 383.6,466.0 384.2,466.8 384.7,466.0 385.2,464.9 385.8,464.5 386.3,465.1 386.8,461.8 387.4,464.1 387.9,463.1 388.4,462.4 389.0,458.6 389.5,460.1 390.0,460.6 390.6,460.4 391.1,457.8 391.6,459.5 392.2,459.5 392.7,456.5 393.2,458.9 393.7,457.3 394.3,456.6 394.8,457.0 395.3,455.8 395.9,453.1 396.4,455.1 396.9,455.5 397.5,455.6 398.0,452.8 398.5,452.8 399.1,451.8 399.6,452.7 400.1,452.6 400.7,452.8 401.2,452.3 401.7,450.9 402.3,451.3 402.8,450.2 403.3,447.2 403.9,448.8 404.4,451.4 404.9,446.2 405.5,447.8 406.0,449.2 406.5,446.2 407.1,447.1 407.6,447.6 408.1,447.2 408.7,447.7 409.2,446.1 409.7,444.5 410.2,446.4 410.8,445.2 411.3,443.1 411.8,447.4 412.4,445.0 412.9,445.3 413.4,445.8 414.0,445.3 414.5,443.3 415.0,442.2 415.6,443.1 416.1,441.7 416.6,441.2 417.2,442.3 417.7,442.1 418.2,443.2 418.8,443.7 419.3,442.2 419.8,443.6 420.4,444.1 420.9,443.0 421.4,445.0 422.0,443.9 422.5,442.0 423.0,441.8 423.6,440.1 424.1,441.9 424.6,443.6 425.2,438.3 425.7,439.2 426.2,441.8 426.7,438.9 427.3,441.6 427.8,445.0 428.3,443.9 428.9,444.8 429.4,442.6 429.9,446.5 430.5,446.3 431.0,446.9 431.5,447.5 432.1,448.8 432.6,447.4 433.1,445.6 433.7,445.6 434.2,447.2 434.7,446.9 435.3,444.5 435.8,445.1 436.3,444.4 436.9,445.3 437.4,439.6 437.9,440.6 438.5,442.7 439.0,439.5 439.5,438.3 440.1,444.4 440.6,442.6 441.1,443.1 441.7,442.5 442.2,444.4 442.7,445.4 443.3,446.2 443.8,444.6 444.3,445.2 444.8,450.1 445.4,451.7 445.9,446.9 446.4,451.6 447.0,450.5 447.5,449.0 448.0,447.9 448.6,446.6 449.1,447.0 449.6,448.4 450.2,446.1 450.7,446.0 451.2,443.3 451.8,445.6 452.3,447.1 452.8,446.3 453.4,442.5 453.9,445.2 454.4,447.2 455.0,444.8 455.5,443.8 456.0,441.9 456.6,444.8 457.1,442.2 457.6,441.9 458.2,443.8 458.7,442.9 459.2,439.9 459.8,439.7 460.3,440.8 460.8,441.3 461.3,440.0 461.9,441.6 462.4,441.3 462.9,442.2 463.5,440.8 464.0,440.7 464.5,436.4 465.1,440.5 465.6,438.2 466.1,437.9 466.7,439.8 467.2,437.7 467.7,442.3 468.3,438.8 468.8,437.6 469.3,442.0 469.9,440.2 470.4,436.9 470.9,438.7 471.5,439.8 472.0,438.7 472.5,438.8 473.1,436.9 473.6,437.0 474.1,437.7 474.7,438.0 475.2,436.8 475.7,434.6 476.3,435.6 476.8,434.9 477.3,436.1 477.8,438.8 478.4,439.1 478.9,438.2 479.4,440.1 480.0,442.6 480.5,444.8 481.0,443.7 481.6,445.7 482.1,447.0 482.6,448.3 483.2,448.8 483.7,450.0 484.2,450.3 484.8,451.5 485.3,452.1" fill="none" stroke="#111" stroke-width="1.2" stroke-linejoin="round"/>
<polygon points="347.4,432.6 348.0,432.6 348.5,432.3 349.0,431.7 349.6,431.9 350.1,431.6 350.6,432.2 351.2,433.1 351.7,434.2 352.2,434.5 352.8,434.7 353.3,434.9 353.8,434.2 354.4,433.0 354.9,432.8 355.4,432.6 356.0,433.1 356.5,432.2 357.0,432.6 357.6,432.6 358.1,433.0 358.6,433.2 359.2,434.0 359.7,434.3 360.2,434.6 360.7,434.0 361.3,433.2 361.8,433.6 362.3,433.8 362.9,434.7 363.4,434.5 363.9,435.4 364.5,435.8 365.0,436.9 365.5,437.7 366.1,437.9 366.6,437.5 367.1,437.6 367.7,438.6 368.2,439.6 368.7,439.6 369.3,438.3 369.8,437.3 370.3,436.5 370.9,435.6 371.4,435.4 371.9,436.3 372.5,436.4 373.0,436.6 373.5,436.0 374.1,435.5 374.6,435.1 375.1,434.8 375.7,434.8 376.2,433.5 376.7,433.3 377.2,433.8 377.8,434.4 378.3,434.4 378.8,433.7 379.4,433.9 379.9,433.6 380.4,433.0 381.0,432.5 381.5,433.2 382.0,433.4 382.6,434.1 383.1,434.1 383.6,434.2 384.2,433.9 384.7,433.7 385.2,432.7 385.8,432.6 386.3,432.9 386.8,434.5 387.4,434.8 387.9,435.1 388.4,434.9 389.0,434.2 389.5,433.9 390.0,433.0 390.6,432.2 391.1,432.0 391.6,432.2 392.2,433.0 392.7,433.3 393.2,433.7 393.7,433.7 394.3,433.3 394.8,433.1 395.3,433.4 395.9,434.0 396.4,434.4 396.9,434.0 397.5,433.6 398.0,433.2 398.5,432.9 399.1,433.1 399.6,432.8 400.1,432.8 400.7,432.5 401.2,433.5 401.7,433.1 402.3,433.9 402.8,433.8 403.3,434.0 403.9,433.5 404.4,432.6 404.9,433.0 405.5,433.3 406.0,433.9 406.5,434.2 407.1,433.2 407.6,432.5 408.1,432.0 408.7,432.6 409.2,432.9 409.7,432.9 410.2,433.2 410.8,433.5 411.3,433.6 411.8,433.3 412.4,433.2 412.9,433.7 413.4,434.5 414.0,434.1 414.5,433.7 415.0,433.4 415.6,434.2 416.1,434.4 416.6,433.2 417.2,432.6 417.7,432.6 418.2,432.6 418.8,432.5 419.3,432.4 419.8,434.1 420.4,434.2 420.9,434.0 421.4,433.0 422.0,433.5 422.5,432.7 423.0,432.2 423.6,431.9 424.1,432.7 424.6,433.3 425.2,433.4 425.7,434.2 426.2,433.8 426.7,433.8 427.3,433.1 427.8,433.6 428.3,432.9 428.9,432.5 429.4,432.0 429.9,432.4 430.5,432.9 431.0,433.7 431.5,433.9 432.1,433.4 432.6,434.0 433.1,433.7 433.7,433.5 434.2,432.7 434.7,432.4 435.3,432.2 435.8,432.3 436.3,433.0 436.9,433.4 437.4,433.9 437.9,433.5 438.5,434.0 439.0,434.2 439.5,434.0 440.1,433.7 440.6,433.2 441.1,432.8 441.7,433.1 442.2,433.7 442.7,433.7 443.3,433.8 443.8,433.5 444.3,433.5 444.8,433.0 445.4,433.0 445.9,432.7 446.4,433.2 447.0,433.1 447.5,433.7 448.0,433.4 448.6,433.4 449.1,433.5 449.6,434.6 450.2,434.5 450.7,433.9 451.2,433.0 451.8,433.6 452.3,433.8 452.8,433.8 453.4,433.6 453.9,433.2 454.4,433.4 455.0,433.7 455.5,433.8 456.0,434.1 456.6,433.7 457.1,434.4 457.6,434.2 458.2,434.0 458.7,433.6 459.2,433.5 459.8,433.8 460.3,433.4 460.8,432.8 461.3,432.9 461.9,433.0 462.4,433.5 462.9,434.3 463.5,434.8 464.0,434.7 464.5,434.0 465.1,433.1 465.6,433.1 466.1,433.1 466.7,433.2 467.2,433.2 467.7,432.6 468.3,433.4 468.8,433.2 469.3,433.7 469.9,433.3 470.4,433.0 470.9,432.9 471.5,433.3 472.0,433.9 472.5,433.9 473.1,433.9 473.6,433.3 474.1,432.9 474.7,432.5 475.2,432.8 475.7,433.5 476.3,433.4 476.8,433.1 477.3,432.9 477.8,433.5 478.4,433.2 478.9,433.7 479.4,433.7 480.0,433.5 480.5,433.3 481.0,433.5 481.6,434.3 482.1,434.0 482.6,434.2 483.2,433.8 483.7,433.8 484.2,432.7 484.8,432.6 485.3,432.5 485.3,434.2 484.8,434.2 484.2,434.3 483.7,435.5 483.2,435.4 482.6,435.5 482.1,435.2 481.6,435.5 481.0,434.8 480.5,434.7 480.0,434.8 479.4,434.9 478.9,435.0 478.4,434.4 477.8,434.6 477.3,434.4 476.8,435.2 476.3,435.3 475.7,435.4 475.2,434.7 474.7,434.1 474.1,434.0 473.6,434.1 473.1,434.8 472.5,435.1 472.0,435.1 471.5,434.4 470.9,434.0 470.4,434.0 469.9,434.4 469.3,435.0 468.8,434.7 468.3,435.1 467.7,434.6 467.2,435.0 466.7,434.7 466.1,434.9 465.6,435.1 465.1,434.7 464.5,435.7 464.0,436.6 463.5,436.4 462.9,435.6 462.4,435.1 461.9,434.7 461.3,434.5 460.8,434.3 460.3,435.1 459.8,435.3 459.2,435.0 458.7,435.3 458.2,435.7 457.6,435.8 457.1,435.8 456.6,434.9 456.0,435.0 455.5,434.7 455.0,434.7 454.4,434.7 453.9,434.6 453.4,435.4 452.8,435.8 452.3,435.7 451.8,435.0 451.2,434.6 450.7,435.4 450.2,435.9 449.6,436.1 449.1,435.5 448.6,435.3 448.0,435.3 447.5,435.5 447.0,434.9 446.4,434.9 445.9,434.5 445.4,434.7 444.8,434.7 444.3,435.3 443.8,434.9 443.3,435.1 442.7,435.0 442.2,435.0 441.7,434.2 441.1,434.1 440.6,434.5 440.1,434.7 439.5,435.0 439.0,435.2 438.5,435.2 437.9,434.7 437.4,435.5 436.9,435.2 436.3,434.9 435.8,434.0 435.3,434.1 434.7,434.4 434.2,434.2 433.7,434.9 433.1,435.0 432.6,435.2 432.1,434.7 431.5,435.5 431.0,435.0 430.5,434.5 429.9,433.9 429.4,433.6 428.9,434.1 428.3,434.5 427.8,434.8 427.3,434.5 426.7,434.9 426.2,434.7 425.7,435.2 425.2,434.9 424.6,434.7 424.1,434.2 423.6,433.7 423.0,434.1 422.5,434.7 422.0,435.3 421.4,434.7 420.9,435.7 420.4,435.9 419.8,435.5 419.3,434.0 418.8,434.3 418.2,434.4 417.7,434.6 417.2,434.6 416.6,435.3 416.1,436.6 415.6,436.3 415.0,435.4 414.5,435.4 414.0,435.4 413.4,435.6 412.9,434.7 412.4,434.3 411.8,434.7 411.3,435.2 410.8,435.3 410.2,435.0 409.7,435.0 409.2,435.2 408.7,434.9 408.1,434.0 407.6,434.5 407.1,434.8 406.5,435.3 406.0,435.1 405.5,434.5 404.9,434.2 404.4,434.1 403.9,435.3 403.3,435.6 402.8,435.5 402.3,435.7 401.7,434.8 401.2,435.0 400.7,434.0 400.1,434.4 399.6,434.1 399.1,434.3 398.5,434.1 398.0,434.8 397.5,435.2 396.9,435.8 396.4,436.4 395.9,436.1 395.3,435.2 394.8,435.1 394.3,435.3 393.7,435.6 393.2,435.3 392.7,435.0 392.2,434.5 391.6,433.4 391.1,433.1 390.6,433.5 390.0,434.3 389.5,435.4 389.0,435.9 388.4,436.6 387.9,436.5 387.4,436.2 386.8,435.6 386.3,433.9 385.8,433.6 385.2,434.1 384.7,435.1 384.2,435.5 383.6,436.0 383.1,436.0 382.6,436.1 382.0,435.6 381.5,435.3 381.0,434.7 380.4,435.1 379.9,435.3 379.4,435.2 378.8,434.9 378.3,435.4 377.8,435.3 377.2,435.0 376.7,434.6 376.2,435.1 375.7,436.2 375.1,436.0 374.6,436.3 374.1,436.8 373.5,437.2 373.0,438.1 372.5,438.4 371.9,438.3 371.4,437.4 370.9,437.7 370.3,438.4 369.8,439.1 369.3,439.8 368.7,440.9 368.2,441.0 367.7,440.0 367.1,439.2 366.6,439.5 366.1,439.8 365.5,439.7 365.0,438.9 364.5,437.5 363.9,436.8 363.4,436.0 362.9,436.3 362.3,435.3 361.8,435.0 361.3,434.7 360.7,435.7 360.2,435.7 359.7,435.9 359.2,435.7 358.6,434.7 358.1,434.6 357.6,434.6 357.0,434.6 356.5,434.2 356.0,435.3 355.4,434.8 354.9,435.1 354.4,434.9 353.8,436.2 353.3,436.5 352.8,436.6 352.2,436.1 351.7,436.1 351.2,434.8 350.6,434.4 350.1,433.6 349.6,433.7 349.0,433.1 348.5,433.6 348.0,433.9 347.4,433.6" fill="#ff6464"/>
<polyline points="347.4,433.0 348.0,433.1 348.5,432.8 349.0,432.1 349.6,432.5 350.1,432.5 350.6,433.3 351.2,433.9 351.7,435.0 352.2,435.2 352.8,435.5 353.3,435.5 353.8,435.1 354.4,434.0 354.9,434.0 355.4,433.7 356.0,434.2 356.5,433.3 357.0,433.6 357.6,433.6 358.1,434.0 358.6,434.1 359.2,434.9 359.7,435.3 360.2,435.2 360.7,434.8 361.3,434.1 361.8,434.5 362.3,434.6 362.9,435.5 363.4,435.2 363.9,435.9 364.5,436.5 365.0,437.8 365.5,438.6 366.1,438.9 366.6,438.4 367.1,438.3 367.7,439.2 368.2,440.2 368.7,440.2 369.3,439.2 369.8,438.3 370.3,437.4 370.9,436.6 371.4,436.2 371.9,436.9 372.5,436.9 373.0,437.1 373.5,436.3 374.1,435.9 374.6,435.6 375.1,435.4 375.7,435.4 376.2,434.3 376.7,434.0 377.2,434.5 377.8,435.0 378.3,435.0 378.8,434.3 379.4,434.6 379.9,434.5 380.4,434.1 381.0,433.8 381.5,434.3 382.0,434.6 382.6,435.2 383.1,435.3 383.6,435.4 384.2,435.2 384.7,434.9 385.2,433.8 385.8,433.3 386.3,433.5 386.8,435.1 387.4,435.5 387.9,435.7 388.4,435.7 389.0,435.2 389.5,434.9 390.0,434.0 390.6,433.2 391.1,432.9 391.6,433.0 392.2,434.0 392.7,434.1 393.2,434.5 393.7,434.7 394.3,434.2 394.8,434.0 395.3,434.4 395.9,435.2 396.4,435.5 396.9,435.0 397.5,434.4 398.0,433.9 398.5,433.5 399.1,433.7 399.6,433.6 400.1,433.9 400.7,433.5 401.2,434.4 401.7,434.1 402.3,434.9 402.8,434.6 403.3,434.8 403.9,434.4 404.4,433.4 404.9,433.6 405.5,433.8 406.0,434.4 406.5,434.6 407.1,433.7 407.6,433.2 408.1,432.8 408.7,433.5 409.2,434.0 409.7,433.9 410.2,434.0 410.8,434.3 411.3,434.4 411.8,433.9 412.4,433.7 412.9,434.1 413.4,435.0 414.0,434.5 414.5,434.5 415.0,434.3 415.6,435.1 416.1,435.4 416.6,434.3 417.2,433.7 417.7,433.8 418.2,433.8 418.8,433.6 419.3,433.5 419.8,435.0 420.4,435.2 420.9,435.0 421.4,434.1 422.0,434.7 422.5,434.0 423.0,433.5 423.6,433.0 424.1,433.5 424.6,433.9 425.2,434.0 425.7,434.5 426.2,434.2 426.7,434.5 427.3,433.9 427.8,434.2 428.3,433.8 428.9,433.5 429.4,432.8 429.9,433.3 430.5,434.0 431.0,434.7 431.5,434.8 432.1,434.2 432.6,434.5 433.1,434.2 433.7,434.2 434.2,433.6 434.7,433.6 435.3,433.4 435.8,433.3 436.3,434.0 436.9,434.3 437.4,434.7 437.9,434.2 438.5,434.6 439.0,434.6 439.5,434.4 440.1,434.1 440.6,433.6 441.1,433.4 441.7,433.7 442.2,434.5 442.7,434.5 443.3,434.6 443.8,434.2 444.3,434.4 444.8,433.8 445.4,433.7 445.9,433.3 446.4,433.8 447.0,433.8 447.5,434.5 448.0,434.3 448.6,434.5 449.1,434.6 449.6,435.5 450.2,435.2 450.7,434.8 451.2,433.8 451.8,434.4 452.3,434.7 452.8,434.5 453.4,434.3 453.9,433.8 454.4,433.9 455.0,434.2 455.5,434.4 456.0,434.6 456.6,434.3 457.1,435.1 457.6,435.0 458.2,434.9 458.7,434.5 459.2,434.4 459.8,434.4 460.3,434.1 460.8,433.5 461.3,433.8 461.9,433.9 462.4,434.6 462.9,435.2 463.5,435.6 464.0,435.4 464.5,434.8 465.1,433.8 465.6,434.0 466.1,434.0 466.7,434.1 467.2,434.0 467.7,433.4 468.3,434.1 468.8,434.0 469.3,434.3 469.9,433.8 470.4,433.5 470.9,433.4 471.5,433.6 472.0,434.2 472.5,434.2 473.1,434.2 473.6,433.7 474.1,433.5 474.7,433.5 475.2,434.1 475.7,434.7 476.3,434.5 476.8,434.2 477.3,433.7 477.8,434.0 478.4,433.8 478.9,434.5 479.4,434.5 480.0,434.2 480.5,434.1 481.0,434.2 481.6,434.8 482.1,434.4 482.6,434.8 483.2,434.8 483.7,434.7 484.2,433.7 484.8,433.6 485.3,433.6" fill="none" stroke="#ee1111" stroke-width="1.2" stroke-linejoin="round"/>
<line x1="347.4" y1="417.2" x2="347.4" y2="509.9" stroke="#000" stroke-width="1.3"/>
<line x1="346.8" y1="509.3" x2="485.3" y2="509.3" stroke="#000" stroke-width="1.3"/>
<line x1="340.9" y1="417.2" x2="347.4" y2="417.2" stroke="#000" stroke-width="1.3"/>
<text x="338.4" y="420.6" font-size="9.5" text-anchor="end" fill="#000" stroke="#000" stroke-width="0.2">800</text>
<line x1="340.9" y1="447.9" x2="347.4" y2="447.9" stroke="#000" stroke-width="1.3"/>
<text x="338.4" y="451.3" font-size="9.5" text-anchor="end" fill="#000" stroke="#000" stroke-width="0.2">600</text>
<line x1="340.9" y1="478.6" x2="347.4" y2="478.6" stroke="#000" stroke-width="1.3"/>
<text x="338.4" y="482.0" font-size="9.5" text-anchor="end" fill="#000" stroke="#000" stroke-width="0.2">400</text>
<line x1="340.9" y1="509.3" x2="347.4" y2="509.3" stroke="#000" stroke-width="1.3"/>
<text x="338.4" y="512.7" font-size="9.5" text-anchor="end" fill="#000" stroke="#000" stroke-width="0.2">200</text>
<line x1="363.3" y1="509.3" x2="363.3" y2="515.8" stroke="#000" stroke-width="1.3"/>
<text x="363.3" y="527.7" font-size="9.5" text-anchor="middle" fill="#000" stroke="#000" stroke-width="0.2">0</text>
<line x1="393.8" y1="509.3" x2="393.8" y2="515.8" stroke="#000" stroke-width="1.3"/>
<text x="393.8" y="527.7" font-size="9.5" text-anchor="middle" fill="#000" stroke="#000" stroke-width="0.2">30</text>
<line x1="424.3" y1="509.3" x2="424.3" y2="515.8" stroke="#000" stroke-width="1.3"/>
<text x="424.3" y="527.7" font-size="9.5" text-anchor="middle" fill="#000" stroke="#000" stroke-width="0.2">60</text>
<line x1="454.8" y1="509.3" x2="454.8" y2="515.8" stroke="#000" stroke-width="1.3"/>
<text x="454.8" y="527.7" font-size="9.5" text-anchor="middle" fill="#000" stroke="#000" stroke-width="0.2">90</text>
<line x1="485.3" y1="509.3" x2="485.3" y2="515.8" stroke="#000" stroke-width="1.3"/>
<text x="485.3" y="527.7" font-size="9.5" text-anchor="middle" fill="#000" stroke="#000" stroke-width="0.2">120</text>
<text x="416.8" y="542.1" font-size="9.5" text-anchor="middle" fill="#000" stroke="#000" stroke-width="0.2">Time (min)</text>
<text transform="translate(318.9,465.7) rotate(-90)" font-size="9.5" text-anchor="middle" fill="#000" stroke="#000" stroke-width="0.2">Heart rate(bmp)</text>
<text x="358.5" y="426.1" font-size="9.5" text-anchor="start" fill="#000" stroke="#000" stroke-width="0.2">Light</text>
<text x="333.6" y="407.4" font-size="9.5" text-anchor="start" fill="#000" stroke="#000" stroke-width="0.2">injections</text>
<polygon points="349.3,418.8 350.0,411.3 356.6,413.9" fill="#000"/>
<line x1="353.3" y1="412.6" x2="356.0" y2="409.0" stroke="#000" stroke-width="1.4"/>
<line x1="380.7" y1="404.7" x2="398.8" y2="404.7" stroke="#111" stroke-width="1.4"/>
<text x="409.3" y="408.1" font-size="9.5" text-anchor="start" fill="#000" stroke="#000" stroke-width="0.2">Saline, n=7</text>
<line x1="380.7" y1="413.9" x2="398.8" y2="413.9" stroke="#ee1111" stroke-width="1.4"/>
<text x="409.3" y="417.3" font-size="9.5" text-anchor="start" fill="#000" stroke="#000" stroke-width="0.2">Isoproterenol, n=7</text>
<rect x="537.9" y="431" width="1.8" height="79.1" fill="#98c2f4"/>
<polygon points="525.0,456.1 525.6,455.6 526.1,455.4 526.7,455.0 527.3,454.7 527.9,454.6 528.4,454.4 529.0,454.1 529.6,454.0 530.1,453.7 530.7,453.6 531.3,453.2 531.9,452.7 532.4,452.1 533.0,451.8 533.6,451.1 534.1,451.2 534.7,451.2 535.3,451.2 535.9,451.0 536.4,451.3 537.0,450.9 537.6,450.4 538.1,450.1 538.7,449.9 539.3,449.0 539.8,448.4 540.4,447.8 541.0,447.0 541.6,446.5 542.1,445.9 542.7,445.2 543.3,444.9 543.8,444.4 544.4,443.5 545.0,442.8 545.6,442.5 546.1,441.2 546.7,441.1 547.3,440.5 547.8,440.5 548.4,440.6 549.0,441.9 549.5,442.4 550.1,442.7 550.7,443.2 551.3,442.5 551.8,441.8 552.4,441.3 553.0,441.3 553.5,441.1 554.1,442.1 554.7,442.6 555.3,442.1 555.8,443.0 556.4,442.6 557.0,441.3 557.5,441.3 558.1,442.0 558.7,442.1 559.2,442.6 559.8,443.6 560.4,444.2 561.0,444.6 561.5,444.5 562.1,445.1 562.7,445.0 563.2,444.5 563.8,444.8 564.4,444.3 565.0,443.3 565.5,443.3 566.1,443.7 566.7,444.0 567.2,444.3 567.8,445.2 568.4,445.6 568.9,446.1 569.5,446.2 570.1,447.0 570.7,446.9 571.2,447.0 571.8,447.4 572.4,446.9 572.9,446.2 573.5,446.1 574.1,447.2 574.7,446.3 575.2,446.5 575.8,446.6 576.4,447.4 576.9,447.4 577.5,448.0 578.1,448.4 578.7,448.8 579.2,448.5 579.8,447.9 580.4,447.5 580.9,448.0 581.5,448.4 582.1,449.0 582.6,449.1 583.2,449.7 583.8,449.2 584.4,449.4 584.9,449.8 585.5,450.0 586.1,450.5 586.6,451.0 587.2,451.3 587.8,450.7 588.4,450.6 588.9,450.7 589.5,450.5 590.1,450.2 590.6,450.8 591.2,450.9 591.8,450.1 592.3,450.2 592.9,450.3 593.5,449.9 594.1,450.5 594.6,451.5 595.2,452.0 595.8,452.3 596.3,452.5 596.9,452.3 597.5,452.2 598.1,451.9 598.6,451.9 599.2,452.0 599.8,452.0 600.3,451.7 600.9,451.9 601.5,451.9 602.0,452.3 602.6,452.4 603.2,452.3 603.8,451.8 604.3,451.8 604.9,452.1 605.5,452.2 606.0,452.4 606.6,453.3 607.2,453.8 607.8,453.4 608.3,453.7 608.9,454.1 609.5,453.5 610.0,453.6 610.6,453.8 611.2,453.2 611.8,453.3 612.3,454.1 612.9,454.0 613.5,453.8 614.0,454.1 614.6,454.1 615.2,453.9 615.7,454.1 616.3,454.1 616.9,454.0 617.5,453.9 618.0,453.9 618.6,453.9 619.2,454.3 619.7,454.4 620.3,454.4 620.9,454.3 621.5,454.1 622.0,453.9 622.6,453.8 623.2,453.9 623.7,453.7 624.3,453.7 624.9,454.0 625.4,454.1 626.0,454.2 626.6,454.2 627.2,453.9 627.7,453.7 628.3,453.4 628.9,453.4 629.4,453.3 630.0,453.2 630.6,453.1 631.2,453.3 631.7,452.9 632.3,452.8 632.9,453.0 633.4,453.0 634.0,453.0 634.6,453.2 635.1,453.7 635.7,453.8 636.3,453.8 636.9,453.9 637.4,454.0 638.0,453.5 638.6,453.1 639.1,452.8 639.7,452.8 640.3,452.9 640.9,452.8 641.4,452.5 642.0,452.0 642.6,451.7 643.1,451.2 643.7,450.8 644.3,451.4 644.9,451.7 645.4,451.5 646.0,451.6 646.6,452.2 647.1,451.5 647.7,451.2 648.3,451.3 648.8,451.5 649.4,451.2 650.0,451.4 650.6,451.5 651.1,451.3 651.7,451.4 652.3,451.2 652.8,451.3 653.4,451.1 654.0,451.1 654.6,451.1 655.1,451.0 655.7,451.1 656.3,451.4 656.8,451.5 657.4,451.5 658.0,451.8 658.5,451.6 659.1,451.6 659.7,451.6 660.3,451.3 660.8,450.6 661.4,450.5 661.4,455.6 660.8,455.8 660.3,455.7 659.7,455.7 659.1,455.5 658.5,455.6 658.0,455.3 657.4,455.8 656.8,455.6 656.3,455.5 655.7,455.4 655.1,455.8 654.6,455.9 654.0,456.1 653.4,456.4 652.8,456.0 652.3,456.6 651.7,456.4 651.1,456.3 650.6,456.4 650.0,456.6 649.4,456.1 648.8,455.8 648.3,456.0 647.7,455.9 647.1,456.4 646.6,456.7 646.0,456.9 645.4,457.0 644.9,456.8 644.3,456.7 643.7,456.5 643.1,456.8 642.6,456.7 642.0,457.0 641.4,457.0 640.9,457.1 640.3,456.9 639.7,457.1 639.1,457.5 638.6,457.8 638.0,457.8 637.4,457.9 636.9,457.8 636.3,457.5 635.7,457.5 635.1,457.4 634.6,457.5 634.0,457.6 633.4,457.9 632.9,457.9 632.3,458.1 631.7,458.1 631.2,457.9 630.6,457.6 630.0,457.7 629.4,457.5 628.9,457.7 628.3,457.9 627.7,458.0 627.2,457.7 626.6,458.1 626.0,458.3 625.4,458.4 624.9,458.7 624.3,459.2 623.7,459.0 623.2,458.8 622.6,458.7 622.0,458.5 621.5,458.3 620.9,458.6 620.3,458.9 619.7,459.0 619.2,459.1 618.6,459.0 618.0,458.4 617.5,458.5 616.9,458.8 616.3,458.6 615.7,459.1 615.2,459.2 614.6,459.1 614.0,458.7 613.5,458.5 612.9,458.3 612.3,458.4 611.8,457.9 611.2,458.0 610.6,458.4 610.0,458.2 609.5,458.1 608.9,458.5 608.3,457.9 607.8,457.5 607.2,457.9 606.6,457.7 606.0,457.6 605.5,458.1 604.9,458.2 604.3,458.1 603.8,458.1 603.2,457.5 602.6,457.5 602.0,457.6 601.5,457.3 600.9,457.1 600.3,457.2 599.8,457.1 599.2,457.0 598.6,456.9 598.1,457.4 597.5,457.7 596.9,457.9 596.3,458.1 595.8,458.2 595.2,458.1 594.6,458.0 594.1,457.9 593.5,457.3 592.9,457.6 592.3,457.5 591.8,457.7 591.2,457.8 590.6,457.9 590.1,457.6 589.5,457.0 588.9,457.1 588.4,456.9 587.8,457.1 587.2,457.2 586.6,458.4 586.1,458.3 585.5,459.0 584.9,459.2 584.4,458.7 583.8,457.8 583.2,457.9 582.6,457.7 582.1,457.4 581.5,457.6 580.9,457.9 580.4,457.4 579.8,457.1 579.2,457.5 578.7,457.5 578.1,457.8 577.5,458.1 576.9,457.5 576.4,457.5 575.8,457.2 575.2,457.0 574.7,457.2 574.1,457.4 573.5,455.4 572.9,455.9 572.4,456.1 571.8,456.2 571.2,456.5 570.7,458.3 570.1,457.9 569.5,458.1 568.9,457.5 568.4,456.6 567.8,456.2 567.2,455.9 566.7,455.0 566.1,455.6 565.5,456.2 565.0,456.2 564.4,456.5 563.8,456.6 563.2,455.6 562.7,455.9 562.1,455.7 561.5,456.1 561.0,455.9 560.4,455.9 559.8,455.4 559.2,455.0 558.7,453.9 558.1,453.8 557.5,453.9 557.0,453.5 556.4,453.6 555.8,453.8 555.3,453.3 554.7,453.2 554.1,452.9 553.5,452.0 553.0,450.6 552.4,451.6 551.8,450.5 551.3,450.6 550.7,450.4 550.1,450.8 549.5,449.3 549.0,449.5 548.4,449.1 547.8,449.0 547.3,448.7 546.7,448.8 546.1,450.0 545.6,450.3 545.0,450.9 544.4,451.4 543.8,451.8 543.3,451.8 542.7,452.0 542.1,451.8 541.6,451.7 541.0,451.6 540.4,451.6 539.8,451.9 539.3,452.5 538.7,453.0 538.1,453.4 537.6,453.5 537.0,454.1 536.4,454.5 535.9,454.6 535.3,454.9 534.7,455.1 534.1,454.9 533.6,454.9 533.0,455.3 532.4,455.6 531.9,455.9 531.3,456.3 530.7,456.5 530.1,456.7 529.6,457.1 529.0,457.1 528.4,457.6 527.9,457.9 527.3,457.9 526.7,457.9 526.1,458.8 525.6,459.0 525.0,459.7" fill="#ff6464"/>
<polygon points="525.0,448.1 525.6,448.6 526.1,448.6 526.7,448.4 527.3,448.6 527.9,448.6 528.4,448.3 529.0,448.6 529.6,448.2 530.1,448.4 530.7,448.5 531.3,448.7 531.9,448.5 532.4,448.8 533.0,448.6 533.6,448.2 534.1,448.4 534.7,448.5 535.3,449.0 535.9,449.2 536.4,449.5 537.0,449.4 537.6,449.9 538.1,449.8 538.7,450.0 539.3,450.4 539.8,451.1 540.4,451.1 541.0,451.4 541.6,451.7 542.1,452.3 542.7,453.3 543.3,454.9 543.8,456.4 544.4,457.8 545.0,459.1 545.6,460.8 546.1,461.7 546.7,463.0 547.3,464.4 547.8,466.2 548.4,466.9 549.0,468.3 549.5,469.2 550.1,469.7 550.7,470.2 551.3,471.1 551.8,471.1 552.4,471.3 553.0,472.0 553.5,472.5 554.1,473.1 554.7,473.8 555.3,474.1 555.8,474.1 556.4,473.6 557.0,473.3 557.5,473.2 558.1,473.3 558.7,473.4 559.2,473.8 559.8,474.5 560.4,475.0 561.0,474.9 561.5,475.3 562.1,475.6 562.7,475.3 563.2,475.3 563.8,475.7 564.4,475.9 565.0,475.8 565.5,476.3 566.1,475.8 566.7,476.6 567.2,476.6 567.8,477.0 568.4,477.3 568.9,478.1 569.5,477.8 570.1,477.4 570.7,477.0 571.2,476.9 571.8,476.8 572.4,477.0 572.9,477.2 573.5,477.6 574.1,477.8 574.7,477.2 575.2,476.8 575.8,476.9 576.4,476.7 576.9,476.6 577.5,476.5 578.1,476.2 578.7,476.3 579.2,476.7 579.8,476.5 580.4,477.0 580.9,476.8 581.5,476.5 582.1,475.9 582.6,475.4 583.2,474.7 583.8,474.6 584.4,473.8 584.9,473.0 585.5,472.6 586.1,471.9 586.6,471.3 587.2,470.4 587.8,469.6 588.4,468.9 588.9,468.3 589.5,468.4 590.1,468.4 590.6,468.4 591.2,468.0 591.8,468.0 592.3,467.2 592.9,466.6 593.5,466.5 594.1,466.5 594.6,466.6 595.2,466.2 595.8,466.2 596.3,465.8 596.9,465.3 597.5,464.6 598.1,464.5 598.6,464.0 599.2,463.8 599.8,463.2 600.3,463.0 600.9,462.7 601.5,462.6 602.0,462.4 602.6,462.2 603.2,461.8 603.8,462.0 604.3,461.4 604.9,461.3 605.5,461.2 606.0,461.6 606.6,460.9 607.2,461.2 607.8,460.9 608.3,460.7 608.9,460.3 609.5,460.3 610.0,460.4 610.6,460.4 611.2,460.3 611.8,460.0 612.3,459.8 612.9,459.6 613.5,459.6 614.0,459.6 614.6,459.7 615.2,459.8 615.7,459.6 616.3,459.3 616.9,459.2 617.5,459.2 618.0,459.0 618.6,458.7 619.2,458.9 619.7,458.9 620.3,458.7 620.9,458.4 621.5,458.5 622.0,458.4 622.6,458.3 623.2,458.3 623.7,458.6 624.3,458.8 624.9,458.8 625.4,458.2 626.0,458.0 626.6,457.8 627.2,457.6 627.7,457.3 628.3,457.7 628.9,457.8 629.4,458.0 630.0,458.1 630.6,458.0 631.2,457.8 631.7,457.5 632.3,457.0 632.9,456.8 633.4,457.0 634.0,457.0 634.6,456.8 635.1,456.9 635.7,456.8 636.3,456.5 636.9,456.3 637.4,456.0 638.0,455.7 638.6,455.2 639.1,454.8 639.7,454.8 640.3,454.9 640.9,454.8 641.4,455.1 642.0,455.3 642.6,455.2 643.1,455.2 643.7,455.5 644.3,455.4 644.9,455.1 645.4,454.9 646.0,454.7 646.6,454.1 647.1,454.0 647.7,453.6 648.3,453.7 648.8,453.3 649.4,453.4 650.0,453.0 650.6,453.4 651.1,453.3 651.7,453.6 652.3,453.6 652.8,453.9 653.4,453.8 654.0,453.6 654.6,453.9 655.1,453.9 655.7,453.7 656.3,453.9 656.8,454.0 657.4,453.8 658.0,453.9 658.5,454.3 659.1,454.3 659.7,454.4 660.3,454.8 660.8,454.9 661.4,455.0 661.4,458.4 660.8,457.9 660.3,457.7 659.7,457.8 659.1,457.3 658.5,457.1 658.0,457.5 657.4,457.6 656.8,457.6 656.3,457.8 655.7,457.3 655.1,457.0 654.6,456.9 654.0,456.5 653.4,456.7 652.8,456.8 652.3,457.0 651.7,457.0 651.1,456.8 650.6,456.8 650.0,457.1 649.4,457.1 648.8,457.0 648.3,457.6 647.7,457.5 647.1,457.6 646.6,457.8 646.0,458.2 645.4,458.2 644.9,458.5 644.3,458.7 643.7,458.9 643.1,459.1 642.6,459.0 642.0,458.9 641.4,458.9 640.9,458.8 640.3,458.7 639.7,458.4 639.1,458.6 638.6,458.7 638.0,458.8 637.4,459.0 636.9,459.6 636.3,459.9 635.7,460.1 635.1,460.3 634.6,460.5 634.0,460.7 633.4,460.7 632.9,460.8 632.3,461.1 631.7,461.3 631.2,461.6 630.6,461.8 630.0,461.7 629.4,461.3 628.9,461.2 628.3,461.2 627.7,460.9 627.2,461.3 626.6,461.6 626.0,461.7 625.4,461.5 624.9,461.9 624.3,461.9 623.7,462.0 623.2,461.9 622.6,462.0 622.0,462.3 621.5,462.4 620.9,462.6 620.3,463.1 619.7,463.5 619.2,463.4 618.6,463.4 618.0,463.6 617.5,463.4 616.9,463.4 616.3,463.5 615.7,463.5 615.2,463.6 614.6,463.6 614.0,463.6 613.5,463.8 612.9,463.8 612.3,464.0 611.8,464.5 611.2,464.7 610.6,464.6 610.0,464.9 609.5,464.5 608.9,464.2 608.3,464.0 607.8,464.3 607.2,464.3 606.6,464.7 606.0,465.4 605.5,466.1 604.9,466.1 604.3,466.3 603.8,466.5 603.2,466.3 602.6,466.1 602.0,466.5 601.5,467.0 600.9,467.2 600.3,467.5 599.8,468.2 599.2,468.3 598.6,468.7 598.1,469.1 597.5,469.5 596.9,469.7 596.3,470.5 595.8,470.6 595.2,470.6 594.6,470.8 594.1,471.2 593.5,471.2 592.9,472.0 592.3,472.2 591.8,472.8 591.2,473.1 590.6,473.7 590.1,474.3 589.5,475.1 588.9,475.5 588.4,476.3 587.8,477.1 587.2,477.4 586.6,478.7 586.1,479.4 585.5,480.3 584.9,480.8 584.4,481.3 583.8,481.8 583.2,482.1 582.6,482.6 582.1,483.1 581.5,482.9 580.9,483.2 580.4,483.5 579.8,482.8 579.2,482.8 578.7,483.6 578.1,483.6 577.5,483.5 576.9,483.9 576.4,483.9 575.8,483.9 575.2,484.4 574.7,484.8 574.1,485.2 573.5,485.3 572.9,485.0 572.4,484.5 571.8,483.8 571.2,483.8 570.7,483.9 570.1,484.0 569.5,483.8 568.9,484.3 568.4,484.5 567.8,484.4 567.2,484.1 566.7,484.1 566.1,484.0 565.5,483.4 565.0,483.0 564.4,483.2 563.8,483.3 563.2,483.0 562.7,482.9 562.1,483.1 561.5,482.9 561.0,482.6 560.4,482.4 559.8,482.1 559.2,481.5 558.7,481.4 558.1,481.4 557.5,481.0 557.0,480.8 556.4,481.1 555.8,480.5 555.3,480.2 554.7,479.7 554.1,479.0 553.5,478.1 553.0,477.5 552.4,476.8 551.8,476.7 551.3,476.4 550.7,475.9 550.1,475.1 549.5,474.3 549.0,472.8 548.4,471.5 547.8,470.4 547.3,468.9 546.7,467.4 546.1,466.5 545.6,465.6 545.0,463.9 544.4,462.6 543.8,461.2 543.3,459.7 542.7,457.8 542.1,456.6 541.6,455.8 541.0,455.1 540.4,454.6 539.8,454.6 539.3,454.0 538.7,453.4 538.1,453.3 537.6,453.4 537.0,452.9 536.4,452.9 535.9,452.6 535.3,452.6 534.7,452.4 534.1,452.1 533.6,451.7 533.0,451.8 532.4,452.0 531.9,451.8 531.3,451.9 530.7,452.1 530.1,452.3 529.6,452.1 529.0,452.0 528.4,452.2 527.9,452.5 527.3,452.5 526.7,452.1 526.1,452.5 525.6,452.3 525.0,451.9" fill="#555555"/>
<polyline points="525.0,458.2 525.6,457.8 526.1,457.5 526.7,456.8 527.3,456.4 527.9,456.1 528.4,455.8 529.0,455.7 529.6,455.6 530.1,455.4 530.7,455.2 531.3,454.9 531.9,454.4 532.4,453.9 533.0,453.7 533.6,453.2 534.1,453.2 534.7,453.1 535.3,453.0 535.9,452.7 536.4,452.7 537.0,452.5 537.6,452.2 538.1,452.0 538.7,451.7 539.3,451.0 539.8,450.4 540.4,449.9 541.0,449.3 541.6,448.9 542.1,448.4 542.7,448.0 543.3,447.6 543.8,447.4 544.4,447.1 545.0,446.8 545.6,446.5 546.1,446.0 546.7,445.7 547.3,445.6 547.8,445.8 548.4,445.7 549.0,446.1 549.5,446.1 550.1,446.3 550.7,446.6 551.3,446.8 551.8,446.8 552.4,447.0 553.0,447.0 553.5,447.1 554.1,447.4 554.7,447.6 555.3,447.6 555.8,447.8 556.4,447.8 557.0,447.8 557.5,447.9 558.1,448.1 558.7,448.0 559.2,448.3 559.8,448.5 560.4,448.8 561.0,448.9 561.5,449.2 562.1,449.2 562.7,449.5 563.2,449.5 563.8,449.7 564.4,449.8 565.0,450.0 565.5,450.0 566.1,450.2 566.7,450.3 567.2,450.5 567.8,450.4 568.4,450.7 568.9,450.8 569.5,450.8 570.1,451.0 570.7,451.3 571.2,451.3 571.8,451.4 572.4,451.6 572.9,451.7 573.5,451.7 574.1,451.8 574.7,451.8 575.2,452.1 575.8,452.0 576.4,452.3 576.9,452.6 577.5,452.9 578.1,452.9 578.7,453.2 579.2,453.2 579.8,453.1 580.4,453.1 580.9,453.2 581.5,453.1 582.1,453.4 582.6,453.6 583.2,453.8 583.8,453.9 584.4,454.4 584.9,454.3 585.5,454.3 586.1,454.5 586.6,454.4 587.2,454.1 587.8,454.0 588.4,454.1 588.9,453.9 589.5,454.1 590.1,454.3 590.6,454.5 591.2,454.4 591.8,454.5 592.3,454.3 592.9,454.3 593.5,454.2 594.1,454.4 594.6,454.6 595.2,454.7 595.8,454.8 596.3,454.9 596.9,454.8 597.5,454.6 598.1,454.6 598.6,454.5 599.2,454.6 599.8,454.7 600.3,454.6 600.9,454.8 601.5,454.8 602.0,454.8 602.6,454.7 603.2,454.9 603.8,455.0 604.3,455.1 604.9,455.3 605.5,455.5 606.0,455.6 606.6,455.7 607.2,455.9 607.8,455.7 608.3,455.8 608.9,455.8 609.5,455.7 610.0,455.7 610.6,455.9 611.2,455.8 611.8,455.8 612.3,456.2 612.9,456.3 613.5,456.4 614.0,456.5 614.6,456.7 615.2,456.5 615.7,456.5 616.3,456.5 616.9,456.5 617.5,456.4 618.0,456.5 618.6,456.5 619.2,456.5 619.7,456.2 620.3,456.2 620.9,456.1 621.5,456.0 622.0,456.1 622.6,456.3 623.2,456.2 623.7,456.2 624.3,456.3 624.9,456.2 625.4,456.2 626.0,456.2 626.6,456.0 627.2,455.8 627.7,455.8 628.3,455.7 628.9,455.8 629.4,455.8 630.0,455.7 630.6,455.6 631.2,455.8 631.7,455.5 632.3,455.4 632.9,455.5 633.4,455.4 634.0,455.2 634.6,455.2 635.1,455.4 635.7,455.4 636.3,455.3 636.9,455.5 637.4,455.4 638.0,455.3 638.6,455.2 639.1,455.2 639.7,455.1 640.3,455.2 640.9,455.0 641.4,454.9 642.0,454.5 642.6,454.2 643.1,454.0 643.7,453.9 644.3,454.1 644.9,454.2 645.4,454.3 646.0,454.3 646.6,454.5 647.1,454.1 647.7,454.1 648.3,454.1 648.8,454.0 649.4,453.8 650.0,453.9 650.6,453.9 651.1,453.8 651.7,454.0 652.3,454.1 652.8,454.0 653.4,453.9 654.0,453.8 654.6,453.6 655.1,453.5 655.7,453.5 656.3,453.5 656.8,453.5 657.4,453.5 658.0,453.3 658.5,453.3 659.1,453.3 659.7,453.3 660.3,453.2 660.8,453.2 661.4,453.0" fill="none" stroke="#ee1111" stroke-width="1.1" stroke-linejoin="round"/>
<polyline points="525.0,450.1 525.6,450.3 526.1,450.4 526.7,450.4 527.3,450.3 527.9,450.4 528.4,450.2 529.0,450.2 529.6,450.1 530.1,450.4 530.7,450.3 531.3,450.4 531.9,450.5 532.4,450.7 533.0,450.5 533.6,450.4 534.1,450.5 534.7,450.7 535.3,450.7 535.9,450.9 536.4,451.1 537.0,451.2 537.6,451.5 538.1,451.6 538.7,451.7 539.3,452.2 539.8,452.8 540.4,453.1 541.0,453.5 541.6,454.0 542.1,454.9 542.7,456.1 543.3,457.7 543.8,459.1 544.4,460.5 545.0,461.6 545.6,463.1 546.1,464.1 546.7,465.4 547.3,466.7 547.8,468.2 548.4,469.1 549.0,470.1 549.5,471.3 550.1,472.2 550.7,472.7 551.3,473.6 551.8,474.1 552.4,474.4 553.0,474.7 553.5,475.5 554.1,475.9 554.7,476.3 555.3,476.7 555.8,477.0 556.4,477.2 557.0,477.4 557.5,477.6 558.1,477.9 558.7,478.3 559.2,478.5 559.8,478.8 560.4,479.2 561.0,479.3 561.5,479.3 562.1,479.5 562.7,479.4 563.2,479.7 563.8,480.0 564.4,480.2 565.0,480.1 565.5,480.2 566.1,480.2 566.7,480.3 567.2,480.3 567.8,480.5 568.4,480.7 568.9,480.7 569.5,480.5 570.1,480.5 570.7,480.6 571.2,480.5 571.8,480.5 572.4,480.7 572.9,481.0 573.5,481.0 574.1,480.9 574.7,480.8 575.2,480.6 575.8,480.4 576.4,480.4 576.9,480.5 577.5,480.4 578.1,480.3 578.7,480.1 579.2,479.8 579.8,479.7 580.4,479.6 580.9,479.4 581.5,479.1 582.1,478.9 582.6,478.6 583.2,478.0 583.8,477.8 584.4,477.1 584.9,476.6 585.5,475.9 586.1,475.3 586.6,474.5 587.2,474.0 587.8,473.2 588.4,472.6 588.9,472.1 589.5,471.8 590.1,471.2 590.6,470.8 591.2,470.4 591.8,470.0 592.3,469.5 592.9,469.3 593.5,468.9 594.1,468.6 594.6,468.5 595.2,468.3 595.8,467.8 596.3,467.6 596.9,467.1 597.5,466.7 598.1,466.3 598.6,466.0 599.2,465.8 599.8,465.5 600.3,465.1 600.9,464.9 601.5,464.8 602.0,464.4 602.6,464.1 603.2,464.0 603.8,464.1 604.3,463.8 604.9,463.8 605.5,463.6 606.0,463.3 606.6,462.9 607.2,462.8 607.8,462.5 608.3,462.4 608.9,462.3 609.5,462.3 610.0,462.3 610.6,462.3 611.2,462.1 611.8,461.8 612.3,461.7 612.9,461.6 613.5,461.6 614.0,461.6 614.6,461.6 615.2,461.5 615.7,461.2 616.3,461.0 616.9,460.8 617.5,460.8 618.0,460.8 618.6,460.7 619.2,460.6 619.7,460.7 620.3,460.6 620.9,460.4 621.5,460.4 622.0,460.3 622.6,460.2 623.2,460.2 623.7,460.2 624.3,460.2 624.9,460.1 625.4,460.0 626.0,459.8 626.6,459.6 627.2,459.6 627.7,459.6 628.3,459.6 628.9,459.7 629.4,459.9 630.0,459.8 630.6,459.8 631.2,459.6 631.7,459.2 632.3,459.0 632.9,458.8 633.4,458.7 634.0,458.7 634.6,458.7 635.1,458.7 635.7,458.5 636.3,458.5 636.9,458.3 637.4,458.0 638.0,457.6 638.6,457.3 639.1,457.1 639.7,456.9 640.3,457.0 640.9,457.0 641.4,457.3 642.0,457.2 642.6,457.1 643.1,457.0 643.7,457.0 644.3,456.8 644.9,456.8 645.4,456.6 646.0,456.5 646.6,456.2 647.1,455.9 647.7,455.6 648.3,455.4 648.8,455.0 649.4,455.0 650.0,454.9 650.6,455.0 651.1,455.0 651.7,455.1 652.3,455.1 652.8,455.0 653.4,455.0 654.0,455.0 654.6,455.2 655.1,455.3 655.7,455.5 656.3,455.6 656.8,455.6 657.4,455.7 658.0,455.8 658.5,455.9 659.1,456.1 659.7,456.4 660.3,456.4 660.8,456.4 661.4,456.8" fill="none" stroke="#111" stroke-width="1.1" stroke-linejoin="round"/>
<line x1="525.0" y1="418.0" x2="525.0" y2="510.8" stroke="#000" stroke-width="1.3"/>
<line x1="524.4" y1="510.1" x2="661.4" y2="510.1" stroke="#000" stroke-width="1.3"/>
<line x1="518.5" y1="418.0" x2="525.0" y2="418.0" stroke="#000" stroke-width="1.3"/>
<text x="516.0" y="421.4" font-size="9.5" text-anchor="end" fill="#000" stroke="#000" stroke-width="0.2">40</text>
<line x1="518.5" y1="441.0" x2="525.0" y2="441.0" stroke="#000" stroke-width="1.3"/>
<text x="516.0" y="444.4" font-size="9.5" text-anchor="end" fill="#000" stroke="#000" stroke-width="0.2">38</text>
<line x1="518.5" y1="464.1" x2="525.0" y2="464.1" stroke="#000" stroke-width="1.3"/>
<text x="516.0" y="467.5" font-size="9.5" text-anchor="end" fill="#000" stroke="#000" stroke-width="0.2">36</text>
<line x1="518.5" y1="487.1" x2="525.0" y2="487.1" stroke="#000" stroke-width="1.3"/>
<text x="516.0" y="490.5" font-size="9.5" text-anchor="end" fill="#000" stroke="#000" stroke-width="0.2">34</text>
<line x1="518.5" y1="510.1" x2="525.0" y2="510.1" stroke="#000" stroke-width="1.3"/>
<text x="516.0" y="513.5" font-size="9.5" text-anchor="end" fill="#000" stroke="#000" stroke-width="0.2">32</text>
<line x1="538.8" y1="510.1" x2="538.8" y2="516.6" stroke="#000" stroke-width="1.3"/>
<text x="538.8" y="528.0" font-size="9.5" text-anchor="middle" fill="#000" stroke="#000" stroke-width="0.2">0</text>
<line x1="569.4" y1="510.1" x2="569.4" y2="516.6" stroke="#000" stroke-width="1.3"/>
<text x="569.4" y="528.0" font-size="9.5" text-anchor="middle" fill="#000" stroke="#000" stroke-width="0.2">30</text>
<line x1="600.1" y1="510.1" x2="600.1" y2="516.6" stroke="#000" stroke-width="1.3"/>
<text x="600.1" y="528.0" font-size="9.5" text-anchor="middle" fill="#000" stroke="#000" stroke-width="0.2">60</text>
<line x1="630.8" y1="510.1" x2="630.8" y2="516.6" stroke="#000" stroke-width="1.3"/>
<text x="630.8" y="528.0" font-size="9.5" text-anchor="middle" fill="#000" stroke="#000" stroke-width="0.2">90</text>
<line x1="661.4" y1="510.1" x2="661.4" y2="516.6" stroke="#000" stroke-width="1.3"/>
<text x="661.4" y="528.0" font-size="9.5" text-anchor="middle" fill="#000" stroke="#000" stroke-width="0.2">120</text>
<text x="593.5" y="542.6" font-size="9.5" text-anchor="middle" fill="#000" stroke="#000" stroke-width="0.2">Time (min)</text>
<text transform="translate(499.9,465.7) rotate(-90)" font-size="9.5" text-anchor="middle" fill="#000" stroke="#000" stroke-width="0.2">Tcore(°C)</text>
<text x="508.9" y="407.6" font-size="9.5" text-anchor="start" fill="#000" stroke="#000" stroke-width="0.2">injections</text>
<polygon points="525.5,418.8 526.2,411.3 532.8,413.9" fill="#000"/>
<line x1="529.5" y1="412.6" x2="532.2" y2="409.0" stroke="#000" stroke-width="1.4"/>
<line x1="556.6" y1="405.3" x2="575.4" y2="405.3" stroke="#111" stroke-width="1.4"/>
<text x="585.2" y="408.7" font-size="9.5" text-anchor="start" fill="#000" stroke="#000" stroke-width="0.2">Saline, n=6</text>
<line x1="556.6" y1="415.0" x2="575.4" y2="415.0" stroke="#ee1111" stroke-width="1.4"/>
<text x="585.2" y="418.4" font-size="9.5" text-anchor="start" fill="#000" stroke="#000" stroke-width="0.2">Isoproterenol, n=7</text>
<rect x="243.4" y="473.6" width="7.9" height="29.5" fill="none" stroke="#000" stroke-width="1.1"/>
<rect x="255.9" y="473.0" width="7.9" height="30.1" fill="none" stroke="#1a8a1a" stroke-width="1.1"/>
<rect x="268.5" y="500.2" width="7.9" height="2.9" fill="none" stroke="#d01010" stroke-width="1.1"/>
<rect x="281.1" y="486.3" width="7.9" height="16.8" fill="none" stroke="#c8c8c8" stroke-width="1.1"/>
<polyline points="247.3,433.7 259.9,452.2 272.4,500.2 285.0,493.9" fill="none" stroke="#333" stroke-width="0.6" stroke-linejoin="round"/>
<polyline points="247.3,455.7 259.9,437.8 272.4,498.5 285.0,471.3" fill="none" stroke="#333" stroke-width="0.6" stroke-linejoin="round"/>
<polyline points="247.3,460.9 259.9,447.6 272.4,499.6 285.0,475.9" fill="none" stroke="#333" stroke-width="0.6" stroke-linejoin="round"/>
<polyline points="247.3,480.0 259.9,476.5 272.4,500.8 285.0,495.6" fill="none" stroke="#333" stroke-width="0.6" stroke-linejoin="round"/>
<polyline points="247.3,482.9 259.9,482.9 272.4,497.3 285.0,486.3" fill="none" stroke="#333" stroke-width="0.6" stroke-linejoin="round"/>
<polyline points="247.3,484.6 259.9,494.4 272.4,499.1 285.0,491.5" fill="none" stroke="#333" stroke-width="0.6" stroke-linejoin="round"/>
<polyline points="247.3,493.9 259.9,498.5 272.4,497.9 285.0,497.3" fill="none" stroke="#333" stroke-width="0.6" stroke-linejoin="round"/>
<circle cx="247.3" cy="433.7" r="1.4" fill="#000"/>
<circle cx="259.9" cy="452.2" r="1.4" fill="#1a8a1a"/>
<circle cx="272.4" cy="500.2" r="1.4" fill="#d01010"/>
<circle cx="285.0" cy="493.9" r="1.2" fill="#ccc"/>
<circle cx="247.3" cy="455.7" r="1.4" fill="#000"/>
<circle cx="259.9" cy="437.8" r="1.4" fill="#1a8a1a"/>
<circle cx="272.4" cy="498.5" r="1.4" fill="#d01010"/>
<circle cx="285.0" cy="471.3" r="1.2" fill="#ccc"/>
<circle cx="247.3" cy="460.9" r="1.4" fill="#000"/>
<circle cx="259.9" cy="447.6" r="1.4" fill="#1a8a1a"/>
<circle cx="272.4" cy="499.6" r="1.4" fill="#d01010"/>
<circle cx="285.0" cy="475.9" r="1.2" fill="#ccc"/>
<circle cx="247.3" cy="480.0" r="1.4" fill="#000"/>
<circle cx="259.9" cy="476.5" r="1.4" fill="#1a8a1a"/>
<circle cx="272.4" cy="500.8" r="1.4" fill="#d01010"/>
<circle cx="285.0" cy="495.6" r="1.2" fill="#ccc"/>
<circle cx="247.3" cy="482.9" r="1.4" fill="#000"/>
<circle cx="259.9" cy="482.9" r="1.4" fill="#1a8a1a"/>
<circle cx="272.4" cy="497.3" r="1.4" fill="#d01010"/>
<circle cx="285.0" cy="486.3" r="1.2" fill="#ccc"/>
<circle cx="247.3" cy="484.6" r="1.4" fill="#000"/>
<circle cx="259.9" cy="494.4" r="1.4" fill="#1a8a1a"/>
<circle cx="272.4" cy="499.1" r="1.4" fill="#d01010"/>
<circle cx="285.0" cy="491.5" r="1.2" fill="#ccc"/>
<circle cx="247.3" cy="493.9" r="1.4" fill="#000"/>
<circle cx="259.9" cy="498.5" r="1.4" fill="#1a8a1a"/>
<circle cx="272.4" cy="497.9" r="1.4" fill="#d01010"/>
<circle cx="285.0" cy="497.3" r="1.2" fill="#ccc"/>
<line x1="237.7" y1="416.4" x2="237.7" y2="503.7" stroke="#000" stroke-width="1.2"/>
<line x1="237.1" y1="503.1" x2="294.6" y2="503.1" stroke="#000" stroke-width="1.2"/>
<line x1="234.6" y1="416.4" x2="237.7" y2="416.4" stroke="#000" stroke-width="1.2"/>
<text x="234.2" y="419.5" font-size="8.6" text-anchor="end" fill="#000" stroke="#000" stroke-width="0.2">150</text>
<line x1="234.6" y1="445.3" x2="237.7" y2="445.3" stroke="#000" stroke-width="1.2"/>
<text x="234.2" y="448.4" font-size="8.6" text-anchor="end" fill="#000" stroke="#000" stroke-width="0.2">100</text>
<line x1="234.6" y1="474.2" x2="237.7" y2="474.2" stroke="#000" stroke-width="1.2"/>
<text x="234.2" y="477.3" font-size="8.6" text-anchor="end" fill="#000" stroke="#000" stroke-width="0.2">50</text>
<line x1="234.6" y1="503.1" x2="237.7" y2="503.1" stroke="#000" stroke-width="1.2"/>
<text x="234.2" y="506.2" font-size="8.6" text-anchor="end" fill="#000" stroke="#000" stroke-width="0.2">0</text>
<line x1="247.3" y1="503.1" x2="247.3" y2="506.5" stroke="#000" stroke-width="1.2"/>
<line x1="259.9" y1="503.1" x2="259.9" y2="506.5" stroke="#000" stroke-width="1.2"/>
<line x1="272.4" y1="503.1" x2="272.4" y2="506.5" stroke="#000" stroke-width="1.2"/>
<line x1="285.0" y1="503.1" x2="285.0" y2="506.5" stroke="#000" stroke-width="1.2"/>
<text transform="translate(250.1,510.5) rotate(-45)" font-size="9.7" text-anchor="end">ACSF</text>
<text transform="translate(262.7,510.5) rotate(-45)" font-size="9.7" text-anchor="end">PTX</text>
<text transform="translate(275.2,510.5) rotate(-45)" font-size="9.7" text-anchor="end">DNQX</text>
<text transform="translate(287.8,510.5) rotate(-45)" font-size="9.7" text-anchor="end">wash</text>
<text transform="translate(214.1,457.2) rotate(-90)" font-size="9.6" text-anchor="middle" fill="#000" stroke="#000" stroke-width="0.2">EPSC amplitude(pA)</text>
<text x="245.9" y="420.0" font-size="6.8" text-anchor="start" fill="#000" stroke="#000" stroke-width="0.2"><tspan font-style="italic">P</tspan>=0.0035</text>
<polyline points="247.3,427.4 247.3,423.9 273.6,423.9 273.6,438.8" fill="none" stroke="#000" stroke-width="1"/>
<text x="265.2" y="448.2" font-size="6.8" text-anchor="start" fill="#000" stroke="#000" stroke-width="0.2"><tspan font-style="italic">P</tspan>=0.0128</text>
<polyline points="273.6,466.8 273.6,452.8 286.2,452.8 286.2,456.3" fill="none" stroke="#000" stroke-width="1"/>
<text x="92.6" y="407.9" font-size="9.6" text-anchor="start" fill="#000" stroke="#000" stroke-width="0.2">TTX (10 µM)+4AP (1 mM)</text>
<line x1="101.8" y1="414.0" x2="187.4" y2="414.0" stroke="#000" stroke-width="1.6"/>
<rect x="118.1" y="420.2" width="1.4" height="5" fill="#7ab0ff"/>
<text x="122.3" y="425.0" font-size="9.6" text-anchor="start" fill="#000" stroke="#000" stroke-width="0.2">3,DNQX</text>
<text x="85.8" y="459.3" font-size="9.6" text-anchor="start" fill="#000" stroke="#000" stroke-width="0.2">4,wash</text>
<text x="92.0" y="502.9" font-size="9.6" text-anchor="start" fill="#000" stroke="#000" stroke-width="0.2">2,PTX</text>
<text x="97.6" y="531.1" font-size="9.6" text-anchor="start" fill="#000" stroke="#000" stroke-width="0.2">1,ACSF</text>
<text x="143.8" y="498.9" font-size="9.6" text-anchor="start" fill="#000" stroke="#000" stroke-width="0.2">20 pA</text>
<text x="149.6" y="523.6" font-size="9.6" text-anchor="start" fill="#000" stroke="#000" stroke-width="0.2">50 ms</text>
<polyline points="139.1,468.9 139.1,514.2 184,514.2" fill="none" stroke="#555" stroke-width="1"/>
<polyline points="100.1,428.6 100.6,428.7 101.1,428.5 101.5,428.2 102.0,428.4 102.5,428.1 103.0,428.6 103.5,429.3 104.0,428.4 104.4,428.3 104.9,428.8 105.4,428.8 105.9,428.7 106.4,428.1 106.9,428.6 107.3,428.9 107.8,427.9 108.3,428.4 108.8,427.6 109.3,428.0 109.8,427.7 110.2,428.5 110.7,428.0 111.2,428.7 111.7,428.7 112.2,428.5 112.7,427.3 113.1,428.3 113.6,428.6 114.1,428.7 114.6,427.8 115.1,428.4 115.6,428.1 116.0,428.2 116.5,429.1 117.0,428.2 117.5,428.6 118.0,429.0 118.5,428.9 118.9,429.7 119.4,430.4 119.9,430.9 120.4,432.6 120.9,435.9 121.4,439.2 121.8,440.4 122.3,444.1 122.8,446.3 123.3,448.4 123.8,452.2 124.3,454.1 124.7,455.4 125.2,458.1 125.7,460.4 126.2,458.9 126.7,457.4 127.2,455.1 127.6,452.9 128.1,450.6 128.6,446.8 129.1,444.8 129.6,443.2 130.1,442.2 130.5,440.3 131.0,439.3 131.5,438.2 132.0,437.5 132.5,437.2 133.0,435.7 133.4,435.6 133.9,436.0 134.4,434.3 134.9,434.7 135.4,434.6 135.9,434.9 136.3,434.3 136.8,433.5 137.3,433.3 137.8,433.2 138.3,434.0 138.8,432.9 139.2,432.9 139.7,433.2 140.2,432.8 140.7,432.7 141.2,432.1 141.7,432.6 142.1,432.3 142.6,433.0 143.1,432.7 143.6,432.2 144.1,432.5 144.6,431.9 145.0,432.5 145.5,431.9 146.0,432.1 146.5,431.0 147.0,431.8 147.5,430.6 147.9,430.4 148.4,431.2 148.9,430.8 149.4,431.2 149.9,432.1 150.4,430.6 150.8,430.7 151.3,431.1 151.8,431.2 152.3,430.9 152.8,430.9 153.3,431.3 153.7,431.2 154.2,430.4 154.7,430.9 155.2,430.9 155.7,430.4 156.2,431.0 156.6,430.5 157.1,431.4 157.6,431.0 158.1,430.9 158.6,430.6 159.1,430.8 159.5,429.9 160.0,430.3 160.5,431.0 161.0,429.8 161.5,431.3 162.0,430.0 162.4,431.2 162.9,430.4 163.4,431.2 163.9,430.9 164.4,430.0 164.9,431.4 165.3,431.5 165.8,430.8 166.3,430.6 166.8,430.7 167.3,430.3 167.8,431.3 168.2,430.5 168.7,430.7 169.2,430.3 169.7,430.4 170.2,430.1 170.7,431.3 171.1,430.6 171.6,431.2 172.1,430.7 172.6,430.3 173.1,430.5 173.6,430.4 174.0,430.7 174.5,430.5 175.0,430.5 175.5,430.0 176.0,430.2 176.5,431.5 176.9,430.3 177.4,430.1 177.9,430.8 178.4,431.3 178.9,429.9 179.4,430.5 179.8,430.3 180.3,429.7 180.8,431.0 181.3,430.6 181.8,430.6 182.3,430.2 182.7,430.8 183.2,430.3 183.7,430.5 184.2,430.0 184.7,429.9 185.2,431.2 185.6,430.3 186.1,430.7 186.6,430.5" fill="none" stroke="#9a9a9a" stroke-width="2.0" stroke-linejoin="round"/>
<polyline points="100.1,428.4 100.6,428.3 101.1,428.7 101.5,428.4 102.0,428.5 102.5,428.5 103.0,428.9 103.5,428.7 104.0,428.6 104.4,428.3 104.9,428.1 105.4,428.8 105.9,428.8 106.4,428.5 106.9,428.7 107.3,428.7 107.8,428.7 108.3,428.8 108.8,428.4 109.3,429.0 109.8,428.1 110.2,428.8 110.7,428.6 111.2,428.8 111.7,429.1 112.2,428.9 112.7,428.2 113.1,428.0 113.6,428.7 114.1,428.2 114.6,428.5 115.1,428.8 115.6,428.0 116.0,427.9 116.5,428.6 117.0,428.5 117.5,428.4 118.0,428.5 118.5,428.2 118.9,429.0 119.4,432.7 119.9,435.7 120.4,438.8 120.9,447.7 121.4,457.2 121.8,467.0 122.3,476.3 122.8,486.0 123.3,495.2 123.8,504.1 124.3,513.4 124.7,514.5 125.2,515.7 125.7,515.7 126.2,515.2 126.7,510.7 127.2,503.7 127.6,495.7 128.1,488.2 128.6,481.0 129.1,474.5 129.6,468.1 130.1,461.1 130.5,454.8 131.0,452.5 131.5,450.6 132.0,448.0 132.5,445.1 133.0,443.3 133.4,440.7 133.9,439.3 134.4,439.3 134.9,439.0 135.4,437.8 135.9,436.6 136.3,435.8 136.8,435.6 137.3,434.9 137.8,434.7 138.3,434.5 138.8,434.4 139.2,434.4 139.7,434.1 140.2,433.9 140.7,433.3 141.2,433.6 141.7,433.0 142.1,433.4 142.6,432.5 143.1,432.7 143.6,432.5 144.1,431.9 144.6,432.7 145.0,432.4 145.5,431.8 146.0,432.1 146.5,431.9 147.0,431.0 147.5,431.7 147.9,431.6 148.4,431.6 148.9,431.2 149.4,431.3 149.9,431.3 150.4,431.6 150.8,431.3 151.3,431.2 151.8,431.6 152.3,430.9 152.8,430.8 153.3,430.4 153.7,431.3 154.2,431.1 154.7,431.0 155.2,430.8 155.7,430.6 156.2,430.6 156.6,430.4 157.1,430.3 157.6,430.3 158.1,430.7 158.6,430.4 159.1,430.1 159.5,429.9 160.0,429.8 160.5,430.5 161.0,430.1 161.5,430.0 162.0,429.9 162.4,429.6 162.9,429.9 163.4,430.2 163.9,429.8 164.4,429.9 164.9,429.8 165.3,429.9 165.8,429.4 166.3,429.8 166.8,429.6 167.3,430.1 167.8,429.6 168.2,430.0 168.7,430.3 169.2,429.7 169.7,429.6 170.2,429.9 170.7,429.8 171.1,429.5 171.6,429.9 172.1,430.4 172.6,429.7 173.1,429.7 173.6,429.4 174.0,429.8 174.5,429.4 175.0,429.4 175.5,430.1 176.0,429.4 176.5,430.0 176.9,430.1 177.4,429.8 177.9,429.8 178.4,430.2 178.9,429.6 179.4,429.5 179.8,429.2 180.3,429.6 180.8,430.1 181.3,429.9 181.8,429.3 182.3,429.3 182.7,429.4 183.2,429.7 183.7,429.5 184.2,429.6 184.7,429.6 185.2,429.4 185.6,429.5 186.1,429.6 186.6,429.5" fill="none" stroke="#999" stroke-width="2.2" stroke-linejoin="round"/>
<polyline points="100.1,428.7 100.6,429.1 101.1,428.7 101.5,428.5 102.0,428.0 102.5,428.6 103.0,427.9 103.5,428.1 104.0,428.8 104.4,428.7 104.9,428.5 105.4,428.0 105.9,428.4 106.4,428.3 106.9,428.7 107.3,429.2 107.8,428.6 108.3,428.3 108.8,428.1 109.3,428.5 109.8,428.4 110.2,428.2 110.7,428.5 111.2,428.2 111.7,428.8 112.2,428.8 112.7,428.8 113.1,428.4 113.6,428.7 114.1,428.5 114.6,428.4 115.1,428.4 115.6,428.1 116.0,428.1 116.5,428.7 117.0,428.4 117.5,428.6 118.0,428.8 118.5,428.0 118.9,429.3 119.4,432.8 119.9,436.1 120.4,439.2 120.9,447.9 121.4,457.3 121.8,466.6 122.3,476.3 122.8,486.5 123.3,495.6 123.8,503.8 124.3,513.7 124.7,514.9 125.2,516.0 125.7,515.5 126.2,514.5 126.7,510.8 127.2,504.2 127.6,495.6 128.1,488.7 128.6,481.2 129.1,474.7 129.6,467.4 130.1,461.0 130.5,455.1 131.0,452.2 131.5,450.6 132.0,448.1 132.5,445.5 133.0,443.4 133.4,441.1 133.9,440.3 134.4,439.3 134.9,438.4 135.4,437.7 135.9,436.6 136.3,435.7 136.8,435.3 137.3,435.1 137.8,434.2 138.3,434.5 138.8,434.1 139.2,433.9 139.7,434.2 140.2,433.6 140.7,434.1 141.2,433.2 141.7,433.4 142.1,433.0 142.6,432.7 143.1,432.9 143.6,432.5 144.1,432.5 144.6,432.2 145.0,431.7 145.5,431.9 146.0,431.9 146.5,432.1 147.0,431.5 147.5,431.7 147.9,431.1 148.4,431.7 148.9,431.2 149.4,430.9 149.9,431.3 150.4,431.6 150.8,430.8 151.3,430.8 151.8,430.9 152.3,430.7 152.8,431.1 153.3,430.7 153.7,430.6 154.2,430.9 154.7,430.5 155.2,430.8 155.7,430.3 156.2,430.1 156.6,429.9 157.1,430.9 157.6,430.2 158.1,430.3 158.6,430.2 159.1,430.2 159.5,430.1 160.0,430.6 160.5,429.7 161.0,429.5 161.5,429.7 162.0,429.6 162.4,430.2 162.9,430.2 163.4,429.6 163.9,429.5 164.4,429.8 164.9,430.3 165.3,429.1 165.8,430.1 166.3,429.6 166.8,430.2 167.3,429.5 167.8,429.8 168.2,429.4 168.7,429.5 169.2,430.2 169.7,430.1 170.2,429.7 170.7,429.5 171.1,429.2 171.6,429.7 172.1,429.8 172.6,429.7 173.1,429.7 173.6,429.4 174.0,429.7 174.5,429.7 175.0,430.1 175.5,430.3 176.0,429.7 176.5,429.5 176.9,429.7 177.4,429.5 177.9,429.4 178.4,429.6 178.9,429.3 179.4,429.8 179.8,429.6 180.3,429.7 180.8,429.6 181.3,429.4 181.8,429.3 182.3,429.5 182.7,429.4 183.2,429.6 183.7,429.6 184.2,429.1 184.7,429.6 185.2,429.1 185.6,429.3 186.1,429.4 186.6,428.9" fill="none" stroke="#000" stroke-width="1.0" stroke-linejoin="round"/>
<polyline points="100.1,428.9 100.6,428.9 101.1,428.7 101.5,428.5 102.0,428.5 102.5,428.1 103.0,428.6 103.5,428.4 104.0,428.9 104.4,428.0 104.9,429.0 105.4,428.9 105.9,428.7 106.4,428.5 106.9,429.2 107.3,427.6 107.8,429.1 108.3,429.0 108.8,429.0 109.3,429.1 109.8,428.3 110.2,428.6 110.7,429.2 111.2,429.1 111.7,428.9 112.2,427.7 112.7,429.2 113.1,429.6 113.6,429.5 114.1,429.0 114.6,427.7 115.1,429.5 115.6,428.7 116.0,427.0 116.5,429.1 117.0,427.8 117.5,427.9 118.0,428.4 118.5,430.2 118.9,429.6 119.4,430.6 119.9,432.1 120.4,432.9 120.9,432.7 121.4,433.6 121.8,433.8 122.3,435.2 122.8,436.5 123.3,436.7 123.8,436.8 124.3,437.6 124.7,436.7 125.2,437.4 125.7,437.6 126.2,437.1 126.7,437.0 127.2,436.1 127.6,435.1 128.1,435.2 128.6,433.9 129.1,433.2 129.6,434.5 130.1,433.7 130.5,433.7 131.0,432.0 131.5,432.6 132.0,432.2 132.5,431.7 133.0,430.4 133.4,431.7 133.9,432.5 134.4,432.1 134.9,431.3 135.4,431.7 135.9,432.1 136.3,429.6 136.8,431.4 137.3,431.8 137.8,431.8 138.3,432.4 138.8,432.0 139.2,431.3 139.7,431.3 140.2,431.5 140.7,430.6 141.2,430.9 141.7,431.5 142.1,432.2 142.6,430.6 143.1,430.7 143.6,430.8 144.1,431.5 144.6,430.5 145.0,431.5 145.5,429.8 146.0,430.3 146.5,430.2 147.0,430.9 147.5,431.0 147.9,429.1 148.4,429.5 148.9,430.3 149.4,429.6 149.9,428.9 150.4,430.7 150.8,430.3 151.3,430.3 151.8,429.6 152.3,430.7 152.8,429.8 153.3,430.7 153.7,429.3 154.2,429.3 154.7,430.1 155.2,429.4 155.7,430.4 156.2,430.1 156.6,429.3 157.1,430.0 157.6,429.7 158.1,430.5 158.6,429.4 159.1,429.6 159.5,430.7 160.0,431.4 160.5,431.3 161.0,429.9 161.5,430.0 162.0,430.9 162.4,429.7 162.9,429.1 163.4,429.9 163.9,430.1 164.4,429.2 164.9,428.6 165.3,428.8 165.8,430.3 166.3,429.2 166.8,429.7 167.3,429.9 167.8,430.2 168.2,429.5 168.7,430.1 169.2,429.1 169.7,429.5 170.2,429.0 170.7,430.5 171.1,429.7 171.6,429.2 172.1,429.5 172.6,429.5 173.1,430.2 173.6,428.6 174.0,428.9 174.5,429.4 175.0,431.4 175.5,430.3 176.0,429.6 176.5,430.1 176.9,431.1 177.4,429.5 177.9,429.4 178.4,430.5 178.9,430.0 179.4,430.1 179.8,429.2 180.3,430.9 180.8,430.8 181.3,430.0 181.8,430.0 182.3,428.1 182.7,430.0 183.2,429.4 183.7,429.8 184.2,430.0 184.7,429.3 185.2,428.3 185.6,429.8 186.1,429.0 186.6,429.3" fill="none" stroke="#a01010" stroke-width="1.1" stroke-linejoin="round"/>
<polyline points="100.1,428.1 100.6,428.3 101.1,426.8 101.5,429.6 102.0,428.8 102.5,429.5 103.0,430.2 103.5,428.6 104.0,427.2 104.4,427.9 104.9,427.6 105.4,428.2 105.9,428.7 106.4,427.0 106.9,428.9 107.3,427.4 107.8,428.8 108.3,428.5 108.8,428.3 109.3,428.5 109.8,428.2 110.2,428.1 110.7,427.3 111.2,428.6 111.7,430.1 112.2,430.2 112.7,429.7 113.1,429.2 113.6,428.1 114.1,429.8 114.6,428.6 115.1,428.5 115.6,428.4 116.0,428.7 116.5,428.3 117.0,428.5 117.5,427.7 118.0,428.3 118.5,430.4 118.9,429.6 119.4,431.0 119.9,433.2 120.4,438.6 120.9,443.4 121.4,450.3 121.8,457.4 122.3,463.0 122.8,469.5 123.3,477.4 123.8,482.4 124.3,489.7 124.7,493.9 125.2,498.1 125.7,497.9 126.2,499.6 126.7,497.4 127.2,496.1 127.6,493.1 128.1,489.1 128.6,482.1 129.1,479.3 129.6,473.8 130.1,469.0 130.5,466.4 131.0,461.6 131.5,457.0 132.0,454.7 132.5,453.0 133.0,452.9 133.4,452.9 133.9,452.0 134.4,452.3 134.9,450.0 135.4,448.3 135.9,448.3 136.3,447.6 136.8,446.7 137.3,447.5 137.8,446.0 138.3,444.3 138.8,445.9 139.2,444.8 139.7,444.9 140.2,444.4 140.7,444.5 141.2,443.7 141.7,444.4 142.1,443.5 142.6,443.1 143.1,442.9 143.6,441.1 144.1,441.9 144.6,441.7 145.0,442.0 145.5,440.7 146.0,443.0 146.5,441.7 147.0,440.5 147.5,440.1 147.9,441.1 148.4,441.2 148.9,440.6 149.4,441.2 149.9,440.5 150.4,441.3 150.8,440.0 151.3,440.3 151.8,440.9 152.3,441.9 152.8,438.8 153.3,439.0 153.7,438.5 154.2,439.5 154.7,437.7 155.2,438.0 155.7,438.1 156.2,437.1 156.6,436.9 157.1,437.1 157.6,435.5 158.1,435.8 158.6,436.4 159.1,436.6 159.5,436.1 160.0,434.6 160.5,435.4 161.0,436.1 161.5,435.7 162.0,435.0 162.4,434.0 162.9,434.9 163.4,433.6 163.9,432.8 164.4,432.8 164.9,434.3 165.3,433.0 165.8,433.4 166.3,431.7 166.8,432.6 167.3,431.0 167.8,431.0 168.2,433.0 168.7,431.6 169.2,430.6 169.7,430.9 170.2,431.3 170.7,432.0 171.1,430.6 171.6,429.6 172.1,430.8 172.6,431.0 173.1,431.1 173.6,432.1 174.0,431.3 174.5,431.7 175.0,430.1 175.5,431.7 176.0,432.7 176.5,431.6 176.9,431.2 177.4,431.1 177.9,432.4 178.4,430.3 178.9,431.1 179.4,431.7 179.8,432.0 180.3,431.2 180.8,431.9 181.3,431.5 181.8,432.0 182.3,431.9 182.7,431.2 183.2,432.2 183.7,433.0 184.2,431.7 184.7,432.4 185.2,433.2 185.6,431.9 186.1,433.0 186.6,432.2" fill="none" stroke="#1a6e1a" stroke-width="1.2" stroke-linejoin="round"/>
<line x1="116.1" y1="453.8" x2="121.9" y2="451.2" stroke="#888" stroke-width="0.8"/>
<line x1="118.6" y1="497.4" x2="125.5" y2="496.0" stroke="#1a6e1a" stroke-width="0.8"/>
<polygon points="36.5,709.4 37.2,709.9 38.0,710.4 38.7,711.2 39.4,711.6 40.2,712.4 40.9,712.6 41.7,713.2 42.4,713.6 43.1,714.4 43.9,714.3 44.6,714.2 45.3,714.1 46.1,714.1 46.8,713.7 47.5,713.5 48.3,713.6 49.0,713.8 49.8,713.7 50.5,713.7 51.2,713.8 52.0,713.9 52.7,713.5 53.4,713.6 54.2,713.9 54.9,713.8 55.6,713.4 56.4,714.5 57.1,715.9 57.9,716.9 58.6,718.1 59.3,719.9 60.1,720.6 60.8,721.2 61.5,722.2 62.3,723.2 63.0,724.3 63.7,725.9 64.5,726.3 65.2,727.2 66.0,728.1 66.7,728.3 67.4,729.1 68.2,730.4 68.9,731.1 69.6,731.5 70.4,732.7 71.1,732.2 71.8,733.1 72.6,734.0 73.3,734.5 74.1,734.8 74.8,736.0 75.5,736.8 76.3,736.6 77.0,735.2 77.7,736.0 78.5,736.3 79.2,736.5 79.9,736.9 80.7,740.3 81.4,740.6 82.2,740.9 82.9,741.0 83.6,740.5 84.4,740.3 85.1,739.5 85.8,738.3 86.6,739.1 87.3,740.9 88.0,740.5 88.8,740.9 89.5,742.7 90.3,742.3 91.0,742.4 91.7,742.6 92.5,741.5 93.2,741.1 93.9,743.5 94.7,743.3 95.4,744.0 96.1,745.6 96.9,747.1 97.6,744.1 98.4,743.6 99.1,742.4 99.8,742.3 100.6,742.5 101.3,743.6 102.0,743.3 102.8,743.6 103.5,744.3 104.2,743.3 105.0,743.4 105.7,744.6 106.5,745.9 107.2,746.3 107.9,747.5 108.7,749.8 109.4,749.0 110.1,748.1 110.9,747.9 111.6,746.8 112.3,744.3 113.1,744.8 113.8,747.3 114.6,747.0 115.3,747.3 116.0,746.3 116.8,745.1 117.5,742.0 118.2,743.0 119.0,744.9 119.7,745.6 120.4,747.1 121.2,747.5 121.9,746.3 122.7,744.8 123.4,746.7 124.1,746.3 124.9,747.2 125.6,746.7 126.3,746.3 127.1,745.0 127.8,745.0 128.6,744.5 129.3,744.6 130.0,744.7 130.8,744.9 131.5,745.6 132.2,744.0 133.0,744.2 133.7,743.4 134.4,742.5 135.2,742.2 135.9,744.2 136.7,744.1 137.4,744.9 138.1,744.8 138.9,745.5 139.6,745.4 140.3,745.4 141.1,744.1 141.8,746.4 142.5,745.0 143.3,744.9 144.0,744.4 144.8,745.9 145.5,743.5 146.2,742.4 147.0,741.7 147.7,741.4 148.4,740.8 149.2,741.4 149.9,741.8 150.6,742.3 151.4,743.5 152.1,743.8 152.9,743.5 153.6,743.5 154.3,743.2 155.1,743.0 155.8,742.0 156.5,741.1 157.3,740.8 158.0,740.2 158.7,740.0 159.5,741.1 160.2,742.0 161.0,742.1 161.7,742.4 162.4,743.4 163.2,743.2 163.9,744.2 164.6,745.0 165.4,746.0 166.1,745.8 166.8,745.5 167.6,744.5 168.3,745.8 169.1,744.3 169.8,741.5 170.5,742.9 171.3,741.2 172.0,740.5 172.7,741.4 173.5,743.4 174.2,743.4 174.9,743.5 175.7,742.5 176.4,742.8 177.2,742.7 177.9,742.8 178.6,744.1 179.4,743.9 180.1,744.4 180.8,744.4 181.6,743.0 182.3,742.0 183.0,741.3 183.8,740.2 184.5,740.4 185.3,739.8 186.0,741.0 186.7,742.4 187.5,741.2 188.2,739.1 188.9,739.4 189.7,739.2 190.4,738.5 191.1,741.1 191.9,742.5 192.6,743.2 193.4,741.0 194.1,740.8 194.8,738.8 195.6,739.0 196.3,740.4 197.0,741.9 197.8,741.3 198.5,742.0 199.2,741.3 200.0,738.6 200.7,740.7 201.5,741.1 202.2,739.4 202.9,739.5 203.7,739.7 204.4,737.3 205.1,738.7 205.9,739.5 206.6,738.9 207.3,739.9 208.1,739.4 208.8,738.4 209.6,739.9 210.3,740.2 211.0,739.9 211.8,740.5 212.5,740.8 212.5,772.6 211.8,774.3 211.0,774.1 210.3,773.9 209.6,775.9 208.8,775.4 208.1,773.3 207.3,773.5 206.6,773.8 205.9,774.3 205.1,773.8 204.4,777.2 203.7,777.3 202.9,776.0 202.2,776.1 201.5,775.9 200.7,774.0 200.0,773.7 199.2,774.2 198.5,773.5 197.8,773.5 197.0,773.0 196.3,774.1 195.6,773.1 194.8,772.8 194.1,775.1 193.4,775.7 192.6,775.6 191.9,778.8 191.1,778.8 190.4,776.8 189.7,777.5 188.9,778.0 188.2,775.8 187.5,776.0 186.7,776.4 186.0,775.9 185.3,776.5 184.5,776.7 183.8,775.8 183.0,775.7 182.3,775.1 181.6,773.5 180.8,775.1 180.1,776.9 179.4,776.2 178.6,776.5 177.9,778.1 177.2,775.7 176.4,775.3 175.7,775.8 174.9,775.9 174.2,773.3 173.5,774.4 172.7,773.1 172.0,773.2 171.3,773.4 170.5,775.7 169.8,774.4 169.1,775.7 168.3,775.1 167.6,775.9 166.8,774.2 166.1,774.7 165.4,775.2 164.6,777.0 163.9,775.0 163.2,776.7 162.4,776.1 161.7,775.2 161.0,775.2 160.2,774.8 159.5,772.1 158.7,773.3 158.0,774.0 157.3,773.6 156.5,777.1 155.8,778.8 155.1,777.8 154.3,775.5 153.6,773.8 152.9,772.8 152.1,773.0 151.4,773.5 150.6,776.4 149.9,778.3 149.2,777.6 148.4,777.0 147.7,777.3 147.0,776.2 146.2,775.6 145.5,776.0 144.8,776.3 144.0,776.9 143.3,777.0 142.5,777.2 141.8,776.9 141.1,776.2 140.3,776.9 139.6,776.5 138.9,776.6 138.1,775.5 137.4,777.7 136.7,775.5 135.9,775.4 135.2,774.6 134.4,775.8 133.7,773.9 133.0,776.1 132.2,775.5 131.5,775.3 130.8,775.9 130.0,777.5 129.3,777.7 128.6,778.6 127.8,779.9 127.1,780.4 126.3,779.5 125.6,778.5 124.9,779.7 124.1,778.9 123.4,779.3 122.7,780.2 121.9,778.7 121.2,778.0 120.4,779.0 119.7,776.5 119.0,776.6 118.2,778.2 117.5,777.2 116.8,777.0 116.0,778.5 115.3,777.0 114.6,778.2 113.8,779.0 113.1,776.8 112.3,774.8 111.6,775.6 110.9,772.6 110.1,772.3 109.4,772.8 108.7,774.7 107.9,773.7 107.2,776.0 106.5,776.0 105.7,775.3 105.0,774.7 104.2,776.0 103.5,774.0 102.8,773.5 102.0,773.9 101.3,773.1 100.6,771.3 99.8,771.8 99.1,772.4 98.4,772.7 97.6,773.5 96.9,774.0 96.1,772.5 95.4,771.1 94.7,770.4 93.9,768.2 93.2,766.5 92.5,766.6 91.7,766.0 91.0,765.5 90.3,764.9 89.5,765.8 88.8,765.6 88.0,765.3 87.3,765.9 86.6,766.3 85.8,765.0 85.1,764.2 84.4,764.4 83.6,763.5 82.9,762.9 82.2,763.3 81.4,762.7 80.7,761.4 79.9,761.1 79.2,761.4 78.5,760.4 77.7,759.5 77.0,758.2 76.3,756.9 75.5,755.1 74.8,753.2 74.1,753.2 73.3,753.0 72.6,752.6 71.8,752.3 71.1,751.6 70.4,749.9 69.6,748.5 68.9,747.5 68.2,746.5 67.4,745.7 66.7,745.2 66.0,743.9 65.2,742.5 64.5,740.8 63.7,738.5 63.0,736.7 62.3,735.7 61.5,734.2 60.8,732.7 60.1,731.2 59.3,729.3 58.6,726.5 57.9,724.5 57.1,722.3 56.4,720.6 55.6,718.9 54.9,718.7 54.2,718.1 53.4,718.2 52.7,718.1 52.0,718.3 51.2,718.5 50.5,718.3 49.8,718.3 49.0,718.4 48.3,718.3 47.5,718.1 46.8,718.3 46.1,718.5 45.3,718.5 44.6,718.8 43.9,719.0 43.1,719.2 42.4,718.5 41.7,718.0 40.9,717.5 40.2,717.3 39.4,716.3 38.7,716.1 38.0,715.4 37.2,714.7 36.5,714.0" fill="#ff74b4"/>
<polygon points="36.5,715.1 37.2,716.0 38.0,716.9 38.7,717.6 39.4,718.1 40.2,718.2 40.9,718.9 41.7,719.8 42.4,720.6 43.1,721.1 43.9,721.5 44.6,720.4 45.3,719.6 46.1,719.3 46.8,719.0 47.5,718.4 48.3,718.1 49.0,717.5 49.8,716.2 50.5,715.6 51.2,715.2 52.0,715.1 52.7,714.5 53.4,714.4 54.2,713.7 54.9,713.3 55.6,712.3 56.4,713.4 57.1,715.4 57.9,717.8 58.6,718.9 59.3,720.2 60.1,721.5 60.8,722.3 61.5,722.8 62.3,724.2 63.0,726.3 63.7,727.3 64.5,727.9 65.2,728.2 66.0,729.2 66.7,729.5 67.4,729.6 68.2,731.1 68.9,732.3 69.6,733.0 70.4,733.0 71.1,734.6 71.8,734.1 72.6,734.2 73.3,735.3 74.1,735.5 74.8,735.0 75.5,735.8 76.3,736.3 77.0,736.6 77.7,737.9 78.5,739.1 79.2,739.8 79.9,739.7 80.7,739.9 81.4,740.0 82.2,740.1 82.9,740.5 83.6,740.5 84.4,740.3 85.1,740.0 85.8,740.1 86.6,740.0 87.3,741.0 88.0,741.2 88.8,741.9 89.5,742.9 90.3,743.0 91.0,742.6 91.7,742.4 92.5,742.2 93.2,741.3 93.9,741.4 94.7,741.2 95.4,741.7 96.1,742.2 96.9,741.7 97.6,742.5 98.4,742.8 99.1,742.0 99.8,741.3 100.6,741.5 101.3,740.1 102.0,739.3 102.8,739.5 103.5,738.8 104.2,739.1 105.0,739.2 105.7,739.8 106.5,740.2 107.2,740.8 107.9,739.7 108.7,739.8 109.4,739.7 110.1,738.9 110.9,738.4 111.6,738.2 112.3,737.5 113.1,736.8 113.8,737.1 114.6,737.4 115.3,737.8 116.0,738.3 116.8,738.5 117.5,738.2 118.2,738.2 119.0,738.4 119.7,737.3 120.4,737.0 121.2,736.8 121.9,736.7 122.7,736.8 123.4,737.5 124.1,737.4 124.9,737.5 125.6,737.0 126.3,736.1 127.1,735.5 127.8,735.5 128.6,734.9 129.3,734.9 130.0,734.6 130.8,734.9 131.5,734.4 132.2,733.9 133.0,733.7 133.7,733.7 134.4,733.3 135.2,732.9 135.9,732.9 136.7,732.1 137.4,731.7 138.1,731.7 138.9,731.0 139.6,730.7 140.3,730.8 141.1,730.3 141.8,729.8 142.5,730.5 143.3,730.5 144.0,730.5 144.8,730.5 145.5,731.4 146.2,731.3 147.0,731.2 147.7,730.7 148.4,730.4 149.2,728.3 149.9,727.4 150.6,727.2 151.4,727.7 152.1,728.3 152.9,728.7 153.6,728.8 154.3,728.7 155.1,728.5 155.8,727.4 156.5,727.3 157.3,727.4 158.0,727.4 158.7,726.8 159.5,727.2 160.2,726.9 161.0,727.3 161.7,727.2 162.4,727.8 163.2,727.5 163.9,727.1 164.6,726.2 165.4,725.8 166.1,724.8 166.8,724.0 167.6,724.1 168.3,723.8 169.1,723.8 169.8,724.1 170.5,724.2 171.3,724.1 172.0,724.2 172.7,723.6 173.5,723.5 174.2,723.3 174.9,723.1 175.7,723.6 176.4,723.6 177.2,723.3 177.9,723.0 178.6,723.1 179.4,721.6 180.1,721.4 180.8,720.4 181.6,720.7 182.3,720.2 183.0,720.6 183.8,720.5 184.5,720.6 185.3,720.1 186.0,720.4 186.7,720.7 187.5,721.3 188.2,721.7 188.9,721.6 189.7,721.1 190.4,720.8 191.1,720.1 191.9,720.0 192.6,720.4 193.4,720.3 194.1,720.5 194.8,719.7 195.6,719.7 196.3,719.2 197.0,719.4 197.8,718.7 198.5,719.2 199.2,719.1 200.0,718.9 200.7,718.8 201.5,717.9 202.2,717.5 202.9,717.1 203.7,717.2 204.4,717.2 205.1,718.5 205.9,718.6 206.6,718.2 207.3,718.7 208.1,717.6 208.8,717.1 209.6,716.6 210.3,716.1 211.0,715.1 211.8,715.0 212.5,714.8 212.5,722.9 211.8,722.8 211.0,722.8 210.3,722.8 209.6,722.9 208.8,723.3 208.1,723.4 207.3,725.1 206.6,725.1 205.9,725.3 205.1,725.0 204.4,725.4 203.7,725.1 202.9,725.1 202.2,725.1 201.5,725.6 200.7,725.5 200.0,725.1 199.2,725.9 198.5,725.6 197.8,725.9 197.0,725.0 196.3,725.5 195.6,726.3 194.8,726.7 194.1,726.8 193.4,727.8 192.6,728.3 191.9,727.9 191.1,728.6 190.4,729.4 189.7,729.7 188.9,729.8 188.2,729.3 187.5,728.9 186.7,729.0 186.0,729.7 185.3,729.2 184.5,730.3 183.8,730.7 183.0,729.9 182.3,728.9 181.6,729.0 180.8,727.8 180.1,727.4 179.4,727.9 178.6,729.0 177.9,728.8 177.2,729.1 176.4,729.8 175.7,729.7 174.9,729.8 174.2,730.0 173.5,730.7 172.7,731.2 172.0,731.2 171.3,731.0 170.5,731.0 169.8,730.9 169.1,730.5 168.3,731.1 167.6,731.3 166.8,731.7 166.1,732.2 165.4,732.5 164.6,733.2 163.9,733.4 163.2,734.1 162.4,734.4 161.7,734.3 161.0,733.7 160.2,733.6 159.5,733.7 158.7,732.9 158.0,733.3 157.3,733.2 156.5,733.6 155.8,734.2 155.1,735.6 154.3,735.8 153.6,737.2 152.9,737.9 152.1,738.3 151.4,738.5 150.6,738.9 149.9,738.3 149.2,738.6 148.4,738.3 147.7,737.5 147.0,737.3 146.2,737.5 145.5,737.7 144.8,737.1 144.0,737.4 143.3,738.1 142.5,738.3 141.8,737.5 141.1,739.0 140.3,739.0 139.6,738.5 138.9,739.2 138.1,739.5 137.4,739.6 136.7,740.0 135.9,740.4 135.2,739.4 134.4,740.0 133.7,739.7 133.0,740.0 132.2,740.6 131.5,741.8 130.8,742.0 130.0,741.2 129.3,741.6 128.6,741.9 127.8,742.3 127.1,742.7 126.3,744.6 125.6,744.6 124.9,744.7 124.1,744.7 123.4,744.6 122.7,743.6 121.9,744.4 121.2,743.9 120.4,743.7 119.7,743.9 119.0,744.4 118.2,743.8 117.5,744.6 116.8,745.2 116.0,745.4 115.3,745.2 114.6,745.3 113.8,745.3 113.1,745.2 112.3,745.5 111.6,745.9 110.9,746.2 110.1,746.5 109.4,746.2 108.7,745.9 107.9,746.4 107.2,746.5 106.5,747.1 105.7,748.1 105.0,748.4 104.2,748.8 103.5,748.5 102.8,748.2 102.0,747.7 101.3,748.2 100.6,748.8 99.8,749.6 99.1,749.6 98.4,749.5 97.6,749.0 96.9,748.8 96.1,748.5 95.4,747.7 94.7,747.9 93.9,748.1 93.2,747.5 92.5,748.3 91.7,749.5 91.0,749.3 90.3,750.0 89.5,750.0 88.8,749.1 88.0,748.3 87.3,748.3 86.6,746.9 85.8,747.6 85.1,747.4 84.4,747.7 83.6,747.6 82.9,748.8 82.2,747.6 81.4,747.5 80.7,746.5 79.9,746.2 79.2,745.2 78.5,745.1 77.7,744.2 77.0,744.5 76.3,744.7 75.5,744.4 74.8,743.3 74.1,743.6 73.3,743.2 72.6,742.1 71.8,740.9 71.1,740.6 70.4,739.7 69.6,738.9 68.9,738.3 68.2,738.2 67.4,737.0 66.7,736.2 66.0,735.2 65.2,735.0 64.5,734.3 63.7,733.2 63.0,731.9 62.3,731.0 61.5,729.7 60.8,728.3 60.1,727.1 59.3,725.7 58.6,723.9 57.9,721.9 57.1,720.2 56.4,718.9 55.6,717.6 54.9,718.0 54.2,718.0 53.4,718.4 52.7,719.0 52.0,719.5 51.2,719.8 50.5,720.6 49.8,721.2 49.0,721.6 48.3,722.3 47.5,723.0 46.8,723.7 46.1,724.2 45.3,724.1 44.6,724.6 43.9,725.0 43.1,724.2 42.4,723.5 41.7,723.1 40.9,722.7 40.2,721.6 39.4,721.4 38.7,721.2 38.0,720.7 37.2,719.7 36.5,719.6" fill="#86c2c2" style="mix-blend-mode:multiply"/>
<polygon points="36.5,702.5 37.2,704.0 38.0,704.5 38.7,705.3 39.4,705.3 40.2,705.8 40.9,705.5 41.7,705.2 42.4,705.3 43.1,706.0 43.9,706.8 44.6,707.2 45.3,707.1 46.1,708.1 46.8,708.2 47.5,708.0 48.3,707.9 49.0,708.5 49.8,707.8 50.5,707.6 51.2,707.1 52.0,707.7 52.7,708.0 53.4,708.0 54.2,708.0 54.9,705.5 55.6,701.4 56.4,700.4 57.1,699.7 57.9,699.4 58.6,699.1 59.3,699.3 60.1,700.3 60.8,701.6 61.5,701.9 62.3,702.6 63.0,703.8 63.7,703.4 64.5,703.2 65.2,702.4 66.0,703.2 66.7,702.0 67.4,702.8 68.2,702.8 68.9,703.8 69.6,703.2 70.4,704.1 71.1,704.2 71.8,704.7 72.6,703.9 73.3,703.9 74.1,703.8 74.8,702.2 75.5,702.3 76.3,703.3 77.0,703.7 77.7,702.7 78.5,702.2 79.2,702.2 79.9,701.6 80.7,701.4 81.4,701.4 82.2,703.7 82.9,703.1 83.6,703.3 84.4,704.3 85.1,705.1 85.8,704.0 86.6,704.2 87.3,705.1 88.0,704.2 88.8,705.1 89.5,705.1 90.3,705.3 91.0,705.2 91.7,706.1 92.5,704.8 93.2,704.5 93.9,704.2 94.7,704.4 95.4,703.9 96.1,703.8 96.9,704.1 97.6,704.7 98.4,704.2 99.1,704.0 99.8,704.7 100.6,705.5 101.3,704.5 102.0,704.2 102.8,704.4 103.5,705.6 104.2,705.2 105.0,705.9 105.7,705.8 106.5,705.9 107.2,704.3 107.9,704.2 108.7,704.5 109.4,706.6 110.1,706.9 110.9,708.4 111.6,708.4 112.3,707.7 113.1,705.3 113.8,704.8 114.6,704.2 115.3,702.9 116.0,703.1 116.8,703.8 117.5,703.5 118.2,703.5 119.0,704.1 119.7,704.2 120.4,703.0 121.2,702.9 121.9,701.8 122.7,701.8 123.4,701.4 124.1,702.8 124.9,702.8 125.6,703.9 126.3,704.8 127.1,705.4 127.8,704.4 128.6,704.5 129.3,705.4 130.0,705.2 130.8,704.7 131.5,706.5 132.2,707.4 133.0,705.9 133.7,706.4 134.4,707.2 135.2,706.1 135.9,706.1 136.7,706.2 137.4,705.6 138.1,705.6 138.9,705.8 139.6,704.8 140.3,705.1 141.1,704.5 141.8,704.0 142.5,703.8 143.3,703.5 144.0,703.1 144.8,703.8 145.5,703.5 146.2,703.0 147.0,703.1 147.7,703.5 148.4,703.0 149.2,702.4 149.9,703.1 150.6,703.2 151.4,702.1 152.1,702.2 152.9,702.9 153.6,702.6 154.3,702.2 155.1,703.2 155.8,703.3 156.5,703.5 157.3,703.4 158.0,703.9 158.7,703.2 159.5,703.9 160.2,704.3 161.0,704.0 161.7,704.3 162.4,705.2 163.2,703.2 163.9,702.4 164.6,702.9 165.4,702.6 166.1,702.0 166.8,702.7 167.6,704.4 168.3,704.5 169.1,705.1 169.8,704.6 170.5,705.8 171.3,704.0 172.0,703.9 172.7,703.2 173.5,703.8 174.2,703.1 174.9,703.5 175.7,703.3 176.4,703.1 177.2,703.2 177.9,703.4 178.6,703.7 179.4,704.0 180.1,704.6 180.8,704.3 181.6,704.5 182.3,705.1 183.0,704.8 183.8,703.8 184.5,704.0 185.3,703.3 186.0,701.5 186.7,701.9 187.5,702.4 188.2,703.9 188.9,704.4 189.7,704.9 190.4,705.0 191.1,705.8 191.9,704.8 192.6,704.2 193.4,703.7 194.1,701.5 194.8,699.7 195.6,699.4 196.3,700.5 197.0,701.1 197.8,702.1 198.5,703.4 199.2,703.6 200.0,703.3 200.7,703.7 201.5,704.1 202.2,703.7 202.9,702.6 203.7,702.1 204.4,701.9 205.1,701.0 205.9,701.0 206.6,702.4 207.3,702.4 208.1,701.4 208.8,701.8 209.6,700.9 210.3,700.4 211.0,699.9 211.8,701.0 212.5,700.7 212.5,716.3 211.8,716.5 211.0,715.5 210.3,715.0 209.6,714.7 208.8,715.7 208.1,716.6 207.3,718.1 206.6,717.6 205.9,718.6 205.1,717.4 204.4,718.2 203.7,718.1 202.9,718.2 202.2,718.3 201.5,718.7 200.7,716.9 200.0,716.6 199.2,717.3 198.5,716.5 197.8,717.1 197.0,717.2 196.3,717.0 195.6,716.7 194.8,716.4 194.1,716.3 193.4,716.5 192.6,716.4 191.9,716.8 191.1,717.5 190.4,717.7 189.7,719.2 188.9,719.1 188.2,719.5 187.5,720.6 186.7,720.2 186.0,718.7 185.3,719.8 184.5,719.4 183.8,718.4 183.0,719.3 182.3,719.9 181.6,718.1 180.8,718.3 180.1,718.2 179.4,719.2 178.6,717.7 177.9,719.3 177.2,719.3 176.4,718.9 175.7,717.8 174.9,717.8 174.2,717.2 173.5,716.6 172.7,717.4 172.0,717.2 171.3,718.5 170.5,719.4 169.8,719.2 169.1,719.0 168.3,718.8 167.6,719.0 166.8,718.2 166.1,719.5 165.4,720.5 164.6,721.1 163.9,721.0 163.2,720.6 162.4,719.8 161.7,719.1 161.0,718.8 160.2,719.1 159.5,720.2 158.7,720.4 158.0,720.6 157.3,720.3 156.5,719.3 155.8,718.5 155.1,718.8 154.3,718.0 153.6,717.4 152.9,718.3 152.1,718.0 151.4,716.8 150.6,717.6 149.9,717.6 149.2,717.4 148.4,717.6 147.7,718.4 147.0,718.3 146.2,718.6 145.5,718.0 144.8,718.5 144.0,719.0 143.3,718.9 142.5,718.8 141.8,719.5 141.1,718.5 140.3,718.9 139.6,717.5 138.9,718.1 138.1,718.0 137.4,718.2 136.7,718.2 135.9,719.0 135.2,720.4 134.4,719.7 133.7,719.9 133.0,719.4 132.2,719.2 131.5,717.9 130.8,718.0 130.0,718.6 129.3,718.5 128.6,718.0 127.8,718.2 127.1,718.8 126.3,717.4 125.6,718.0 124.9,717.5 124.1,717.4 123.4,717.9 122.7,719.2 121.9,717.8 121.2,717.9 120.4,719.0 119.7,718.6 119.0,718.8 118.2,719.3 117.5,719.7 116.8,719.0 116.0,718.1 115.3,717.2 114.6,717.4 113.8,718.2 113.1,717.8 112.3,719.2 111.6,719.9 110.9,719.4 110.1,718.8 109.4,719.5 108.7,718.7 107.9,718.7 107.2,719.2 106.5,719.8 105.7,718.8 105.0,719.5 104.2,718.7 103.5,718.7 102.8,718.5 102.0,719.7 101.3,719.0 100.6,719.8 99.8,720.4 99.1,720.7 98.4,719.7 97.6,718.8 96.9,718.2 96.1,716.0 95.4,716.9 94.7,716.9 93.9,718.5 93.2,719.7 92.5,721.2 91.7,720.4 91.0,719.9 90.3,719.9 89.5,718.9 88.8,719.3 88.0,718.7 87.3,718.9 86.6,718.7 85.8,718.5 85.1,718.5 84.4,719.2 83.6,719.7 82.9,719.9 82.2,720.2 81.4,720.1 80.7,719.4 79.9,717.7 79.2,716.2 78.5,716.0 77.7,716.3 77.0,715.5 76.3,715.8 75.5,717.0 74.8,717.2 74.1,716.5 73.3,716.6 72.6,718.0 71.8,717.5 71.1,717.8 70.4,718.6 69.6,719.8 68.9,719.4 68.2,719.0 67.4,718.0 66.7,717.0 66.0,715.9 65.2,716.5 64.5,716.2 63.7,716.8 63.0,716.5 62.3,716.1 61.5,714.6 60.8,714.2 60.1,712.9 59.3,712.8 58.6,712.4 57.9,711.8 57.1,710.4 56.4,710.2 55.6,710.7 54.9,713.5 54.2,715.8 53.4,717.3 52.7,716.6 52.0,716.2 51.2,716.5 50.5,716.0 49.8,715.9 49.0,717.1 48.3,717.2 47.5,717.0 46.8,718.1 46.1,717.8 45.3,717.3 44.6,716.7 43.9,716.1 43.1,715.5 42.4,715.7 41.7,715.8 40.9,715.2 40.2,715.5 39.4,714.5 38.7,714.2 38.0,713.7 37.2,714.1 36.5,713.4" fill="#7a7a7a"/>
<polyline points="36.5,711.8 37.2,712.4 38.0,713.1 38.7,713.8 39.4,714.2 40.2,714.9 40.9,715.2 41.7,715.8 42.4,716.3 43.1,716.9 43.9,716.9 44.6,716.9 45.3,716.5 46.1,716.5 46.8,716.3 47.5,715.9 48.3,715.9 49.0,716.0 49.8,715.9 50.5,715.8 51.2,716.1 52.0,716.0 52.7,715.7 53.4,715.9 54.2,715.9 54.9,715.9 55.6,716.0 56.4,717.4 57.1,719.2 57.9,720.8 58.6,722.5 59.3,724.5 60.1,725.8 60.8,726.9 61.5,728.3 62.3,729.9 63.0,731.1 63.7,732.5 64.5,733.8 65.2,735.0 66.0,735.8 66.7,736.8 67.4,737.9 68.2,738.9 68.9,739.5 69.6,740.4 70.4,740.9 71.1,741.4 71.8,742.1 72.6,742.8 73.3,743.2 74.1,744.2 74.8,744.8 75.5,745.4 76.3,746.4 77.0,747.1 77.7,747.5 78.5,748.1 79.2,748.9 79.9,749.3 80.7,749.8 81.4,750.4 82.2,750.8 82.9,751.2 83.6,751.6 84.4,752.1 85.1,752.3 85.8,752.7 86.6,753.1 87.3,753.6 88.0,753.7 88.8,754.1 89.5,754.8 90.3,754.9 91.0,755.3 91.7,755.8 92.5,756.5 93.2,756.4 93.9,757.0 94.7,757.3 95.4,757.4 96.1,757.8 96.9,758.3 97.6,758.6 98.4,759.0 99.1,759.1 99.8,758.8 100.6,759.2 101.3,759.3 102.0,759.4 102.8,759.6 103.5,760.0 104.2,760.0 105.0,760.1 105.7,760.4 106.5,760.8 107.2,761.1 107.9,761.0 108.7,761.1 109.4,761.1 110.1,761.2 110.9,761.3 111.6,761.5 112.3,761.5 113.1,761.5 113.8,761.8 114.6,761.5 115.3,761.4 116.0,761.3 116.8,761.2 117.5,761.1 118.2,761.5 119.0,761.4 119.7,761.3 120.4,761.4 121.2,761.5 121.9,761.2 122.7,761.5 123.4,761.9 124.1,761.8 124.9,761.7 125.6,761.5 126.3,761.4 127.1,761.1 127.8,761.1 128.6,761.0 129.3,761.4 130.0,761.5 130.8,761.5 131.5,761.5 132.2,761.4 133.0,760.9 133.7,760.5 134.4,760.4 135.2,760.1 135.9,760.1 136.7,760.3 137.4,760.5 138.1,760.6 138.9,760.9 139.6,760.9 140.3,760.7 141.1,760.5 141.8,760.4 142.5,760.5 143.3,760.4 144.0,760.3 144.8,760.2 145.5,760.0 146.2,759.8 147.0,759.9 147.7,759.6 148.4,759.6 149.2,759.4 149.9,758.9 150.6,758.9 151.4,759.1 152.1,759.1 152.9,759.3 153.6,759.5 154.3,759.3 155.1,759.3 155.8,759.6 156.5,759.6 157.3,759.8 158.0,759.8 158.7,759.8 159.5,759.5 160.2,759.3 161.0,759.1 161.7,759.1 162.4,759.0 163.2,759.1 163.9,759.2 164.6,759.3 165.4,759.2 166.1,759.2 166.8,759.0 167.6,759.2 168.3,759.0 169.1,759.1 169.8,759.2 170.5,759.2 171.3,759.1 172.0,759.2 172.7,759.1 173.5,759.1 174.2,759.2 174.9,758.9 175.7,758.9 176.4,758.9 177.2,758.7 177.9,758.8 178.6,758.7 179.4,758.9 180.1,758.6 180.8,758.5 181.6,758.5 182.3,758.7 183.0,758.3 183.8,758.3 184.5,758.3 185.3,757.9 186.0,757.9 186.7,757.9 187.5,758.0 188.2,757.9 188.9,758.2 189.7,758.0 190.4,758.1 191.1,758.2 191.9,758.2 192.6,757.8 193.4,757.8 194.1,757.7 194.8,757.5 195.6,757.5 196.3,757.7 197.0,757.8 197.8,758.0 198.5,758.0 199.2,758.0 200.0,758.0 200.7,758.2 201.5,758.0 202.2,758.1 202.9,757.8 203.7,757.4 204.4,756.9 205.1,756.3 205.9,756.0 206.6,756.1 207.3,756.1 208.1,755.8 208.8,755.7 209.6,755.4 210.3,754.8 211.0,754.7 211.8,754.7 212.5,754.5" fill="none" stroke="#e8177a" stroke-width="1.0" stroke-linejoin="round"/>
<polyline points="36.5,717.1 37.2,717.7 38.0,718.5 38.7,719.2 39.4,719.7 40.2,720.2 40.9,720.8 41.7,721.4 42.4,721.9 43.1,722.4 43.9,722.5 44.6,721.9 45.3,721.6 46.1,721.2 46.8,720.7 47.5,720.3 48.3,719.9 49.0,719.3 49.8,718.7 50.5,718.2 51.2,717.8 52.0,717.6 52.7,716.8 53.4,716.4 54.2,715.9 54.9,715.5 55.6,714.9 56.4,716.1 57.1,717.6 57.9,719.3 58.6,721.0 59.3,722.4 60.1,723.7 60.8,724.6 61.5,725.7 62.3,726.9 63.0,728.1 63.7,729.2 64.5,730.4 65.2,731.2 66.0,732.0 66.7,733.1 67.4,734.1 68.2,735.1 68.9,736.0 69.6,736.5 70.4,737.1 71.1,738.0 71.8,738.2 72.6,738.6 73.3,739.2 74.1,739.4 74.8,739.4 75.5,740.3 76.3,740.8 77.0,741.2 77.7,741.7 78.5,742.3 79.2,742.7 79.9,742.9 80.7,743.0 81.4,743.6 82.2,743.7 82.9,744.0 83.6,743.9 84.4,744.0 85.1,743.8 85.8,744.0 86.6,743.9 87.3,744.7 88.0,745.1 88.8,745.6 89.5,745.9 90.3,746.1 91.0,745.8 91.7,745.8 92.5,745.5 93.2,745.3 93.9,745.3 94.7,745.2 95.4,745.3 96.1,745.2 96.9,745.4 97.6,745.6 98.4,745.7 99.1,745.3 99.8,745.3 100.6,745.0 101.3,744.4 102.0,744.1 102.8,744.3 103.5,744.3 104.2,744.1 105.0,744.1 105.7,744.1 106.5,744.2 107.2,744.0 107.9,743.8 108.7,743.6 109.4,743.3 110.1,742.9 110.9,742.5 111.6,742.4 112.3,742.3 113.1,741.9 113.8,741.9 114.6,742.1 115.3,741.8 116.0,741.6 116.8,741.6 117.5,741.4 118.2,741.3 119.0,741.4 119.7,741.3 120.4,741.2 121.2,741.3 121.9,741.1 122.7,741.0 123.4,741.1 124.1,740.9 124.9,740.6 125.6,740.2 126.3,739.9 127.1,739.5 127.8,739.1 128.6,738.5 129.3,738.3 130.0,737.8 130.8,737.6 131.5,737.4 132.2,737.2 133.0,737.2 133.7,736.9 134.4,736.7 135.2,736.4 135.9,736.4 136.7,735.7 137.4,735.6 138.1,735.3 138.9,735.1 139.6,734.7 140.3,734.7 141.1,734.3 141.8,734.0 142.5,734.1 143.3,734.1 144.0,734.3 144.8,734.2 145.5,734.5 146.2,734.3 147.0,734.3 147.7,733.9 148.4,733.8 149.2,733.5 149.9,733.1 150.6,733.1 151.4,733.5 152.1,733.5 152.9,733.4 153.6,733.2 154.3,732.6 155.1,732.3 155.8,731.7 156.5,731.2 157.3,731.1 158.0,731.2 158.7,730.4 159.5,730.6 160.2,730.6 161.0,730.4 161.7,730.3 162.4,730.3 163.2,730.0 163.9,729.6 164.6,729.3 165.4,728.9 166.1,728.5 166.8,728.3 167.6,727.9 168.3,727.9 169.1,727.5 169.8,727.6 170.5,727.2 171.3,727.3 172.0,727.2 172.7,727.2 173.5,726.9 174.2,726.6 174.9,726.6 175.7,726.4 176.4,726.1 177.2,726.0 177.9,726.1 178.6,726.0 179.4,725.6 180.1,725.4 180.8,725.2 181.6,725.3 182.3,725.1 183.0,725.3 183.8,725.6 184.5,725.6 185.3,725.5 186.0,725.5 186.7,725.2 187.5,724.7 188.2,724.5 188.9,724.1 189.7,723.8 190.4,724.0 191.1,723.9 191.9,723.7 192.6,723.8 193.4,723.7 194.1,723.3 194.8,722.9 195.6,722.7 196.3,722.2 197.0,722.1 197.8,721.8 198.5,721.8 199.2,721.8 200.0,721.5 200.7,721.2 201.5,721.3 202.2,721.0 202.9,720.8 203.7,720.8 204.4,720.9 205.1,720.6 205.9,720.7 206.6,720.6 207.3,720.8 208.1,720.1 208.8,719.9 209.6,719.6 210.3,719.1 211.0,718.6 211.8,718.7 212.5,718.7" fill="none" stroke="#1d8f93" stroke-width="1.0" stroke-linejoin="round"/>
<polyline points="36.5,707.9 37.2,708.5 38.0,708.8 38.7,709.4 39.4,709.2 40.2,709.8 40.9,709.6 41.7,709.5 42.4,709.4 43.1,710.4 43.9,710.9 44.6,711.8 45.3,712.6 46.1,713.3 46.8,713.5 47.5,713.2 48.3,712.6 49.0,712.3 49.8,711.7 50.5,711.4 51.2,711.3 52.0,711.6 52.7,711.9 53.4,712.2 54.2,712.1 54.9,709.6 55.6,706.5 56.4,705.6 57.1,705.6 57.9,705.5 58.6,705.5 59.3,705.8 60.1,706.5 60.8,707.3 61.5,708.0 62.3,708.8 63.0,709.5 63.7,709.5 64.5,709.2 65.2,709.3 66.0,709.3 66.7,709.3 67.4,709.4 68.2,709.9 68.9,710.1 69.6,710.2 70.4,710.4 71.1,710.3 71.8,710.0 72.6,709.9 73.3,709.8 74.1,709.6 74.8,709.4 75.5,709.9 76.3,709.9 77.0,709.6 77.7,709.6 78.5,709.6 79.2,709.5 79.9,709.4 80.7,710.3 81.4,710.7 82.2,710.9 82.9,710.8 83.6,711.1 84.4,711.0 85.1,710.9 85.8,711.1 86.6,711.6 87.3,711.9 88.0,711.9 88.8,712.3 89.5,712.5 90.3,712.5 91.0,712.4 91.7,712.4 92.5,712.2 93.2,712.1 93.9,712.2 94.7,712.2 95.4,712.2 96.1,712.1 96.9,712.3 97.6,712.1 98.4,711.9 99.1,712.0 99.8,711.7 100.6,711.7 101.3,711.7 102.0,711.7 102.8,711.7 103.5,712.3 104.2,712.1 105.0,712.1 105.7,712.2 106.5,712.1 107.2,711.9 107.9,712.1 108.7,712.1 109.4,712.4 110.1,712.4 110.9,712.6 111.6,712.4 112.3,712.3 113.1,711.9 113.8,711.9 114.6,711.5 115.3,711.4 116.0,711.6 116.8,711.5 117.5,711.0 118.2,711.0 119.0,710.7 119.7,710.8 120.4,710.6 121.2,711.1 121.9,711.1 122.7,711.3 123.4,710.6 124.1,711.0 124.9,710.5 125.6,710.6 126.3,710.9 127.1,711.5 127.8,710.9 128.6,711.1 129.3,711.7 130.0,711.6 130.8,711.9 131.5,712.5 132.2,713.0 133.0,712.4 133.7,712.3 134.4,712.1 135.2,712.0 135.9,711.7 136.7,712.0 137.4,712.2 138.1,711.8 138.9,712.0 139.6,712.2 140.3,712.2 141.1,711.7 141.8,712.1 142.5,711.7 143.3,711.3 144.0,711.2 144.8,711.3 145.5,710.9 146.2,710.9 147.0,711.0 147.7,710.8 148.4,711.0 149.2,710.8 149.9,711.3 150.6,711.5 151.4,711.3 152.1,711.2 152.9,711.6 153.6,711.0 154.3,710.6 155.1,710.9 155.8,710.8 156.5,710.6 157.3,710.7 158.0,710.8 158.7,710.4 159.5,710.8 160.2,710.9 161.0,710.8 161.7,711.2 162.4,711.9 163.2,711.7 163.9,711.7 164.6,712.0 165.4,711.8 166.1,711.8 166.8,711.5 167.6,711.8 168.3,712.0 169.1,712.3 169.8,712.1 170.5,712.3 171.3,712.1 172.0,711.8 172.7,711.5 173.5,711.0 174.2,711.2 174.9,711.4 175.7,711.3 176.4,711.2 177.2,711.4 177.9,711.4 178.6,711.0 179.4,711.1 180.1,711.1 180.8,711.5 181.6,711.3 182.3,711.3 183.0,711.2 183.8,711.0 184.5,711.1 185.3,711.5 186.0,711.1 186.7,711.2 187.5,711.0 188.2,710.7 188.9,710.3 189.7,710.5 190.4,710.2 191.1,710.0 191.9,709.6 192.6,709.4 193.4,709.2 194.1,708.9 194.8,708.7 195.6,708.3 196.3,708.2 197.0,708.3 197.8,708.7 198.5,708.5 199.2,709.2 200.0,709.8 200.7,710.1 201.5,710.0 202.2,710.6 202.9,710.2 203.7,710.0 204.4,710.0 205.1,710.2 205.9,709.5 206.6,709.9 207.3,710.1 208.1,709.6 208.8,709.2 209.6,709.3 210.3,709.1 211.0,708.8 211.8,708.7 212.5,708.7" fill="none" stroke="#111" stroke-width="1.0" stroke-linejoin="round"/>
<line x1="54.1" y1="694.3" x2="54.1" y2="793.1" stroke="#222" stroke-width="1.3" stroke-dasharray="3 2.2"/>
<line x1="36.5" y1="688.4" x2="36.5" y2="793.7" stroke="#000" stroke-width="1.3"/>
<line x1="35.9" y1="793.1" x2="212.5" y2="793.1" stroke="#000" stroke-width="1.3"/>
<line x1="29.0" y1="697.3" x2="36.5" y2="697.3" stroke="#000" stroke-width="1.3"/>
<text x="26.5" y="700.6" font-size="9.2" text-anchor="end" fill="#000" stroke="#000" stroke-width="0.2">39</text>
<line x1="29.0" y1="726.9" x2="36.5" y2="726.9" stroke="#000" stroke-width="1.3"/>
<text x="26.5" y="730.2" font-size="9.2" text-anchor="end" fill="#000" stroke="#000" stroke-width="0.2">35</text>
<line x1="29.0" y1="756.4" x2="36.5" y2="756.4" stroke="#000" stroke-width="1.3"/>
<text x="26.5" y="759.7" font-size="9.2" text-anchor="end" fill="#000" stroke="#000" stroke-width="0.2">31</text>
<line x1="29.0" y1="786.0" x2="36.5" y2="786.0" stroke="#000" stroke-width="1.3"/>
<text x="26.5" y="789.3" font-size="9.2" text-anchor="end" fill="#000" stroke="#000" stroke-width="0.2">27</text>
<line x1="36.5" y1="793.1" x2="36.5" y2="800.6" stroke="#000" stroke-width="1.3"/>
<text x="36.5" y="813.0" font-size="9.2" text-anchor="middle" fill="#000" stroke="#000" stroke-width="0.2">-1</text>
<line x1="54.1" y1="793.1" x2="54.1" y2="800.6" stroke="#000" stroke-width="1.3"/>
<text x="54.1" y="813.0" font-size="9.2" text-anchor="middle" fill="#000" stroke="#000" stroke-width="0.2">0</text>
<line x1="71.7" y1="793.1" x2="71.7" y2="800.6" stroke="#000" stroke-width="1.3"/>
<text x="71.7" y="813.0" font-size="9.2" text-anchor="middle" fill="#000" stroke="#000" stroke-width="0.2">1</text>
<line x1="89.3" y1="793.1" x2="89.3" y2="800.6" stroke="#000" stroke-width="1.3"/>
<text x="89.3" y="813.0" font-size="9.2" text-anchor="middle" fill="#000" stroke="#000" stroke-width="0.2">2</text>
<line x1="106.9" y1="793.1" x2="106.9" y2="800.6" stroke="#000" stroke-width="1.3"/>
<text x="106.9" y="813.0" font-size="9.2" text-anchor="middle" fill="#000" stroke="#000" stroke-width="0.2">3</text>
<line x1="124.5" y1="793.1" x2="124.5" y2="800.6" stroke="#000" stroke-width="1.3"/>
<text x="124.5" y="813.0" font-size="9.2" text-anchor="middle" fill="#000" stroke="#000" stroke-width="0.2">4</text>
<line x1="142.1" y1="793.1" x2="142.1" y2="800.6" stroke="#000" stroke-width="1.3"/>
<text x="142.1" y="813.0" font-size="9.2" text-anchor="middle" fill="#000" stroke="#000" stroke-width="0.2">5</text>
<line x1="159.7" y1="793.1" x2="159.7" y2="800.6" stroke="#000" stroke-width="1.3"/>
<text x="159.7" y="813.0" font-size="9.2" text-anchor="middle" fill="#000" stroke="#000" stroke-width="0.2">6</text>
<line x1="177.3" y1="793.1" x2="177.3" y2="800.6" stroke="#000" stroke-width="1.3"/>
<text x="177.3" y="813.0" font-size="9.2" text-anchor="middle" fill="#000" stroke="#000" stroke-width="0.2">7</text>
<line x1="194.9" y1="793.1" x2="194.9" y2="800.6" stroke="#000" stroke-width="1.3"/>
<text x="194.9" y="813.0" font-size="9.2" text-anchor="middle" fill="#000" stroke="#000" stroke-width="0.2">8</text>
<line x1="212.5" y1="793.1" x2="212.5" y2="800.6" stroke="#000" stroke-width="1.3"/>
<text x="212.5" y="813.0" font-size="9.2" text-anchor="middle" fill="#000" stroke="#000" stroke-width="0.2">9</text>
<text x="124.5" y="824.4" font-size="9.4" text-anchor="middle" fill="#000" stroke="#000" stroke-width="0.2">Time after injection (h)</text>
<text transform="translate(8.8,742.8) rotate(-90)" font-size="9.4" text-anchor="middle" fill="#000" stroke="#000" stroke-width="0.2">Tcore (°C)</text>
<text x="43.7" y="690.9" font-size="9.4" text-anchor="start" fill="#000" stroke="#000" stroke-width="0.2">CNO</text>
<text transform="translate(215.4,739.0) rotate(90)" font-size="9.2" text-anchor="middle" fill="#000" stroke="#000" stroke-width="0.2"><tspan font-style="italic">P</tspan>=0.1453</text>
<line x1="26.3" y1="676.3" x2="45.5" y2="676.3" stroke="#111" stroke-width="1.4"/>
<text x="59.6" y="679.7" font-size="9.45" text-anchor="start" fill="#000" stroke="#000" stroke-width="0.2">VLM-mCherry &amp; MPA-hM4Di (n=4)</text>
<polygon points="287.1,706.7 287.8,706.7 288.6,709.8 289.3,711.4 290.0,710.5 290.8,721.4 291.5,719.5 292.2,722.4 293.0,719.5 293.7,715.5 294.4,717.0 295.2,714.2 295.9,719.3 296.6,713.3 297.4,717.4 298.1,709.7 298.8,713.8 299.6,713.5 300.3,716.2 301.1,712.6 301.8,711.3 302.5,713.3 303.3,712.8 304.0,710.2 304.7,710.7 305.5,715.2 306.2,717.4 306.9,722.8 307.7,723.9 308.4,736.1 309.1,731.8 309.9,735.1 310.6,737.7 311.3,742.1 312.1,739.2 312.8,739.0 313.5,739.7 314.3,740.7 315.0,737.6 315.7,732.5 316.5,736.3 317.2,741.2 317.9,739.9 318.7,741.6 319.4,740.3 320.1,739.3 320.9,741.7 321.6,744.3 322.3,742.8 323.1,741.5 323.8,745.5 324.5,742.3 325.3,739.6 326.0,743.0 326.8,735.0 327.5,733.4 328.2,735.4 329.0,738.8 329.7,740.3 330.4,736.4 331.2,742.4 331.9,742.0 332.6,738.1 333.4,742.6 334.1,743.8 334.8,741.7 335.6,737.5 336.3,736.3 337.0,741.5 337.8,748.2 338.5,744.3 339.2,748.1 340.0,750.6 340.7,747.2 341.4,741.7 342.2,743.6 342.9,740.3 343.6,742.0 344.4,743.2 345.1,739.9 345.8,739.4 346.6,738.2 347.3,741.7 348.0,740.4 348.8,741.3 349.5,747.5 350.3,744.2 351.0,738.9 351.7,738.7 352.5,742.8 353.2,737.6 353.9,744.4 354.7,742.8 355.4,745.5 356.1,746.0 356.9,751.0 357.6,744.3 358.3,749.0 359.1,748.8 359.8,744.7 360.5,748.3 361.3,743.5 362.0,740.1 362.7,741.9 363.5,742.8 364.2,744.9 364.9,744.5 365.7,739.8 366.4,741.3 367.1,745.1 367.9,740.6 368.6,735.6 369.3,741.4 370.1,740.2 370.8,742.0 371.5,732.9 372.3,738.9 373.0,736.3 373.7,739.8 374.5,745.4 375.2,745.4 376.0,742.0 376.7,750.1 377.4,750.8 378.2,742.8 378.9,741.2 379.6,732.7 380.4,740.0 381.1,740.2 381.8,738.3 382.6,742.1 383.3,740.3 384.0,732.5 384.8,740.2 385.5,742.9 386.2,745.2 387.0,741.6 387.7,744.5 388.4,744.4 389.2,745.3 389.9,742.8 390.6,739.9 391.4,741.3 392.1,737.4 392.8,746.1 393.6,744.4 394.3,744.5 395.0,745.6 395.8,747.4 396.5,741.0 397.2,736.9 398.0,739.1 398.7,737.3 399.4,733.4 400.2,736.0 400.9,741.2 401.7,737.4 402.4,731.8 403.1,739.9 403.9,733.5 404.6,734.7 405.3,735.5 406.1,739.1 406.8,738.1 407.5,742.0 408.3,743.4 409.0,750.9 409.7,744.5 410.5,743.7 411.2,740.5 411.9,742.5 412.7,739.6 413.4,738.1 414.1,738.4 414.9,742.7 415.6,738.5 416.3,740.6 417.1,746.8 417.8,744.5 418.5,734.8 419.3,744.2 420.0,748.6 420.7,746.2 421.5,737.9 422.2,742.7 422.9,739.5 423.7,739.2 424.4,738.1 425.2,734.1 425.9,735.3 426.6,737.6 427.4,733.4 428.1,732.7 428.8,739.4 429.6,738.5 430.3,736.4 431.0,741.9 431.8,738.0 432.5,739.5 433.2,739.9 434.0,746.5 434.7,746.6 435.4,740.6 436.2,750.5 436.9,747.5 437.6,749.9 438.4,747.5 439.1,747.3 439.8,749.2 440.6,745.3 441.3,741.2 442.0,740.3 442.8,741.2 443.5,742.7 444.2,740.4 445.0,737.8 445.7,738.9 446.4,740.5 447.2,737.0 447.9,739.6 448.6,740.8 449.4,735.7 450.1,742.7 450.9,742.3 451.6,741.9 452.3,738.4 453.1,739.2 453.8,732.6 454.5,736.0 455.3,739.8 456.0,732.1 456.7,740.9 457.5,732.9 458.2,729.3 458.9,729.1 459.7,732.5 460.4,733.4 461.1,733.8 461.9,734.1 462.6,740.8 462.6,767.7 461.9,759.3 461.1,762.8 460.4,763.2 459.7,762.5 458.9,756.3 458.2,755.3 457.5,756.4 456.7,764.8 456.0,754.1 455.3,761.3 454.5,757.6 453.8,754.8 453.1,758.1 452.3,759.0 451.6,760.6 450.9,762.8 450.1,764.9 449.4,760.7 448.6,764.6 447.9,769.1 447.2,766.1 446.4,768.7 445.7,761.9 445.0,758.4 444.2,759.0 443.5,761.4 442.8,760.2 442.0,763.6 441.3,766.8 440.6,766.6 439.8,769.5 439.1,767.0 438.4,764.5 437.6,765.7 436.9,764.1 436.2,765.7 435.4,756.1 434.7,764.5 434.0,766.0 433.2,763.6 432.5,763.3 431.8,758.7 431.0,760.6 430.3,758.0 429.6,756.1 428.8,756.4 428.1,753.1 427.4,755.3 426.6,755.2 425.9,754.0 425.2,755.8 424.4,761.4 423.7,761.5 422.9,760.3 422.2,759.1 421.5,751.7 420.7,755.1 420.0,759.8 419.3,760.1 418.5,752.9 417.8,764.0 417.1,767.4 416.3,766.3 415.6,763.5 414.9,765.4 414.1,759.8 413.4,759.9 412.7,759.7 411.9,760.1 411.2,763.1 410.5,763.3 409.7,764.6 409.0,765.4 408.3,757.7 407.5,756.6 406.8,759.4 406.1,760.6 405.3,764.4 404.6,764.8 403.9,765.5 403.1,772.4 402.4,765.4 401.7,767.0 400.9,769.1 400.2,761.1 399.4,757.2 398.7,760.7 398.0,759.4 397.2,760.4 396.5,763.1 395.8,763.4 395.0,758.3 394.3,758.9 393.6,759.8 392.8,760.5 392.1,754.2 391.4,760.1 390.6,758.5 389.9,755.5 389.2,758.6 388.4,757.9 387.7,758.3 387.0,757.8 386.2,766.2 385.5,764.7 384.8,766.0 384.0,760.3 383.3,765.6 382.6,769.9 381.8,766.0 381.1,764.5 380.4,764.1 379.6,757.4 378.9,761.0 378.2,758.4 377.4,765.7 376.7,762.8 376.0,759.1 375.2,761.0 374.5,766.9 373.7,762.5 373.0,761.0 372.3,762.4 371.5,757.3 370.8,763.7 370.1,758.4 369.3,761.2 368.6,754.7 367.9,761.5 367.1,763.3 366.4,764.0 365.7,759.0 364.9,760.4 364.2,759.2 363.5,759.5 362.7,760.3 362.0,757.3 361.3,758.8 360.5,764.5 359.8,761.4 359.1,761.2 358.3,760.1 357.6,759.7 356.9,766.1 356.1,760.0 355.4,760.9 354.7,761.3 353.9,763.4 353.2,758.5 352.5,765.8 351.7,760.0 351.0,760.4 350.3,762.6 349.5,765.3 348.8,758.2 348.0,758.6 347.3,759.8 346.6,759.3 345.8,758.7 345.1,758.9 344.4,764.6 343.6,766.4 342.9,761.6 342.2,766.3 341.4,761.7 340.7,763.5 340.0,763.7 339.2,766.1 338.5,764.7 337.8,770.8 337.0,769.5 336.3,763.8 335.6,763.3 334.8,766.5 334.1,770.0 333.4,769.8 332.6,769.2 331.9,770.7 331.2,771.3 330.4,765.5 329.7,763.6 329.0,758.7 328.2,755.9 327.5,755.1 326.8,753.9 326.0,760.9 325.3,757.6 324.5,759.9 323.8,759.5 323.1,757.6 322.3,763.0 321.6,765.7 320.9,761.7 320.1,760.2 319.4,760.8 318.7,759.6 317.9,758.4 317.2,761.2 316.5,757.6 315.7,755.2 315.0,760.0 314.3,762.1 313.5,760.6 312.8,757.8 312.1,754.6 311.3,756.0 310.6,750.1 309.9,746.9 309.1,742.9 308.4,746.8 307.7,736.3 306.9,735.0 306.2,729.6 305.5,725.3 304.7,722.2 304.0,721.7 303.3,724.4 302.5,724.6 301.8,723.1 301.1,723.4 300.3,725.7 299.6,723.8 298.8,724.1 298.1,722.0 297.4,729.2 296.6,726.4 295.9,732.4 295.2,726.1 294.4,727.8 293.7,724.2 293.0,727.4 292.2,729.9 291.5,728.6 290.8,730.5 290.0,721.6 289.3,720.6 288.6,717.5 287.8,713.2 287.1,713.0" fill="#ff74b4"/>
<polygon points="287.1,722.2 287.8,719.2 288.6,722.2 289.3,721.4 290.0,720.2 290.8,722.7 291.5,720.4 292.2,715.9 293.0,724.9 293.7,726.5 294.4,717.8 295.2,719.3 295.9,712.5 296.6,716.0 297.4,714.5 298.1,719.8 298.8,720.9 299.6,715.5 300.3,711.8 301.1,714.5 301.8,714.9 302.5,710.7 303.3,709.3 304.0,709.8 304.7,709.1 305.5,705.3 306.2,714.6 306.9,720.3 307.7,724.0 308.4,721.6 309.1,731.6 309.9,728.3 310.6,735.7 311.3,743.3 312.1,743.1 312.8,746.0 313.5,745.2 314.3,754.3 315.0,751.7 315.7,752.0 316.5,750.2 317.2,755.4 317.9,754.8 318.7,748.2 319.4,751.7 320.1,756.8 320.9,750.7 321.6,751.9 322.3,751.8 323.1,753.6 323.8,748.3 324.5,753.0 325.3,752.4 326.0,752.5 326.8,757.5 327.5,754.8 328.2,750.1 329.0,755.6 329.7,750.5 330.4,751.1 331.2,749.2 331.9,750.5 332.6,751.8 333.4,754.4 334.1,753.1 334.8,755.3 335.6,754.2 336.3,750.2 337.0,754.3 337.8,749.7 338.5,750.0 339.2,754.1 340.0,750.2 340.7,752.3 341.4,749.6 342.2,752.5 342.9,750.4 343.6,749.2 344.4,752.3 345.1,744.3 345.8,746.7 346.6,754.0 347.3,748.8 348.0,750.5 348.8,743.9 349.5,749.1 350.3,748.3 351.0,750.1 351.7,748.2 352.5,750.7 353.2,751.2 353.9,748.2 354.7,748.9 355.4,746.6 356.1,748.1 356.9,749.2 357.6,749.4 358.3,751.3 359.1,748.7 359.8,755.7 360.5,751.0 361.3,747.8 362.0,752.8 362.7,754.1 363.5,750.2 364.2,752.9 364.9,750.7 365.7,746.4 366.4,748.3 367.1,741.4 367.9,744.3 368.6,745.7 369.3,746.6 370.1,747.0 370.8,752.1 371.5,746.5 372.3,746.0 373.0,746.3 373.7,747.0 374.5,743.9 375.2,742.6 376.0,741.8 376.7,740.9 377.4,740.5 378.2,742.4 378.9,745.2 379.6,747.0 380.4,746.5 381.1,749.9 381.8,743.8 382.6,743.7 383.3,748.1 384.0,746.9 384.8,737.7 385.5,742.2 386.2,739.2 387.0,743.5 387.7,738.0 388.4,739.9 389.2,741.7 389.9,738.7 390.6,734.7 391.4,733.1 392.1,737.2 392.8,741.0 393.6,743.1 394.3,741.4 395.0,740.0 395.8,744.7 396.5,748.0 397.2,747.9 398.0,748.4 398.7,748.6 399.4,751.7 400.2,746.0 400.9,737.3 401.7,741.0 402.4,733.1 403.1,738.3 403.9,741.4 404.6,741.6 405.3,741.8 406.1,745.7 406.8,744.0 407.5,745.8 408.3,740.1 409.0,746.5 409.7,746.1 410.5,750.0 411.2,748.7 411.9,745.9 412.7,746.2 413.4,741.7 414.1,739.7 414.9,737.9 415.6,742.3 416.3,740.2 417.1,741.3 417.8,744.7 418.5,748.7 419.3,749.1 420.0,744.2 420.7,748.7 421.5,743.8 422.2,747.1 422.9,740.7 423.7,746.9 424.4,741.7 425.2,740.6 425.9,735.5 426.6,739.6 427.4,736.6 428.1,742.4 428.8,743.4 429.6,740.0 430.3,741.4 431.0,743.0 431.8,743.0 432.5,749.0 433.2,740.5 434.0,743.2 434.7,740.4 435.4,741.3 436.2,745.3 436.9,744.0 437.6,741.2 438.4,733.7 439.1,730.4 439.8,735.6 440.6,735.0 441.3,740.4 442.0,741.5 442.8,743.4 443.5,741.6 444.2,745.0 445.0,744.1 445.7,740.8 446.4,741.9 447.2,741.2 447.9,737.8 448.6,738.8 449.4,738.1 450.1,732.5 450.9,735.1 451.6,740.1 452.3,736.5 453.1,733.8 453.8,733.7 454.5,733.3 455.3,733.1 456.0,736.4 456.7,736.5 457.5,735.7 458.2,731.0 458.9,731.2 459.7,726.6 460.4,725.5 461.1,729.2 461.9,730.4 462.6,729.1 462.6,738.1 461.9,741.1 461.1,740.0 460.4,735.1 459.7,734.8 458.9,738.7 458.2,737.7 457.5,741.7 456.7,742.6 456.0,743.5 455.3,741.1 454.5,741.2 453.8,741.3 453.1,741.7 452.3,744.5 451.6,747.1 450.9,743.7 450.1,744.1 449.4,749.1 448.6,750.4 447.9,750.9 447.2,752.1 446.4,750.2 445.7,750.8 445.0,753.7 444.2,756.0 443.5,752.3 442.8,754.3 442.0,752.2 441.3,752.3 440.6,744.5 439.8,747.0 439.1,742.5 438.4,744.9 437.6,750.1 436.9,753.4 436.2,754.8 435.4,749.9 434.7,750.3 434.0,753.6 433.2,750.2 432.5,757.1 431.8,752.0 431.0,750.2 430.3,749.1 429.6,746.3 428.8,750.5 428.1,749.5 427.4,745.9 426.6,749.0 425.9,748.9 425.2,754.8 424.4,756.6 423.7,758.7 422.9,751.4 422.2,755.0 421.5,749.8 420.7,755.1 420.0,750.1 419.3,756.3 418.5,756.5 417.8,753.7 417.1,749.5 416.3,751.5 415.6,751.4 414.9,746.6 414.1,748.2 413.4,749.7 412.7,751.6 411.9,752.8 411.2,757.1 410.5,760.0 409.7,755.9 409.0,757.7 408.3,751.5 407.5,756.3 406.8,752.9 406.1,754.8 405.3,749.0 404.6,749.2 403.9,749.1 403.1,746.2 402.4,742.1 401.7,751.6 400.9,747.1 400.2,754.8 399.4,760.5 398.7,753.5 398.0,754.3 397.2,754.8 396.5,756.5 395.8,754.0 395.0,751.8 394.3,751.4 393.6,753.3 392.8,751.0 392.1,748.1 391.4,743.3 390.6,746.2 389.9,749.4 389.2,751.6 388.4,748.2 387.7,746.8 387.0,752.0 386.2,748.4 385.5,751.1 384.8,748.6 384.0,758.6 383.3,760.7 382.6,756.9 381.8,757.8 381.1,761.6 380.4,757.1 379.6,757.3 378.9,757.1 378.2,754.3 377.4,751.5 376.7,753.0 376.0,753.6 375.2,750.8 374.5,750.5 373.7,754.3 373.0,753.0 372.3,753.4 371.5,755.8 370.8,762.6 370.1,757.1 369.3,756.5 368.6,753.9 367.9,752.5 367.1,749.2 366.4,758.7 365.7,757.6 364.9,763.6 364.2,764.3 363.5,763.3 362.7,765.1 362.0,762.8 361.3,758.2 360.5,761.3 359.8,765.9 359.1,758.8 358.3,760.7 357.6,757.0 356.9,757.9 356.1,755.2 355.4,754.3 354.7,757.0 353.9,758.0 353.2,758.3 352.5,758.8 351.7,755.8 351.0,759.3 350.3,759.6 349.5,760.2 348.8,755.4 348.0,762.1 347.3,759.9 346.6,764.7 345.8,758.7 345.1,754.4 344.4,763.6 343.6,760.5 342.9,758.7 342.2,761.6 341.4,760.6 340.7,763.0 340.0,759.1 339.2,762.7 338.5,759.1 337.8,758.7 337.0,762.5 336.3,759.4 335.6,763.7 334.8,764.4 334.1,761.7 333.4,762.6 332.6,761.5 331.9,762.3 331.2,762.4 330.4,765.3 329.7,763.7 329.0,767.4 328.2,761.0 327.5,763.5 326.8,765.2 326.0,762.7 325.3,762.0 324.5,763.9 323.8,760.7 323.1,766.6 322.3,764.7 321.6,765.0 320.9,761.5 320.1,766.2 319.4,760.0 318.7,756.1 317.9,763.8 317.2,765.9 316.5,760.3 315.7,764.1 315.0,762.9 314.3,765.8 313.5,755.2 312.8,755.6 312.1,750.7 311.3,752.1 310.6,744.3 309.9,736.0 309.1,740.6 308.4,731.4 307.7,732.6 306.9,727.0 306.2,723.5 305.5,714.1 304.7,716.1 304.0,716.8 303.3,717.5 302.5,718.4 301.8,722.4 301.1,723.1 300.3,721.1 299.6,724.7 298.8,729.2 298.1,728.6 297.4,723.3 296.6,724.7 295.9,720.3 295.2,726.8 294.4,724.7 293.7,734.2 293.0,731.2 292.2,723.8 291.5,729.3 290.8,732.5 290.0,728.7 289.3,730.3 288.6,729.8 287.8,727.1 287.1,729.3" fill="#86c2c2" style="mix-blend-mode:multiply"/>
<polygon points="287.1,722.3 287.8,725.2 288.6,720.2 289.3,716.3 290.0,716.6 290.8,718.3 291.5,718.7 292.2,718.8 293.0,720.0 293.7,725.4 294.4,718.7 295.2,717.9 295.9,714.4 296.6,715.4 297.4,712.9 298.1,724.3 298.8,717.3 299.6,710.9 300.3,715.7 301.1,717.0 301.8,712.2 302.5,713.1 303.3,711.4 304.0,711.2 304.7,706.7 305.5,697.8 306.2,695.0 306.9,696.7 307.7,703.1 308.4,703.3 309.1,709.1 309.9,714.9 310.6,712.2 311.3,713.0 312.1,714.2 312.8,715.3 313.5,717.7 314.3,719.6 315.0,718.1 315.7,721.2 316.5,719.5 317.2,719.7 317.9,717.2 318.7,717.3 319.4,710.8 320.1,712.5 320.9,715.2 321.6,718.9 322.3,715.2 323.1,711.0 323.8,717.7 324.5,708.1 325.3,713.1 326.0,713.5 326.8,713.0 327.5,715.1 328.2,709.5 329.0,713.1 329.7,713.6 330.4,719.0 331.2,718.0 331.9,717.9 332.6,719.8 333.4,720.6 334.1,720.7 334.8,720.9 335.6,717.5 336.3,712.4 337.0,707.6 337.8,707.1 338.5,706.4 339.2,710.3 340.0,710.3 340.7,711.6 341.4,707.9 342.2,710.6 342.9,709.3 343.6,708.3 344.4,712.5 345.1,717.6 345.8,715.9 346.6,715.8 347.3,715.0 348.0,723.6 348.8,711.1 349.5,716.2 350.3,716.5 351.0,712.6 351.7,706.9 352.5,716.5 353.2,706.7 353.9,711.5 354.7,713.2 355.4,718.0 356.1,717.2 356.9,719.8 357.6,713.7 358.3,716.4 359.1,714.2 359.8,714.7 360.5,716.5 361.3,707.9 362.0,709.4 362.7,707.5 363.5,716.0 364.2,715.1 364.9,713.5 365.7,713.2 366.4,713.9 367.1,707.1 367.9,715.8 368.6,712.9 369.3,716.7 370.1,710.2 370.8,715.4 371.5,713.7 372.3,706.6 373.0,709.2 373.7,712.2 374.5,713.6 375.2,715.8 376.0,716.7 376.7,715.4 377.4,712.4 378.2,718.6 378.9,715.5 379.6,714.7 380.4,719.8 381.1,711.3 381.8,716.2 382.6,707.9 383.3,714.2 384.0,709.2 384.8,711.6 385.5,714.4 386.2,721.1 387.0,719.4 387.7,715.0 388.4,719.3 389.2,721.0 389.9,718.5 390.6,718.5 391.4,710.4 392.1,711.3 392.8,707.7 393.6,716.9 394.3,717.1 395.0,709.7 395.8,716.0 396.5,712.4 397.2,708.9 398.0,707.0 398.7,707.4 399.4,705.0 400.2,704.8 400.9,706.5 401.7,706.6 402.4,712.4 403.1,715.0 403.9,710.2 404.6,719.0 405.3,722.7 406.1,714.2 406.8,711.6 407.5,710.6 408.3,713.2 409.0,718.5 409.7,714.7 410.5,712.6 411.2,714.9 411.9,712.3 412.7,711.7 413.4,709.7 414.1,710.5 414.9,708.0 415.6,709.0 416.3,709.6 417.1,714.4 417.8,713.4 418.5,718.0 419.3,718.9 420.0,724.0 420.7,720.8 421.5,710.9 422.2,716.8 422.9,718.6 423.7,713.6 424.4,712.7 425.2,711.5 425.9,710.7 426.6,711.1 427.4,708.4 428.1,713.4 428.8,707.9 429.6,706.5 430.3,709.4 431.0,697.1 431.8,704.6 432.5,708.0 433.2,708.4 434.0,709.3 434.7,719.2 435.4,715.8 436.2,712.3 436.9,717.6 437.6,713.5 438.4,715.9 439.1,710.6 439.8,712.8 440.6,711.6 441.3,710.6 442.0,704.6 442.8,710.2 443.5,715.2 444.2,709.7 445.0,706.5 445.7,709.2 446.4,710.4 447.2,709.9 447.9,711.8 448.6,710.8 449.4,711.0 450.1,713.4 450.9,703.1 451.6,708.7 452.3,705.9 453.1,709.6 453.8,717.4 454.5,716.8 455.3,713.8 456.0,713.4 456.7,719.9 457.5,718.4 458.2,720.5 458.9,720.8 459.7,715.6 460.4,717.3 461.1,720.3 461.9,713.4 462.6,714.7 462.6,726.9 461.9,724.9 461.1,731.1 460.4,728.5 459.7,727.7 458.9,733.0 458.2,734.2 457.5,731.6 456.7,732.4 456.0,725.9 455.3,726.4 454.5,728.1 453.8,729.4 453.1,721.7 452.3,721.7 451.6,728.5 450.9,722.7 450.1,730.6 449.4,729.5 448.6,726.7 447.9,726.5 447.2,725.6 446.4,728.9 445.7,727.0 445.0,725.2 444.2,725.1 443.5,731.1 442.8,724.8 442.0,716.4 441.3,721.4 440.6,722.9 439.8,724.3 439.1,722.2 438.4,728.8 437.6,727.2 436.9,728.9 436.2,724.0 435.4,729.7 434.7,734.9 434.0,724.2 433.2,729.6 432.5,726.4 431.8,724.2 431.0,716.5 430.3,726.3 429.6,718.0 428.8,722.1 428.1,724.7 427.4,720.6 426.6,724.1 425.9,725.7 425.2,724.8 424.4,726.6 423.7,726.1 422.9,731.8 422.2,731.2 421.5,725.1 420.7,732.2 420.0,735.2 419.3,729.1 418.5,728.5 417.8,723.1 417.1,728.5 416.3,726.1 415.6,727.2 414.9,723.6 414.1,727.8 413.4,726.1 412.7,725.1 411.9,723.4 411.2,730.4 410.5,726.3 409.7,729.0 409.0,734.4 408.3,732.9 407.5,727.3 406.8,732.0 406.1,734.1 405.3,739.3 404.6,732.7 403.9,726.4 403.1,727.3 402.4,727.2 401.7,724.2 400.9,724.1 400.2,717.3 399.4,719.7 398.7,718.6 398.0,718.8 397.2,721.3 396.5,725.7 395.8,728.6 395.0,722.8 394.3,730.8 393.6,731.7 392.8,723.5 392.1,727.3 391.4,725.1 390.6,730.1 389.9,731.9 389.2,734.7 388.4,733.2 387.7,730.6 387.0,736.0 386.2,736.3 385.5,730.0 384.8,728.3 384.0,726.3 383.3,732.1 382.6,726.5 381.8,732.4 381.1,726.6 380.4,734.0 379.6,728.5 378.9,725.5 378.2,733.0 377.4,726.4 376.7,730.4 376.0,729.3 375.2,731.4 374.5,729.2 373.7,726.9 373.0,725.2 372.3,725.0 371.5,731.9 370.8,728.7 370.1,725.5 369.3,729.9 368.6,726.7 367.9,731.3 367.1,726.0 366.4,731.7 365.7,730.0 364.9,729.1 364.2,731.2 363.5,730.8 362.7,724.5 362.0,727.5 361.3,728.2 360.5,734.9 359.8,733.9 359.1,731.6 358.3,735.0 357.6,731.3 356.9,736.2 356.1,733.0 355.4,733.6 354.7,726.8 353.9,726.7 353.2,723.3 352.5,733.7 351.7,724.1 351.0,728.1 350.3,731.0 349.5,730.2 348.8,725.0 348.0,735.5 347.3,730.4 346.6,730.9 345.8,729.4 345.1,731.6 344.4,729.0 343.6,727.4 342.9,728.4 342.2,730.6 341.4,727.0 340.7,731.0 340.0,728.3 339.2,727.8 338.5,722.9 337.8,724.2 337.0,720.6 336.3,724.1 335.6,729.3 334.8,734.4 334.1,732.5 333.4,732.5 332.6,727.3 331.9,725.5 331.2,725.9 330.4,728.6 329.7,723.3 329.0,727.5 328.2,725.7 327.5,727.0 326.8,724.7 326.0,727.4 325.3,725.5 324.5,719.8 323.8,733.7 323.1,728.2 322.3,731.6 321.6,734.8 320.9,730.4 320.1,728.6 319.4,728.6 318.7,733.8 317.9,732.7 317.2,734.8 316.5,732.6 315.7,732.4 315.0,727.4 314.3,729.6 313.5,726.6 312.8,722.5 312.1,719.9 311.3,721.3 310.6,721.7 309.9,723.4 309.1,719.5 308.4,715.4 307.7,716.3 306.9,708.9 306.2,709.6 305.5,711.9 304.7,718.7 304.0,723.4 303.3,722.4 302.5,723.2 301.8,722.7 301.1,729.6 300.3,726.8 299.6,723.3 298.8,729.9 298.1,736.2 297.4,725.7 296.6,727.4 295.9,725.4 295.2,729.4 294.4,732.3 293.7,737.8 293.0,733.3 292.2,734.7 291.5,735.0 290.8,734.5 290.0,733.0 289.3,735.0 288.6,738.9 287.8,741.4 287.1,737.6" fill="#7e7e7e"/>
<polyline points="287.1,709.4 287.8,709.3 288.6,712.8 289.3,715.6 290.0,715.8 290.8,725.7 291.5,724.1 292.2,726.0 293.0,722.7 293.7,719.6 294.4,722.4 295.2,721.0 295.9,727.6 296.6,721.6 297.4,724.1 298.1,716.4 298.8,718.5 299.6,717.9 300.3,720.4 301.1,718.1 301.8,717.0 302.5,718.7 303.3,718.0 304.0,715.9 304.7,716.7 305.5,720.7 306.2,723.9 306.9,729.2 307.7,729.2 308.4,739.2 309.1,735.0 309.9,741.4 310.6,743.6 311.3,748.3 312.1,746.5 312.8,747.6 313.5,747.2 314.3,750.0 315.0,749.1 315.7,744.8 316.5,748.9 317.2,751.9 317.9,748.0 318.7,751.2 319.4,749.5 320.1,749.7 320.9,752.8 321.6,757.3 322.3,753.1 323.1,750.6 323.8,753.2 324.5,751.0 325.3,749.5 326.0,753.7 326.8,748.8 327.5,747.7 328.2,749.2 329.0,749.0 329.7,749.1 330.4,746.0 331.2,751.7 331.9,752.3 332.6,750.7 333.4,755.0 334.1,756.9 334.8,755.2 335.6,751.8 336.3,751.6 337.0,757.3 337.8,758.4 338.5,754.1 339.2,753.9 340.0,753.6 340.7,751.5 341.4,749.8 342.2,752.5 342.9,751.3 343.6,755.9 344.4,756.0 345.1,752.0 345.8,750.7 346.6,750.5 347.3,750.7 348.0,750.1 348.8,750.0 349.5,757.1 350.3,754.4 351.0,751.3 351.7,751.0 352.5,756.9 353.2,749.6 353.9,754.2 354.7,753.7 355.4,752.4 356.1,751.2 356.9,757.3 357.6,750.7 358.3,753.1 359.1,755.3 359.8,753.8 360.5,759.0 361.3,754.7 362.0,752.3 362.7,754.6 363.5,753.5 364.2,752.8 364.9,752.2 365.7,749.4 366.4,752.2 367.1,752.7 367.9,750.4 368.6,746.1 369.3,752.6 370.1,750.2 370.8,755.8 371.5,747.7 372.3,749.4 373.0,747.5 373.7,751.2 374.5,753.8 375.2,748.5 376.0,749.0 376.7,753.5 377.4,755.3 378.2,750.1 378.9,751.9 379.6,744.4 380.4,753.4 381.1,753.2 381.8,752.2 382.6,756.6 383.3,754.6 384.0,747.6 384.8,752.4 385.5,753.6 386.2,755.3 387.0,750.1 387.7,749.8 388.4,750.7 389.2,752.4 389.9,750.4 390.6,750.1 391.4,752.9 392.1,749.2 392.8,756.6 393.6,754.2 394.3,751.4 395.0,750.8 395.8,753.6 396.5,749.4 397.2,747.2 398.0,748.8 398.7,749.3 399.4,747.5 400.2,748.6 400.9,752.8 401.7,750.3 402.4,746.4 403.1,753.3 403.9,750.2 404.6,751.7 405.3,753.3 406.1,753.8 406.8,751.0 407.5,750.6 408.3,750.8 409.0,755.9 409.7,752.9 410.5,751.1 411.2,749.4 411.9,750.0 412.7,749.5 413.4,748.6 414.1,749.3 414.9,753.7 415.6,751.2 416.3,753.2 417.1,757.7 417.8,755.6 418.5,745.1 419.3,753.8 420.0,756.7 420.7,751.9 421.5,745.9 422.2,750.0 422.9,748.5 423.7,750.2 424.4,749.4 425.2,745.5 425.9,746.6 426.6,748.8 427.4,745.9 428.1,745.6 428.8,749.5 429.6,748.4 430.3,748.8 431.0,751.7 431.8,747.0 432.5,751.0 433.2,752.5 434.0,755.8 434.7,755.0 435.4,747.6 436.2,755.3 436.9,751.0 437.6,753.2 438.4,750.8 439.1,750.5 439.8,754.3 440.6,753.0 441.3,751.9 442.0,751.8 442.8,752.2 443.5,753.0 444.2,750.4 445.0,748.5 445.7,750.4 446.4,753.6 447.2,750.1 447.9,750.7 448.6,749.3 449.4,745.2 450.1,750.5 450.9,749.6 451.6,751.7 452.3,749.7 453.1,750.2 453.8,743.9 454.5,747.2 455.3,749.4 456.0,742.3 456.7,751.1 457.5,744.8 458.2,744.2 458.9,745.2 459.7,747.3 460.4,746.7 461.1,747.1 461.9,743.7 462.6,752.1" fill="none" stroke="#e8177a" stroke-width="1.0" stroke-linejoin="round"/>
<polyline points="287.1,724.2 287.8,722.1 288.6,725.1 289.3,725.8 290.0,725.5 290.8,727.8 291.5,725.0 292.2,719.5 293.0,727.4 293.7,729.6 294.4,722.2 295.2,724.4 295.9,718.4 296.6,722.1 297.4,720.1 298.1,723.5 298.8,724.2 299.6,719.1 300.3,715.4 301.1,718.0 301.8,718.5 302.5,714.4 303.3,713.0 304.0,712.2 304.7,711.3 305.5,708.4 306.2,718.2 306.9,723.1 307.7,728.2 308.4,726.8 309.1,736.9 309.9,732.7 310.6,740.3 311.3,748.1 312.1,746.7 312.8,749.9 313.5,748.8 314.3,758.4 315.0,756.4 315.7,757.8 316.5,755.6 317.2,761.3 317.9,760.6 318.7,753.6 319.4,757.1 320.1,762.2 320.9,757.2 321.6,759.8 322.3,759.4 323.1,760.8 323.8,755.0 324.5,759.0 325.3,757.0 326.0,757.3 326.8,761.5 327.5,759.5 328.2,755.5 329.0,761.7 329.7,756.9 330.4,757.8 331.2,755.8 331.9,755.6 332.6,755.1 333.4,757.0 334.1,756.4 334.8,758.8 335.6,758.3 336.3,754.4 337.0,758.2 337.8,753.8 338.5,753.8 339.2,758.4 340.0,754.7 340.7,758.2 341.4,755.1 342.2,757.9 342.9,754.9 343.6,755.2 344.4,758.3 345.1,750.0 345.8,752.8 346.6,759.4 347.3,754.2 348.0,756.1 348.8,749.4 349.5,754.7 350.3,753.3 351.0,754.6 351.7,752.3 352.5,755.1 353.2,755.9 353.9,754.6 354.7,754.2 355.4,751.2 356.1,752.4 356.9,753.6 357.6,753.6 358.3,755.7 359.1,753.7 359.8,760.1 360.5,756.0 361.3,753.0 362.0,757.8 362.7,759.0 363.5,756.4 364.2,758.3 364.9,757.1 365.7,752.6 366.4,755.3 367.1,747.8 367.9,750.8 368.6,752.1 369.3,753.1 370.1,751.7 370.8,756.6 371.5,749.6 372.3,747.4 373.0,747.9 373.7,750.1 374.5,746.9 375.2,747.0 376.0,749.5 376.7,748.8 377.4,747.5 378.2,749.6 378.9,752.3 379.6,751.9 380.4,751.5 381.1,755.3 381.8,749.8 382.6,749.6 383.3,754.0 384.0,751.9 384.8,741.8 385.5,745.5 386.2,742.2 387.0,746.8 387.7,741.7 388.4,744.3 389.2,747.6 389.9,745.0 390.6,741.6 391.4,739.4 392.1,744.4 392.8,747.6 393.6,749.8 394.3,746.7 395.0,746.7 395.8,750.3 396.5,752.1 397.2,750.7 398.0,751.7 398.7,750.9 399.4,754.9 400.2,750.6 400.9,743.7 401.7,747.6 402.4,740.1 403.1,744.8 403.9,747.0 404.6,745.9 405.3,745.4 406.1,749.3 406.8,747.2 407.5,749.3 408.3,744.8 409.0,750.2 409.7,749.1 410.5,752.9 411.2,751.6 411.9,747.4 412.7,748.6 413.4,746.1 414.1,743.8 414.9,742.0 415.6,747.5 416.3,745.5 417.1,744.5 417.8,749.3 418.5,752.3 419.3,751.9 420.0,747.1 420.7,751.9 421.5,747.1 422.2,751.4 422.9,746.7 423.7,753.0 424.4,749.2 425.2,747.6 425.9,742.5 426.6,745.3 427.4,742.9 428.1,747.4 428.8,748.1 429.6,744.3 430.3,744.7 431.0,745.9 431.8,746.7 432.5,752.0 433.2,744.3 434.0,748.0 434.7,743.7 435.4,743.6 436.2,748.8 436.9,747.9 437.6,745.5 438.4,740.9 439.1,738.5 439.8,742.8 440.6,740.6 441.3,746.8 442.0,745.8 442.8,747.2 443.5,745.5 444.2,749.3 445.0,747.2 445.7,744.4 446.4,746.1 447.2,746.2 447.9,743.9 448.6,744.9 449.4,743.3 450.1,737.4 450.9,738.4 451.6,743.3 452.3,740.4 453.1,738.7 453.8,737.9 454.5,738.5 455.3,737.8 456.0,740.1 456.7,739.3 457.5,739.1 458.2,734.7 458.9,734.5 459.7,731.3 460.4,732.2 461.1,736.5 461.9,737.4 462.6,736.4" fill="none" stroke="#1d8f93" stroke-width="0.9" stroke-linejoin="round"/>
<polyline points="287.1,728.0 287.8,731.1 288.6,727.4 289.3,724.2 290.0,724.3 290.8,726.0 291.5,726.1 292.2,726.5 293.0,726.2 293.7,730.9 294.4,725.0 295.2,724.4 295.9,719.7 296.6,720.3 297.4,718.0 298.1,727.7 298.8,721.9 299.6,716.7 300.3,720.9 301.1,723.6 301.8,719.3 302.5,719.2 303.3,716.8 304.0,718.0 304.7,712.9 305.5,705.0 306.2,702.8 306.9,702.7 307.7,708.5 308.4,708.4 309.1,713.4 309.9,717.3 310.6,716.4 311.3,717.5 312.1,717.0 312.8,717.5 313.5,721.9 314.3,723.4 315.0,721.9 315.7,726.9 316.5,726.6 317.2,726.8 317.9,726.1 318.7,726.6 319.4,720.5 320.1,721.6 320.9,723.9 321.6,726.6 322.3,723.6 323.1,719.9 323.8,725.5 324.5,713.4 325.3,718.9 326.0,718.0 326.8,715.3 327.5,719.7 328.2,717.8 329.0,719.9 329.7,720.0 330.4,726.2 331.2,723.4 331.9,721.6 332.6,723.5 333.4,725.3 334.1,725.7 334.8,727.7 335.6,724.3 336.3,721.2 337.0,717.9 337.8,718.4 338.5,717.2 339.2,720.8 340.0,719.9 340.7,722.0 341.4,719.1 342.2,721.2 342.9,720.0 343.6,718.8 344.4,721.9 345.1,723.5 345.8,722.0 346.6,721.0 347.3,721.7 348.0,727.8 348.8,718.2 349.5,722.8 350.3,724.4 351.0,720.8 351.7,716.5 352.5,725.8 353.2,716.7 353.9,720.4 354.7,720.4 355.4,726.2 356.1,725.0 356.9,727.4 357.6,721.8 358.3,726.0 359.1,722.4 359.8,724.3 360.5,726.1 361.3,718.9 362.0,717.4 362.7,716.2 363.5,722.0 364.2,721.0 364.9,719.9 365.7,721.3 366.4,722.2 367.1,717.4 367.9,724.8 368.6,720.8 369.3,723.6 370.1,718.0 370.8,721.5 371.5,722.6 372.3,717.5 373.0,718.5 373.7,720.4 374.5,720.9 375.2,722.8 376.0,720.8 376.7,722.2 377.4,719.7 378.2,726.5 378.9,720.7 379.6,721.8 380.4,725.7 381.1,717.2 381.8,724.4 382.6,717.6 383.3,722.5 384.0,717.1 384.8,719.6 385.5,720.3 386.2,725.3 387.0,723.3 387.7,719.3 388.4,721.6 389.2,723.8 389.9,723.8 390.6,724.9 391.4,719.4 392.1,722.9 392.8,719.9 393.6,726.2 394.3,726.1 395.0,718.0 395.8,722.9 396.5,720.5 397.2,718.0 398.0,716.2 398.7,716.2 399.4,715.7 400.2,714.1 400.9,718.6 401.7,718.1 402.4,721.3 403.1,722.1 403.9,718.8 404.6,725.3 405.3,731.0 406.1,724.0 406.8,723.3 407.5,718.8 408.3,724.0 409.0,725.7 409.7,722.1 410.5,716.9 411.2,721.6 411.9,716.6 412.7,717.7 413.4,716.4 414.1,719.3 414.9,716.1 415.6,718.6 416.3,717.8 417.1,720.9 417.8,717.5 418.5,723.0 419.3,723.5 420.0,729.9 420.7,727.1 421.5,717.3 422.2,723.5 422.9,725.5 423.7,720.4 424.4,719.9 425.2,719.5 425.9,717.9 426.6,717.7 427.4,713.4 428.1,718.1 428.8,713.8 429.6,711.4 430.3,715.1 431.0,706.4 431.8,713.5 432.5,715.3 433.2,717.9 434.0,716.0 434.7,723.5 435.4,719.4 436.2,716.7 436.9,721.0 437.6,719.0 438.4,722.7 439.1,717.7 439.8,720.9 440.6,719.3 441.3,717.5 442.0,712.8 442.8,719.9 443.5,724.1 444.2,719.5 445.0,718.6 445.7,719.6 446.4,721.4 447.2,718.3 447.9,718.4 448.6,717.4 449.4,719.6 450.1,721.1 450.9,712.2 451.6,717.4 452.3,711.5 453.1,712.7 453.8,719.6 454.5,719.1 455.3,717.3 456.0,716.8 456.7,722.6 457.5,721.7 458.2,723.4 458.9,723.7 459.7,720.1 460.4,721.4 461.1,725.2 461.9,718.8 462.6,720.7" fill="none" stroke="#111" stroke-width="1.0" stroke-linejoin="round"/>
<line x1="304.7" y1="695.1" x2="304.7" y2="794.9" stroke="#222" stroke-width="1.3" stroke-dasharray="3 2.2"/>
<line x1="287.1" y1="691.3" x2="287.1" y2="795.5" stroke="#000" stroke-width="1.3"/>
<line x1="286.5" y1="794.9" x2="462.6" y2="794.9" stroke="#000" stroke-width="1.3"/>
<line x1="279.6" y1="691.3" x2="287.1" y2="691.3" stroke="#000" stroke-width="1.3"/>
<text x="277.1" y="694.6" font-size="9.2" text-anchor="end" fill="#000" stroke="#000" stroke-width="0.2">800</text>
<line x1="279.6" y1="717.2" x2="287.1" y2="717.2" stroke="#000" stroke-width="1.3"/>
<text x="277.1" y="720.5" font-size="9.2" text-anchor="end" fill="#000" stroke="#000" stroke-width="0.2">600</text>
<line x1="279.6" y1="743.1" x2="287.1" y2="743.1" stroke="#000" stroke-width="1.3"/>
<text x="277.1" y="746.4" font-size="9.2" text-anchor="end" fill="#000" stroke="#000" stroke-width="0.2">400</text>
<line x1="279.6" y1="769.0" x2="287.1" y2="769.0" stroke="#000" stroke-width="1.3"/>
<text x="277.1" y="772.3" font-size="9.2" text-anchor="end" fill="#000" stroke="#000" stroke-width="0.2">200</text>
<line x1="279.6" y1="794.9" x2="287.1" y2="794.9" stroke="#000" stroke-width="1.3"/>
<text x="277.1" y="798.2" font-size="9.2" text-anchor="end" fill="#000" stroke="#000" stroke-width="0.2">0</text>
<line x1="287.1" y1="794.9" x2="287.1" y2="802.4" stroke="#000" stroke-width="1.3"/>
<text x="287.1" y="814.2" font-size="9.2" text-anchor="middle" fill="#000" stroke="#000" stroke-width="0.2">-1</text>
<line x1="304.7" y1="794.9" x2="304.7" y2="802.4" stroke="#000" stroke-width="1.3"/>
<text x="304.7" y="814.2" font-size="9.2" text-anchor="middle" fill="#000" stroke="#000" stroke-width="0.2">0</text>
<line x1="322.2" y1="794.9" x2="322.2" y2="802.4" stroke="#000" stroke-width="1.3"/>
<text x="322.2" y="814.2" font-size="9.2" text-anchor="middle" fill="#000" stroke="#000" stroke-width="0.2">1</text>
<line x1="339.8" y1="794.9" x2="339.8" y2="802.4" stroke="#000" stroke-width="1.3"/>
<text x="339.8" y="814.2" font-size="9.2" text-anchor="middle" fill="#000" stroke="#000" stroke-width="0.2">2</text>
<line x1="357.3" y1="794.9" x2="357.3" y2="802.4" stroke="#000" stroke-width="1.3"/>
<text x="357.3" y="814.2" font-size="9.2" text-anchor="middle" fill="#000" stroke="#000" stroke-width="0.2">3</text>
<line x1="374.9" y1="794.9" x2="374.9" y2="802.4" stroke="#000" stroke-width="1.3"/>
<text x="374.9" y="814.2" font-size="9.2" text-anchor="middle" fill="#000" stroke="#000" stroke-width="0.2">4</text>
<line x1="392.4" y1="794.9" x2="392.4" y2="802.4" stroke="#000" stroke-width="1.3"/>
<text x="392.4" y="814.2" font-size="9.2" text-anchor="middle" fill="#000" stroke="#000" stroke-width="0.2">5</text>
<line x1="410.0" y1="794.9" x2="410.0" y2="802.4" stroke="#000" stroke-width="1.3"/>
<text x="410.0" y="814.2" font-size="9.2" text-anchor="middle" fill="#000" stroke="#000" stroke-width="0.2">6</text>
<line x1="427.5" y1="794.9" x2="427.5" y2="802.4" stroke="#000" stroke-width="1.3"/>
<text x="427.5" y="814.2" font-size="9.2" text-anchor="middle" fill="#000" stroke="#000" stroke-width="0.2">7</text>
<line x1="445.1" y1="794.9" x2="445.1" y2="802.4" stroke="#000" stroke-width="1.3"/>
<text x="445.1" y="814.2" font-size="9.2" text-anchor="middle" fill="#000" stroke="#000" stroke-width="0.2">8</text>
<line x1="462.6" y1="794.9" x2="462.6" y2="802.4" stroke="#000" stroke-width="1.3"/>
<text x="462.6" y="814.2" font-size="9.2" text-anchor="middle" fill="#000" stroke="#000" stroke-width="0.2">9</text>
<text x="370.5" y="823.0" font-size="9.4" text-anchor="middle" fill="#000" stroke="#000" stroke-width="0.2">Time after injection (h)</text>
<text transform="translate(253.8,745.2) rotate(-90)" font-size="9.4" text-anchor="middle" fill="#000" stroke="#000" stroke-width="0.2">Heart rate (bpm)</text>
<text x="294.6" y="692.1" font-size="9.4" text-anchor="start" fill="#000" stroke="#000" stroke-width="0.2">CNO</text>
<text transform="translate(464.5,754.0) rotate(90)" font-size="9.2" text-anchor="middle" fill="#000" stroke="#000" stroke-width="0.2"><tspan font-style="italic">P</tspan>=0.8122</text>
<line x1="230.0" y1="676.6" x2="248.2" y2="676.6" stroke="#1d8f93" stroke-width="1.4"/>
<text x="261.0" y="680.0" font-size="9.45" text-anchor="start" fill="#000" stroke="#000" stroke-width="0.2">VLM-hM3Dq &amp; MPA-GFP (n=6)</text>
<line x1="418.0" y1="676.6" x2="438.0" y2="676.6" stroke="#e8177a" stroke-width="1.4"/>
<text x="449.0" y="680.0" font-size="9.45" text-anchor="start" fill="#000" stroke="#000" stroke-width="0.2">VLM-hM3Dq &amp; MPA-hM4Di (n=5)</text>
<line x1="526.5" y1="720.2" x2="642.6" y2="720.2" stroke="#000" stroke-width="1.7" stroke-dasharray="1.6 2.4"/>
<polyline points="536.5,720.2 559.4,723.1 582.2,723.7 605.0,723.7 627.9,724.3" fill="none" stroke="#000" stroke-width="1.2" stroke-linejoin="round"/>
<polyline points="536.5,720.2 559.4,743.7 582.2,752.5 605.0,757.2 627.9,764.2" fill="none" stroke="#ee1111" stroke-width="1.2" stroke-linejoin="round"/>
<polyline points="536.5,720.2 559.4,739.0 582.2,744.3 605.0,747.2 627.9,751.3" fill="none" stroke="#1f8ba0" stroke-width="1.2" stroke-linejoin="round"/>
<rect x="534.3" y="718.0" width="4.4" height="4.4" fill="#ee1111"/>
<line x1="559.4" y1="739.6" x2="559.4" y2="747.8" stroke="#ee1111" stroke-width="1.1"/>
<line x1="557.1" y1="739.6" x2="561.6" y2="739.6" stroke="#ee1111" stroke-width="1.1"/>
<line x1="557.1" y1="747.8" x2="561.6" y2="747.8" stroke="#ee1111" stroke-width="1.1"/>
<rect x="557.1" y="741.5" width="4.4" height="4.4" fill="#ee1111"/>
<line x1="582.2" y1="746.6" x2="582.2" y2="758.4" stroke="#ee1111" stroke-width="1.1"/>
<line x1="580.0" y1="746.6" x2="584.4" y2="746.6" stroke="#ee1111" stroke-width="1.1"/>
<line x1="580.0" y1="758.4" x2="584.4" y2="758.4" stroke="#ee1111" stroke-width="1.1"/>
<rect x="580.0" y="750.3" width="4.4" height="4.4" fill="#ee1111"/>
<line x1="605.0" y1="749.5" x2="605.0" y2="764.8" stroke="#ee1111" stroke-width="1.1"/>
<line x1="602.8" y1="749.5" x2="607.2" y2="749.5" stroke="#ee1111" stroke-width="1.1"/>
<line x1="602.8" y1="764.8" x2="607.2" y2="764.8" stroke="#ee1111" stroke-width="1.1"/>
<rect x="602.8" y="755.0" width="4.4" height="4.4" fill="#ee1111"/>
<line x1="627.9" y1="755.4" x2="627.9" y2="773.0" stroke="#ee1111" stroke-width="1.1"/>
<line x1="625.7" y1="755.4" x2="630.1" y2="755.4" stroke="#ee1111" stroke-width="1.1"/>
<line x1="625.7" y1="773.0" x2="630.1" y2="773.0" stroke="#ee1111" stroke-width="1.1"/>
<rect x="625.7" y="762.0" width="4.4" height="4.4" fill="#ee1111"/>
<circle cx="536.5" cy="720.2" r="2.4" fill="#1f8ba0"/>
<line x1="559.4" y1="736.0" x2="559.4" y2="741.9" stroke="#1f8ba0" stroke-width="1.1"/>
<line x1="557.1" y1="736.0" x2="561.6" y2="736.0" stroke="#1f8ba0" stroke-width="1.1"/>
<line x1="557.1" y1="741.9" x2="561.6" y2="741.9" stroke="#1f8ba0" stroke-width="1.1"/>
<circle cx="559.4" cy="739.0" r="2.4" fill="#1f8ba0"/>
<line x1="582.2" y1="739.0" x2="582.2" y2="749.5" stroke="#1f8ba0" stroke-width="1.1"/>
<line x1="580.0" y1="739.0" x2="584.4" y2="739.0" stroke="#1f8ba0" stroke-width="1.1"/>
<line x1="580.0" y1="749.5" x2="584.4" y2="749.5" stroke="#1f8ba0" stroke-width="1.1"/>
<circle cx="582.2" cy="744.3" r="2.4" fill="#1f8ba0"/>
<line x1="605.0" y1="741.9" x2="605.0" y2="752.5" stroke="#1f8ba0" stroke-width="1.1"/>
<line x1="602.8" y1="741.9" x2="607.2" y2="741.9" stroke="#1f8ba0" stroke-width="1.1"/>
<line x1="602.8" y1="752.5" x2="607.2" y2="752.5" stroke="#1f8ba0" stroke-width="1.1"/>
<circle cx="605.0" cy="747.2" r="2.4" fill="#1f8ba0"/>
<line x1="627.9" y1="744.3" x2="627.9" y2="758.4" stroke="#1f8ba0" stroke-width="1.1"/>
<line x1="625.7" y1="744.3" x2="630.1" y2="744.3" stroke="#1f8ba0" stroke-width="1.1"/>
<line x1="625.7" y1="758.4" x2="630.1" y2="758.4" stroke="#1f8ba0" stroke-width="1.1"/>
<circle cx="627.9" cy="751.3" r="2.4" fill="#1f8ba0"/>
<rect x="534.3" y="718.0" width="4.4" height="4.4" fill="#000"/>
<line x1="559.4" y1="722.5" x2="559.4" y2="723.7" stroke="#000" stroke-width="1.0"/>
<line x1="557.4" y1="722.5" x2="561.4" y2="722.5" stroke="#000" stroke-width="1.0"/>
<line x1="557.4" y1="723.7" x2="561.4" y2="723.7" stroke="#000" stroke-width="1.0"/>
<polygon points="559.4,720.7 561.6,724.9 557.1,724.9" fill="#000"/>
<line x1="582.2" y1="722.5" x2="582.2" y2="724.9" stroke="#000" stroke-width="1.0"/>
<line x1="580.2" y1="722.5" x2="584.2" y2="722.5" stroke="#000" stroke-width="1.0"/>
<line x1="580.2" y1="724.9" x2="584.2" y2="724.9" stroke="#000" stroke-width="1.0"/>
<rect x="580.0" y="721.5" width="4.4" height="4.4" fill="#000"/>
<line x1="605.0" y1="722.5" x2="605.0" y2="724.9" stroke="#000" stroke-width="1.0"/>
<line x1="603.0" y1="722.5" x2="607.0" y2="722.5" stroke="#000" stroke-width="1.0"/>
<line x1="603.0" y1="724.9" x2="607.0" y2="724.9" stroke="#000" stroke-width="1.0"/>
<rect x="602.8" y="721.5" width="4.4" height="4.4" fill="#000"/>
<line x1="627.9" y1="723.1" x2="627.9" y2="725.5" stroke="#000" stroke-width="1.0"/>
<line x1="625.9" y1="723.1" x2="629.9" y2="723.1" stroke="#000" stroke-width="1.0"/>
<line x1="625.9" y1="725.5" x2="629.9" y2="725.5" stroke="#000" stroke-width="1.0"/>
<rect x="625.7" y="722.1" width="4.4" height="4.4" fill="#000"/>
<line x1="521.8" y1="709.2" x2="521.8" y2="790.8" stroke="#000" stroke-width="1.2"/>
<line x1="521.2" y1="790.2" x2="642.6" y2="790.2" stroke="#000" stroke-width="1.2"/>
<line x1="514.4" y1="720.2" x2="521.8" y2="720.2" stroke="#000" stroke-width="1.2"/>
<text x="512.2" y="723.5" font-size="9.2" text-anchor="end" fill="#000" stroke="#000" stroke-width="0.2">0</text>
<line x1="514.4" y1="749.5" x2="521.8" y2="749.5" stroke="#000" stroke-width="1.2"/>
<text x="512.2" y="752.9" font-size="9.2" text-anchor="end" fill="#000" stroke="#000" stroke-width="0.2">-5</text>
<line x1="514.4" y1="778.9" x2="521.8" y2="778.9" stroke="#000" stroke-width="1.2"/>
<text x="512.2" y="782.2" font-size="9.2" text-anchor="end" fill="#000" stroke="#000" stroke-width="0.2">-10</text>
<line x1="536.5" y1="790.2" x2="536.5" y2="797.3" stroke="#000" stroke-width="1.2"/>
<text x="536.5" y="808.9" font-size="9.2" text-anchor="middle" fill="#000" stroke="#000" stroke-width="0.2">0</text>
<line x1="559.4" y1="790.2" x2="559.4" y2="797.3" stroke="#000" stroke-width="1.2"/>
<text x="559.4" y="808.9" font-size="9.2" text-anchor="middle" fill="#000" stroke="#000" stroke-width="0.2">30</text>
<line x1="582.2" y1="790.2" x2="582.2" y2="797.3" stroke="#000" stroke-width="1.2"/>
<text x="582.2" y="808.9" font-size="9.2" text-anchor="middle" fill="#000" stroke="#000" stroke-width="0.2">60</text>
<line x1="605.0" y1="790.2" x2="605.0" y2="797.3" stroke="#000" stroke-width="1.2"/>
<text x="605.0" y="808.9" font-size="9.2" text-anchor="middle" fill="#000" stroke="#000" stroke-width="0.2">90</text>
<line x1="627.9" y1="790.2" x2="627.9" y2="797.3" stroke="#000" stroke-width="1.2"/>
<text x="627.9" y="808.9" font-size="9.2" text-anchor="middle" fill="#000" stroke="#000" stroke-width="0.2">120</text>
<text x="582.5" y="821.3" font-size="9.0" text-anchor="middle" fill="#000" stroke="#000" stroke-width="0.2">Time after injection(min)</text>
<text transform="translate(490.6,752.3) rotate(-90)" font-size="8.8" text-anchor="middle" fill="#000" stroke="#000" stroke-width="0.2">ΔT<tspan font-size="6.8" dy="2">iBAT</tspan><tspan dy="-2">(°C)</tspan></text>
<text transform="translate(632.2,760.2) rotate(90)" font-size="9.2" text-anchor="middle" fill="#000" stroke="#000" stroke-width="0.2"><tspan font-style="italic">P</tspan>=0.3244</text>
<polygon points="38.6,871.4 39.3,872.0 40.1,871.6 40.8,871.9 41.6,872.0 42.3,872.8 43.1,872.9 43.8,873.9 44.6,874.2 45.3,874.4 46.0,874.0 46.8,874.1 47.5,873.9 48.3,874.9 49.0,875.3 49.8,875.4 50.5,875.3 51.3,875.6 52.0,875.1 52.8,874.8 53.5,875.7 54.2,876.2 55.0,876.7 55.7,876.8 56.5,877.8 57.2,875.5 58.0,873.4 58.7,871.3 59.5,871.8 60.2,873.2 60.9,874.9 61.7,877.1 62.4,878.9 63.2,880.0 63.9,881.6 64.7,883.1 65.4,884.6 66.2,885.7 66.9,887.1 67.6,888.8 68.4,889.9 69.1,890.5 69.9,890.4 70.6,890.9 71.4,890.4 72.1,889.9 72.9,890.1 73.6,890.0 74.3,890.3 75.1,891.0 75.8,891.6 76.6,893.7 77.3,895.1 78.1,895.8 78.8,896.0 79.6,896.5 80.3,895.8 81.1,897.0 81.8,897.7 82.5,898.5 83.3,898.9 84.0,898.5 84.8,898.3 85.5,898.0 86.3,896.8 87.0,897.2 87.8,897.4 88.5,897.8 89.2,898.0 90.0,898.1 90.7,899.0 91.5,899.4 92.2,899.0 93.0,898.3 93.7,898.3 94.5,897.5 95.2,897.2 95.9,898.4 96.7,898.8 97.4,899.0 98.2,897.8 98.9,899.3 99.7,897.6 100.4,898.0 101.2,899.8 101.9,900.9 102.7,899.4 103.4,898.9 104.1,898.4 104.9,897.2 105.6,896.5 106.4,896.4 107.1,897.3 107.9,898.0 108.6,897.6 109.4,897.6 110.1,896.7 110.8,896.2 111.6,895.1 112.3,894.9 113.1,894.5 113.8,896.0 114.6,895.9 115.3,896.5 116.1,896.1 116.8,896.4 117.5,895.4 118.3,895.0 119.0,894.1 119.8,894.2 120.5,894.1 121.3,894.2 122.0,894.2 122.8,893.8 123.5,893.5 124.2,893.2 125.0,893.4 125.7,892.7 126.5,892.3 127.2,891.9 128.0,892.1 128.7,892.1 129.5,892.2 130.2,892.4 131.0,891.9 131.7,892.0 132.4,891.6 133.2,891.8 133.9,892.0 134.7,892.3 135.4,891.0 136.2,890.7 136.9,890.2 137.7,889.8 138.4,888.8 139.1,888.1 139.9,888.0 140.6,887.3 141.4,887.0 142.1,886.6 142.9,886.7 143.6,885.2 144.4,885.2 145.1,884.6 145.8,885.1 146.6,885.3 147.3,885.8 148.1,885.8 148.8,884.8 149.6,884.1 150.3,884.0 151.1,883.9 151.8,882.2 152.5,882.8 153.3,882.5 154.0,881.2 154.8,880.6 155.5,881.5 156.3,881.7 157.0,882.2 157.8,883.2 158.5,883.2 159.3,883.2 160.0,882.7 160.7,882.4 161.5,882.1 162.2,881.4 163.0,881.1 163.7,881.4 164.5,881.2 165.2,880.9 166.0,881.3 166.7,881.7 167.4,881.0 168.2,880.5 168.9,880.1 169.7,879.8 170.4,878.7 171.2,879.0 171.9,879.3 172.7,879.0 173.4,878.8 174.1,878.9 174.9,878.6 175.6,878.1 176.4,878.1 177.1,878.5 177.9,879.0 178.6,879.1 179.4,879.2 180.1,878.8 180.9,879.2 181.6,878.8 182.3,879.1 183.1,878.8 183.8,879.0 184.6,878.7 185.3,879.0 186.1,878.7 186.8,878.8 187.6,878.7 188.3,878.7 189.0,878.7 189.8,878.5 190.5,877.5 191.3,877.5 192.0,877.3 192.8,876.9 193.5,876.5 194.3,877.4 195.0,877.4 195.7,877.1 196.5,877.0 197.2,877.1 198.0,877.1 198.7,876.8 199.5,877.0 200.2,876.7 201.0,876.6 201.7,876.3 202.4,876.5 203.2,875.4 203.9,875.3 204.7,874.7 205.4,874.6 206.2,874.6 206.9,875.0 207.7,874.9 208.4,875.3 209.2,875.0 209.9,874.4 210.6,875.2 211.4,875.4 212.1,875.1 212.9,875.4 213.6,875.8 214.4,874.8 215.1,874.4 215.9,874.0 216.6,873.8 216.6,881.5 215.9,881.7 215.1,881.4 214.4,881.5 213.6,881.4 212.9,881.1 212.1,881.1 211.4,881.5 210.6,881.4 209.9,881.1 209.2,881.7 208.4,881.9 207.7,881.9 206.9,882.6 206.2,883.4 205.4,883.4 204.7,882.9 203.9,882.9 203.2,882.7 202.4,882.3 201.7,882.1 201.0,882.4 200.2,882.4 199.5,882.5 198.7,882.6 198.0,882.8 197.2,883.0 196.5,883.3 195.7,883.7 195.0,884.2 194.3,885.1 193.5,884.7 192.8,885.3 192.0,885.8 191.3,885.7 190.5,885.6 189.8,886.4 189.0,886.5 188.3,886.4 187.6,886.6 186.8,886.4 186.1,886.3 185.3,886.4 184.6,886.3 183.8,886.6 183.1,887.0 182.3,887.7 181.6,888.1 180.9,888.2 180.1,887.5 179.4,887.6 178.6,887.2 177.9,886.6 177.1,886.9 176.4,887.7 175.6,888.1 174.9,888.6 174.1,888.9 173.4,888.1 172.7,887.9 171.9,887.1 171.2,887.1 170.4,886.7 169.7,888.0 168.9,888.4 168.2,888.9 167.4,888.9 166.7,889.3 166.0,889.0 165.2,888.6 164.5,888.3 163.7,888.9 163.0,889.0 162.2,889.5 161.5,889.8 160.7,890.3 160.0,890.4 159.3,891.2 158.5,891.7 157.8,892.5 157.0,892.5 156.3,892.8 155.5,892.0 154.8,891.1 154.0,891.4 153.3,892.5 152.5,892.4 151.8,892.6 151.1,893.3 150.3,893.4 149.6,893.1 148.8,893.6 148.1,895.3 147.3,895.4 146.6,895.1 145.8,895.5 145.1,895.8 144.4,895.8 143.6,895.7 142.9,897.1 142.1,897.4 141.4,897.6 140.6,897.9 139.9,898.7 139.1,898.7 138.4,899.1 137.7,899.7 136.9,900.4 136.2,901.2 135.4,902.5 134.7,903.1 133.9,903.1 133.2,903.5 132.4,903.6 131.7,901.9 131.0,902.0 130.2,902.0 129.5,901.4 128.7,902.2 128.0,903.0 127.2,903.2 126.5,903.9 125.7,904.7 125.0,904.8 124.2,905.8 123.5,906.4 122.8,906.9 122.0,907.3 121.3,907.0 120.5,906.8 119.8,907.3 119.0,907.9 118.3,907.9 117.5,909.4 116.8,910.1 116.1,909.8 115.3,909.6 114.6,910.6 113.8,909.4 113.1,909.1 112.3,908.8 111.6,908.8 110.8,908.8 110.1,909.9 109.4,911.0 108.6,912.7 107.9,913.2 107.1,912.4 106.4,911.7 105.6,910.7 104.9,910.2 104.1,910.9 103.4,911.5 102.7,911.1 101.9,911.7 101.2,911.5 100.4,911.0 99.7,911.9 98.9,913.2 98.2,913.5 97.4,914.0 96.7,913.9 95.9,913.7 95.2,914.3 94.5,914.0 93.7,913.8 93.0,914.9 92.2,914.5 91.5,913.9 90.7,914.2 90.0,915.1 89.2,915.1 88.5,916.5 87.8,916.6 87.0,916.2 86.3,915.2 85.5,913.4 84.8,911.9 84.0,911.8 83.3,911.6 82.5,912.2 81.8,914.3 81.1,914.4 80.3,913.6 79.6,913.4 78.8,913.1 78.1,911.3 77.3,911.1 76.6,910.6 75.8,910.8 75.1,910.7 74.3,909.9 73.6,909.0 72.9,908.3 72.1,907.7 71.4,906.4 70.6,904.8 69.9,904.2 69.1,903.7 68.4,902.6 67.6,900.8 66.9,899.4 66.2,897.2 65.4,895.4 64.7,892.9 63.9,890.8 63.2,889.2 62.4,886.8 61.7,883.8 60.9,882.0 60.2,880.1 59.5,878.1 58.7,877.1 58.0,879.0 57.2,880.5 56.5,882.1 55.7,881.8 55.0,881.7 54.2,882.0 53.5,881.3 52.8,881.0 52.0,880.7 51.3,881.8 50.5,881.6 49.8,882.1 49.0,881.9 48.3,882.0 47.5,881.3 46.8,881.2 46.0,880.7 45.3,880.6 44.6,880.8 43.8,880.5 43.1,879.4 42.3,879.5 41.6,879.4 40.8,879.2 40.1,878.3 39.3,879.0 38.6,879.0" fill="#ff74b4"/>
<polygon points="38.6,880.2 39.3,880.4 40.1,880.8 40.8,881.0 41.6,880.6 42.3,881.1 43.1,881.4 43.8,881.4 44.6,881.6 45.3,882.2 46.0,882.0 46.8,882.6 47.5,883.0 48.3,883.0 49.0,882.9 49.8,883.4 50.5,883.0 51.3,882.9 52.0,882.4 52.8,882.1 53.5,881.8 54.2,881.3 55.0,880.3 55.7,879.7 56.5,878.9 57.2,876.4 58.0,874.2 58.7,871.9 59.5,872.4 60.2,874.4 60.9,875.8 61.7,877.2 62.4,878.9 63.2,880.4 63.9,881.0 64.7,882.8 65.4,884.1 66.2,885.4 66.9,886.4 67.6,888.7 68.4,889.6 69.1,890.7 69.9,892.2 70.6,892.9 71.4,892.3 72.1,893.2 72.9,893.8 73.6,893.8 74.3,893.9 75.1,895.7 75.8,895.5 76.6,896.3 77.3,896.7 78.1,897.5 78.8,896.9 79.6,898.2 80.3,898.7 81.1,898.8 81.8,898.6 82.5,898.4 83.3,897.9 84.0,898.0 84.8,898.0 85.5,897.3 86.3,897.4 87.0,897.8 87.8,897.7 88.5,898.5 89.2,900.0 90.0,900.0 90.7,900.1 91.5,900.0 92.2,899.7 93.0,899.6 93.7,900.8 94.5,901.0 95.2,900.3 95.9,901.2 96.7,900.4 97.4,900.4 98.2,899.9 98.9,900.0 99.7,898.3 100.4,899.7 101.2,898.9 101.9,899.3 102.7,899.4 103.4,900.8 104.1,899.4 104.9,900.0 105.6,899.6 106.4,899.5 107.1,898.0 107.9,898.1 108.6,897.1 109.4,897.0 110.1,896.4 110.8,898.1 111.6,899.2 112.3,899.6 113.1,898.9 113.8,898.9 114.6,897.6 115.3,895.8 116.1,895.5 116.8,895.9 117.5,896.8 118.3,896.9 119.0,897.6 119.8,897.3 120.5,896.7 121.3,896.3 122.0,896.7 122.8,896.5 123.5,896.0 124.2,895.9 125.0,895.9 125.7,895.2 126.5,894.2 127.2,894.3 128.0,894.4 128.7,894.0 129.5,894.6 130.2,895.0 131.0,895.0 131.7,894.8 132.4,894.4 133.2,893.9 133.9,893.9 134.7,893.6 135.4,893.4 136.2,894.3 136.9,894.1 137.7,893.4 138.4,893.9 139.1,893.8 139.9,893.4 140.6,893.8 141.4,893.9 142.1,893.3 142.9,893.7 143.6,893.3 144.4,892.4 145.1,892.3 145.8,891.9 146.6,890.9 147.3,890.4 148.1,890.4 148.8,890.2 149.6,890.5 150.3,890.1 151.1,889.2 151.8,888.7 152.5,888.2 153.3,887.8 154.0,888.4 154.8,888.8 155.5,888.6 156.3,888.7 157.0,888.6 157.8,887.5 158.5,887.2 159.3,886.6 160.0,885.8 160.7,885.6 161.5,885.7 162.2,885.6 163.0,885.5 163.7,885.3 164.5,885.0 165.2,884.5 166.0,883.9 166.7,883.9 167.4,884.3 168.2,884.2 168.9,884.2 169.7,884.7 170.4,884.4 171.2,884.2 171.9,883.8 172.7,883.7 173.4,883.0 174.1,882.8 174.9,882.2 175.6,881.5 176.4,881.4 177.1,880.7 177.9,879.8 178.6,879.6 179.4,879.7 180.1,879.2 180.9,879.5 181.6,880.4 182.3,880.8 183.1,880.4 183.8,880.4 184.6,881.3 185.3,880.8 186.1,880.0 186.8,879.4 187.6,878.7 188.3,876.6 189.0,877.1 189.8,877.8 190.5,878.7 191.3,879.0 192.0,879.9 192.8,880.0 193.5,880.3 194.3,879.7 195.0,880.1 195.7,879.5 196.5,879.4 197.2,878.7 198.0,878.8 198.7,878.4 199.5,878.9 200.2,878.4 201.0,878.1 201.7,878.0 202.4,878.2 203.2,878.1 203.9,878.0 204.7,877.9 205.4,878.0 206.2,877.6 206.9,877.4 207.7,877.2 208.4,877.1 209.2,876.8 209.9,877.1 210.6,876.7 211.4,877.0 212.1,877.5 212.9,877.3 213.6,877.1 214.4,877.2 215.1,876.6 215.9,875.5 216.6,875.9 216.6,881.9 215.9,881.6 215.1,882.4 214.4,882.2 213.6,882.0 212.9,882.6 212.1,882.6 211.4,882.7 210.6,883.0 209.9,883.4 209.2,883.6 208.4,884.3 207.7,884.5 206.9,884.6 206.2,884.8 205.4,885.0 204.7,884.9 203.9,884.7 203.2,884.9 202.4,884.7 201.7,884.2 201.0,884.3 200.2,884.6 199.5,885.0 198.7,884.1 198.0,884.6 197.2,884.8 196.5,885.0 195.7,884.3 195.0,885.6 194.3,885.9 193.5,886.0 192.8,885.7 192.0,886.3 191.3,885.9 190.5,885.6 189.8,885.8 189.0,885.8 188.3,885.5 187.6,886.2 186.8,886.5 186.1,886.9 185.3,887.3 184.6,887.9 183.8,887.7 183.1,888.0 182.3,887.7 181.6,888.2 180.9,888.1 180.1,888.2 179.4,888.1 178.6,888.8 177.9,888.8 177.1,889.4 176.4,889.1 175.6,889.9 174.9,889.7 174.1,889.6 173.4,889.5 172.7,890.3 171.9,889.9 171.2,890.4 170.4,890.4 169.7,890.8 168.9,890.8 168.2,891.0 167.4,891.2 166.7,891.3 166.0,891.3 165.2,892.1 164.5,892.3 163.7,892.4 163.0,893.3 162.2,894.0 161.5,893.8 160.7,894.4 160.0,894.8 159.3,894.5 158.5,894.2 157.8,894.3 157.0,894.6 156.3,895.2 155.5,896.0 154.8,896.5 154.0,896.7 153.3,896.9 152.5,896.7 151.8,897.0 151.1,897.4 150.3,898.1 149.6,898.2 148.8,898.2 148.1,897.8 147.3,897.7 146.6,898.7 145.8,899.1 145.1,899.5 144.4,900.3 143.6,901.3 142.9,900.9 142.1,900.9 141.4,901.7 140.6,902.9 139.9,903.4 139.1,903.6 138.4,904.7 137.7,904.6 136.9,903.8 136.2,903.2 135.4,903.6 134.7,903.6 133.9,903.9 133.2,904.0 132.4,904.6 131.7,904.6 131.0,904.8 130.2,904.2 129.5,904.5 128.7,903.9 128.0,903.6 127.2,903.6 126.5,905.0 125.7,905.3 125.0,906.6 124.2,907.9 123.5,908.6 122.8,908.9 122.0,909.4 121.3,908.7 120.5,908.9 119.8,908.2 119.0,908.2 118.3,908.7 117.5,909.1 116.8,908.5 116.1,909.2 115.3,909.9 114.6,909.7 113.8,909.4 113.1,909.5 112.3,909.0 111.6,908.8 110.8,908.9 110.1,909.9 109.4,910.2 108.6,910.1 107.9,910.1 107.1,910.6 106.4,910.8 105.6,910.8 104.9,912.0 104.1,911.4 103.4,911.3 102.7,911.4 101.9,912.0 101.2,911.3 100.4,912.5 99.7,911.6 98.9,911.8 98.2,911.8 97.4,912.4 96.7,912.0 95.9,912.6 95.2,912.4 94.5,911.8 93.7,911.6 93.0,911.7 92.2,911.9 91.5,911.8 90.7,911.9 90.0,912.0 89.2,911.8 88.5,913.5 87.8,914.0 87.0,914.6 86.3,914.7 85.5,914.7 84.8,913.0 84.0,912.3 83.3,912.2 82.5,911.8 81.8,912.0 81.1,912.3 80.3,911.4 79.6,910.4 78.8,909.4 78.1,907.9 77.3,906.5 76.6,906.4 75.8,907.3 75.1,907.5 74.3,907.4 73.6,906.8 72.9,907.2 72.1,905.8 71.4,905.0 70.6,904.8 69.9,904.5 69.1,902.8 68.4,901.5 67.6,899.4 66.9,897.0 66.2,895.2 65.4,893.5 64.7,891.2 63.9,890.1 63.2,888.6 62.4,887.2 61.7,884.9 60.9,883.6 60.2,881.3 59.5,879.6 58.7,878.8 58.0,880.8 57.2,882.5 56.5,884.5 55.7,885.0 55.0,885.3 54.2,886.0 53.5,886.2 52.8,886.4 52.0,886.8 51.3,887.1 50.5,887.4 49.8,887.7 49.0,887.6 48.3,888.0 47.5,888.1 46.8,887.3 46.0,887.0 45.3,887.4 44.6,886.7 43.8,886.5 43.1,886.5 42.3,886.0 41.6,885.3 40.8,885.3 40.1,885.2 39.3,885.0 38.6,884.9" fill="#86c2c2" style="mix-blend-mode:multiply"/>
<polygon points="38.6,878.2 39.3,878.4 40.1,879.3 40.8,879.8 41.6,880.4 42.3,880.6 43.1,880.6 43.8,880.8 44.6,880.8 45.3,881.1 46.0,881.7 46.8,882.2 47.5,882.2 48.3,882.8 49.0,882.7 49.8,882.3 50.5,881.9 51.3,881.6 52.0,881.2 52.8,880.3 53.5,879.7 54.2,879.3 55.0,878.3 55.7,877.2 56.5,876.9 57.2,875.1 58.0,872.7 58.7,871.1 59.5,870.0 60.2,869.7 60.9,869.4 61.7,869.4 62.4,869.4 63.2,870.8 63.9,871.7 64.7,872.5 65.4,873.1 66.2,874.1 66.9,874.4 67.6,874.9 68.4,875.8 69.1,876.5 69.9,876.9 70.6,877.4 71.4,877.7 72.1,877.7 72.9,877.7 73.6,878.3 74.3,878.7 75.1,879.3 75.8,880.0 76.6,880.5 77.3,881.0 78.1,881.3 78.8,881.8 79.6,882.1 80.3,882.3 81.1,882.6 81.8,882.3 82.5,882.2 83.3,882.6 84.0,882.9 84.8,882.8 85.5,882.8 86.3,882.4 87.0,881.6 87.8,881.1 88.5,880.7 89.2,880.3 90.0,879.7 90.7,879.7 91.5,879.9 92.2,880.0 93.0,880.1 93.7,880.5 94.5,880.5 95.2,880.5 95.9,881.0 96.7,881.6 97.4,882.2 98.2,883.0 98.9,883.1 99.7,883.1 100.4,883.4 101.2,883.1 101.9,882.5 102.7,882.4 103.4,881.9 104.1,881.9 104.9,881.8 105.6,881.9 106.4,881.8 107.1,882.2 107.9,881.7 108.6,881.4 109.4,881.5 110.1,881.4 110.8,880.9 111.6,880.6 112.3,881.0 113.1,880.5 113.8,880.3 114.6,880.4 115.3,880.3 116.1,880.6 116.8,881.2 117.5,881.4 118.3,881.5 119.0,881.8 119.8,881.3 120.5,881.2 121.3,881.5 122.0,881.6 122.8,881.5 123.5,881.8 124.2,881.6 125.0,881.5 125.7,881.5 126.5,881.1 127.2,880.6 128.0,880.2 128.7,879.3 129.5,878.9 130.2,878.9 131.0,878.6 131.7,878.7 132.4,878.6 133.2,878.4 133.9,878.6 134.7,879.4 135.4,880.0 136.2,880.9 136.9,881.1 137.7,881.6 138.4,881.4 139.1,880.9 139.9,880.8 140.6,881.1 141.4,881.3 142.1,881.2 142.9,882.0 143.6,882.3 144.4,882.7 145.1,883.3 145.8,883.6 146.6,883.2 147.3,882.9 148.1,882.8 148.8,882.1 149.6,882.6 150.3,882.4 151.1,882.3 151.8,882.5 152.5,882.8 153.3,882.5 154.0,882.4 154.8,882.0 155.5,881.5 156.3,880.9 157.0,880.5 157.8,880.3 158.5,880.3 159.3,879.6 160.0,879.5 160.7,878.9 161.5,878.6 162.2,877.9 163.0,878.0 163.7,878.2 164.5,878.3 165.2,878.3 166.0,878.8 166.7,879.1 167.4,878.9 168.2,879.2 168.9,879.8 169.7,879.9 170.4,879.7 171.2,879.9 171.9,880.1 172.7,879.9 173.4,880.6 174.1,881.3 174.9,881.7 175.6,881.6 176.4,881.9 177.1,881.6 177.9,881.8 178.6,881.9 179.4,882.5 180.1,883.1 180.9,883.5 181.6,883.0 182.3,882.9 183.1,882.3 183.8,881.6 184.6,881.3 185.3,880.6 186.1,880.1 186.8,879.9 187.6,879.9 188.3,879.3 189.0,879.6 189.8,879.7 190.5,879.6 191.3,879.3 192.0,879.3 192.8,879.2 193.5,878.8 194.3,878.8 195.0,879.0 195.7,878.9 196.5,878.7 197.2,879.0 198.0,878.8 198.7,878.4 199.5,878.4 200.2,878.0 201.0,877.3 201.7,876.8 202.4,876.2 203.2,875.4 203.9,874.7 204.7,874.5 205.4,875.3 206.2,876.4 206.9,877.0 207.7,877.8 208.4,878.7 209.2,878.6 209.9,878.4 210.6,878.5 211.4,878.5 212.1,878.6 212.9,878.8 213.6,879.2 214.4,879.4 215.1,879.6 215.9,879.9 216.6,880.5 216.6,883.1 215.9,882.4 215.1,882.2 214.4,881.5 213.6,881.1 212.9,880.6 212.1,880.5 211.4,880.4 210.6,880.7 209.9,880.7 209.2,881.1 208.4,881.0 207.7,880.2 206.9,879.2 206.2,878.5 205.4,877.3 204.7,876.8 203.9,877.2 203.2,877.9 202.4,878.7 201.7,879.5 201.0,880.0 200.2,880.6 199.5,880.7 198.7,880.7 198.0,880.8 197.2,881.2 196.5,880.8 195.7,881.2 195.0,881.4 194.3,881.3 193.5,880.9 192.8,881.2 192.0,881.5 191.3,881.8 190.5,882.1 189.8,882.3 189.0,882.3 188.3,881.8 187.6,882.1 186.8,882.4 186.1,882.7 185.3,883.1 184.6,883.9 183.8,884.3 183.1,884.6 182.3,885.2 181.6,885.5 180.9,885.6 180.1,885.3 179.4,885.0 178.6,884.4 177.9,884.8 177.1,884.8 176.4,884.6 175.6,884.5 174.9,884.4 174.1,883.9 173.4,883.3 172.7,882.9 171.9,882.6 171.2,882.6 170.4,882.2 169.7,882.2 168.9,882.2 168.2,882.0 167.4,881.8 166.7,882.0 166.0,881.5 165.2,881.1 164.5,880.8 163.7,880.6 163.0,880.3 162.2,880.4 161.5,881.1 160.7,881.5 160.0,881.7 159.3,882.1 158.5,882.5 157.8,882.6 157.0,882.7 156.3,883.6 155.5,884.0 154.8,884.5 154.0,884.6 153.3,884.9 152.5,884.6 151.8,884.4 151.1,884.4 150.3,884.7 149.6,885.1 148.8,885.0 148.1,885.5 147.3,885.7 146.6,886.1 145.8,886.0 145.1,885.8 144.4,885.2 143.6,884.8 142.9,884.5 142.1,883.9 141.4,883.8 140.6,883.8 139.9,883.9 139.1,883.8 138.4,883.9 137.7,884.2 136.9,883.4 136.2,883.0 135.4,882.1 134.7,881.9 133.9,881.0 133.2,880.9 132.4,880.9 131.7,881.1 131.0,880.9 130.2,881.0 129.5,881.0 128.7,881.9 128.0,882.6 127.2,882.9 126.5,883.7 125.7,883.9 125.0,883.5 124.2,883.5 123.5,884.2 122.8,884.0 122.0,884.0 121.3,884.0 120.5,883.9 119.8,884.0 119.0,884.5 118.3,884.4 117.5,884.4 116.8,884.0 116.1,883.4 115.3,883.1 114.6,883.2 113.8,883.0 113.1,883.4 112.3,883.8 111.6,883.1 110.8,883.2 110.1,883.5 109.4,883.2 108.6,883.3 107.9,883.9 107.1,884.6 106.4,884.7 105.6,885.2 104.9,885.2 104.1,885.3 103.4,885.2 102.7,885.3 101.9,885.2 101.2,885.9 100.4,886.2 99.7,885.8 98.9,885.8 98.2,885.7 97.4,884.8 96.7,884.5 95.9,884.1 95.2,883.7 94.5,883.4 93.7,883.2 93.0,882.8 92.2,882.7 91.5,882.8 90.7,882.9 90.0,882.7 89.2,882.8 88.5,883.2 87.8,883.3 87.0,883.6 86.3,884.4 85.5,885.0 84.8,885.1 84.0,885.0 83.3,885.1 82.5,885.3 81.8,885.2 81.1,885.2 80.3,885.1 79.6,885.1 78.8,884.4 78.1,884.1 77.3,883.8 76.6,883.3 75.8,882.6 75.1,882.0 74.3,881.4 73.6,880.8 72.9,880.3 72.1,880.1 71.4,880.0 70.6,879.6 69.9,879.2 69.1,878.9 68.4,878.2 67.6,877.2 66.9,876.7 66.2,876.2 65.4,875.4 64.7,874.5 63.9,874.0 63.2,873.0 62.4,872.0 61.7,871.8 60.9,871.9 60.2,872.0 59.5,872.3 58.7,873.4 58.0,875.2 57.2,877.4 56.5,879.5 55.7,879.9 55.0,880.8 54.2,881.7 53.5,882.2 52.8,882.7 52.0,883.6 51.3,883.9 50.5,884.2 49.8,884.2 49.0,884.4 48.3,884.0 47.5,883.7 46.8,883.6 46.0,883.4 45.3,883.2 44.6,882.9 43.8,883.0 43.1,882.5 42.3,882.2 41.6,881.8 40.8,881.4 40.1,880.9 39.3,880.4 38.6,880.6" fill="#8a8a8a"/>
<polyline points="38.6,875.8 39.3,876.1 40.1,875.5 40.8,875.7 41.6,875.9 42.3,876.1 43.1,876.2 43.8,876.5 44.6,876.7 45.3,876.6 46.0,876.7 46.8,877.1 47.5,877.3 48.3,877.7 49.0,877.8 49.8,878.2 50.5,878.1 51.3,878.3 52.0,878.0 52.8,878.2 53.5,878.4 54.2,878.6 55.0,879.0 55.7,879.3 56.5,879.7 57.2,877.9 58.0,876.2 58.7,874.3 59.5,874.6 60.2,876.6 60.9,878.7 61.7,880.7 62.4,882.6 63.2,884.6 63.9,886.4 64.7,887.7 65.4,889.5 66.2,891.2 66.9,892.7 67.6,893.9 68.4,895.4 69.1,896.4 69.9,897.0 70.6,897.8 71.4,898.6 72.1,899.2 72.9,900.1 73.6,900.8 74.3,901.5 75.1,901.7 75.8,902.2 76.6,902.4 77.3,902.8 78.1,902.9 78.8,903.4 79.6,903.8 80.3,904.4 81.1,904.7 81.8,905.3 82.5,905.7 83.3,905.8 84.0,905.6 84.8,905.6 85.5,905.9 86.3,905.9 87.0,906.1 87.8,906.5 88.5,906.6 89.2,906.0 90.0,905.9 90.7,905.9 91.5,905.6 92.2,905.5 93.0,905.7 93.7,905.7 94.5,905.5 95.2,905.5 95.9,905.7 96.7,905.8 97.4,905.5 98.2,905.3 98.9,905.4 99.7,905.2 100.4,904.9 101.2,905.2 101.9,905.2 102.7,904.8 103.4,904.5 104.1,904.2 104.9,903.9 105.6,903.7 106.4,903.6 107.1,903.6 107.9,903.7 108.6,903.6 109.4,903.4 110.1,903.3 110.8,902.9 111.6,902.9 112.3,902.8 113.1,902.8 113.8,903.0 114.6,902.7 115.3,902.5 116.1,902.3 116.8,902.1 117.5,901.7 118.3,901.8 119.0,901.5 119.8,901.3 120.5,900.7 121.3,900.7 122.0,900.6 122.8,900.5 123.5,900.0 124.2,899.9 125.0,899.7 125.7,899.4 126.5,898.6 127.2,898.5 128.0,898.1 128.7,897.7 129.5,897.3 130.2,897.5 131.0,897.3 131.7,897.1 132.4,897.2 133.2,896.6 133.9,896.1 134.7,895.8 135.4,895.5 136.2,895.0 136.9,894.9 137.7,894.7 138.4,894.2 139.1,894.0 139.9,893.4 140.6,892.9 141.4,892.5 142.1,892.0 142.9,891.4 143.6,890.9 144.4,890.7 145.1,890.2 145.8,890.1 146.6,889.8 147.3,889.6 148.1,889.6 148.8,889.3 149.6,888.9 150.3,888.8 151.1,888.5 151.8,887.8 152.5,887.4 153.3,887.2 154.0,886.5 154.8,886.4 155.5,887.0 156.3,887.2 157.0,887.3 157.8,887.4 158.5,887.1 159.3,886.9 160.0,886.4 160.7,886.2 161.5,886.1 162.2,886.0 163.0,885.5 163.7,885.5 164.5,885.2 165.2,885.3 166.0,885.2 166.7,885.0 167.4,884.7 168.2,884.2 168.9,883.8 169.7,883.6 170.4,883.4 171.2,883.3 171.9,883.7 172.7,884.1 173.4,884.0 174.1,884.0 174.9,883.9 175.6,883.7 176.4,883.3 177.1,883.1 177.9,883.1 178.6,883.3 179.4,883.2 180.1,883.0 180.9,883.4 181.6,883.6 182.3,883.7 183.1,883.6 183.8,883.6 184.6,883.3 185.3,882.9 186.1,882.6 186.8,882.3 187.6,882.3 188.3,882.3 189.0,882.1 189.8,881.9 190.5,881.5 191.3,881.7 192.0,881.4 192.8,881.4 193.5,881.1 194.3,881.2 195.0,880.7 195.7,880.5 196.5,880.2 197.2,880.0 198.0,880.1 198.7,879.8 199.5,879.9 200.2,879.8 201.0,879.6 201.7,879.2 202.4,879.0 203.2,879.2 203.9,879.3 204.7,879.4 205.4,879.6 206.2,879.8 206.9,879.2 207.7,878.9 208.4,879.0 209.2,878.7 209.9,878.4 210.6,878.5 211.4,878.5 212.1,878.2 212.9,878.4 213.6,878.3 214.4,878.3 215.1,878.1 215.9,877.9 216.6,877.7" fill="none" stroke="#e8177a" stroke-width="1.0" stroke-linejoin="round"/>
<polyline points="38.6,882.6 39.3,882.8 40.1,883.0 40.8,883.3 41.6,883.1 42.3,883.4 43.1,883.8 43.8,884.0 44.6,884.0 45.3,884.7 46.0,884.7 46.8,884.9 47.5,885.2 48.3,885.1 49.0,884.9 49.8,885.0 50.5,884.9 51.3,884.9 52.0,884.6 52.8,884.2 53.5,883.9 54.2,883.4 55.0,882.6 55.7,882.1 56.5,881.3 57.2,879.2 58.0,877.4 58.7,875.4 59.5,875.7 60.2,877.8 60.9,879.5 61.7,880.9 62.4,882.8 63.2,884.7 63.9,886.1 64.7,887.6 65.4,889.3 66.2,890.8 66.9,891.8 67.6,893.6 68.4,895.3 69.1,896.3 69.9,897.4 70.6,898.1 71.4,898.6 72.1,898.9 72.9,899.5 73.6,899.6 74.3,900.1 75.1,900.4 75.8,900.8 76.6,901.2 77.3,901.7 78.1,902.4 78.8,902.9 79.6,903.5 80.3,904.1 81.1,904.1 81.8,904.2 82.5,904.6 83.3,904.7 84.0,905.0 84.8,905.4 85.5,905.7 86.3,905.7 87.0,905.7 87.8,905.5 88.5,905.8 89.2,905.5 90.0,905.5 90.7,905.6 91.5,905.7 92.2,905.4 93.0,905.4 93.7,905.4 94.5,905.6 95.2,905.7 95.9,906.1 96.7,906.3 97.4,906.3 98.2,905.9 98.9,905.7 99.7,905.3 100.4,905.4 101.2,905.4 101.9,905.5 102.7,905.5 103.4,905.7 104.1,905.3 104.9,905.5 105.6,905.3 106.4,905.2 107.1,904.7 107.9,904.8 108.6,904.3 109.4,904.2 110.1,904.1 110.8,904.2 111.6,904.2 112.3,904.1 113.1,903.8 113.8,903.5 114.6,903.2 115.3,902.7 116.1,902.8 116.8,902.7 117.5,902.6 118.3,902.6 119.0,902.5 119.8,902.3 120.5,902.2 121.3,902.0 122.0,901.8 122.8,901.8 123.5,901.3 124.2,901.0 125.0,900.9 125.7,900.4 126.5,900.3 127.2,900.1 128.0,900.2 128.7,899.8 129.5,899.9 130.2,899.7 131.0,899.5 131.7,899.2 132.4,899.3 133.2,898.9 133.9,898.8 134.7,898.5 135.4,898.6 136.2,898.4 136.9,898.3 137.7,898.1 138.4,898.0 139.1,897.9 139.9,897.8 140.6,897.8 141.4,897.5 142.1,897.2 142.9,896.8 143.6,896.4 144.4,895.9 145.1,895.5 145.8,894.9 146.6,894.4 147.3,894.0 148.1,893.9 148.8,893.7 149.6,893.8 150.3,893.7 151.1,893.1 151.8,892.7 152.5,892.7 153.3,892.4 154.0,892.4 154.8,892.3 155.5,891.9 156.3,891.3 157.0,891.2 157.8,890.7 158.5,890.4 159.3,890.4 160.0,890.3 160.7,889.8 161.5,889.4 162.2,889.3 163.0,888.8 163.7,888.5 164.5,888.4 165.2,888.3 166.0,888.1 166.7,888.1 167.4,887.9 168.2,887.6 168.9,887.3 169.7,887.1 170.4,886.9 171.2,886.9 171.9,886.7 172.7,886.6 173.4,886.4 174.1,886.1 174.9,885.9 175.6,885.7 176.4,885.5 177.1,885.2 177.9,884.8 178.6,884.3 179.4,883.9 180.1,883.9 180.9,884.1 181.6,884.2 182.3,884.5 183.1,884.7 183.8,884.4 184.6,884.3 185.3,884.0 186.1,883.6 186.8,883.0 187.6,882.9 188.3,882.3 189.0,882.4 189.8,882.6 190.5,882.7 191.3,882.9 192.0,882.9 192.8,882.7 193.5,882.8 194.3,882.5 195.0,882.4 195.7,882.0 196.5,882.1 197.2,881.8 198.0,881.9 198.7,881.6 199.5,882.1 200.2,881.8 201.0,881.6 201.7,881.5 202.4,881.6 203.2,881.4 203.9,881.4 204.7,881.2 205.4,881.2 206.2,881.0 206.9,880.9 207.7,880.6 208.4,880.7 209.2,880.5 209.9,880.7 210.6,880.2 211.4,880.2 212.1,880.2 212.9,880.0 213.6,879.4 214.4,879.4 215.1,879.3 215.9,878.8 216.6,878.9" fill="none" stroke="#1d8f93" stroke-width="0.9" stroke-linejoin="round"/>
<polyline points="38.6,879.3 39.3,879.4 40.1,880.0 40.8,880.5 41.6,881.0 42.3,881.5 43.1,881.5 43.8,881.9 44.6,881.8 45.3,882.2 46.0,882.5 46.8,882.8 47.5,882.8 48.3,883.2 49.0,883.3 49.8,882.9 50.5,882.7 51.3,882.5 52.0,882.3 52.8,881.4 53.5,881.0 54.2,880.5 55.0,879.6 55.7,878.6 56.5,878.3 57.2,876.2 58.0,873.8 58.7,872.2 59.5,870.9 60.2,870.7 60.9,870.5 61.7,870.7 62.4,870.9 63.2,872.1 63.9,873.0 64.7,873.7 65.4,874.4 66.2,875.2 66.9,875.8 67.6,876.3 68.4,877.2 69.1,877.7 69.9,878.1 70.6,878.4 71.4,878.7 72.1,878.8 72.9,879.1 73.6,879.6 74.3,880.2 75.1,881.0 75.8,881.5 76.6,882.1 77.3,882.5 78.1,882.8 78.8,883.0 79.6,883.4 80.3,883.4 81.1,883.8 81.8,883.6 82.5,883.7 83.3,883.7 84.0,884.1 84.8,883.9 85.5,883.9 86.3,883.5 87.0,882.8 87.8,882.3 88.5,882.0 89.2,881.4 90.0,881.3 90.7,881.2 91.5,881.4 92.2,881.4 93.0,881.6 93.7,881.7 94.5,881.9 95.2,881.9 95.9,882.4 96.7,882.9 97.4,883.4 98.2,884.2 98.9,884.4 99.7,884.5 100.4,884.9 101.2,884.6 101.9,884.0 102.7,883.8 103.4,883.5 104.1,883.4 104.9,883.3 105.6,883.4 106.4,883.2 107.1,883.3 107.9,882.7 108.6,882.4 109.4,882.2 110.1,882.3 110.8,882.0 111.6,881.8 112.3,882.4 113.1,882.1 113.8,881.8 114.6,881.8 115.3,881.8 116.1,882.1 116.8,882.6 117.5,882.9 118.3,882.9 119.0,883.0 119.8,882.5 120.5,882.4 121.3,882.6 122.0,882.9 122.8,882.9 123.5,883.2 124.2,882.8 125.0,882.9 125.7,882.9 126.5,882.7 127.2,881.9 128.0,881.8 128.7,880.8 129.5,880.3 130.2,880.1 131.0,879.8 131.7,879.8 132.4,879.7 133.2,879.4 133.9,879.7 134.7,880.6 135.4,880.9 136.2,881.7 136.9,882.1 137.7,882.7 138.4,882.6 139.1,882.5 139.9,882.5 140.6,882.7 141.4,882.7 142.1,882.8 142.9,883.4 143.6,883.6 144.4,884.0 145.1,884.6 145.8,884.9 146.6,884.7 147.3,884.4 148.1,884.1 148.8,883.6 149.6,883.8 150.3,883.5 151.1,883.3 151.8,883.5 152.5,883.6 153.3,883.6 154.0,883.5 154.8,883.1 155.5,882.7 156.3,882.3 157.0,881.7 157.8,881.4 158.5,881.3 159.3,880.6 160.0,880.4 160.7,880.0 161.5,879.7 162.2,879.3 163.0,879.4 163.7,879.5 164.5,879.9 165.2,879.9 166.0,880.2 166.7,880.5 167.4,880.3 168.2,880.4 168.9,880.8 169.7,881.1 170.4,881.0 171.2,881.3 171.9,881.5 172.7,881.4 173.4,881.8 174.1,882.3 174.9,882.8 175.6,882.9 176.4,883.2 177.1,883.2 177.9,883.4 178.6,883.2 179.4,883.7 180.1,884.1 180.9,884.7 181.6,884.4 182.3,884.1 183.1,883.5 183.8,883.1 184.6,882.6 185.3,881.9 186.1,881.5 186.8,881.2 187.6,880.9 188.3,880.4 189.0,880.6 189.8,880.8 190.5,880.7 191.3,880.6 192.0,880.5 192.8,880.4 193.5,880.0 194.3,880.1 195.0,880.1 195.7,880.0 196.5,879.8 197.2,879.8 198.0,879.8 198.7,879.7 199.5,879.6 200.2,879.5 201.0,879.0 201.7,878.5 202.4,877.9 203.2,877.1 203.9,876.3 204.7,876.0 205.4,876.4 206.2,877.2 206.9,877.9 207.7,878.8 208.4,879.5 209.2,879.5 209.9,879.4 210.6,879.4 211.4,879.4 212.1,879.7 212.9,880.1 213.6,880.5 214.4,880.7 215.1,881.0 215.9,881.3 216.6,881.7" fill="none" stroke="#111" stroke-width="1.3" stroke-linejoin="round"/>
<line x1="56.4" y1="866.4" x2="56.4" y2="956.4" stroke="#222" stroke-width="1.2" stroke-dasharray="3 2.2"/>
<line x1="38.6" y1="848.6" x2="38.6" y2="957.1" stroke="#000" stroke-width="1.3"/>
<line x1="38.0" y1="956.4" x2="216.6" y2="956.4" stroke="#000" stroke-width="1.3"/>
<line x1="31.1" y1="859.9" x2="38.6" y2="859.9" stroke="#000" stroke-width="1.3"/>
<text x="28.6" y="863.2" font-size="9.2" text-anchor="end" fill="#000" stroke="#000" stroke-width="0.2">39</text>
<line x1="31.1" y1="892.1" x2="38.6" y2="892.1" stroke="#000" stroke-width="1.3"/>
<text x="28.6" y="895.4" font-size="9.2" text-anchor="end" fill="#000" stroke="#000" stroke-width="0.2">35</text>
<line x1="31.1" y1="924.2" x2="38.6" y2="924.2" stroke="#000" stroke-width="1.3"/>
<text x="28.6" y="927.5" font-size="9.2" text-anchor="end" fill="#000" stroke="#000" stroke-width="0.2">31</text>
<line x1="31.1" y1="956.4" x2="38.6" y2="956.4" stroke="#000" stroke-width="1.3"/>
<text x="28.6" y="959.7" font-size="9.2" text-anchor="end" fill="#000" stroke="#000" stroke-width="0.2">27</text>
<line x1="38.6" y1="956.4" x2="38.6" y2="963.9" stroke="#000" stroke-width="1.3"/>
<text x="38.6" y="976.3" font-size="9.2" text-anchor="middle" fill="#000" stroke="#000" stroke-width="0.2">-1</text>
<line x1="56.4" y1="956.4" x2="56.4" y2="963.9" stroke="#000" stroke-width="1.3"/>
<text x="56.4" y="976.3" font-size="9.2" text-anchor="middle" fill="#000" stroke="#000" stroke-width="0.2">0</text>
<line x1="74.2" y1="956.4" x2="74.2" y2="963.9" stroke="#000" stroke-width="1.3"/>
<text x="74.2" y="976.3" font-size="9.2" text-anchor="middle" fill="#000" stroke="#000" stroke-width="0.2">1</text>
<line x1="92.0" y1="956.4" x2="92.0" y2="963.9" stroke="#000" stroke-width="1.3"/>
<text x="92.0" y="976.3" font-size="9.2" text-anchor="middle" fill="#000" stroke="#000" stroke-width="0.2">2</text>
<line x1="109.8" y1="956.4" x2="109.8" y2="963.9" stroke="#000" stroke-width="1.3"/>
<text x="109.8" y="976.3" font-size="9.2" text-anchor="middle" fill="#000" stroke="#000" stroke-width="0.2">3</text>
<line x1="127.6" y1="956.4" x2="127.6" y2="963.9" stroke="#000" stroke-width="1.3"/>
<text x="127.6" y="976.3" font-size="9.2" text-anchor="middle" fill="#000" stroke="#000" stroke-width="0.2">4</text>
<line x1="145.4" y1="956.4" x2="145.4" y2="963.9" stroke="#000" stroke-width="1.3"/>
<text x="145.4" y="976.3" font-size="9.2" text-anchor="middle" fill="#000" stroke="#000" stroke-width="0.2">5</text>
<line x1="163.2" y1="956.4" x2="163.2" y2="963.9" stroke="#000" stroke-width="1.3"/>
<text x="163.2" y="976.3" font-size="9.2" text-anchor="middle" fill="#000" stroke="#000" stroke-width="0.2">6</text>
<line x1="181.0" y1="956.4" x2="181.0" y2="963.9" stroke="#000" stroke-width="1.3"/>
<text x="181.0" y="976.3" font-size="9.2" text-anchor="middle" fill="#000" stroke="#000" stroke-width="0.2">7</text>
<line x1="198.8" y1="956.4" x2="198.8" y2="963.9" stroke="#000" stroke-width="1.3"/>
<text x="198.8" y="976.3" font-size="9.2" text-anchor="middle" fill="#000" stroke="#000" stroke-width="0.2">8</text>
<line x1="216.6" y1="956.4" x2="216.6" y2="963.9" stroke="#000" stroke-width="1.3"/>
<text x="216.6" y="976.3" font-size="9.2" text-anchor="middle" fill="#000" stroke="#000" stroke-width="0.2">9</text>
<text x="128.0" y="987.8" font-size="9.4" text-anchor="middle" fill="#000" stroke="#000" stroke-width="0.2">Time after injection (h)</text>
<text transform="translate(10.5,904.4) rotate(-90)" font-size="9.4" text-anchor="middle" fill="#000" stroke="#000" stroke-width="0.2">Tcore (°C)</text>
<text x="47.7" y="861.4" font-size="9.4" text-anchor="start" fill="#000" stroke="#000" stroke-width="0.2">CNO</text>
<text x="136.0" y="913.1" font-size="9.2" text-anchor="start" fill="#000" stroke="#000" stroke-width="0.2"><tspan font-style="italic">P</tspan>=0.7215</text>
<line x1="31.4" y1="843.8" x2="51.8" y2="843.8" stroke="#111" stroke-width="1.4"/>
<text x="63.8" y="846.9" font-size="9.45" text-anchor="start" fill="#000" stroke="#000" stroke-width="0.2">VLM-mCherry &amp; DVC-hM4Di (n=5)</text>
<polygon points="282.7,870.4 283.4,872.1 284.2,874.8 284.9,878.6 285.7,874.5 286.4,870.8 287.2,875.6 287.9,874.1 288.7,873.9 289.4,877.4 290.1,871.6 290.9,877.5 291.6,874.9 292.4,869.0 293.1,874.9 293.9,874.3 294.6,876.7 295.4,875.1 296.1,882.3 296.9,879.5 297.6,874.6 298.3,876.3 299.1,877.4 299.8,874.3 300.6,873.6 301.3,872.3 302.1,868.9 302.8,873.7 303.6,872.5 304.3,877.8 305.0,877.1 305.8,880.0 306.5,883.8 307.3,884.7 308.0,887.7 308.8,884.8 309.5,888.6 310.3,888.2 311.0,894.6 311.7,894.9 312.5,900.7 313.2,894.6 314.0,894.9 314.7,896.5 315.5,894.9 316.2,898.2 317.0,899.2 317.7,897.0 318.4,894.5 319.2,891.8 319.9,891.7 320.7,891.4 321.4,896.7 322.2,899.8 322.9,903.0 323.7,897.7 324.4,894.9 325.2,893.6 325.9,895.3 326.6,895.8 327.4,901.8 328.1,904.8 328.9,898.3 329.6,895.9 330.4,892.8 331.1,893.2 331.9,896.6 332.6,901.3 333.3,903.4 334.1,902.4 334.8,898.0 335.6,899.5 336.3,895.7 337.1,897.3 337.8,900.3 338.6,899.4 339.3,898.2 340.0,900.1 340.8,895.8 341.5,897.1 342.3,895.8 343.0,896.1 343.8,900.6 344.5,904.0 345.3,900.4 346.0,899.6 346.8,898.3 347.5,898.5 348.2,896.4 349.0,901.7 349.7,903.4 350.5,903.4 351.2,898.9 352.0,898.1 352.7,894.8 353.5,899.0 354.2,901.0 354.9,899.7 355.7,897.0 356.4,893.0 357.2,890.3 357.9,890.0 358.7,891.3 359.4,893.3 360.2,894.1 360.9,896.1 361.6,892.6 362.4,894.0 363.1,891.1 363.9,893.7 364.6,889.9 365.4,893.4 366.1,891.1 366.9,887.4 367.6,887.2 368.3,886.4 369.1,887.1 369.8,893.9 370.6,894.1 371.3,896.0 372.1,892.6 372.8,888.8 373.6,887.4 374.3,885.7 375.1,891.7 375.8,892.2 376.5,891.1 377.3,885.4 378.0,885.6 378.8,883.4 379.5,883.8 380.3,884.8 381.0,893.3 381.8,895.8 382.5,891.1 383.2,888.0 384.0,888.0 384.7,886.5 385.5,892.1 386.2,890.4 387.0,891.9 387.7,887.1 388.5,885.2 389.2,880.9 389.9,885.1 390.7,883.1 391.4,888.6 392.2,889.6 392.9,886.4 393.7,884.6 394.4,888.0 395.2,884.8 395.9,886.9 396.6,890.1 397.4,888.5 398.1,888.0 398.9,883.2 399.6,887.1 400.4,883.2 401.1,885.0 401.9,888.9 402.6,885.1 403.4,883.3 404.1,887.1 404.8,884.4 405.6,885.2 406.3,885.8 407.1,889.6 407.8,887.7 408.6,890.0 409.3,883.0 410.1,883.2 410.8,876.7 411.5,884.5 412.3,881.1 413.0,886.1 413.8,883.4 414.5,881.6 415.3,881.3 416.0,882.6 416.8,882.7 417.5,881.3 418.2,879.9 419.0,885.0 419.7,886.0 420.5,886.3 421.2,884.5 422.0,887.1 422.7,885.8 423.5,882.8 424.2,887.7 425.0,883.0 425.7,880.8 426.4,875.8 427.2,873.1 427.9,878.7 428.7,879.6 429.4,882.6 430.2,879.4 430.9,878.6 431.7,879.8 432.4,874.7 433.1,878.7 433.9,882.0 434.6,883.6 435.4,879.4 436.1,876.5 436.9,879.2 437.6,876.2 438.4,876.0 439.1,879.2 439.8,880.2 440.6,876.0 441.3,876.2 442.1,877.7 442.8,873.6 443.6,874.6 444.3,873.1 445.1,877.8 445.8,880.5 446.5,875.2 447.3,872.3 448.0,873.9 448.8,873.9 449.5,876.7 450.3,877.0 451.0,882.2 451.8,879.2 452.5,878.2 453.3,876.2 454.0,872.3 454.7,874.2 455.5,878.6 456.2,874.2 457.0,874.5 457.7,872.6 458.5,871.7 459.2,872.6 460.0,874.4 460.7,877.9 460.7,890.8 460.0,888.7 459.2,885.9 458.5,884.6 457.7,885.7 457.0,887.8 456.2,887.7 455.5,889.8 454.7,886.3 454.0,884.2 453.3,887.9 452.5,887.5 451.8,889.5 451.0,890.5 450.3,886.1 449.5,887.0 448.8,885.3 448.0,886.2 447.3,886.3 446.5,887.1 445.8,892.0 445.1,890.1 444.3,885.0 443.6,886.8 442.8,885.2 442.1,889.1 441.3,889.1 440.6,887.1 439.8,888.5 439.1,888.8 438.4,884.2 437.6,885.7 436.9,890.8 436.1,891.6 435.4,895.6 434.6,902.3 433.9,899.8 433.1,894.8 432.4,888.7 431.7,892.2 430.9,889.1 430.2,888.9 429.4,893.3 428.7,891.5 427.9,892.2 427.2,887.6 426.4,888.1 425.7,893.6 425.0,895.9 424.2,899.0 423.5,894.1 422.7,897.9 422.0,896.4 421.2,894.7 420.5,898.0 419.7,898.6 419.0,899.5 418.2,897.4 417.5,895.2 416.8,896.7 416.0,893.5 415.3,893.8 414.5,893.0 413.8,897.7 413.0,899.8 412.3,896.8 411.5,899.5 410.8,890.7 410.1,894.8 409.3,894.2 408.6,900.9 407.8,896.6 407.1,897.5 406.3,894.2 405.6,893.8 404.8,893.5 404.1,897.1 403.4,896.2 402.6,897.9 401.9,902.1 401.1,897.1 400.4,895.5 399.6,899.0 398.9,894.8 398.1,899.6 397.4,900.8 396.6,901.0 395.9,897.9 395.2,896.2 394.4,900.7 393.7,896.7 392.9,898.5 392.2,902.2 391.4,902.2 390.7,895.5 389.9,897.1 389.2,892.5 388.5,896.8 387.7,897.6 387.0,902.7 386.2,900.9 385.5,903.5 384.7,896.3 384.0,894.6 383.2,894.7 382.5,899.4 381.8,904.1 381.0,901.4 380.3,899.1 379.5,898.9 378.8,898.9 378.0,902.4 377.3,905.0 376.5,908.6 375.8,909.4 375.1,908.1 374.3,899.6 373.6,899.0 372.8,898.3 372.1,901.3 371.3,905.0 370.6,903.9 369.8,904.0 369.1,897.9 368.3,898.0 367.6,897.9 366.9,899.0 366.1,904.4 365.4,907.5 364.6,903.1 363.9,906.1 363.1,901.7 362.4,901.9 361.6,901.2 360.9,905.2 360.2,904.6 359.4,904.4 358.7,905.6 357.9,904.5 357.2,902.6 356.4,903.0 355.7,907.4 354.9,907.9 354.2,907.9 353.5,908.2 352.7,905.2 352.0,908.6 351.2,909.4 350.5,913.4 349.7,913.8 349.0,913.4 348.2,907.6 347.5,907.0 346.8,907.3 346.0,908.5 345.3,909.2 344.5,915.0 343.8,914.8 343.0,911.0 342.3,908.8 341.5,907.9 340.8,906.9 340.0,910.9 339.3,909.1 338.6,911.6 337.8,914.4 337.1,909.5 336.3,906.6 335.6,907.0 334.8,904.5 334.1,907.5 333.3,909.9 332.6,908.8 331.9,905.7 331.1,901.1 330.4,903.4 329.6,904.6 328.9,906.9 328.1,914.9 327.4,914.8 326.6,907.9 325.9,909.6 325.2,909.1 324.4,907.9 323.7,910.2 322.9,916.4 322.2,910.9 321.4,908.7 320.7,906.0 319.9,906.7 319.2,904.9 318.4,909.2 317.7,910.2 317.0,913.0 316.2,913.0 315.5,909.7 314.7,908.7 314.0,907.0 313.2,907.9 312.5,912.8 311.7,908.5 311.0,911.9 310.3,905.8 309.5,904.3 308.8,901.7 308.0,903.3 307.3,898.2 306.5,895.1 305.8,890.1 305.0,885.2 304.3,883.8 303.6,878.6 302.8,882.4 302.1,877.2 301.3,880.0 300.6,883.0 299.8,885.5 299.1,885.7 298.3,886.0 297.6,885.0 296.9,891.2 296.1,891.7 295.4,887.3 294.6,889.6 293.9,888.1 293.1,888.3 292.4,884.6 291.6,888.6 290.9,890.4 290.1,883.0 289.4,888.3 288.7,884.2 287.9,884.4 287.2,884.8 286.4,882.3 285.7,885.9 284.9,889.4 284.2,885.8 283.4,884.4 282.7,880.5" fill="#ff74b4"/>
<polygon points="282.7,883.4 283.4,882.5 284.2,883.1 284.9,884.8 285.7,882.1 286.4,885.4 287.2,884.7 287.9,885.5 288.7,884.0 289.4,884.5 290.1,882.8 290.9,881.4 291.6,882.4 292.4,879.4 293.1,883.5 293.9,881.9 294.6,882.3 295.4,882.5 296.1,880.4 296.9,876.6 297.6,877.9 298.3,874.7 299.1,878.4 299.8,873.4 300.6,874.0 301.3,870.5 302.1,867.1 302.8,872.2 303.6,873.4 304.3,882.3 305.0,883.7 305.8,887.4 306.5,886.7 307.3,888.3 308.0,893.4 308.8,890.5 309.5,893.4 310.3,893.7 311.0,905.6 311.7,904.7 312.5,905.8 313.2,902.6 314.0,900.6 314.7,901.3 315.5,900.5 316.2,904.3 317.0,905.1 317.7,906.4 318.4,903.8 319.2,897.5 319.9,901.7 320.7,905.7 321.4,905.7 322.2,910.3 322.9,911.7 323.7,909.6 324.4,901.9 325.2,898.9 325.9,900.0 326.6,901.3 327.4,901.7 328.1,905.3 328.9,904.8 329.6,897.6 330.4,896.3 331.1,898.3 331.9,902.6 332.6,902.8 333.3,909.7 334.1,908.7 334.8,907.7 335.6,905.2 336.3,902.3 337.1,907.6 337.8,901.2 338.6,904.5 339.3,904.7 340.0,901.7 340.8,898.4 341.5,897.7 342.3,895.3 343.0,900.5 343.8,905.6 344.5,907.2 345.3,904.3 346.0,901.5 346.8,904.3 347.5,902.3 348.2,905.4 349.0,909.2 349.7,906.8 350.5,910.1 351.2,909.0 352.0,900.1 352.7,900.8 353.5,902.6 354.2,905.7 354.9,907.8 355.7,903.1 356.4,902.9 357.2,898.8 357.9,899.8 358.7,902.4 359.4,901.0 360.2,902.4 360.9,900.2 361.6,899.9 362.4,900.2 363.1,896.4 363.9,898.4 364.6,899.8 365.4,899.1 366.1,895.8 366.9,894.2 367.6,893.4 368.3,889.6 369.1,897.2 369.8,899.4 370.6,902.3 371.3,903.5 372.1,898.6 372.8,891.8 373.6,890.4 374.3,894.3 375.1,891.5 375.8,896.6 376.5,896.1 377.3,891.1 378.0,894.1 378.8,890.0 379.5,892.2 380.3,891.6 381.0,898.3 381.8,893.5 382.5,893.5 383.2,893.5 384.0,890.5 384.7,893.6 385.5,897.2 386.2,899.5 387.0,898.0 387.7,896.5 388.5,892.9 389.2,890.7 389.9,889.3 390.7,891.8 391.4,890.6 392.2,890.7 392.9,889.8 393.7,892.9 394.4,891.3 395.2,887.0 395.9,885.5 396.6,888.2 397.4,892.0 398.1,889.0 398.9,888.2 399.6,885.8 400.4,885.4 401.1,889.0 401.9,891.0 402.6,889.8 403.4,890.7 404.1,887.1 404.8,884.1 405.6,882.5 406.3,882.9 407.1,887.3 407.8,889.8 408.6,888.5 409.3,895.5 410.1,886.0 410.8,885.4 411.5,882.8 412.3,884.9 413.0,885.0 413.8,888.7 414.5,885.0 415.3,884.1 416.0,882.0 416.8,885.8 417.5,889.5 418.2,890.1 419.0,893.5 419.7,887.0 420.5,883.9 421.2,878.7 422.0,880.3 422.7,879.9 423.5,886.5 424.2,888.2 425.0,884.3 425.7,886.3 426.4,881.2 427.2,880.1 427.9,881.0 428.7,880.9 429.4,882.1 430.2,878.7 430.9,880.5 431.7,883.2 432.4,880.8 433.1,879.2 433.9,880.1 434.6,884.2 435.4,886.5 436.1,886.7 436.9,882.0 437.6,882.7 438.4,883.4 439.1,885.4 439.8,878.0 440.6,878.9 441.3,882.5 442.1,874.8 442.8,872.3 443.6,878.5 444.3,875.9 445.1,880.0 445.8,878.9 446.5,877.2 447.3,879.1 448.0,875.0 448.8,878.4 449.5,881.2 450.3,879.8 451.0,885.0 451.8,881.5 452.5,877.3 453.3,879.8 454.0,879.6 454.7,877.9 455.5,880.3 456.2,882.0 457.0,877.0 457.7,880.6 458.5,874.2 459.2,877.6 460.0,878.3 460.7,884.3 460.7,894.3 460.0,889.3 459.2,890.3 458.5,889.3 457.7,894.7 457.0,892.9 456.2,897.4 455.5,895.5 454.7,892.2 454.0,894.4 453.3,892.4 452.5,891.4 451.8,894.5 451.0,896.8 450.3,891.9 449.5,893.7 448.8,890.0 448.0,884.6 447.3,891.5 446.5,889.0 445.8,890.8 445.1,892.4 444.3,889.6 443.6,890.1 442.8,886.3 442.1,889.1 441.3,895.2 440.6,894.0 439.8,892.5 439.1,899.0 438.4,894.7 437.6,894.6 436.9,892.3 436.1,898.8 435.4,898.9 434.6,898.6 433.9,895.0 433.1,893.0 432.4,893.3 431.7,896.5 430.9,894.3 430.2,891.7 429.4,895.7 428.7,893.8 427.9,892.7 427.2,892.5 426.4,897.0 425.7,901.0 425.0,899.2 424.2,903.1 423.5,899.7 422.7,891.5 422.0,893.0 421.2,891.8 420.5,896.9 419.7,898.3 419.0,901.8 418.2,898.2 417.5,898.3 416.8,892.7 416.0,891.9 415.3,893.6 414.5,894.4 413.8,898.6 413.0,897.1 412.3,895.5 411.5,894.5 410.8,896.9 410.1,896.7 409.3,905.2 408.6,899.3 407.8,901.0 407.1,900.3 406.3,896.2 405.6,894.7 404.8,895.0 404.1,896.5 403.4,899.1 402.6,896.4 401.9,899.8 401.1,898.2 400.4,896.5 399.6,896.2 398.9,900.2 398.1,900.7 397.4,903.3 396.6,898.5 395.9,897.3 395.2,896.8 394.4,899.7 393.7,899.7 392.9,898.0 392.2,899.0 391.4,899.3 390.7,903.4 389.9,902.5 389.2,904.5 388.5,906.9 387.7,912.1 387.0,910.6 386.2,909.7 385.5,907.3 384.7,902.1 384.0,898.7 383.2,902.1 382.5,905.8 381.8,903.8 381.0,908.8 380.3,901.2 379.5,903.9 378.8,900.7 378.0,905.1 377.3,902.3 376.5,909.2 375.8,908.6 375.1,901.9 374.3,905.1 373.6,901.6 372.8,900.7 372.1,906.9 371.3,913.2 370.6,912.4 369.8,909.5 369.1,909.7 368.3,902.1 367.6,905.0 366.9,905.5 366.1,908.6 365.4,911.6 364.6,913.6 363.9,912.8 363.1,910.6 362.4,912.8 361.6,912.8 360.9,910.8 360.2,913.1 359.4,913.7 358.7,916.4 357.9,913.9 357.2,913.6 356.4,918.4 355.7,916.7 354.9,921.2 354.2,917.8 353.5,916.0 352.7,913.2 352.0,913.4 351.2,921.4 350.5,920.3 349.7,915.7 349.0,919.6 348.2,915.3 347.5,910.5 346.8,913.5 346.0,912.1 345.3,914.4 344.5,918.4 343.8,918.2 343.0,916.7 342.3,910.6 341.5,912.1 340.8,911.4 340.0,916.4 339.3,917.3 338.6,917.2 337.8,913.8 337.1,922.5 336.3,914.7 335.6,917.9 334.8,919.7 334.1,922.1 333.3,923.3 332.6,916.8 331.9,916.1 331.1,911.9 330.4,908.8 329.6,907.8 328.9,915.7 328.1,916.4 327.4,914.8 326.6,913.8 325.9,912.1 325.2,909.8 324.4,913.6 323.7,918.0 322.9,919.5 322.2,918.5 321.4,914.4 320.7,914.8 319.9,912.2 319.2,909.7 318.4,915.2 317.7,917.7 317.0,915.4 316.2,913.2 315.5,907.3 314.7,908.6 314.0,908.3 313.2,909.5 312.5,912.9 311.7,912.8 311.0,913.9 310.3,903.2 309.5,904.2 308.8,903.1 308.0,906.3 307.3,899.3 306.5,895.8 305.8,895.8 305.0,892.6 304.3,890.2 303.6,884.4 302.8,884.0 302.1,879.5 301.3,881.5 300.6,887.0 299.8,886.5 299.1,892.2 298.3,888.1 297.6,892.0 296.9,889.0 296.1,891.6 295.4,893.8 294.6,894.0 293.9,891.6 293.1,893.8 292.4,888.4 291.6,889.6 290.9,886.3 290.1,888.6 289.4,889.3 288.7,888.9 287.9,892.7 287.2,892.7 286.4,895.4 285.7,893.2 284.9,896.2 284.2,893.0 283.4,893.2 282.7,893.4" fill="#86c2c2" style="mix-blend-mode:multiply"/>
<polygon points="282.7,882.1 283.4,883.7 284.2,880.5 284.9,880.7 285.7,878.1 286.4,879.5 287.2,879.2 287.9,880.4 288.7,883.6 289.4,882.4 290.1,883.8 290.9,883.5 291.6,880.9 292.4,881.7 293.1,879.1 293.9,877.0 294.6,879.4 295.4,879.0 296.1,882.3 296.9,880.8 297.6,884.3 298.3,881.3 299.1,879.8 299.8,875.7 300.6,875.0 301.3,873.0 302.1,864.2 302.8,864.2 303.6,862.2 304.3,863.8 305.0,867.8 305.8,867.3 306.5,867.3 307.3,870.9 308.0,870.0 308.8,872.0 309.5,872.4 310.3,876.4 311.0,875.3 311.7,878.0 312.5,873.9 313.2,875.5 314.0,872.5 314.7,873.0 315.5,877.7 316.2,874.0 317.0,877.9 317.7,876.1 318.4,876.8 319.2,877.3 319.9,875.5 320.7,874.8 321.4,870.7 322.2,872.2 322.9,873.2 323.7,870.1 324.4,871.1 325.2,870.2 325.9,872.3 326.6,870.8 327.4,873.2 328.1,873.9 328.9,872.6 329.6,871.1 330.4,872.9 331.1,873.3 331.9,869.4 332.6,873.7 333.3,877.8 334.1,874.0 334.8,876.1 335.6,877.9 336.3,875.0 337.1,875.7 337.8,877.2 338.6,877.5 339.3,877.2 340.0,876.1 340.8,879.1 341.5,875.5 342.3,877.3 343.0,876.8 343.8,874.3 344.5,877.2 345.3,875.1 346.0,875.2 346.8,879.0 347.5,875.0 348.2,873.7 349.0,875.2 349.7,873.5 350.5,876.9 351.2,875.0 352.0,875.3 352.7,876.0 353.5,880.0 354.2,878.6 354.9,879.4 355.7,877.4 356.4,879.7 357.2,878.3 357.9,878.6 358.7,880.5 359.4,879.9 360.2,877.5 360.9,876.9 361.6,875.6 362.4,878.4 363.1,879.5 363.9,877.5 364.6,879.6 365.4,876.4 366.1,879.4 366.9,878.7 367.6,875.9 368.3,877.7 369.1,878.6 369.8,874.9 370.6,875.8 371.3,876.8 372.1,875.7 372.8,876.4 373.6,872.9 374.3,874.5 375.1,872.7 375.8,869.2 376.5,870.2 377.3,870.7 378.0,870.5 378.8,872.3 379.5,872.4 380.3,874.5 381.0,874.0 381.8,877.3 382.5,878.9 383.2,879.5 384.0,883.1 384.7,880.6 385.5,878.6 386.2,877.7 387.0,880.7 387.7,879.5 388.5,884.5 389.2,881.0 389.9,882.5 390.7,880.1 391.4,882.1 392.2,881.2 392.9,881.4 393.7,882.6 394.4,882.2 395.2,880.0 395.9,884.7 396.6,884.1 397.4,882.6 398.1,881.5 398.9,884.6 399.6,883.6 400.4,882.9 401.1,878.9 401.9,879.3 402.6,879.6 403.4,879.0 404.1,881.3 404.8,876.7 405.6,876.9 406.3,879.1 407.1,879.2 407.8,879.6 408.6,879.6 409.3,875.3 410.1,878.1 410.8,879.4 411.5,875.5 412.3,877.9 413.0,878.4 413.8,878.9 414.5,880.2 415.3,878.6 416.0,873.8 416.8,879.4 417.5,879.5 418.2,876.5 419.0,878.0 419.7,879.0 420.5,874.4 421.2,879.1 422.0,880.0 422.7,879.5 423.5,878.7 424.2,878.1 425.0,877.4 425.7,878.8 426.4,880.8 427.2,878.6 427.9,880.5 428.7,881.6 429.4,880.6 430.2,880.4 430.9,882.8 431.7,882.8 432.4,881.1 433.1,881.2 433.9,879.1 434.6,876.1 435.4,874.9 436.1,878.3 436.9,871.5 437.6,870.4 438.4,874.3 439.1,871.5 439.8,875.7 440.6,870.7 441.3,873.7 442.1,872.2 442.8,872.1 443.6,871.8 444.3,874.9 445.1,871.0 445.8,872.7 446.5,873.3 447.3,872.6 448.0,874.9 448.8,872.2 449.5,873.9 450.3,873.8 451.0,877.7 451.8,876.4 452.5,879.8 453.3,875.6 454.0,877.2 454.7,877.9 455.5,875.7 456.2,876.1 457.0,875.2 457.7,879.1 458.5,878.9 459.2,878.5 460.0,884.0 460.7,882.7 460.7,888.6 460.0,890.1 459.2,887.3 458.5,887.3 457.7,886.1 457.0,881.5 456.2,882.9 455.5,879.7 454.7,881.9 454.0,883.0 453.3,881.5 452.5,884.5 451.8,881.0 451.0,882.5 450.3,877.9 449.5,878.4 448.8,876.7 448.0,880.0 447.3,877.5 446.5,878.5 445.8,878.1 445.1,877.8 444.3,881.5 443.6,878.1 442.8,878.5 442.1,878.6 441.3,880.1 440.6,877.4 439.8,882.1 439.1,878.4 438.4,881.0 437.6,877.3 436.9,878.0 436.1,884.8 435.4,881.3 434.6,881.4 433.9,884.4 433.1,886.2 432.4,886.0 431.7,887.5 430.9,889.3 430.2,886.2 429.4,886.3 428.7,887.8 427.9,886.8 427.2,884.4 426.4,887.6 425.7,886.2 425.0,884.2 424.2,883.2 423.5,882.9 422.7,883.7 422.0,883.5 421.2,882.8 420.5,879.0 419.7,884.4 419.0,882.6 418.2,881.3 417.5,884.9 416.8,885.4 416.0,879.8 415.3,884.1 414.5,885.8 413.8,884.9 413.0,883.1 412.3,883.1 411.5,880.6 410.8,885.4 410.1,882.1 409.3,881.5 408.6,885.3 407.8,886.7 407.1,885.9 406.3,888.2 405.6,884.9 404.8,884.0 404.1,888.5 403.4,887.3 402.6,888.1 401.9,888.5 401.1,889.1 400.4,892.1 399.6,890.1 398.9,888.6 398.1,884.9 397.4,886.0 396.6,888.1 395.9,890.9 395.2,887.9 394.4,891.5 393.7,892.1 392.9,890.2 392.2,890.5 391.4,891.4 390.7,889.3 389.9,889.8 389.2,888.3 388.5,891.9 387.7,886.5 387.0,886.1 386.2,884.1 385.5,885.7 384.7,886.1 384.0,888.0 383.2,884.8 382.5,884.8 381.8,882.6 381.0,879.9 380.3,880.7 379.5,879.5 378.8,879.3 378.0,878.5 377.3,879.0 376.5,878.8 375.8,877.5 375.1,880.5 374.3,880.6 373.6,879.0 372.8,883.2 372.1,883.5 371.3,884.2 370.6,884.5 369.8,883.8 369.1,886.8 368.3,883.8 367.6,882.0 366.9,884.6 366.1,884.2 365.4,881.4 364.6,885.8 363.9,884.4 363.1,887.8 362.4,886.9 361.6,884.3 360.9,885.5 360.2,885.3 359.4,886.0 358.7,886.8 357.9,884.3 357.2,883.6 356.4,885.8 355.7,883.5 354.9,886.5 354.2,885.3 353.5,886.8 352.7,882.2 352.0,882.4 351.2,881.1 350.5,881.8 349.7,878.5 349.0,880.8 348.2,878.3 347.5,880.0 346.8,885.3 346.0,881.0 345.3,880.3 344.5,882.9 343.8,879.5 343.0,881.5 342.3,882.9 341.5,882.2 340.8,886.1 340.0,884.0 339.3,885.1 338.6,884.8 337.8,884.1 337.1,882.0 336.3,881.6 335.6,885.1 334.8,884.3 334.1,881.7 333.3,885.7 332.6,880.8 331.9,876.5 331.1,878.9 330.4,879.4 329.6,877.9 328.9,877.4 328.1,879.0 327.4,880.2 326.6,877.1 325.9,878.6 325.2,877.4 324.4,878.9 323.7,877.4 322.9,880.8 322.2,879.2 321.4,878.0 320.7,881.8 319.9,880.8 319.2,881.9 318.4,882.7 317.7,881.7 317.0,882.6 316.2,880.0 315.5,884.0 314.7,879.7 314.0,880.3 313.2,883.4 312.5,881.3 311.7,885.1 311.0,880.1 310.3,881.2 309.5,877.5 308.8,877.6 308.0,876.4 307.3,878.0 306.5,874.8 305.8,874.8 305.0,874.9 304.3,871.9 303.6,870.7 302.8,871.9 302.1,871.8 301.3,880.8 300.6,882.1 299.8,883.2 299.1,886.7 298.3,887.3 297.6,889.7 296.9,886.1 296.1,886.7 295.4,884.2 294.6,885.9 293.9,883.6 293.1,884.9 292.4,887.8 291.6,886.3 290.9,888.3 290.1,888.7 289.4,887.2 288.7,888.3 287.9,884.9 287.2,883.3 286.4,883.0 285.7,882.5 284.9,884.2 284.2,885.3 283.4,887.3 282.7,887.3" fill="#8a8a8a"/>
<polyline points="282.7,874.7 283.4,878.9 284.2,881.2 284.9,884.8 285.7,881.0 286.4,878.9 287.2,881.4 287.9,880.7 288.7,879.9 289.4,883.7 290.1,877.2 290.9,884.0 291.6,881.8 292.4,877.5 293.1,883.1 293.9,882.9 294.6,884.2 295.4,882.8 296.1,887.6 296.9,885.0 297.6,879.7 298.3,881.4 299.1,881.1 299.8,878.9 300.6,877.6 301.3,875.9 302.1,872.9 302.8,878.5 303.6,876.9 304.3,882.1 305.0,882.0 305.8,886.3 306.5,890.9 307.3,891.9 308.0,896.4 308.8,894.4 309.5,896.9 310.3,896.9 311.0,903.4 311.7,901.7 312.5,906.0 313.2,901.4 314.0,901.0 314.7,903.3 315.5,902.4 316.2,905.9 317.0,906.0 317.7,904.2 318.4,903.2 319.2,899.7 319.9,901.3 320.7,901.1 321.4,904.4 322.2,906.7 322.9,912.0 323.7,906.3 324.4,903.2 325.2,903.5 325.9,902.7 326.6,902.1 327.4,907.4 328.1,909.4 328.9,902.9 329.6,901.6 330.4,900.1 331.1,899.3 331.9,902.8 332.6,905.5 333.3,907.8 334.1,905.0 334.8,901.6 335.6,903.3 336.3,901.9 337.1,904.1 337.8,907.9 338.6,906.9 339.3,904.7 340.0,905.8 340.8,900.5 341.5,901.4 342.3,899.8 343.0,901.2 343.8,905.9 344.5,908.8 345.3,904.2 346.0,904.7 346.8,903.0 347.5,903.1 348.2,902.4 349.0,907.4 349.7,908.2 350.5,909.0 351.2,904.3 352.0,903.4 352.7,900.5 353.5,904.1 354.2,904.6 354.9,905.3 355.7,903.7 356.4,899.7 357.2,898.6 357.9,900.3 358.7,900.7 359.4,901.4 360.2,901.0 360.9,901.2 361.6,896.6 362.4,898.3 363.1,897.0 363.9,900.6 364.6,897.5 365.4,902.3 366.1,900.6 366.9,894.8 367.6,895.2 368.3,894.8 369.1,894.2 369.8,899.1 370.6,899.7 371.3,901.3 372.1,896.5 372.8,892.9 373.6,892.5 374.3,891.7 375.1,898.3 375.8,900.4 376.5,899.5 377.3,894.7 378.0,894.2 378.8,891.5 379.5,892.5 380.3,893.4 381.0,899.3 381.8,901.5 382.5,896.3 383.2,892.1 384.0,891.6 384.7,892.1 385.5,898.6 386.2,897.7 387.0,899.0 387.7,895.4 388.5,893.6 389.2,890.4 389.9,893.7 390.7,892.0 391.4,897.8 392.2,897.1 392.9,892.3 393.7,891.2 394.4,894.7 395.2,889.7 395.9,892.7 396.6,894.4 397.4,893.6 398.1,892.7 398.9,888.8 399.6,892.7 400.4,890.1 401.1,891.0 401.9,895.6 402.6,891.4 403.4,889.6 404.1,892.4 404.8,888.8 405.6,888.5 406.3,888.6 407.1,891.4 407.8,889.7 408.6,893.4 409.3,887.4 410.1,888.1 410.8,882.9 411.5,891.6 412.3,889.8 413.0,893.1 413.8,891.0 414.5,887.9 415.3,888.4 416.0,887.3 416.8,889.0 417.5,887.6 418.2,887.8 419.0,889.6 419.7,889.8 420.5,889.8 421.2,886.7 422.0,889.2 422.7,891.3 423.5,888.3 424.2,892.7 425.0,889.6 425.7,888.5 426.4,883.2 427.2,882.2 427.9,887.5 428.7,887.8 429.4,889.5 430.2,884.9 430.9,883.9 431.7,885.6 432.4,880.1 433.1,885.7 433.9,889.3 434.6,892.2 435.4,887.9 436.1,885.3 436.9,885.3 437.6,881.9 438.4,881.5 439.1,885.0 439.8,884.4 440.6,882.4 441.3,882.3 442.1,882.1 442.8,878.0 443.6,879.0 444.3,877.6 445.1,884.1 445.8,886.9 446.5,881.9 447.3,880.3 448.0,880.2 448.8,878.9 449.5,880.8 450.3,880.5 451.0,885.4 451.8,884.4 452.5,882.5 453.3,882.7 454.0,879.7 454.7,882.2 455.5,884.6 456.2,882.8 457.0,883.3 457.7,880.8 458.5,879.6 459.2,881.1 460.0,882.9 460.7,884.4" fill="none" stroke="#e8177a" stroke-width="1.0" stroke-linejoin="round"/>
<polyline points="282.7,888.3 283.4,887.5 284.2,887.6 284.9,889.9 285.7,886.9 286.4,889.8 287.2,888.2 287.9,888.6 288.7,887.0 289.4,887.8 290.1,886.8 290.9,884.6 291.6,886.1 292.4,883.9 293.1,888.8 293.9,886.9 294.6,888.4 295.4,889.1 296.1,886.6 296.9,883.1 297.6,884.6 298.3,881.6 299.1,885.3 299.8,879.8 300.6,880.6 301.3,876.5 302.1,873.4 302.8,877.8 303.6,878.0 304.3,884.4 305.0,885.8 305.8,890.2 306.5,891.6 307.3,894.8 308.0,901.3 308.8,899.7 309.5,900.6 310.3,898.5 311.0,909.0 311.7,908.0 312.5,907.5 313.2,904.4 314.0,904.2 314.7,905.4 315.5,904.5 316.2,909.3 317.0,911.2 317.7,911.7 318.4,909.3 319.2,903.2 319.9,906.2 320.7,908.4 321.4,907.6 322.2,912.1 322.9,913.4 323.7,912.1 324.4,907.0 325.2,905.2 325.9,905.9 326.6,908.0 327.4,909.1 328.1,911.2 328.9,909.6 329.6,903.5 330.4,903.1 331.1,904.4 331.9,908.6 332.6,908.9 333.3,914.2 334.1,911.7 334.8,910.5 335.6,908.3 336.3,905.8 337.1,913.9 337.8,907.4 338.6,911.2 339.3,911.8 340.0,910.0 340.8,905.5 341.5,905.4 342.3,903.7 343.0,908.7 343.8,911.8 344.5,912.7 345.3,908.8 346.0,905.3 346.8,907.9 347.5,905.6 348.2,908.7 349.0,913.2 349.7,910.9 350.5,914.1 351.2,912.6 352.0,905.9 352.7,906.4 353.5,908.1 354.2,910.4 354.9,913.9 355.7,908.5 356.4,908.4 357.2,904.4 357.9,905.9 358.7,909.9 359.4,908.2 360.2,909.3 360.9,907.3 361.6,908.0 362.4,906.6 363.1,902.7 363.9,905.2 364.6,906.3 365.4,905.2 366.1,903.1 366.9,901.6 367.6,900.5 368.3,896.2 369.1,903.3 369.8,903.8 370.6,905.7 371.3,907.6 372.1,903.6 372.8,897.8 373.6,897.2 374.3,901.4 375.1,898.9 375.8,904.0 376.5,903.8 377.3,897.7 378.0,900.7 378.8,896.0 379.5,899.0 380.3,897.7 381.0,904.3 381.8,899.1 382.5,899.5 383.2,897.0 384.0,893.1 384.7,897.0 385.5,901.1 386.2,903.2 387.0,903.5 387.7,902.7 388.5,898.2 389.2,897.4 389.9,896.6 390.7,897.7 391.4,896.1 392.2,896.1 392.9,895.3 393.7,897.3 394.4,896.6 395.2,892.9 395.9,893.5 396.6,895.2 397.4,899.1 398.1,896.3 398.9,895.9 399.6,892.0 400.4,891.5 401.1,894.2 401.9,896.8 402.6,894.3 403.4,896.5 404.1,893.6 404.8,892.3 405.6,890.4 406.3,890.8 407.1,894.6 407.8,895.8 408.6,893.8 409.3,899.5 410.1,892.5 410.8,892.0 411.5,890.7 412.3,892.4 413.0,894.5 413.8,896.2 414.5,892.3 415.3,890.5 416.0,887.6 416.8,888.5 417.5,892.4 418.2,892.3 419.0,895.8 419.7,892.0 420.5,890.3 421.2,886.6 422.0,889.2 422.7,888.1 423.5,893.6 424.2,896.4 425.0,891.5 425.7,892.8 426.4,887.6 427.2,886.7 427.9,888.2 428.7,889.0 429.4,890.4 430.2,887.7 430.9,889.0 431.7,891.2 432.4,887.7 433.1,886.8 433.9,887.8 434.6,889.7 435.4,890.1 436.1,890.1 436.9,883.9 437.6,886.2 438.4,888.3 439.1,891.9 439.8,885.1 440.6,888.1 441.3,889.2 442.1,882.0 442.8,880.2 443.6,885.7 444.3,882.9 445.1,885.9 445.8,885.3 446.5,882.5 447.3,884.3 448.0,878.0 448.8,882.8 449.5,885.1 450.3,883.2 451.0,887.7 451.8,886.4 452.5,883.6 453.3,886.0 454.0,887.2 454.7,885.5 455.5,887.3 456.2,889.5 457.0,885.2 457.7,887.6 458.5,882.5 459.2,885.6 460.0,884.6 460.7,889.5" fill="none" stroke="#1d8f93" stroke-width="0.9" stroke-linejoin="round"/>
<polyline points="282.7,884.3 283.4,885.6 284.2,883.7 284.9,883.1 285.7,881.3 286.4,881.8 287.2,882.3 287.9,883.0 288.7,886.1 289.4,884.7 290.1,886.4 290.9,885.6 291.6,883.0 292.4,884.8 293.1,881.8 293.9,880.2 294.6,882.3 295.4,881.7 296.1,884.9 296.9,884.0 297.6,887.3 298.3,884.6 299.1,883.5 299.8,879.4 300.6,878.0 301.3,877.1 302.1,868.3 302.8,867.7 303.6,865.4 304.3,867.5 305.0,870.4 305.8,869.8 306.5,870.3 307.3,874.0 308.0,872.8 308.8,874.4 309.5,875.2 310.3,879.3 311.0,877.5 311.7,881.3 312.5,878.0 313.2,880.1 314.0,877.6 314.7,878.0 315.5,882.5 316.2,877.8 317.0,880.7 317.7,878.6 318.4,879.7 319.2,879.6 319.9,878.8 320.7,878.4 321.4,874.9 322.2,876.1 322.9,877.0 323.7,873.8 324.4,875.7 325.2,874.4 325.9,876.5 326.6,875.0 327.4,877.0 328.1,877.0 328.9,875.6 329.6,875.1 330.4,876.6 331.1,877.3 331.9,873.8 332.6,878.2 333.3,882.2 334.1,878.0 334.8,880.1 335.6,881.9 336.3,878.5 337.1,879.0 337.8,880.9 338.6,881.3 339.3,880.8 340.0,879.4 340.8,882.5 341.5,879.2 342.3,880.3 343.0,879.5 343.8,877.2 344.5,879.4 345.3,877.5 346.0,877.8 346.8,881.7 347.5,877.0 348.2,876.2 349.0,876.7 349.7,875.4 350.5,878.7 351.2,877.9 352.0,878.9 352.7,879.5 353.5,883.4 354.2,882.0 354.9,882.2 355.7,879.2 356.4,882.2 357.2,880.9 357.9,881.6 358.7,884.1 359.4,883.8 360.2,881.9 360.9,881.3 361.6,880.2 362.4,883.0 363.1,884.4 363.9,882.3 364.6,883.9 365.4,879.6 366.1,881.8 366.9,881.0 367.6,877.9 368.3,879.7 369.1,881.9 369.8,879.0 370.6,880.3 371.3,880.8 372.1,879.8 372.8,880.1 373.6,876.7 374.3,878.2 375.1,877.0 375.8,874.3 376.5,875.6 377.3,875.9 378.0,875.7 378.8,877.5 379.5,877.2 380.3,878.4 381.0,877.5 381.8,880.0 382.5,881.5 383.2,881.5 384.0,884.8 384.7,882.5 385.5,881.8 386.2,880.8 387.0,883.8 387.7,883.1 388.5,888.4 389.2,884.4 389.9,885.9 390.7,884.7 391.4,887.1 392.2,885.6 392.9,885.8 393.7,886.6 394.4,886.1 395.2,883.6 395.9,887.9 396.6,886.1 397.4,884.8 398.1,883.3 398.9,886.7 399.6,886.7 400.4,887.4 401.1,883.7 401.9,884.1 402.6,883.5 403.4,883.3 404.1,885.4 404.8,880.9 405.6,880.8 406.3,883.8 407.1,882.6 407.8,882.8 408.6,882.4 409.3,878.4 410.1,879.6 410.8,882.4 411.5,877.8 412.3,880.0 413.0,880.3 413.8,881.6 414.5,881.4 415.3,880.4 416.0,875.8 416.8,881.7 417.5,881.5 418.2,879.3 419.0,880.6 419.7,882.2 420.5,877.3 421.2,881.8 422.0,882.6 422.7,882.2 423.5,881.3 424.2,881.4 425.0,881.1 425.7,882.4 426.4,883.9 427.2,881.5 427.9,884.2 428.7,885.1 429.4,883.6 430.2,883.3 430.9,885.2 431.7,884.3 432.4,882.9 433.1,882.8 433.9,881.3 434.6,878.7 435.4,877.9 436.1,881.5 436.9,874.7 437.6,874.0 438.4,877.5 439.1,873.5 439.8,877.4 440.6,873.1 441.3,875.9 442.1,874.1 442.8,874.4 443.6,874.1 444.3,877.3 445.1,873.5 445.8,875.0 446.5,876.2 447.3,874.9 448.0,877.3 448.8,874.4 449.5,875.5 450.3,874.7 451.0,879.0 451.8,877.8 452.5,881.0 453.3,878.2 454.0,880.0 454.7,880.7 455.5,878.7 456.2,880.7 457.0,879.5 457.7,883.3 458.5,883.4 459.2,882.4 460.0,886.7 460.7,885.6" fill="none" stroke="#111" stroke-width="1.1" stroke-linejoin="round"/>
<line x1="300.5" y1="859.1" x2="300.5" y2="959.6" stroke="#222" stroke-width="1.2" stroke-dasharray="3 2.2"/>
<line x1="282.7" y1="855.1" x2="282.7" y2="960.2" stroke="#000" stroke-width="1.3"/>
<line x1="282.1" y1="959.6" x2="460.7" y2="959.6" stroke="#000" stroke-width="1.3"/>
<line x1="275.2" y1="855.1" x2="282.7" y2="855.1" stroke="#000" stroke-width="1.3"/>
<text x="272.7" y="858.4" font-size="9.2" text-anchor="end" fill="#000" stroke="#000" stroke-width="0.2">800</text>
<line x1="275.2" y1="881.2" x2="282.7" y2="881.2" stroke="#000" stroke-width="1.3"/>
<text x="272.7" y="884.5" font-size="9.2" text-anchor="end" fill="#000" stroke="#000" stroke-width="0.2">600</text>
<line x1="275.2" y1="907.4" x2="282.7" y2="907.4" stroke="#000" stroke-width="1.3"/>
<text x="272.7" y="910.7" font-size="9.2" text-anchor="end" fill="#000" stroke="#000" stroke-width="0.2">400</text>
<line x1="275.2" y1="933.5" x2="282.7" y2="933.5" stroke="#000" stroke-width="1.3"/>
<text x="272.7" y="936.8" font-size="9.2" text-anchor="end" fill="#000" stroke="#000" stroke-width="0.2">200</text>
<line x1="275.2" y1="959.6" x2="282.7" y2="959.6" stroke="#000" stroke-width="1.3"/>
<text x="272.7" y="962.9" font-size="9.2" text-anchor="end" fill="#000" stroke="#000" stroke-width="0.2">0</text>
<line x1="282.7" y1="959.6" x2="282.7" y2="967.1" stroke="#000" stroke-width="1.3"/>
<text x="282.7" y="979.5" font-size="9.2" text-anchor="middle" fill="#000" stroke="#000" stroke-width="0.2">-1</text>
<line x1="300.5" y1="959.6" x2="300.5" y2="967.1" stroke="#000" stroke-width="1.3"/>
<text x="300.5" y="979.5" font-size="9.2" text-anchor="middle" fill="#000" stroke="#000" stroke-width="0.2">0</text>
<line x1="318.3" y1="959.6" x2="318.3" y2="967.1" stroke="#000" stroke-width="1.3"/>
<text x="318.3" y="979.5" font-size="9.2" text-anchor="middle" fill="#000" stroke="#000" stroke-width="0.2">1</text>
<line x1="336.1" y1="959.6" x2="336.1" y2="967.1" stroke="#000" stroke-width="1.3"/>
<text x="336.1" y="979.5" font-size="9.2" text-anchor="middle" fill="#000" stroke="#000" stroke-width="0.2">2</text>
<line x1="353.9" y1="959.6" x2="353.9" y2="967.1" stroke="#000" stroke-width="1.3"/>
<text x="353.9" y="979.5" font-size="9.2" text-anchor="middle" fill="#000" stroke="#000" stroke-width="0.2">3</text>
<line x1="371.7" y1="959.6" x2="371.7" y2="967.1" stroke="#000" stroke-width="1.3"/>
<text x="371.7" y="979.5" font-size="9.2" text-anchor="middle" fill="#000" stroke="#000" stroke-width="0.2">4</text>
<line x1="389.5" y1="959.6" x2="389.5" y2="967.1" stroke="#000" stroke-width="1.3"/>
<text x="389.5" y="979.5" font-size="9.2" text-anchor="middle" fill="#000" stroke="#000" stroke-width="0.2">5</text>
<line x1="407.3" y1="959.6" x2="407.3" y2="967.1" stroke="#000" stroke-width="1.3"/>
<text x="407.3" y="979.5" font-size="9.2" text-anchor="middle" fill="#000" stroke="#000" stroke-width="0.2">6</text>
<line x1="425.1" y1="959.6" x2="425.1" y2="967.1" stroke="#000" stroke-width="1.3"/>
<text x="425.1" y="979.5" font-size="9.2" text-anchor="middle" fill="#000" stroke="#000" stroke-width="0.2">7</text>
<line x1="442.9" y1="959.6" x2="442.9" y2="967.1" stroke="#000" stroke-width="1.3"/>
<text x="442.9" y="979.5" font-size="9.2" text-anchor="middle" fill="#000" stroke="#000" stroke-width="0.2">8</text>
<line x1="460.7" y1="959.6" x2="460.7" y2="967.1" stroke="#000" stroke-width="1.3"/>
<text x="460.7" y="979.5" font-size="9.2" text-anchor="middle" fill="#000" stroke="#000" stroke-width="0.2">9</text>
<text x="372.7" y="990.8" font-size="9.4" text-anchor="middle" fill="#000" stroke="#000" stroke-width="0.2">Time after injection (h)</text>
<text transform="translate(250.0,909.4) rotate(-90)" font-size="9.4" text-anchor="middle" fill="#000" stroke="#000" stroke-width="0.2">Heart rate(bmp)</text>
<text x="291.0" y="856.1" font-size="9.4" text-anchor="start" fill="#000" stroke="#000" stroke-width="0.2">CNO</text>
<text x="359.6" y="923.2" font-size="9.2" text-anchor="start" fill="#000" stroke="#000" stroke-width="0.2"><tspan font-style="italic">P</tspan>=0.7967</text>
<line x1="247.9" y1="843.8" x2="268.8" y2="843.8" stroke="#1d8f93" stroke-width="1.4"/>
<text x="281.1" y="846.9" font-size="9.45" text-anchor="start" fill="#000" stroke="#000" stroke-width="0.2">VLM-hM3Dq &amp; DVC-GFP (n=5)</text>
<line x1="450.8" y1="843.8" x2="470.9" y2="843.8" stroke="#e8177a" stroke-width="1.4"/>
<text x="483.2" y="847.2" font-size="9.45" text-anchor="start" fill="#000" stroke="#000" stroke-width="0.2">VLM-hM3Dq &amp; DVC-hM4Di (n=5)</text>
<line x1="526.5" y1="894.0" x2="643.3" y2="894.0" stroke="#000" stroke-width="1.7" stroke-dasharray="1.6 2.4"/>
<polyline points="536.5,894.0 559.5,915.1 582.5,919.9 605.5,923.3 628.5,928.1" fill="none" stroke="#1f8ba0" stroke-width="1.2" stroke-linejoin="round"/>
<polyline points="536.5,894.0 559.5,915.8 582.5,919.9 605.5,923.3 628.5,924.0" fill="none" stroke="#ee1111" stroke-width="1.2" stroke-linejoin="round"/>
<polyline points="536.5,894.0 559.5,894.7 582.5,892.6 605.5,896.0 628.5,889.9" fill="none" stroke="#000" stroke-width="1.2" stroke-linejoin="round"/>
<circle cx="536.5" cy="894.0" r="2.2" fill="#1f8ba0"/>
<line x1="559.5" y1="911.7" x2="559.5" y2="918.6" stroke="#1f8ba0" stroke-width="1.1"/>
<line x1="557.3" y1="911.7" x2="561.7" y2="911.7" stroke="#1f8ba0" stroke-width="1.1"/>
<line x1="557.3" y1="918.6" x2="561.7" y2="918.6" stroke="#1f8ba0" stroke-width="1.1"/>
<circle cx="559.5" cy="915.1" r="2.2" fill="#1f8ba0"/>
<line x1="582.5" y1="914.5" x2="582.5" y2="925.4" stroke="#1f8ba0" stroke-width="1.1"/>
<line x1="580.3" y1="914.5" x2="584.7" y2="914.5" stroke="#1f8ba0" stroke-width="1.1"/>
<line x1="580.3" y1="925.4" x2="584.7" y2="925.4" stroke="#1f8ba0" stroke-width="1.1"/>
<circle cx="582.5" cy="919.9" r="2.2" fill="#1f8ba0"/>
<line x1="605.5" y1="915.8" x2="605.5" y2="930.8" stroke="#1f8ba0" stroke-width="1.1"/>
<line x1="603.3" y1="915.8" x2="607.7" y2="915.8" stroke="#1f8ba0" stroke-width="1.1"/>
<line x1="603.3" y1="930.8" x2="607.7" y2="930.8" stroke="#1f8ba0" stroke-width="1.1"/>
<circle cx="605.5" cy="923.3" r="2.2" fill="#1f8ba0"/>
<line x1="628.5" y1="919.9" x2="628.5" y2="936.3" stroke="#1f8ba0" stroke-width="1.1"/>
<line x1="626.3" y1="919.9" x2="630.7" y2="919.9" stroke="#1f8ba0" stroke-width="1.1"/>
<line x1="626.3" y1="936.3" x2="630.7" y2="936.3" stroke="#1f8ba0" stroke-width="1.1"/>
<circle cx="628.5" cy="928.1" r="2.2" fill="#1f8ba0"/>
<rect x="534.3" y="891.8" width="4.4" height="4.4" fill="#ee1111"/>
<line x1="559.5" y1="911.7" x2="559.5" y2="919.9" stroke="#ee1111" stroke-width="1.1"/>
<line x1="557.3" y1="911.7" x2="561.7" y2="911.7" stroke="#ee1111" stroke-width="1.1"/>
<line x1="557.3" y1="919.9" x2="561.7" y2="919.9" stroke="#ee1111" stroke-width="1.1"/>
<rect x="557.3" y="913.6" width="4.4" height="4.4" fill="#ee1111"/>
<line x1="582.5" y1="914.5" x2="582.5" y2="925.4" stroke="#ee1111" stroke-width="1.1"/>
<line x1="580.3" y1="914.5" x2="584.7" y2="914.5" stroke="#ee1111" stroke-width="1.1"/>
<line x1="580.3" y1="925.4" x2="584.7" y2="925.4" stroke="#ee1111" stroke-width="1.1"/>
<rect x="580.3" y="917.7" width="4.4" height="4.4" fill="#ee1111"/>
<line x1="605.5" y1="915.1" x2="605.5" y2="931.5" stroke="#ee1111" stroke-width="1.1"/>
<line x1="603.3" y1="915.1" x2="607.7" y2="915.1" stroke="#ee1111" stroke-width="1.1"/>
<line x1="603.3" y1="931.5" x2="607.7" y2="931.5" stroke="#ee1111" stroke-width="1.1"/>
<rect x="603.3" y="921.1" width="4.4" height="4.4" fill="#ee1111"/>
<line x1="628.5" y1="914.5" x2="628.5" y2="933.6" stroke="#ee1111" stroke-width="1.1"/>
<line x1="626.3" y1="914.5" x2="630.7" y2="914.5" stroke="#ee1111" stroke-width="1.1"/>
<line x1="626.3" y1="933.6" x2="630.7" y2="933.6" stroke="#ee1111" stroke-width="1.1"/>
<rect x="626.3" y="921.8" width="4.4" height="4.4" fill="#ee1111"/>
<rect x="534.3" y="891.8" width="4.4" height="4.4" fill="#000"/>
<line x1="559.5" y1="892.6" x2="559.5" y2="896.7" stroke="#000" stroke-width="1.0"/>
<line x1="557.5" y1="892.6" x2="561.5" y2="892.6" stroke="#000" stroke-width="1.0"/>
<line x1="557.5" y1="896.7" x2="561.5" y2="896.7" stroke="#000" stroke-width="1.0"/>
<polygon points="559.5,892.3 561.7,896.4 557.3,896.4" fill="#000"/>
<line x1="582.5" y1="889.2" x2="582.5" y2="896.0" stroke="#000" stroke-width="1.0"/>
<line x1="580.5" y1="889.2" x2="584.5" y2="889.2" stroke="#000" stroke-width="1.0"/>
<line x1="580.5" y1="896.0" x2="584.5" y2="896.0" stroke="#000" stroke-width="1.0"/>
<rect x="580.3" y="890.4" width="4.4" height="4.4" fill="#000"/>
<line x1="605.5" y1="893.3" x2="605.5" y2="898.8" stroke="#000" stroke-width="1.0"/>
<line x1="603.5" y1="893.3" x2="607.5" y2="893.3" stroke="#000" stroke-width="1.0"/>
<line x1="603.5" y1="898.8" x2="607.5" y2="898.8" stroke="#000" stroke-width="1.0"/>
<polygon points="605.5,893.6 607.7,897.8 603.3,897.8" fill="#000"/>
<line x1="628.5" y1="885.8" x2="628.5" y2="894.0" stroke="#000" stroke-width="1.0"/>
<line x1="626.5" y1="885.8" x2="630.5" y2="885.8" stroke="#000" stroke-width="1.0"/>
<line x1="626.5" y1="894.0" x2="630.5" y2="894.0" stroke="#000" stroke-width="1.0"/>
<polygon points="628.5,887.5 630.7,891.7 626.3,891.7" fill="#000"/>
<line x1="521.8" y1="880.9" x2="521.8" y2="962.8" stroke="#000" stroke-width="1.2"/>
<line x1="521.2" y1="962.2" x2="643.3" y2="962.2" stroke="#000" stroke-width="1.2"/>
<line x1="514.4" y1="894.0" x2="521.8" y2="894.0" stroke="#000" stroke-width="1.2"/>
<text x="512.2" y="897.3" font-size="9.2" text-anchor="end" fill="#000" stroke="#000" stroke-width="0.2">0</text>
<line x1="514.4" y1="928.1" x2="521.8" y2="928.1" stroke="#000" stroke-width="1.2"/>
<text x="512.2" y="931.4" font-size="9.2" text-anchor="end" fill="#000" stroke="#000" stroke-width="0.2">-5</text>
<line x1="514.4" y1="962.2" x2="521.8" y2="962.2" stroke="#000" stroke-width="1.2"/>
<text x="512.2" y="965.5" font-size="9.2" text-anchor="end" fill="#000" stroke="#000" stroke-width="0.2">-10</text>
<line x1="536.5" y1="962.2" x2="536.5" y2="969.3" stroke="#000" stroke-width="1.2"/>
<text x="536.5" y="980.5" font-size="9.2" text-anchor="middle" fill="#000" stroke="#000" stroke-width="0.2">0</text>
<line x1="559.5" y1="962.2" x2="559.5" y2="969.3" stroke="#000" stroke-width="1.2"/>
<text x="559.5" y="980.5" font-size="9.2" text-anchor="middle" fill="#000" stroke="#000" stroke-width="0.2">30</text>
<line x1="582.5" y1="962.2" x2="582.5" y2="969.3" stroke="#000" stroke-width="1.2"/>
<text x="582.5" y="980.5" font-size="9.2" text-anchor="middle" fill="#000" stroke="#000" stroke-width="0.2">60</text>
<line x1="605.5" y1="962.2" x2="605.5" y2="969.3" stroke="#000" stroke-width="1.2"/>
<text x="605.5" y="980.5" font-size="9.2" text-anchor="middle" fill="#000" stroke="#000" stroke-width="0.2">90</text>
<line x1="628.5" y1="962.2" x2="628.5" y2="969.3" stroke="#000" stroke-width="1.2"/>
<text x="628.5" y="980.5" font-size="9.2" text-anchor="middle" fill="#000" stroke="#000" stroke-width="0.2">120</text>
<text x="583.0" y="993.0" font-size="9.0" text-anchor="middle" fill="#000" stroke="#000" stroke-width="0.2">Time after injection(min)</text>
<text transform="translate(490.6,923.4) rotate(-90)" font-size="8.8" text-anchor="middle" fill="#000" stroke="#000" stroke-width="0.2">ΔT<tspan font-size="6.8" dy="2">iBAT</tspan><tspan dy="-2">(°C)</tspan></text>
<text transform="translate(636.2,928.5) rotate(90)" font-size="9.2" text-anchor="middle" fill="#000" stroke="#000" stroke-width="0.2"><tspan font-style="italic">P</tspan>=0.9174</text>
<text x="155.0" y="554.3" font-size="9.7" text-anchor="start" fill="#000" stroke="#000" stroke-width="0.2">AAV-fDIO-hM3Dq-mCherry</text>
<text x="69.5" y="567.6" font-size="9.7" text-anchor="start" fill="#000" stroke="#000" stroke-width="0.2">AAV-DIO-hM4Di-GFP</text>
<text x="239.2" y="611.5" font-size="9.7" text-anchor="start" fill="#000" stroke="#000" stroke-width="0.2">2 weeks</text>
<text x="223.0" y="637.6" font-size="9.7" text-anchor="start" fill="#000" stroke="#000" stroke-width="0.2">hM3Dq expression</text>
<text x="318.1" y="569.3" font-size="9.7" text-anchor="start" fill="#000" stroke="#000" stroke-width="0.2">IP injections of CNO &amp; 4-OHT</text>
<text x="443.2" y="613.0" font-size="9.7" text-anchor="start" fill="#000" stroke="#000" stroke-width="0.2">2 weeks</text>
<text x="434.7" y="637.1" font-size="9.7" text-anchor="start" fill="#000" stroke="#000" stroke-width="0.2">hM4Di expression</text>
<text x="512.8" y="569.3" font-size="9.7" text-anchor="start" fill="#000" stroke="#000" stroke-width="0.2">IP injections of CNO</text>
<text x="99.2" y="658.3" font-size="9.7" text-anchor="start" fill="#000" stroke="#000" stroke-width="0.2"><tspan font-style="italic">Dbh-Flp::Fos</tspan><tspan font-style="italic" font-size="6.5" dy="-3.5">2A-iCreER</tspan></text>
<text x="191.3" y="656.8" font-size="9.7" text-anchor="start" fill="#000" stroke="#000" stroke-width="0.2">VLM</text>
<text x="153.6" y="630.1" font-size="9.7" text-anchor="start" fill="#000" stroke="#000" stroke-width="0.2">MPA</text>
<text x="358.8" y="627.1" font-size="9.7" text-anchor="start" fill="#000" stroke="#000" stroke-width="0.2">MPA</text>
<text x="556.7" y="632.3" font-size="9.7" text-anchor="start" fill="#000" stroke="#000" stroke-width="0.2">MPA</text>
<line x1="240.7" y1="619.5" x2="283.0" y2="619.5" stroke="#000" stroke-width="1.4"/>
<polygon points="289.5,619.5 281.5,615.3 281.5,623.7" fill="#000"/>
<line x1="440.7" y1="620.5" x2="484.0" y2="620.5" stroke="#000" stroke-width="1.4"/>
<polygon points="491,620.5 483,616.3 483,624.7" fill="#000"/>
<defs>
<g id="brainA"><path d="M7.2,56.2 C10,53.5 18,53 22.3,54.2 C26,55.5 29.5,58 31.5,61.5 M31.2,60.5 C33,58.5 38,54.5 43.4,52.9 C50,51.2 62,50.2 72.3,50 C80,50 88,50.5 93.6,53 C95,54 95.6,55.6 95.6,55.6 C99,57 103,57.8 105.5,57.6 M7.2,56.2 C5.5,60 6.8,66 9.9,68.6 C13,73 17,77 22,80.5 C26,83 29,83.5 30.5,85.5 C33,89 38,94 42,97.6 C46,100.5 50,102.8 53,105.5 C57,109 61,111.5 66,113 C71,114.3 77,114 81.5,113.3 C84,112.5 86.5,111 87.8,108.5 C88.3,106 86.5,102.5 85,100.5 C87,102 89.5,103 91,104.9 C92.5,107 92.5,110 94.5,112 C97,114 103,113.8 109.4,114.1 C115,114.6 119,115.6 124,115.4 C129,115.2 133,114 135.5,111.5 C137.8,109 138.3,104 138.3,101 M90.4,60.2 C92,58 94,56.5 95.6,55.6 M30.9,60.8 C33,66 34.5,72 35.5,77.2" fill="none" stroke="#222" stroke-width="1.3" stroke-linecap="round"/><path d="M105.5,54.5 C106,52.5 109,51.6 113.1,51.6 C116,51.6 119,52.2 120.4,53 C121.5,53.8 122,54.6 122.6,55.2 C123.5,54.8 124.5,55 124.8,55.2 C127,55.8 129,57 129.2,57 C130.8,58 132,59.2 132.8,60.3 C134.5,62.5 135.8,64.5 136.5,66.2 C137.6,68.5 138.3,71 138.3,72.7 C138.6,74.5 138.4,76.5 138,77.8 C139.3,78 140.5,78.5 140.9,79.3 C141.8,80.5 142.2,82.5 142,83.7 C141.6,85 141,85.8 140.5,86.6 C141.5,87 142.3,88 142.3,88.8 C142.8,91 142.8,94 142.3,96.1 C142,97.8 141.5,99 140.9,99.7 C139.5,100 138,99.8 137.2,99.4 C134.5,98.5 132.5,97.5 130.7,96.8 C128.5,96.2 127,95.8 125.5,95.4 C121.5,93 118,91 114.6,88.8 C113,87.8 112,87.2 111,86.6 C108.5,85.3 107,84.2 105.8,83 C104.3,81.3 103.5,79.5 103.3,77.8 C103,75.8 103,73.8 103.3,72 C104,71.2 105,70.6 105.8,70.2 C106.2,68.5 106.6,67 106.9,65.4 C107.2,64 107.4,62.5 107.3,61.1 C107,60 106.4,59 105.8,58.1 C105.4,57 105.3,55.5 105.5,54.5 Z" fill="#fff" stroke="#222" stroke-width="1.3"/><path d="M111,67 C111.3,71 111.6,75 111.8,78 M114.3,57 C116.5,62 118.5,68 119.3,74 C119.6,77 119.8,80 120,82 M126.5,62 C127.6,66 128.5,70 128.9,74.5 M108,78.5 C113,79.5 118,80 122.5,80 M119,80 C119.3,84 119.5,87 120,90 M122.5,75 C126,74.8 130,74.9 133.8,74.8 M123.3,81.5 C128,82 133,82.5 137.8,82.9 M124.9,85 C129,87.5 133.5,90 137.8,91.7 M114,79 L121,79 L121,86 L116,84 Z" fill="none" stroke="#8a8a8a" stroke-width="3.0" stroke-linecap="round"/><path d="M108.9,74 C108.7,70 108.8,66.5 109.3,64.4 C110,62.5 111.5,61.8 112.9,62 C114.8,62.5 116,64 116.5,66 C116.8,69 116.9,72 116.9,75.6 M122.5,58 C123.5,63 124.2,69 124.5,74.8 M131.3,79.6 C134,79.4 137,79.2 139.3,79.2 M133.8,86.9 C136.5,87 139,87.1 141,87.3 M123.3,88.5 C123.6,90.5 123.9,92.8 124.1,94.9" fill="none" stroke="#222" stroke-width="1.1" stroke-linecap="round"/><path d="M47.9,76.3 C48.3,74 49.3,72.8 50.5,71.9 C54,69.5 58,68 61.9,66.6 C66,65 71,62.5 75,60.5 C77.5,59.5 79.5,58.8 81.2,58.8 C82.8,58.9 83.5,60 83.4,61.4 C83.6,62.5 83.9,63.8 83.8,64.9 C82,64.6 80.2,64.2 78.5,64 C75,64.6 72,65.3 68.9,66.2 C65,67.5 61,69 57.5,71 C54.5,72.6 52.2,74 50.5,75.4 C49.8,76.2 49.2,77 48.8,77.2 C48.2,77.3 47.8,76.9 47.9,76.3 Z" fill="none" stroke="#222" stroke-width="1.2"/><path d="M66.3,68.4 C67,67.8 68,67.5 68.9,67.5 C70,67 71.2,66.5 72.4,66.6 C73.3,66.8 74.2,67 75,67.1 C75.8,66.7 76.4,66.2 76.8,65.8 C75,68 73.2,69.3 71.5,70.1 C70,70.3 69,70 68.3,69.6" fill="none" stroke="#222" stroke-width="1.0"/><path d="M67.5,72 C66,76 64.5,80.5 64,84 C63.8,86 63.9,87.5 64.2,88.5 L66.6,88 C66.8,85 67.6,82 68.8,79 C69.8,76.5 70.5,74.5 70.8,73 Z" fill="#2a2a2a" stroke="#222" stroke-width="0.8"/><path d="M63.6,88.5 C60,90.5 58,93.5 58.4,96.6 C58.8,99.5 61.5,101.2 64.2,101 C67,100.7 69.3,98.8 70.2,96.2 C70.9,94 69.6,91 67.2,87.7" fill="#fff" stroke="#222" stroke-width="1.0"/></g>
<g id="brainL"><path d="M7.2,56.2 C10,53.5 18,53 22.3,54.2 C26,55.5 29.5,58 31.5,61.5 M31.2,60.5 C33,58.5 38,54.5 43.4,52.9 C50,51.2 62,50.2 72.3,50 C80,50 88,50.5 93.6,53 C95,54 95.6,55.6 95.6,55.6 C99,57 103,57.8 105.5,57.6 M7.2,56.2 C5.5,60 6.8,66 9.9,68.6 C13,73 17,77 22,80.5 C26,83 29,83.5 30.5,85.5 C33,89 38,94 42,97.6 C46,100.5 50,102.8 53,105.5 C57,109 61,111.5 66,113 C71,114.3 77,114 81.5,113.3 C84,112.5 86.5,111 87.8,108.5 C88.3,106 86.5,102.5 85,100.5 C87,102 89.5,103 91,104.9 C92.5,107 92.5,110 94.5,112 C97,114 103,113.8 109.4,114.1 C115,114.6 119,115.6 124,115.4 C129,115.2 133,114 135.5,111.5 C137.8,109 138.3,104 138.3,101 M90.4,60.2 C92,58 94,56.5 95.6,55.6 M30.9,60.8 C33,66 34.5,72 35.5,77.2" fill="none" stroke="#222" stroke-width="1.3" stroke-linecap="round"/><path d="M105.5,54.5 C106,52.5 109,51.6 113.1,51.6 C116,51.6 119,52.2 120.4,53 C121.5,53.8 122,54.6 122.6,55.2 C123.5,54.8 124.5,55 124.8,55.2 C127,55.8 129,57 129.2,57 C130.8,58 132,59.2 132.8,60.3 C134.5,62.5 135.8,64.5 136.5,66.2 C137.6,68.5 138.3,71 138.3,72.7 C138.6,74.5 138.4,76.5 138,77.8 C139.3,78 140.5,78.5 140.9,79.3 C141.8,80.5 142.2,82.5 142,83.7 C141.6,85 141,85.8 140.5,86.6 C141.5,87 142.3,88 142.3,88.8 C142.8,91 142.8,94 142.3,96.1 C142,97.8 141.5,99 140.9,99.7 C139.5,100 138,99.8 137.2,99.4 C134.5,98.5 132.5,97.5 130.7,96.8 C128.5,96.2 127,95.8 125.5,95.4 C121.5,93 118,91 114.6,88.8 C113,87.8 112,87.2 111,86.6 C108.5,85.3 107,84.2 105.8,83 C104.3,81.3 103.5,79.5 103.3,77.8 C103,75.8 103,73.8 103.3,72 C104,71.2 105,70.6 105.8,70.2 C106.2,68.5 106.6,67 106.9,65.4 C107.2,64 107.4,62.5 107.3,61.1 C107,60 106.4,59 105.8,58.1 C105.4,57 105.3,55.5 105.5,54.5 Z" fill="#fff" stroke="#222" stroke-width="1.3"/><path d="M111,67 C111.3,71 111.6,75 111.8,78 M114.3,57 C116.5,62 118.5,68 119.3,74 C119.6,77 119.8,80 120,82 M126.5,62 C127.6,66 128.5,70 128.9,74.5 M108,78.5 C113,79.5 118,80 122.5,80 M119,80 C119.3,84 119.5,87 120,90 M122.5,75 C126,74.8 130,74.9 133.8,74.8 M123.3,81.5 C128,82 133,82.5 137.8,82.9 M124.9,85 C129,87.5 133.5,90 137.8,91.7 M114,79 L121,79 L121,86 L116,84 Z" fill="none" stroke="#8a8a8a" stroke-width="3.4" stroke-linecap="round"/><path d="M108.9,74 C108.7,70 108.8,66.5 109.3,64.4 C110,62.5 111.5,61.8 112.9,62 C114.8,62.5 116,64 116.5,66 C116.8,69 116.9,72 116.9,75.6 M122.5,58 C123.5,63 124.2,69 124.5,74.8 M131.3,79.6 C134,79.4 137,79.2 139.3,79.2 M133.8,86.9 C136.5,87 139,87.1 141,87.3 M123.3,88.5 C123.6,90.5 123.9,92.8 124.1,94.9" fill="none" stroke="#222" stroke-width="1.1" stroke-linecap="round"/><path d="M47.9,76.3 C48.3,74 49.3,72.8 50.5,71.9 C54,69.5 58,68 61.9,66.6 C66,65 71,62.5 75,60.5 C77.5,59.5 79.5,58.8 81.2,58.8 C82.8,58.9 83.5,60 83.4,61.4 C83.6,62.5 83.9,63.8 83.8,64.9 C82,64.6 80.2,64.2 78.5,64 C75,64.6 72,65.3 68.9,66.2 C65,67.5 61,69 57.5,71 C54.5,72.6 52.2,74 50.5,75.4 C49.8,76.2 49.2,77 48.8,77.2 C48.2,77.3 47.8,76.9 47.9,76.3 Z" fill="none" stroke="#222" stroke-width="1.2"/><path d="M66.3,68.4 C67,67.8 68,67.5 68.9,67.5 C70,67 71.2,66.5 72.4,66.6 C73.3,66.8 74.2,67 75,67.1 C75.8,66.7 76.4,66.2 76.8,65.8 C75,68 73.2,69.3 71.5,70.1 C70,70.3 69,70 68.3,69.6" fill="none" stroke="#222" stroke-width="1.0"/><path d="M68,72.5 L72.5,73 C70,77 67.5,81 66.5,85 C66,88 67.5,91 70,94.5 C70.8,95.8 70.5,97.2 69.2,97.6 C68,98 67,97.5 66.3,96.5 C63.8,93 62.3,89 62.5,85.5 C62.8,81 65,76.5 68,72.5 Z" fill="#fff" stroke="#222" stroke-width="1.0"/><path d="M68,72.5 L72.5,73 C70,77 67.5,81 66.5,85 C66.2,86.5 66.3,88 66.7,89 L63,89 C62.4,87.5 62.3,86.5 62.5,85.5 C62.8,81 65,76.5 68,72.5 Z" fill="#2a2a2a"/></g>
</defs>
<ellipse cx="64.4" cy="103.5" rx="5.3" ry="3.3" fill="#c8c8c8"/>
<ellipse cx="126.5" cy="109.5" rx="8.5" ry="2.9" fill="#c8c8c8"/>
<rect x="62.2" y="49" width="3.0" height="44" fill="#9aa2a6"/>
<use href="#brainA"/>
<rect x="60.3" y="23.4" width="7" height="11.6" fill="#d8d8d8" stroke="#bbb" stroke-width="0.6"/>
<line x1="60.5" y1="24.5" x2="67.1" y2="24.5" stroke="#aaa" stroke-width="0.5"/>
<line x1="60.5" y1="26.1" x2="67.1" y2="26.1" stroke="#aaa" stroke-width="0.5"/>
<line x1="60.5" y1="27.7" x2="67.1" y2="27.7" stroke="#aaa" stroke-width="0.5"/>
<line x1="60.5" y1="29.3" x2="67.1" y2="29.3" stroke="#aaa" stroke-width="0.5"/>
<line x1="60.5" y1="30.9" x2="67.1" y2="30.9" stroke="#aaa" stroke-width="0.5"/>
<line x1="60.5" y1="32.5" x2="67.1" y2="32.5" stroke="#aaa" stroke-width="0.5"/>
<line x1="60.5" y1="34.1" x2="67.1" y2="34.1" stroke="#aaa" stroke-width="0.5"/>
<rect x="58.9" y="35" width="10.7" height="14" fill="#f4f4f4" stroke="#c8c8c8" stroke-width="0.7"/>
<line x1="59.0" y1="41.5" x2="69.5" y2="41.5" stroke="#ccc" stroke-width="0.6"/>
<polygon points="127.2,35.3 131.1,35.3 129.4,104.2 128.9,104.2" fill="#fff" stroke="#000" stroke-width="0.9"/>
<line x1="129.2" y1="75.0" x2="129.2" y2="104.2" stroke="#000" stroke-width="1.4"/>
<text x="52.0" y="19.2" font-size="9.4" text-anchor="start" fill="#000" stroke="#000" stroke-width="0.2">CNO</text>
<text x="77.1" y="33.4" font-size="9.6" text-anchor="start" fill="#000" stroke="#000" stroke-width="0.2">AAV-DIO-hM3Dq</text>
<text x="31.5" y="112.0" font-size="9.6" text-anchor="start" fill="#000" stroke="#000" stroke-width="0.2">MPA</text>
<text x="47.9" y="131.0" font-size="9.6" text-anchor="start" fill="#000" stroke="#000" stroke-width="0.2" font-style="italic">Dbh-Cre</text>
<text x="127.5" y="126.0" font-size="9.6" text-anchor="start" fill="#000" stroke="#000" stroke-width="0.2">VLM</text>
<ellipse cx="142.4" cy="634.7" rx="4.7" ry="3.5" fill="#c8c8c8"/>
<ellipse cx="207.8" cy="641.8" rx="8.2" ry="2.8" fill="#c8c8c8"/>
<use href="#brainL" transform="translate(81,532.8) scale(0.975)"/>
<polygon points="141.9,569.6 144.5,569.6 143.6,624.5 142.9,624.5" fill="#fff" stroke="#000" stroke-width="0.9"/>
<polygon points="206.9,561 211.2,561 209.3,636.4 208.4,636.4" fill="#fff" stroke="#000" stroke-width="0.9"/>
<line x1="208.9" y1="600.0" x2="208.9" y2="636.4" stroke="#000" stroke-width="1.3"/>
<line x1="143.4" y1="595.0" x2="143.3" y2="624.5" stroke="#000" stroke-width="1.3"/>
<ellipse cx="345.7" cy="634.9" rx="5.3" ry="3.9" fill="#c8c8c8"/>
<ellipse cx="410.1" cy="642" rx="8.7" ry="2.9" fill="#ee0000"/>
<use href="#brainL" transform="translate(284,531.5) scale(1.0)"/>
<ellipse cx="543.6" cy="632.3" rx="5.3" ry="4.2" fill="#1aaa4a"/>
<ellipse cx="610.1" cy="641.5" rx="8.7" ry="2.9" fill="#ee0000"/>
<use href="#brainL" transform="translate(484,531.5) scale(1.0)"/>
<defs><radialGradient id="gblob"><stop offset="0" stop-color="#ff2020"/><stop offset="0.75" stop-color="#ff1515"/><stop offset="1" stop-color="#c00" stop-opacity="0"/></radialGradient><radialGradient id="gspot"><stop offset="0" stop-color="#ff3030"/><stop offset="0.6" stop-color="#ff1a1a"/><stop offset="1" stop-color="#b00" stop-opacity="0"/></radialGradient><linearGradient id="gb1" x1="0" y1="0" x2="0" y2="1"><stop offset="0" stop-color="#8c0a0a"/><stop offset="0.55" stop-color="#9a0c0c"/><stop offset="1" stop-color="#a80e0e"/></linearGradient><linearGradient id="gb2" x1="0" y1="0" x2="0" y2="1"><stop offset="0" stop-color="#a80e0e"/><stop offset="0.3" stop-color="#9a0c0c"/><stop offset="0.4" stop-color="#5a0606"/><stop offset="0.75" stop-color="#740808"/><stop offset="1" stop-color="#b01010"/></linearGradient><linearGradient id="gcone" x1="0" y1="0" x2="1" y2="0"><stop offset="0" stop-color="#ffffff"/><stop offset="1" stop-color="#2a8cff"/></linearGradient></defs>
<defs><filter id="bl1" x="-20%" y="-20%" width="140%" height="140%"><feGaussianBlur stdDeviation="1.2"/></filter><filter id="bl2" x="-20%" y="-20%" width="140%" height="140%"><feGaussianBlur stdDeviation="2.5"/></filter><clipPath id="cb1"><rect x="6.8" y="143.4" width="148.7" height="105.2"/></clipPath><clipPath id="cb2"><rect x="6.8" y="255" width="149.4" height="105.9"/></clipPath></defs>
<defs><linearGradient id="gi1" x1="0" y1="0" x2="0" y2="1"><stop offset="0" stop-color="#8a0a0a"/><stop offset="0.5" stop-color="#820909"/><stop offset="1" stop-color="#760808"/></linearGradient></defs>
<rect x="6.8" y="143.4" width="148.7" height="105.2" fill="url(#gi1)"/>
<g clip-path="url(#cb1)">
<defs><radialGradient id="rg1"><stop offset="0" stop-color="#a20e0e"/><stop offset="1" stop-color="#a20e0e" stop-opacity="0"/></radialGradient></defs>
<ellipse cx="30" cy="222" rx="40" ry="26" fill="url(#rg1)" opacity="0.45"/>
<defs><radialGradient id="rgd"><stop offset="0" stop-color="#4a0404" stop-opacity="0.5"/><stop offset="1" stop-color="#4a0404" stop-opacity="0"/></radialGradient></defs>
<ellipse cx="92" cy="214" rx="16" ry="26" fill="url(#rgd)"/>
<ellipse cx="130" cy="170" rx="7" ry="6" fill="#6a0606" opacity="0.6" filter="url(#bl1)"/>
<ellipse cx="28" cy="188" rx="5" ry="6" fill="#6a0606" opacity="0.6" filter="url(#bl1)"/>
<path d="M50,250 C62,246 72,242 80,236 C86,231 90,228 95.5,225.5 C99,229 104,233 111.4,235.5 C120,238 128,239.5 135,239.3 C143,239 150,238.5 158,239 V252 H50 Z" fill="#1e0202" filter="url(#bl1)"/>
<polygon points="66.7,140 89,140 89.5,160 90.4,180 90.4,192.5 88.5,198.5 80,199 68,185 64.5,172 66,158" fill="#100000"/>
<path d="M49,175 C51,170 56,168 61,168.5 C65,169 67,172 68,176 C70,181 74,184 78,188 C81,192 80,197 76,198.5 C71,199.5 65,199 61,196.5 C56,195 50,192 48,187 C47,183 47.5,178 49,175 Z" fill="#ff1c1c" filter="url(#bl1)"/>
<ellipse cx="85" cy="173" rx="1.8" ry="3" fill="#e01010" filter="url(#bl1)"/>
<circle cx="66" cy="193" r="1.3" fill="#600"/>
</g>
<polyline points="62.8,149.8 62.8,197.8 87.1,197.8 89.1,145.9" fill="none" stroke="#eee" stroke-width="1.2" stroke-dasharray="4 2.4"/>
<text x="17.4" y="158.0" font-size="9.75" text-anchor="start" fill="#fff" stroke="#fff" stroke-width="0.2">MPA</text>
<text x="111.4" y="236.3" font-size="9.6" text-anchor="start" fill="#fff" stroke="#fff" stroke-width="0.2">600 µm</text>
<line x1="112.5" y1="239.8" x2="143.5" y2="239.8" stroke="#fff" stroke-width="1.8"/>
<rect x="6.8" y="255" width="149.4" height="105.9" fill="#a00c0c"/>
<defs><linearGradient id="gl2" x1="0" y1="0" x2="0" y2="1"><stop offset="0" stop-color="#520505"/><stop offset="0.45" stop-color="#720808"/><stop offset="0.75" stop-color="#8a0a0a"/><stop offset="1" stop-color="#a80c0c"/></linearGradient></defs>
<g clip-path="url(#cb2)">
<path d="M4,283.3 C15,283.6 22,284 27.6,284.4 C36,285.5 44,287 50.2,289 C57,291 62,293 66.1,295.7 C70,298.5 72.5,301.5 75.1,304.8 C77.5,307.5 79.5,309.8 81.9,311.6 C84,313.2 86,314.2 88.7,315 C92,316.3 96,317.5 100,318.3 C104,319.3 108,320.3 111.3,320.6 C116,320.5 121,318.5 124.9,316.1 C128.5,313.5 131.5,310.5 134,307 C137,302 139,296 140.7,291.2 C142.5,287 144.5,283.5 146.4,281 C149.5,277.5 153,275 158,272 V362 H4 Z" fill="url(#gl2)"/>
<ellipse cx="40" cy="335" rx="35" ry="14" fill="url(#rg1)" opacity="0.7"/>
<ellipse cx="108" cy="316" rx="32" ry="10" fill="#220202" filter="url(#bl2)"/>
<ellipse cx="133" cy="300" rx="6" ry="14" fill="#2a0303" filter="url(#bl2)"/>
<polygon points="83.1,256.8 121.5,256.8 128.3,304.3 91,310" fill="#360404" filter="url(#bl1)"/>
<path d="M4,283.3 C15,283.6 22,284 27.6,284.4 C36,285.5 44,287 50.2,289 C57,291 62,293 66.1,295.7 C70,298.5 72.5,301.5 75.1,304.8 C77.5,307.5 79.5,309.8 81.9,311.6 C84,313.2 86,314.2 88.7,315 C92,316.3 96,317.5 100,318.3 C104,319.3 108,320.3 111.3,320.6 C116,320.5 121,318.5 124.9,316.1 C128.5,313.5 131.5,310.5 134,307 C137,302 139,296 140.7,291.2 C142.5,287 144.5,283.5 146.4,281 C149.5,277.5 153,275 158,272" fill="none" stroke="#240202" stroke-width="2.6" filter="url(#bl1)"/>
<path d="M4,281.5 C10,282 20,282.5 27.6,283.2" fill="none" stroke="#100000" stroke-width="3"/>
<line x1="51" y1="325" x2="53" y2="362" stroke="#5a0505" stroke-width="1.2" opacity="0.35"/>
<ellipse cx="115.3" cy="263" rx="4.6" ry="7.5" fill="#ff2020" filter="url(#bl1)"/>
<ellipse cx="92.1" cy="269.5" rx="4" ry="3.4" fill="#ff2020" filter="url(#bl1)"/>
<ellipse cx="17.4" cy="279.4" rx="4" ry="1.8" fill="#ff2020" filter="url(#bl1)"/>
<ellipse cx="116" cy="275" rx="1.8" ry="1.8" fill="#c01010"/>
<ellipse cx="124" cy="297" rx="1.8" ry="2.5" fill="#c01010"/>
</g>
<polyline points="83.1,256.8 91,310 128.3,304.3 121.5,256.8" fill="none" stroke="#dde" stroke-width="1.2" stroke-dasharray="4 2.4"/>
<text x="16.3" y="271.2" font-size="9.75" text-anchor="start" fill="#fff" stroke="#fff" stroke-width="0.2">DVC</text>
<text x="111.4" y="353.1" font-size="9.6" text-anchor="start" fill="#fff" stroke="#fff" stroke-width="0.2">200 µm</text>
<line x1="118.1" y1="356.0" x2="140.8" y2="356.0" stroke="#fff" stroke-width="1.8"/>
<text x="18.9" y="413.9" font-size="9.3" text-anchor="start" fill="#000" stroke="#000" stroke-width="0.2">ChR2<tspan font-size="6" dy="-3.5">+</tspan><tspan dy="3.5">VLM-CA</tspan></text>
<text x="14.6" y="498.1" font-size="9.7" text-anchor="start" fill="#000" stroke="#000" stroke-width="0.2">DMV</text>
<text x="-0.6" y="508.6" font-size="10.9">recordings</text>
<g stroke="#e07a80" stroke-width="1.1" fill="none" stroke-linecap="round" stroke-linejoin="round"><path d="M34,431 L27,428 L20,426 M27,428 L24,424.5 L21,423 M24,424.5 L26,421.3 M22.5,426.8 L19.5,428.6"/><path d="M43.5,431 L50,428 L57.6,423.3 M50,428 L53,425.3 L55,421.8 M53.8,425.8 L58,426.6 M56,424 L57.8,421.3"/><path d="M38.7,429 L38.2,422.6"/><path d="M38.7,439 C39.8,446 39,452 39.2,458 C39.4,461 39.8,463 40,464"/><path d="M40,464 L33.5,469 L25.3,473.9 M33.5,469 L30.5,474.8 M29.3,471.6 L25.8,470 M40,464 L40.4,470 L40.8,476.5 M40,464 L46,469 L52,473.9 M46,469 L48,474.6 M49.5,471.8 L52.6,470.2"/></g>
<path d="M33,430 Q38.7,426.3 44.3,430 Q42.8,436 38.7,440.5 Q34.6,436 33,430 Z" fill="#dc6a70"/>
<circle cx="38.7" cy="433.6" r="0.9" fill="#903038"/>
<g stroke="#e0a048" stroke-width="1.3" fill="none" stroke-linecap="round" stroke-linejoin="round"><path d="M39.4,494 C38,500 36.5,506 38,512 C39.5,518 41.5,523 42.2,527.3"/><path d="M42.2,527.3 L33,530 L25.3,530.1 M33,530 L31,535 L28,538.5 M31,535 L34,540 M42.2,527.3 L47,530 L52,531 L60.5,529.4 M47,530 L46,536 L44,540.5 M52,531 L54,537 L56.5,541 M42.2,527.3 L40,534 L36,542.8 M40,534 L42,540 M28,530.2 L26,534"/></g>
<path d="M29.5,478.8 L47.8,478.8 Q44,486 40,495.5 L38.8,495.5 Q34,486 29.5,478.8 Z" fill="#e0a048"/>
<circle cx="37.7" cy="482.2" r="2.6" fill="#a8602e"/>
<circle cx="37.4" cy="482.4" r="1.2" fill="#8a4422"/>
<polygon points="43.6,485.2 45.2,484.2 52.8,495.2 51.2,496.2" fill="#c8d0e0" stroke="#9aa4b8" stroke-width="0.4"/>
<line x1="52.3" y1="494.0" x2="52.3" y2="498.5" stroke="#9aa4b8" stroke-width="0.7"/>
<defs><linearGradient id="gcone2" x1="0" y1="0" x2="1" y2="0"><stop offset="0" stop-color="#d8f8ff"/><stop offset="0.5" stop-color="#7ad8ff"/><stop offset="1" stop-color="#2a8cff"/></linearGradient></defs>
<polygon points="52.7,474.4 52.7,486 73.8,480.2" fill="url(#gcone2)"/>
</svg></body></html>
